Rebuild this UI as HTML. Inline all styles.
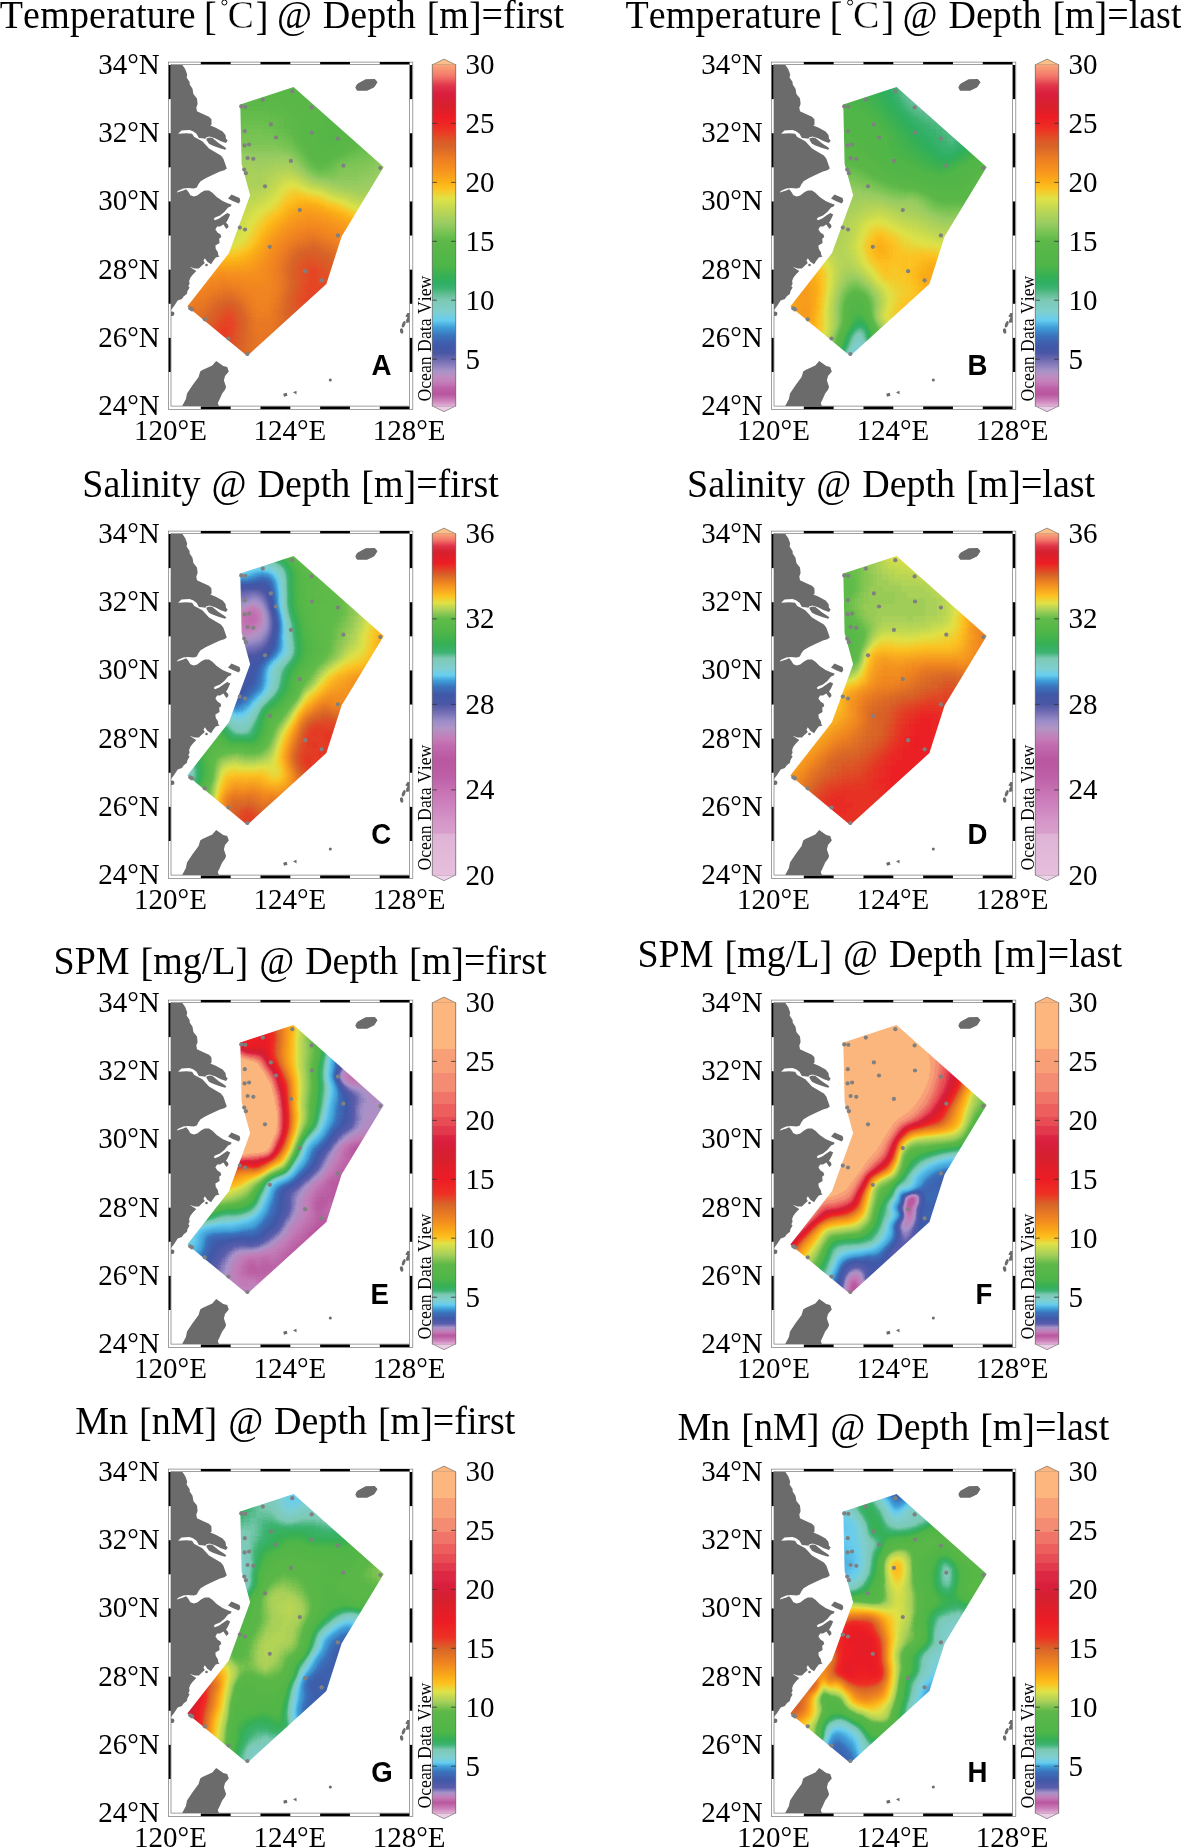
<!DOCTYPE html>
<html><head><meta charset="utf-8"><title>Figure</title>
<style>html,body{margin:0;padding:0;background:#fff}svg{display:block;opacity:.999}text{font-family:"Liberation Serif",serif;fill:#000;font-kerning:none}.b{font-family:"Liberation Sans",sans-serif;font-weight:bold}</style></head><body>
<svg width="1181" height="1847" viewBox="0 0 1181 1847">
<defs>
<linearGradient id="cbT" x1="0" y1="0" x2="0" y2="1"><stop offset="0.0000" stop-color="#f9a87a"/><stop offset="0.0345" stop-color="#f3766a"/><stop offset="0.0621" stop-color="#e0354a"/><stop offset="0.0862" stop-color="#d91e3e"/><stop offset="0.1207" stop-color="#d7202c"/><stop offset="0.1552" stop-color="#ed1c24"/><stop offset="0.1897" stop-color="#ee3124"/><stop offset="0.2241" stop-color="#dc5a26"/><stop offset="0.2414" stop-color="#d86428"/><stop offset="0.2759" stop-color="#ee7e22"/><stop offset="0.3103" stop-color="#f7931e"/><stop offset="0.3448" stop-color="#fbb017"/><stop offset="0.3621" stop-color="#fdc221"/><stop offset="0.3931" stop-color="#dfe247"/><stop offset="0.4310" stop-color="#b8d556"/><stop offset="0.4655" stop-color="#98cc62"/><stop offset="0.5000" stop-color="#6cc04f"/><stop offset="0.5172" stop-color="#5cb848"/><stop offset="0.5862" stop-color="#4fb648"/><stop offset="0.6207" stop-color="#35b055"/><stop offset="0.6379" stop-color="#2eaf63"/><stop offset="0.6552" stop-color="#3db372"/><stop offset="0.6724" stop-color="#62bd93"/><stop offset="0.6897" stop-color="#7cc9b4"/><stop offset="0.7241" stop-color="#7fcfd0"/><stop offset="0.7483" stop-color="#66cdf0"/><stop offset="0.7690" stop-color="#3f9fd8"/><stop offset="0.7931" stop-color="#3a74bd"/><stop offset="0.8103" stop-color="#3f62b0"/><stop offset="0.8276" stop-color="#4058a8"/><stop offset="0.8448" stop-color="#4a57a5"/><stop offset="0.8621" stop-color="#6a68b0"/><stop offset="0.8793" stop-color="#8a7dbd"/><stop offset="0.8966" stop-color="#a893c8"/><stop offset="0.9138" stop-color="#c08cc0"/><stop offset="0.9310" stop-color="#c47cb8"/><stop offset="0.9483" stop-color="#bd5fa8"/><stop offset="0.9655" stop-color="#b9579f"/><stop offset="0.9828" stop-color="#cc80ba"/><stop offset="1.0000" stop-color="#e0b0d5"/></linearGradient>
<linearGradient id="cbS" x1="0" y1="0" x2="0" y2="1"><stop offset="0.0000" stop-color="#f9a87a"/><stop offset="0.0190" stop-color="#f3766a"/><stop offset="0.0360" stop-color="#e0354a"/><stop offset="0.0540" stop-color="#d5202e"/><stop offset="0.0860" stop-color="#ed1c24"/><stop offset="0.1100" stop-color="#e04a25"/><stop offset="0.1220" stop-color="#d86428"/><stop offset="0.1480" stop-color="#f28a1f"/><stop offset="0.1830" stop-color="#fdc221"/><stop offset="0.2040" stop-color="#dfe247"/><stop offset="0.2240" stop-color="#a8d05a"/><stop offset="0.2480" stop-color="#62bc4a"/><stop offset="0.2890" stop-color="#4fb648"/><stop offset="0.3240" stop-color="#35b055"/><stop offset="0.3480" stop-color="#3db372"/><stop offset="0.3650" stop-color="#7cc9b4"/><stop offset="0.3950" stop-color="#7fcfd0"/><stop offset="0.4150" stop-color="#66cdf0"/><stop offset="0.4300" stop-color="#3f9fd8"/><stop offset="0.4480" stop-color="#3a74bd"/><stop offset="0.4710" stop-color="#4058a8"/><stop offset="0.4990" stop-color="#4a57a5"/><stop offset="0.5180" stop-color="#6a68b0"/><stop offset="0.5480" stop-color="#9a8cc8"/><stop offset="0.5710" stop-color="#b294c4"/><stop offset="0.6000" stop-color="#c47cb8"/><stop offset="0.6240" stop-color="#c068ae"/><stop offset="0.6650" stop-color="#b9579f"/><stop offset="0.7120" stop-color="#bd5fa8"/><stop offset="0.7500" stop-color="#c770b3"/><stop offset="0.7940" stop-color="#cd82bd"/><stop offset="0.8410" stop-color="#d596c8"/><stop offset="0.8770" stop-color="#d89fcc"/><stop offset="0.8800" stop-color="#dfb3d6"/><stop offset="1.0000" stop-color="#e6bfdd"/></linearGradient>
<linearGradient id="cbP" x1="0" y1="0" x2="0" y2="1"><stop offset="0.0000" stop-color="#fcb67e"/><stop offset="0.1370" stop-color="#fcb67e"/><stop offset="0.1370" stop-color="#f89f78"/><stop offset="0.2070" stop-color="#f89f78"/><stop offset="0.2070" stop-color="#f48c73"/><stop offset="0.2630" stop-color="#f48c73"/><stop offset="0.2630" stop-color="#f07468"/><stop offset="0.2980" stop-color="#f07468"/><stop offset="0.2980" stop-color="#ec5f5d"/><stop offset="0.3360" stop-color="#ec5f5d"/><stop offset="0.3360" stop-color="#e84d55"/><stop offset="0.3600" stop-color="#e84d55"/><stop offset="0.3600" stop-color="#e23a4c"/><stop offset="0.3860" stop-color="#e23a4c"/><stop offset="0.3870" stop-color="#dd2844"/><stop offset="0.4100" stop-color="#d91e3e"/><stop offset="0.4500" stop-color="#d5202e"/><stop offset="0.5170" stop-color="#ed1c24"/><stop offset="0.5600" stop-color="#ee3124"/><stop offset="0.5900" stop-color="#d86428"/><stop offset="0.6380" stop-color="#f28a1f"/><stop offset="0.6730" stop-color="#fbb017"/><stop offset="0.6890" stop-color="#fdc221"/><stop offset="0.7050" stop-color="#dfe247"/><stop offset="0.7370" stop-color="#a8d05a"/><stop offset="0.7670" stop-color="#5cb848"/><stop offset="0.8080" stop-color="#4fb648"/><stop offset="0.8310" stop-color="#35b055"/><stop offset="0.8430" stop-color="#3db372"/><stop offset="0.8550" stop-color="#7cc9b4"/><stop offset="0.8720" stop-color="#7fcfd0"/><stop offset="0.8840" stop-color="#66cdf0"/><stop offset="0.8960" stop-color="#3f9fd8"/><stop offset="0.9070" stop-color="#3a74bd"/><stop offset="0.9250" stop-color="#4058a8"/><stop offset="0.9400" stop-color="#5a5cac"/><stop offset="0.9510" stop-color="#a893c8"/><stop offset="0.9630" stop-color="#c47cb8"/><stop offset="0.9750" stop-color="#b9579f"/><stop offset="0.9890" stop-color="#cc80ba"/><stop offset="1.0000" stop-color="#e0b0d5"/></linearGradient>
<linearGradient id="cbM" x1="0" y1="0" x2="0" y2="1"><stop offset="0.0000" stop-color="#fcb67e"/><stop offset="0.0780" stop-color="#fcb67e"/><stop offset="0.0780" stop-color="#f89f78"/><stop offset="0.1370" stop-color="#f89f78"/><stop offset="0.1370" stop-color="#f48c73"/><stop offset="0.1780" stop-color="#f48c73"/><stop offset="0.1780" stop-color="#f07468"/><stop offset="0.2130" stop-color="#f07468"/><stop offset="0.2130" stop-color="#ec5f5d"/><stop offset="0.2420" stop-color="#ec5f5d"/><stop offset="0.2420" stop-color="#e84d55"/><stop offset="0.2680" stop-color="#e84d55"/><stop offset="0.2680" stop-color="#e23a4c"/><stop offset="0.2920" stop-color="#e23a4c"/><stop offset="0.2920" stop-color="#dd2844"/><stop offset="0.3150" stop-color="#dd2844"/><stop offset="0.3300" stop-color="#d91e3e"/><stop offset="0.3740" stop-color="#d5202e"/><stop offset="0.4380" stop-color="#ed1c24"/><stop offset="0.4850" stop-color="#ee3124"/><stop offset="0.5180" stop-color="#d86428"/><stop offset="0.5670" stop-color="#f28a1f"/><stop offset="0.6030" stop-color="#fbb017"/><stop offset="0.6200" stop-color="#fdc221"/><stop offset="0.6440" stop-color="#dfe247"/><stop offset="0.6730" stop-color="#a8d05a"/><stop offset="0.7020" stop-color="#5cb848"/><stop offset="0.7610" stop-color="#4fb648"/><stop offset="0.7840" stop-color="#35b055"/><stop offset="0.7990" stop-color="#3db372"/><stop offset="0.8140" stop-color="#7cc9b4"/><stop offset="0.8370" stop-color="#7fcfd0"/><stop offset="0.8520" stop-color="#66cdf0"/><stop offset="0.8630" stop-color="#3f9fd8"/><stop offset="0.8780" stop-color="#3a74bd"/><stop offset="0.9020" stop-color="#4058a8"/><stop offset="0.9250" stop-color="#5a5cac"/><stop offset="0.9400" stop-color="#a893c8"/><stop offset="0.9540" stop-color="#c47cb8"/><stop offset="0.9690" stop-color="#b9579f"/><stop offset="0.9860" stop-color="#cc80ba"/><stop offset="1.0000" stop-color="#e0b0d5"/></linearGradient>
<clipPath id="mapclip"><rect x="171.0" y="64.6" width="238.60" height="341.50"/></clipPath>
<clipPath id="dclip"><path d="M240.3,104.5 L293.6,87.1 L383.7,167.0 L341.6,236.5 L326.4,284.1 L247.2,356.0 L187.3,306.5 L228.9,253.2 L250.1,195.2 L241.6,163.9Z" /></clipPath>
<filter id="b2" x="-30%" y="-30%" width="160%" height="160%"><feGaussianBlur stdDeviation="2"/></filter>
<filter id="b3" x="-30%" y="-30%" width="160%" height="160%"><feGaussianBlur stdDeviation="3"/></filter>
<filter id="b4" x="-30%" y="-30%" width="160%" height="160%"><feGaussianBlur stdDeviation="4"/></filter>
<filter id="b5" x="-30%" y="-30%" width="160%" height="160%"><feGaussianBlur stdDeviation="5"/></filter>
<filter id="b6" x="-30%" y="-30%" width="160%" height="160%"><feGaussianBlur stdDeviation="6"/></filter>
<filter id="b8" x="-30%" y="-30%" width="160%" height="160%"><feGaussianBlur stdDeviation="8"/></filter>
<filter id="b10" x="-30%" y="-30%" width="160%" height="160%"><feGaussianBlur stdDeviation="10"/></filter>
<filter id="b12" x="-30%" y="-30%" width="160%" height="160%"><feGaussianBlur stdDeviation="12"/></filter>
<filter id="fT" color-interpolation-filters="sRGB" filterUnits="userSpaceOnUse" x="160" y="55" width="260" height="360"><feGaussianBlur stdDeviation="3.2"/><feComponentTransfer><feFuncR type="table" tableValues="0.878 0.856 0.833 0.81 0.788 0.766 0.745 0.726 0.731 0.735 0.74 0.746 0.754 0.762 0.768 0.763 0.759 0.754 0.732 0.705 0.678 0.648 0.614 0.58 0.546 0.51 0.473 0.437 0.401 0.364 0.328 0.291 0.279 0.268 0.256 0.25 0.249 0.248 0.247 0.241 0.235 0.23 0.23 0.234 0.238 0.242 0.246 0.276 0.313 0.35 0.387 0.413 0.434 0.454 0.474 0.495 0.497 0.495 0.493 0.492 0.49 0.488 0.486 0.459 0.429 0.4 0.364 0.322 0.28 0.239 0.222 0.205 0.187 0.185 0.193 0.201 0.21 0.225 0.239 0.254 0.269 0.284 0.299 0.311 0.314 0.318 0.322 0.325 0.329 0.333 0.337 0.34 0.344 0.348 0.351 0.355 0.359 0.369 0.387 0.405 0.424 0.449 0.474 0.499 0.524 0.549 0.574 0.598 0.616 0.634 0.653 0.671 0.689 0.707 0.726 0.746 0.766 0.786 0.806 0.827 0.847 0.867 0.886 0.905 0.924 0.943 0.962 0.981 0.991 0.989 0.987 0.984 0.982 0.98 0.978 0.975 0.973 0.971 0.968 0.963 0.958 0.953 0.948 0.943 0.938 0.931 0.919 0.906 0.894 0.881 0.869 0.856 0.848 0.853 0.857 0.862 0.871 0.881 0.892 0.902 0.912 0.922 0.933 0.933 0.932 0.932 0.931 0.931 0.93 0.929 0.916 0.904 0.891 0.879 0.866 0.854 0.843 0.844 0.846 0.847 0.848 0.849 0.85 0.852 0.858 0.864 0.869 0.875 0.884 0.898 0.911 0.925 0.938 0.952 0.956 0.959 0.963 0.966 0.97 0.973 0.976"/><feFuncG type="table" tableValues="0.69 0.636 0.581 0.526 0.476 0.43 0.383 0.342 0.351 0.36 0.369 0.394 0.427 0.46 0.49 0.508 0.526 0.545 0.555 0.563 0.571 0.569 0.544 0.519 0.494 0.47 0.446 0.422 0.4 0.381 0.361 0.342 0.342 0.343 0.345 0.351 0.362 0.374 0.386 0.406 0.427 0.447 0.477 0.512 0.546 0.581 0.616 0.658 0.702 0.745 0.789 0.805 0.807 0.808 0.81 0.811 0.809 0.806 0.802 0.799 0.795 0.792 0.788 0.776 0.762 0.748 0.736 0.724 0.713 0.702 0.697 0.693 0.688 0.687 0.688 0.689 0.691 0.694 0.697 0.701 0.704 0.708 0.711 0.714 0.714 0.715 0.716 0.716 0.717 0.717 0.718 0.718 0.719 0.72 0.72 0.721 0.721 0.726 0.735 0.744 0.753 0.76 0.767 0.773 0.78 0.787 0.794 0.801 0.806 0.811 0.816 0.821 0.826 0.831 0.837 0.843 0.85 0.857 0.864 0.87 0.877 0.884 0.874 0.854 0.833 0.813 0.793 0.773 0.752 0.732 0.711 0.691 0.674 0.658 0.641 0.625 0.608 0.592 0.576 0.564 0.552 0.54 0.528 0.516 0.504 0.492 0.477 0.462 0.447 0.432 0.418 0.403 0.389 0.378 0.366 0.355 0.334 0.31 0.287 0.264 0.24 0.217 0.194 0.181 0.169 0.157 0.145 0.133 0.121 0.11 0.112 0.114 0.117 0.119 0.121 0.124 0.125 0.124 0.123 0.122 0.121 0.12 0.119 0.122 0.141 0.16 0.178 0.197 0.227 0.273 0.319 0.366 0.412 0.458 0.488 0.517 0.545 0.574 0.602 0.63 0.659"/><feFuncB type="table" tableValues="0.835 0.805 0.774 0.743 0.712 0.682 0.651 0.625 0.635 0.645 0.655 0.671 0.689 0.707 0.723 0.733 0.742 0.751 0.76 0.769 0.778 0.78 0.768 0.755 0.743 0.728 0.714 0.699 0.685 0.673 0.66 0.647 0.65 0.654 0.657 0.664 0.673 0.682 0.691 0.706 0.721 0.736 0.755 0.777 0.799 0.821 0.843 0.865 0.888 0.911 0.933 0.924 0.898 0.872 0.846 0.82 0.803 0.787 0.771 0.755 0.739 0.723 0.707 0.671 0.633 0.596 0.558 0.521 0.483 0.446 0.429 0.412 0.395 0.379 0.363 0.347 0.332 0.325 0.318 0.31 0.303 0.295 0.288 0.282 0.282 0.282 0.282 0.282 0.282 0.282 0.282 0.282 0.282 0.282 0.282 0.282 0.282 0.286 0.294 0.302 0.31 0.321 0.331 0.342 0.353 0.364 0.375 0.384 0.377 0.37 0.363 0.356 0.349 0.343 0.336 0.328 0.32 0.312 0.305 0.297 0.289 0.281 0.264 0.24 0.216 0.192 0.167 0.143 0.125 0.113 0.102 0.091 0.094 0.098 0.102 0.106 0.11 0.114 0.118 0.12 0.122 0.125 0.127 0.129 0.131 0.134 0.137 0.141 0.144 0.148 0.151 0.154 0.156 0.154 0.152 0.149 0.148 0.147 0.146 0.145 0.144 0.142 0.141 0.141 0.141 0.141 0.141 0.141 0.141 0.141 0.146 0.15 0.155 0.16 0.164 0.169 0.174 0.184 0.194 0.205 0.215 0.225 0.235 0.245 0.255 0.265 0.275 0.284 0.3 0.322 0.345 0.368 0.391 0.413 0.424 0.433 0.442 0.451 0.46 0.469 0.478"/></feComponentTransfer></filter><filter id="fS" color-interpolation-filters="sRGB" filterUnits="userSpaceOnUse" x="160" y="55" width="260" height="360"><feGaussianBlur stdDeviation="3.2"/><feComponentTransfer><feFuncR type="table" tableValues="0.78 0.777 0.773 0.769 0.765 0.761 0.757 0.753 0.749 0.746 0.742 0.74 0.739 0.738 0.736 0.735 0.734 0.733 0.731 0.73 0.729 0.728 0.726 0.726 0.729 0.731 0.734 0.736 0.739 0.741 0.744 0.746 0.749 0.751 0.754 0.756 0.759 0.761 0.764 0.766 0.769 0.759 0.75 0.741 0.732 0.723 0.714 0.705 0.694 0.679 0.663 0.648 0.633 0.617 0.601 0.577 0.554 0.53 0.507 0.483 0.46 0.436 0.412 0.388 0.363 0.338 0.313 0.29 0.285 0.279 0.274 0.269 0.264 0.258 0.253 0.249 0.245 0.241 0.237 0.233 0.229 0.229 0.233 0.238 0.242 0.246 0.273 0.311 0.349 0.387 0.412 0.431 0.449 0.467 0.486 0.498 0.496 0.495 0.493 0.492 0.49 0.489 0.487 0.468 0.414 0.359 0.305 0.25 0.235 0.23 0.225 0.221 0.216 0.211 0.212 0.223 0.234 0.245 0.256 0.267 0.278 0.289 0.3 0.31 0.317 0.324 0.331 0.338 0.344 0.351 0.358 0.365 0.372 0.378 0.39 0.433 0.476 0.519 0.562 0.604 0.647 0.688 0.729 0.769 0.81 0.85 0.883 0.904 0.925 0.946 0.967 0.988 0.988 0.984 0.979 0.975 0.97 0.965 0.961 0.956 0.951 0.942 0.927 0.913 0.898 0.883 0.869 0.854 0.852 0.862 0.872 0.881 0.889 0.897 0.905 0.913 0.921 0.929 0.919 0.908 0.897 0.886 0.875 0.864 0.853 0.842 0.839 0.848 0.857 0.866 0.875 0.888 0.905 0.921 0.938 0.953 0.958 0.963 0.967 0.972 0.976"/><feFuncG type="table" tableValues="0.439 0.433 0.426 0.419 0.413 0.406 0.4 0.393 0.387 0.38 0.373 0.37 0.368 0.365 0.363 0.36 0.358 0.355 0.353 0.35 0.348 0.345 0.343 0.343 0.349 0.355 0.362 0.368 0.374 0.38 0.386 0.392 0.398 0.404 0.413 0.425 0.437 0.45 0.462 0.474 0.486 0.498 0.511 0.523 0.535 0.547 0.559 0.571 0.579 0.574 0.569 0.564 0.559 0.553 0.547 0.529 0.511 0.494 0.476 0.458 0.441 0.423 0.406 0.393 0.38 0.367 0.353 0.341 0.342 0.342 0.343 0.343 0.344 0.344 0.345 0.356 0.374 0.392 0.41 0.427 0.445 0.471 0.506 0.542 0.577 0.612 0.654 0.699 0.744 0.789 0.805 0.806 0.808 0.809 0.811 0.811 0.808 0.805 0.802 0.799 0.796 0.793 0.79 0.782 0.763 0.744 0.725 0.706 0.7 0.699 0.697 0.695 0.693 0.691 0.691 0.694 0.696 0.699 0.701 0.704 0.706 0.709 0.711 0.714 0.716 0.718 0.72 0.722 0.725 0.727 0.729 0.731 0.733 0.735 0.739 0.751 0.763 0.776 0.788 0.8 0.812 0.825 0.839 0.852 0.865 0.878 0.877 0.855 0.832 0.81 0.788 0.765 0.742 0.718 0.695 0.671 0.648 0.624 0.601 0.577 0.554 0.531 0.51 0.488 0.467 0.445 0.424 0.402 0.375 0.343 0.311 0.281 0.253 0.224 0.196 0.168 0.14 0.112 0.112 0.113 0.115 0.117 0.119 0.121 0.123 0.124 0.132 0.15 0.167 0.184 0.201 0.242 0.298 0.354 0.41 0.465 0.504 0.543 0.581 0.62 0.659"/><feFuncB type="table" tableValues="0.702 0.698 0.693 0.689 0.685 0.681 0.676 0.672 0.668 0.664 0.659 0.656 0.654 0.651 0.648 0.645 0.642 0.639 0.637 0.634 0.631 0.628 0.625 0.625 0.631 0.636 0.641 0.647 0.652 0.658 0.663 0.668 0.674 0.679 0.685 0.691 0.697 0.703 0.709 0.715 0.722 0.728 0.734 0.74 0.746 0.752 0.758 0.764 0.769 0.772 0.774 0.777 0.78 0.782 0.783 0.771 0.759 0.747 0.736 0.724 0.712 0.7 0.689 0.681 0.672 0.664 0.655 0.647 0.649 0.65 0.652 0.653 0.655 0.657 0.658 0.667 0.68 0.694 0.707 0.721 0.734 0.751 0.774 0.796 0.818 0.84 0.863 0.886 0.91 0.933 0.925 0.902 0.878 0.855 0.831 0.811 0.797 0.784 0.77 0.756 0.742 0.729 0.715 0.687 0.63 0.573 0.516 0.458 0.433 0.415 0.397 0.38 0.362 0.344 0.331 0.326 0.32 0.315 0.309 0.304 0.298 0.293 0.287 0.282 0.283 0.284 0.285 0.285 0.286 0.287 0.287 0.288 0.289 0.29 0.292 0.301 0.311 0.321 0.331 0.341 0.35 0.343 0.329 0.315 0.301 0.287 0.268 0.241 0.215 0.188 0.161 0.135 0.129 0.128 0.127 0.126 0.125 0.125 0.124 0.123 0.122 0.124 0.129 0.134 0.139 0.144 0.149 0.154 0.155 0.151 0.148 0.145 0.144 0.144 0.143 0.142 0.142 0.141 0.145 0.15 0.155 0.159 0.164 0.168 0.173 0.178 0.19 0.212 0.235 0.258 0.281 0.307 0.334 0.362 0.39 0.417 0.429 0.441 0.454 0.466 0.478"/></feComponentTransfer></filter><filter id="fP" color-interpolation-filters="sRGB" filterUnits="userSpaceOnUse" x="160" y="55" width="260" height="360"><feGaussianBlur stdDeviation="3.2"/><feComponentTransfer><feFuncR type="table" tableValues="0.878 0.862 0.846 0.83 0.814 0.799 0.787 0.775 0.763 0.751 0.739 0.727 0.732 0.74 0.748 0.756 0.763 0.762 0.742 0.723 0.703 0.683 0.663 0.608 0.543 0.478 0.413 0.352 0.336 0.32 0.304 0.288 0.272 0.256 0.249 0.245 0.242 0.238 0.235 0.232 0.228 0.231 0.236 0.24 0.245 0.255 0.268 0.282 0.296 0.31 0.324 0.337 0.351 0.365 0.379 0.392 0.409 0.431 0.452 0.473 0.495 0.497 0.495 0.493 0.491 0.489 0.487 0.471 0.427 0.383 0.338 0.294 0.249 0.235 0.229 0.224 0.218 0.212 0.214 0.239 0.265 0.29 0.311 0.319 0.326 0.333 0.34 0.347 0.354 0.364 0.391 0.417 0.444 0.471 0.498 0.525 0.552 0.578 0.605 0.632 0.659 0.678 0.698 0.717 0.736 0.756 0.775 0.795 0.814 0.834 0.853 0.872 0.893 0.915 0.936 0.957 0.978 0.992 0.99 0.989 0.987 0.986 0.985 0.982 0.979 0.975 0.972 0.969 0.966 0.963 0.96 0.956 0.953 0.95 0.943 0.934 0.925 0.915 0.906 0.897 0.888 0.879 0.869 0.86 0.851 0.858 0.876 0.895 0.914 0.933 0.933 0.932 0.932 0.931 0.93 0.93 0.923 0.91 0.896 0.883 0.869 0.856 0.842 0.837 0.841 0.845 0.848 0.853 0.86 0.869 0.886 0.886 0.91 0.91 0.91 0.925 0.925 0.925 0.941 0.941 0.941 0.957 0.957 0.957 0.957 0.973 0.973 0.973 0.973 0.988 0.988 0.988 0.988 0.988 0.988 0.988 0.988 0.988 0.988 0.988 0.988"/><feFuncG type="table" tableValues="0.69 0.652 0.613 0.575 0.536 0.499 0.473 0.447 0.422 0.396 0.37 0.344 0.364 0.391 0.417 0.443 0.469 0.492 0.508 0.524 0.54 0.557 0.573 0.541 0.495 0.449 0.403 0.361 0.358 0.356 0.353 0.351 0.348 0.346 0.356 0.372 0.388 0.403 0.419 0.435 0.451 0.486 0.526 0.566 0.606 0.633 0.649 0.665 0.681 0.697 0.714 0.73 0.746 0.762 0.779 0.795 0.805 0.806 0.808 0.81 0.812 0.809 0.805 0.801 0.798 0.794 0.791 0.783 0.768 0.752 0.736 0.721 0.705 0.7 0.698 0.696 0.694 0.692 0.692 0.697 0.703 0.709 0.714 0.715 0.716 0.717 0.718 0.719 0.721 0.723 0.731 0.739 0.748 0.756 0.765 0.773 0.782 0.79 0.799 0.807 0.816 0.822 0.828 0.835 0.841 0.847 0.854 0.86 0.867 0.873 0.879 0.886 0.866 0.844 0.821 0.798 0.776 0.757 0.744 0.731 0.718 0.706 0.693 0.68 0.666 0.653 0.64 0.626 0.613 0.599 0.586 0.572 0.559 0.546 0.532 0.519 0.505 0.492 0.479 0.465 0.452 0.438 0.425 0.412 0.398 0.368 0.324 0.28 0.236 0.193 0.18 0.167 0.155 0.142 0.129 0.117 0.111 0.113 0.115 0.118 0.12 0.122 0.124 0.125 0.123 0.121 0.119 0.123 0.14 0.164 0.227 0.227 0.302 0.302 0.302 0.373 0.373 0.373 0.455 0.455 0.455 0.549 0.549 0.549 0.549 0.624 0.624 0.624 0.624 0.714 0.714 0.714 0.714 0.714 0.714 0.714 0.714 0.714 0.714 0.714 0.714"/><feFuncB type="table" tableValues="0.835 0.814 0.792 0.77 0.749 0.728 0.711 0.693 0.676 0.659 0.642 0.625 0.639 0.657 0.675 0.692 0.71 0.725 0.737 0.748 0.759 0.771 0.782 0.766 0.743 0.719 0.696 0.674 0.672 0.669 0.667 0.665 0.662 0.66 0.667 0.679 0.691 0.703 0.715 0.726 0.738 0.761 0.786 0.811 0.836 0.852 0.86 0.869 0.877 0.886 0.894 0.903 0.911 0.92 0.928 0.936 0.929 0.902 0.874 0.847 0.82 0.801 0.785 0.768 0.751 0.734 0.717 0.69 0.644 0.597 0.551 0.504 0.457 0.431 0.411 0.39 0.37 0.349 0.33 0.318 0.305 0.292 0.282 0.282 0.282 0.282 0.282 0.282 0.282 0.283 0.289 0.296 0.302 0.308 0.315 0.321 0.328 0.334 0.34 0.347 0.353 0.346 0.34 0.333 0.326 0.319 0.313 0.306 0.299 0.293 0.286 0.279 0.255 0.228 0.201 0.174 0.147 0.127 0.12 0.113 0.106 0.099 0.092 0.092 0.095 0.098 0.101 0.104 0.107 0.109 0.112 0.115 0.118 0.121 0.124 0.127 0.13 0.133 0.136 0.14 0.143 0.146 0.149 0.152 0.155 0.155 0.152 0.148 0.145 0.141 0.141 0.141 0.141 0.141 0.141 0.141 0.144 0.149 0.155 0.161 0.166 0.172 0.178 0.188 0.203 0.218 0.233 0.247 0.257 0.27 0.298 0.298 0.333 0.333 0.333 0.365 0.365 0.365 0.408 0.408 0.408 0.451 0.451 0.451 0.451 0.471 0.471 0.471 0.471 0.494 0.494 0.494 0.494 0.494 0.494 0.494 0.494 0.494 0.494 0.494 0.494"/></feComponentTransfer></filter><filter id="fM" color-interpolation-filters="sRGB" filterUnits="userSpaceOnUse" x="160" y="55" width="260" height="360"><feGaussianBlur stdDeviation="3.2"/><feComponentTransfer><feFuncR type="table" tableValues="0.878 0.863 0.847 0.832 0.816 0.8 0.788 0.776 0.764 0.751 0.739 0.727 0.732 0.74 0.747 0.755 0.762 0.766 0.745 0.725 0.704 0.684 0.663 0.605 0.535 0.465 0.395 0.347 0.332 0.317 0.302 0.286 0.271 0.256 0.249 0.246 0.243 0.241 0.238 0.235 0.232 0.229 0.229 0.232 0.236 0.239 0.241 0.243 0.245 0.252 0.275 0.297 0.32 0.342 0.365 0.387 0.408 0.425 0.443 0.461 0.478 0.496 0.497 0.495 0.494 0.493 0.491 0.49 0.488 0.486 0.43 0.374 0.318 0.261 0.235 0.228 0.221 0.213 0.213 0.234 0.256 0.277 0.299 0.312 0.316 0.32 0.324 0.329 0.333 0.337 0.342 0.346 0.35 0.355 0.359 0.395 0.448 0.501 0.553 0.606 0.659 0.678 0.698 0.717 0.736 0.756 0.775 0.795 0.814 0.834 0.853 0.872 0.887 0.901 0.915 0.929 0.944 0.958 0.972 0.986 0.991 0.99 0.989 0.987 0.985 0.982 0.978 0.974 0.97 0.966 0.962 0.958 0.954 0.95 0.943 0.934 0.925 0.915 0.906 0.897 0.888 0.879 0.869 0.86 0.851 0.858 0.876 0.895 0.914 0.933 0.933 0.932 0.932 0.931 0.93 0.93 0.923 0.909 0.894 0.88 0.866 0.852 0.837 0.838 0.842 0.845 0.849 0.854 0.865 0.867 0.867 0.886 0.886 0.91 0.91 0.91 0.925 0.925 0.925 0.941 0.941 0.941 0.957 0.957 0.957 0.973 0.973 0.973 0.973 0.988 0.988 0.988 0.988 0.988 0.988 0.988 0.988 0.988 0.988 0.988 0.988"/><feFuncG type="table" tableValues="0.69 0.653 0.615 0.578 0.54 0.503 0.476 0.45 0.423 0.397 0.37 0.344 0.364 0.389 0.414 0.439 0.465 0.489 0.505 0.522 0.539 0.556 0.573 0.538 0.489 0.44 0.391 0.36 0.358 0.355 0.353 0.351 0.348 0.346 0.354 0.367 0.38 0.393 0.407 0.42 0.433 0.446 0.466 0.498 0.53 0.555 0.573 0.591 0.61 0.63 0.656 0.683 0.709 0.736 0.763 0.789 0.805 0.806 0.807 0.809 0.81 0.812 0.809 0.807 0.804 0.801 0.798 0.795 0.792 0.788 0.769 0.749 0.729 0.71 0.7 0.698 0.695 0.692 0.691 0.696 0.701 0.706 0.711 0.714 0.715 0.715 0.716 0.717 0.717 0.718 0.719 0.719 0.72 0.721 0.721 0.732 0.749 0.766 0.782 0.799 0.816 0.822 0.828 0.835 0.841 0.847 0.854 0.86 0.867 0.873 0.879 0.886 0.873 0.858 0.843 0.828 0.813 0.798 0.783 0.767 0.754 0.742 0.73 0.714 0.698 0.681 0.664 0.647 0.631 0.614 0.597 0.58 0.564 0.547 0.532 0.519 0.505 0.492 0.479 0.465 0.452 0.438 0.425 0.412 0.398 0.368 0.324 0.281 0.237 0.193 0.18 0.167 0.155 0.142 0.129 0.117 0.111 0.113 0.116 0.118 0.12 0.123 0.125 0.124 0.122 0.121 0.119 0.126 0.152 0.157 0.157 0.227 0.227 0.302 0.302 0.302 0.373 0.373 0.373 0.455 0.455 0.455 0.549 0.549 0.549 0.624 0.624 0.624 0.624 0.714 0.714 0.714 0.714 0.714 0.714 0.714 0.714 0.714 0.714 0.714 0.714"/><feFuncB type="table" tableValues="0.835 0.814 0.793 0.772 0.751 0.73 0.712 0.695 0.678 0.66 0.643 0.625 0.639 0.656 0.673 0.69 0.707 0.723 0.735 0.747 0.758 0.77 0.782 0.765 0.74 0.715 0.69 0.674 0.671 0.669 0.667 0.664 0.662 0.66 0.665 0.675 0.685 0.695 0.705 0.715 0.725 0.735 0.748 0.768 0.789 0.804 0.815 0.827 0.838 0.85 0.864 0.878 0.892 0.906 0.92 0.933 0.931 0.909 0.886 0.863 0.841 0.818 0.804 0.791 0.778 0.766 0.753 0.739 0.722 0.706 0.647 0.588 0.529 0.47 0.431 0.405 0.379 0.354 0.331 0.32 0.309 0.299 0.288 0.282 0.282 0.282 0.282 0.282 0.282 0.282 0.282 0.282 0.282 0.282 0.282 0.291 0.303 0.315 0.328 0.34 0.353 0.346 0.34 0.333 0.326 0.319 0.313 0.306 0.299 0.293 0.286 0.279 0.263 0.245 0.227 0.209 0.191 0.173 0.155 0.137 0.126 0.119 0.112 0.104 0.094 0.092 0.096 0.099 0.103 0.106 0.11 0.113 0.117 0.12 0.124 0.127 0.13 0.133 0.136 0.14 0.143 0.146 0.149 0.152 0.155 0.155 0.152 0.148 0.145 0.141 0.141 0.141 0.141 0.141 0.141 0.141 0.144 0.15 0.156 0.162 0.168 0.174 0.18 0.192 0.206 0.22 0.234 0.248 0.264 0.267 0.267 0.298 0.298 0.333 0.333 0.333 0.365 0.365 0.365 0.408 0.408 0.408 0.451 0.451 0.451 0.471 0.471 0.471 0.471 0.494 0.494 0.494 0.494 0.494 0.494 0.494 0.494 0.494 0.494 0.494 0.494"/></feComponentTransfer></filter>
<g id="frame"><rect x="168.4" y="62.1" width="244.40" height="347.30" fill="#fff" stroke="#777" stroke-width="0.7"/>
<rect x="200.82" y="62.00" width="29.83" height="2.80" fill="#000"/>
<rect x="200.82" y="406.3" width="29.83" height="2.80" fill="#000"/>
<rect x="260.48" y="62.00" width="29.82" height="2.80" fill="#000"/>
<rect x="260.48" y="406.3" width="29.82" height="2.80" fill="#000"/>
<rect x="320.12" y="62.00" width="29.83" height="2.80" fill="#000"/>
<rect x="320.12" y="406.3" width="29.83" height="2.80" fill="#000"/>
<rect x="379.78" y="62.00" width="29.82" height="2.80" fill="#000"/>
<rect x="379.78" y="406.3" width="29.82" height="2.80" fill="#000"/>
<rect x="168.70000000000002" y="65.00" width="2.10" height="34.11" fill="#000"/>
<rect x="409.50" y="65.00" width="2.70" height="34.11" fill="#000"/>
<rect x="168.70000000000002" y="133.22" width="2.10" height="34.11" fill="#000"/>
<rect x="409.50" y="133.22" width="2.70" height="34.11" fill="#000"/>
<rect x="168.70000000000002" y="201.44" width="2.10" height="34.11" fill="#000"/>
<rect x="409.50" y="201.44" width="2.70" height="34.11" fill="#000"/>
<rect x="168.70000000000002" y="269.66" width="2.10" height="34.11" fill="#000"/>
<rect x="409.50" y="269.66" width="2.70" height="34.11" fill="#000"/>
<rect x="168.70000000000002" y="337.88" width="2.10" height="34.11" fill="#000"/>
<rect x="409.50" y="337.88" width="2.70" height="34.11" fill="#000"/>
<rect x="171.0" y="64.6" width="238.60" height="341.50" fill="#fff" stroke="#777" stroke-width="0.7"/></g>
<g id="land" clip-path="url(#mapclip)"><path d="M171.0,65.0 L182.4,65.1 L185.3,69.3 L187.2,74.4 L186.6,77.4 L189.6,82.0 L189.7,84.6 L192.5,88.8 L193.4,93.9 L197.0,98.5 L197.6,104.0 L196.3,107.4 L197.0,111.2 L202.3,113.8 L209.0,116.7 L211.4,119.3 L211.6,124.4 L210.3,125.6 L215.8,127.7 L222.6,131.6 L225.5,134.9 L226.0,138.7 L227.7,140.4 L226.0,143.0 L220.9,141.3 L215.0,138.3 L209.5,136.5 L206.0,137.6 L205.6,138.7 L202.0,138.3 L198.9,137.9 L196.5,133.8 L193.0,131.2 L189.5,130.0 L185.0,130.2 L181.5,130.5 L178.5,133.2 L178.6,133.8 L186.2,133.3 L192.1,133.7 L194.2,137.1 L197.2,138.4 L202.3,141.3 L205.6,144.7 L209.0,148.6 L215.8,152.4 L220.9,155.4 L223.4,158.8 L225.5,164.7 L226.8,168.5 L224.3,170.2 L220.0,171.5 L212.4,174.9 L205.6,178.3 L200.6,181.2 L198.4,184.2 L196.8,187.6 L193.8,188.4 L187.9,188.0 L183.2,188.4 L177.7,191.0 L176.9,193.1 L177.7,192.2 L183.2,190.5 L186.2,189.3 L188.3,191.8 L190.4,195.2 L193.8,196.5 L197.2,195.6 L201.4,192.2 L204.8,190.5 L209.0,190.5 L212.4,192.7 L216.7,196.9 L222.6,201.1 L227.7,203.2 L231.5,204.5 L231.0,206.2 L228.1,207.5 L224.3,212.1 L220.0,215.5 L215.0,217.6 L213.7,218.9 L215.0,220.2 L219.2,218.5 L223.4,215.5 L227.2,213.0 L230.2,214.5 L228.1,219.3 L226.0,222.7 L228.1,224.8 L228.5,226.9 L226.4,229.1 L224.7,226.5 L223.4,224.4 L220.0,226.5 L217.1,226.5 L215.4,229.5 L217.5,232.4 L220.5,234.6 L221.3,237.1 L219.2,238.8 L219.6,243.0 L217.5,244.3 L215.4,245.6 L215.8,249.0 L217.9,252.3 L218.3,255.3 L219.6,256.4 L215.8,257.4 L213.3,260.8 L211.1,264.2 L207.3,261.7 L204.8,258.3 L203.5,260.8 L204.8,262.9 L201.4,265.9 L198.9,268.4 L194.6,268.4 L189.6,266.7 L194.6,270.1 L196.3,271.0 L192.9,274.4 L190.4,277.7 L189.1,281.1 L189.6,283.7 L188.3,286.2 L189.6,287.5 L187.4,291.3 L187.0,293.8 L183.6,296.4 L181.9,298.9 L177.7,300.6 L174.3,305.7 L171.0,310.0Z" fill="#6b6b6b"/>
<path d="M206.5,138.6 L209.5,137.4 L212.4,137.9 L219.2,143.4 L224.3,146.8 L226.4,148.5 L225.1,149.8 L219.2,148.1 L212.4,145.5 L209.0,143.8 L206.5,140.0Z" fill="#6b6b6b"/>
<path d="M231.5,194.6 L239.6,198.1 L240.3,201.1 L238.8,203.6 L232.7,201.0 L228.0,198.5Z" fill="#6b6b6b"/>
<path d="M216.2,361.1 L223.3,366.0 L227.2,367.1 L228.8,371.5 L225.0,376.0 L223.9,380.4 L226.1,387.0 L225.0,389.7 L222.2,393.6 L219.5,399.6 L217.8,402.9 L218.9,406.2 L182.1,406.2 L185.9,399.1 L187.0,393.6 L192.5,385.3 L198.6,377.1 L200.2,371.5 L202.4,369.9 L212.3,365.5Z" fill="#6b6b6b"/>
<path d="M355.8,87.6 L357.4,84.3 L365.5,79.8 L374.9,79.5 L377,82.2 L374,86.9 L367.2,90.2 L357.2,90.2Z" fill="#6b6b6b" stroke="#6b6b6b" stroke-width="1" stroke-linejoin="round"/>
<circle cx="172.2" cy="313.8" r="2.2" fill="#6b6b6b"/>
<circle cx="206.5" cy="265" r="1.3" fill="#6b6b6b"/>
<circle cx="330.3" cy="380.1" r="1.5" fill="#6b6b6b"/>
<rect x="283.5" y="393.3" width="3.6" height="3" fill="#6b6b6b" transform="rotate(-15 285 394.6)"/>
<path d="M293,392.3 L296.5,390.8 L296.5,394.5Z" fill="#6b6b6b"/>
<path d="M405.3,316.5 L407.4,313 L409.8,313 L409.8,322.3 L406.3,323 L406,320.3 L407.5,317.3Z" fill="#6b6b6b"/>
<ellipse cx="403.7" cy="324.3" rx="1.6" ry="3.4" transform="rotate(20 403.7 324.3)" fill="#6b6b6b"/>
<ellipse cx="401.6" cy="331" rx="1.7" ry="2.8" transform="rotate(-10 401.6 331)" fill="#6b6b6b"/></g>
<g id="dots"><g fill="#808080"><circle cx="241.2" cy="106.4" r="2.1"/><circle cx="245.3" cy="106.8" r="2.1"/><circle cx="262.8" cy="99.6" r="2.1"/><circle cx="292.3" cy="91.2" r="2.1"/><circle cx="311.6" cy="107.4" r="2.1"/><circle cx="244.8" cy="131.2" r="2.1"/><circle cx="270.9" cy="124.4" r="2.1"/><circle cx="276" cy="137.5" r="2.1"/><circle cx="312" cy="132.5" r="2.1"/><circle cx="337.9" cy="138.6" r="2.1"/><circle cx="244.6" cy="145.4" r="2.1"/><circle cx="249.1" cy="144.5" r="2.1"/><circle cx="247.6" cy="158" r="2.1"/><circle cx="253.3" cy="158.8" r="2.1"/><circle cx="290.9" cy="160.9" r="2.1"/><circle cx="343.3" cy="165.7" r="2.1"/><circle cx="380.3" cy="168.1" r="2.1"/><circle cx="244.2" cy="169.6" r="2.1"/><circle cx="245.9" cy="173.2" r="2.1"/><circle cx="265" cy="186.3" r="2.1"/><circle cx="299.8" cy="210.1" r="2.1"/><circle cx="239.8" cy="227.6" r="2.1"/><circle cx="245" cy="229.5" r="2.1"/><circle cx="269.8" cy="246.8" r="2.1"/><circle cx="337.9" cy="235.4" r="2.1"/><circle cx="305.1" cy="271.2" r="2.1"/><circle cx="321.6" cy="280.3" r="2.1"/><circle cx="190.3" cy="308.3" r="2.1"/><circle cx="192" cy="309.4" r="2.1"/><circle cx="204.8" cy="319.3" r="2.1"/><circle cx="228.5" cy="338.5" r="2.1"/><circle cx="247.4" cy="354" r="2.1"/></g></g>
<g id="axl"><text transform="translate(159.8,74.0) scale(1,1.04)" font-size="29" text-anchor="end">34°N</text>
<text transform="translate(159.8,142.2) scale(1,1.04)" font-size="29" text-anchor="end">32°N</text>
<text transform="translate(159.8,210.4) scale(1,1.04)" font-size="29" text-anchor="end">30°N</text>
<text transform="translate(159.8,278.7) scale(1,1.04)" font-size="29" text-anchor="end">28°N</text>
<text transform="translate(159.8,346.9) scale(1,1.04)" font-size="29" text-anchor="end">26°N</text>
<text transform="translate(159.8,415.1) scale(1,1.04)" font-size="29" text-anchor="end">24°N</text>
<text transform="translate(170.5,439.8) scale(1,1.04)" font-size="29" text-anchor="middle">120°E</text>
<text transform="translate(289.8,439.8) scale(1,1.04)" font-size="29" text-anchor="middle">124°E</text>
<text transform="translate(409.1,439.8) scale(1,1.04)" font-size="29" text-anchor="middle">128°E</text></g>
</defs>
<rect width="1181" height="1847" fill="#fff"/>
<g transform="translate(0.0,0.0)">
<use href="#frame"/>
<g clip-path="url(#dclip)"><g filter="url(#fT)"><rect x="160" y="55" width="260" height="360" fill="#9f9f9f"/><path fill="#717171" d="M325.3 129.1h6.0v6.0h-6.0zM325.3 135.1h12.0v6.0h-12.0zM325.3 141.1h6.0v6.0h-6.0z"/><path fill="#727272" d="M325.3 123.1h18.0v6.0h-18.0zM319.3 129.1h6.0v6.0h-6.0zM331.3 129.1h12.0v6.0h-12.0zM319.3 135.1h6.0v6.0h-6.0zM319.3 141.1h6.0v6.0h-6.0zM331.3 141.1h6.0v6.0h-6.0z"/><path fill="#737373" d="M331.3 105.1h6.0v6.0h-6.0zM331.3 111.1h12.0v6.0h-12.0zM325.3 117.1h24.0v6.0h-24.0zM319.3 123.1h6.0v6.0h-6.0zM343.3 123.1h6.0v6.0h-6.0zM313.3 129.1h6.0v6.0h-6.0zM313.3 135.1h6.0v6.0h-6.0zM337.3 135.1h6.0v6.0h-6.0zM313.3 141.1h6.0v6.0h-6.0zM319.3 147.1h12.0v6.0h-12.0z"/><path fill="#747474" d="M289.3 75.1h12.0v6.0h-12.0zM325.3 99.1h6.0v6.0h-6.0zM325.3 105.1h6.0v6.0h-6.0zM325.3 111.1h6.0v6.0h-6.0zM319.3 117.1h6.0v6.0h-6.0zM313.3 123.1h6.0v6.0h-6.0zM349.3 123.1h6.0v6.0h-6.0zM343.3 129.1h6.0v6.0h-6.0zM337.3 141.1h6.0v6.0h-6.0zM313.3 147.1h6.0v6.0h-6.0zM331.3 147.1h6.0v6.0h-6.0z"/><path fill="#757575" d="M283.3 75.1h6.0v6.0h-6.0zM289.3 81.1h18.0v6.0h-18.0zM307.3 87.1h6.0v6.0h-6.0zM313.3 93.1h6.0v6.0h-6.0zM319.3 99.1h6.0v6.0h-6.0zM319.3 105.1h6.0v6.0h-6.0zM319.3 111.1h6.0v6.0h-6.0zM313.3 117.1h6.0v6.0h-6.0zM307.3 129.1h6.0v6.0h-6.0zM349.3 129.1h6.0v6.0h-6.0zM307.3 135.1h6.0v6.0h-6.0zM343.3 135.1h6.0v6.0h-6.0zM307.3 141.1h6.0v6.0h-6.0z"/><path fill="#767676" d="M265.3 81.1h24.0v6.0h-24.0zM289.3 87.1h18.0v6.0h-18.0zM301.3 93.1h12.0v6.0h-12.0zM307.3 99.1h12.0v6.0h-12.0zM313.3 105.1h6.0v6.0h-6.0zM313.3 111.1h6.0v6.0h-6.0zM307.3 123.1h6.0v6.0h-6.0zM343.3 141.1h6.0v6.0h-6.0zM313.3 153.1h18.0v6.0h-18.0z"/><path fill="#777777" d="M271.3 87.1h18.0v6.0h-18.0zM289.3 93.1h12.0v6.0h-12.0zM301.3 99.1h6.0v6.0h-6.0zM307.3 105.1h6.0v6.0h-6.0zM307.3 111.1h6.0v6.0h-6.0zM307.3 117.1h6.0v6.0h-6.0zM301.3 123.1h6.0v6.0h-6.0zM301.3 129.1h6.0v6.0h-6.0zM355.3 129.1h6.0v6.0h-6.0zM301.3 135.1h6.0v6.0h-6.0zM349.3 135.1h6.0v6.0h-6.0zM307.3 147.1h6.0v6.0h-6.0zM337.3 147.1h6.0v6.0h-6.0z"/><path fill="#787878" d="M247.3 87.1h24.0v6.0h-24.0zM277.3 93.1h12.0v6.0h-12.0zM289.3 99.1h12.0v6.0h-12.0zM295.3 105.1h12.0v6.0h-12.0zM301.3 111.1h6.0v6.0h-6.0zM301.3 117.1h6.0v6.0h-6.0zM355.3 135.1h6.0v6.0h-6.0zM301.3 141.1h6.0v6.0h-6.0zM331.3 153.1h6.0v6.0h-6.0zM319.3 159.1h6.0v6.0h-6.0z"/><path fill="#797979" d="M229.3 93.1h48.0v6.0h-48.0zM277.3 99.1h12.0v6.0h-12.0zM289.3 105.1h6.0v6.0h-6.0zM289.3 111.1h12.0v6.0h-12.0zM295.3 117.1h6.0v6.0h-6.0zM295.3 123.1h6.0v6.0h-6.0zM295.3 129.1h6.0v6.0h-6.0zM349.3 141.1h6.0v6.0h-6.0zM343.3 147.1h6.0v6.0h-6.0zM307.3 153.1h6.0v6.0h-6.0zM313.3 159.1h6.0v6.0h-6.0z"/><path fill="#7a7a7a" d="M229.3 99.1h48.0v6.0h-48.0zM277.3 105.1h12.0v6.0h-12.0zM283.3 111.1h6.0v6.0h-6.0zM289.3 117.1h6.0v6.0h-6.0zM289.3 123.1h6.0v6.0h-6.0zM295.3 135.1h6.0v6.0h-6.0zM361.3 135.1h6.0v6.0h-6.0zM355.3 141.1h6.0v6.0h-6.0zM301.3 147.1h6.0v6.0h-6.0zM337.3 153.1h6.0v6.0h-6.0zM325.3 159.1h6.0v6.0h-6.0z"/><path fill="#7b7b7b" d="M229.3 105.1h12.0v6.0h-12.0zM265.3 105.1h12.0v6.0h-12.0zM277.3 111.1h6.0v6.0h-6.0zM283.3 117.1h6.0v6.0h-6.0zM283.3 123.1h6.0v6.0h-6.0zM289.3 129.1h6.0v6.0h-6.0zM295.3 141.1h6.0v6.0h-6.0zM349.3 147.1h6.0v6.0h-6.0zM307.3 159.1h6.0v6.0h-6.0z"/><path fill="#7c7c7c" d="M241.3 105.1h24.0v6.0h-24.0zM229.3 111.1h6.0v6.0h-6.0zM265.3 111.1h12.0v6.0h-12.0zM277.3 117.1h6.0v6.0h-6.0zM277.3 123.1h6.0v6.0h-6.0zM283.3 129.1h6.0v6.0h-6.0zM289.3 135.1h6.0v6.0h-6.0zM361.3 141.1h6.0v6.0h-6.0zM331.3 159.1h6.0v6.0h-6.0zM313.3 165.1h12.0v6.0h-12.0z"/><path fill="#7d7d7d" d="M235.3 111.1h30.0v6.0h-30.0zM271.3 117.1h6.0v6.0h-6.0zM271.3 123.1h6.0v6.0h-6.0zM277.3 129.1h6.0v6.0h-6.0zM367.3 141.1h6.0v6.0h-6.0zM355.3 147.1h6.0v6.0h-6.0zM301.3 153.1h6.0v6.0h-6.0zM343.3 153.1h6.0v6.0h-6.0zM325.3 165.1h6.0v6.0h-6.0z"/><path fill="#7e7e7e" d="M229.3 117.1h42.0v6.0h-42.0zM271.3 129.1h6.0v6.0h-6.0zM283.3 135.1h6.0v6.0h-6.0zM289.3 141.1h6.0v6.0h-6.0zM295.3 147.1h6.0v6.0h-6.0zM361.3 147.1h6.0v6.0h-6.0zM349.3 153.1h6.0v6.0h-6.0z"/><path fill="#7f7f7f" d="M229.3 123.1h18.0v6.0h-18.0zM259.3 123.1h12.0v6.0h-12.0zM277.3 135.1h6.0v6.0h-6.0zM367.3 147.1h6.0v6.0h-6.0zM355.3 153.1h6.0v6.0h-6.0zM337.3 159.1h6.0v6.0h-6.0zM307.3 165.1h6.0v6.0h-6.0zM331.3 165.1h6.0v6.0h-6.0z"/><path fill="#808080" d="M247.3 123.1h12.0v6.0h-12.0zM229.3 129.1h12.0v6.0h-12.0zM259.3 129.1h12.0v6.0h-12.0zM271.3 135.1h6.0v6.0h-6.0zM283.3 141.1h6.0v6.0h-6.0zM373.3 147.1h6.0v6.0h-6.0zM361.3 153.1h6.0v6.0h-6.0zM301.3 159.1h6.0v6.0h-6.0zM343.3 159.1h6.0v6.0h-6.0z"/><path fill="#818181" d="M241.3 129.1h18.0v6.0h-18.0zM265.3 135.1h6.0v6.0h-6.0zM277.3 141.1h6.0v6.0h-6.0zM289.3 147.1h6.0v6.0h-6.0zM379.3 147.1h6.0v6.0h-6.0zM295.3 153.1h6.0v6.0h-6.0zM367.3 153.1h6.0v6.0h-6.0zM349.3 159.1h6.0v6.0h-6.0zM313.3 171.1h18.0v6.0h-18.0z"/><path fill="#828282" d="M229.3 135.1h36.0v6.0h-36.0zM271.3 141.1h6.0v6.0h-6.0zM373.3 153.1h6.0v6.0h-6.0zM355.3 159.1h6.0v6.0h-6.0zM337.3 165.1h6.0v6.0h-6.0zM331.3 171.1h6.0v6.0h-6.0z"/><path fill="#838383" d="M229.3 141.1h42.0v6.0h-42.0zM283.3 147.1h6.0v6.0h-6.0zM379.3 153.1h6.0v6.0h-6.0zM361.3 159.1h12.0v6.0h-12.0zM343.3 165.1h6.0v6.0h-6.0z"/><path fill="#848484" d="M277.3 147.1h6.0v6.0h-6.0zM385.3 153.1h6.0v6.0h-6.0zM373.3 159.1h6.0v6.0h-6.0zM301.3 165.1h6.0v6.0h-6.0zM349.3 165.1h18.0v6.0h-18.0zM307.3 171.1h6.0v6.0h-6.0zM337.3 171.1h6.0v6.0h-6.0z"/><path fill="#858585" d="M229.3 147.1h48.0v6.0h-48.0zM289.3 153.1h6.0v6.0h-6.0zM295.3 159.1h6.0v6.0h-6.0zM379.3 159.1h6.0v6.0h-6.0zM367.3 165.1h6.0v6.0h-6.0zM343.3 171.1h18.0v6.0h-18.0z"/><path fill="#868686" d="M385.3 159.1h12.0v6.0h-12.0zM373.3 165.1h6.0v6.0h-6.0zM361.3 171.1h12.0v6.0h-12.0zM325.3 177.1h36.0v6.0h-36.0z"/><path fill="#878787" d="M229.3 153.1h12.0v6.0h-12.0zM283.3 153.1h6.0v6.0h-6.0zM379.3 165.1h12.0v6.0h-12.0zM373.3 171.1h6.0v6.0h-6.0zM319.3 177.1h6.0v6.0h-6.0zM361.3 177.1h6.0v6.0h-6.0z"/><path fill="#888888" d="M241.3 153.1h42.0v6.0h-42.0zM391.3 165.1h6.0v6.0h-6.0zM379.3 171.1h6.0v6.0h-6.0zM313.3 177.1h6.0v6.0h-6.0zM367.3 177.1h6.0v6.0h-6.0zM349.3 183.1h12.0v6.0h-12.0z"/><path fill="#898989" d="M229.3 159.1h6.0v6.0h-6.0zM289.3 159.1h6.0v6.0h-6.0zM295.3 165.1h6.0v6.0h-6.0zM301.3 171.1h6.0v6.0h-6.0zM385.3 171.1h6.0v6.0h-6.0zM373.3 177.1h6.0v6.0h-6.0zM337.3 183.1h12.0v6.0h-12.0zM361.3 183.1h12.0v6.0h-12.0z"/><path fill="#8a8a8a" d="M235.3 159.1h42.0v6.0h-42.0zM379.3 177.1h12.0v6.0h-12.0zM331.3 183.1h6.0v6.0h-6.0zM373.3 183.1h6.0v6.0h-6.0z"/><path fill="#8b8b8b" d="M277.3 159.1h12.0v6.0h-12.0zM229.3 165.1h6.0v6.0h-6.0zM253.3 165.1h12.0v6.0h-12.0zM307.3 177.1h6.0v6.0h-6.0zM379.3 183.1h6.0v6.0h-6.0zM355.3 189.1h12.0v6.0h-12.0z"/><path fill="#8c8c8c" d="M235.3 165.1h18.0v6.0h-18.0zM265.3 165.1h6.0v6.0h-6.0zM229.3 171.1h6.0v6.0h-6.0zM253.3 171.1h6.0v6.0h-6.0zM325.3 183.1h6.0v6.0h-6.0zM349.3 189.1h6.0v6.0h-6.0zM367.3 189.1h12.0v6.0h-12.0z"/><path fill="#8d8d8d" d="M271.3 165.1h6.0v6.0h-6.0zM289.3 165.1h6.0v6.0h-6.0zM235.3 171.1h18.0v6.0h-18.0zM259.3 171.1h6.0v6.0h-6.0zM253.3 177.1h12.0v6.0h-12.0zM343.3 189.1h6.0v6.0h-6.0zM379.3 189.1h6.0v6.0h-6.0z"/><path fill="#8e8e8e" d="M277.3 165.1h12.0v6.0h-12.0zM265.3 171.1h6.0v6.0h-6.0zM295.3 171.1h6.0v6.0h-6.0zM235.3 177.1h18.0v6.0h-18.0zM235.3 183.1h30.0v6.0h-30.0z"/><path fill="#8f8f8f" d="M271.3 171.1h6.0v6.0h-6.0zM265.3 177.1h6.0v6.0h-6.0zM319.3 183.1h6.0v6.0h-6.0zM235.3 189.1h12.0v6.0h-12.0zM337.3 189.1h6.0v6.0h-6.0zM361.3 195.1h18.0v6.0h-18.0z"/><path fill="#909090" d="M301.3 177.1h6.0v6.0h-6.0zM265.3 183.1h6.0v6.0h-6.0zM247.3 189.1h12.0v6.0h-12.0zM331.3 189.1h6.0v6.0h-6.0zM235.3 195.1h6.0v6.0h-6.0zM355.3 195.1h6.0v6.0h-6.0z"/><path fill="#919191" d="M277.3 171.1h6.0v6.0h-6.0zM289.3 171.1h6.0v6.0h-6.0zM271.3 177.1h6.0v6.0h-6.0zM313.3 183.1h6.0v6.0h-6.0zM259.3 189.1h6.0v6.0h-6.0zM241.3 195.1h12.0v6.0h-12.0zM235.3 201.1h6.0v6.0h-6.0zM229.3 207.1h6.0v6.0h-6.0z"/><path fill="#929292" d="M283.3 171.1h6.0v6.0h-6.0zM253.3 195.1h6.0v6.0h-6.0zM349.3 195.1h6.0v6.0h-6.0zM241.3 201.1h6.0v6.0h-6.0zM229.3 213.1h6.0v6.0h-6.0z"/><path fill="#939393" d="M271.3 183.1h6.0v6.0h-6.0zM307.3 183.1h6.0v6.0h-6.0zM265.3 189.1h6.0v6.0h-6.0zM325.3 189.1h6.0v6.0h-6.0zM361.3 201.1h12.0v6.0h-12.0zM235.3 207.1h6.0v6.0h-6.0zM229.3 219.1h6.0v6.0h-6.0z"/><path fill="#949494" d="M277.3 177.1h6.0v6.0h-6.0zM259.3 195.1h6.0v6.0h-6.0zM343.3 195.1h6.0v6.0h-6.0zM247.3 201.1h6.0v6.0h-6.0zM241.3 207.1h6.0v6.0h-6.0zM235.3 213.1h6.0v6.0h-6.0zM223.3 225.1h12.0v6.0h-12.0z"/><path fill="#959595" d="M295.3 177.1h6.0v6.0h-6.0zM253.3 201.1h6.0v6.0h-6.0zM355.3 201.1h6.0v6.0h-6.0zM235.3 219.1h6.0v6.0h-6.0zM223.3 231.1h6.0v6.0h-6.0z"/><path fill="#969696" d="M283.3 177.1h6.0v6.0h-6.0zM271.3 189.1h6.0v6.0h-6.0zM265.3 195.1h6.0v6.0h-6.0zM337.3 195.1h6.0v6.0h-6.0zM247.3 207.1h6.0v6.0h-6.0zM241.3 213.1h6.0v6.0h-6.0zM235.3 225.1h6.0v6.0h-6.0zM229.3 231.1h6.0v6.0h-6.0z"/><path fill="#979797" d="M289.3 177.1h6.0v6.0h-6.0zM277.3 183.1h6.0v6.0h-6.0zM301.3 183.1h6.0v6.0h-6.0zM259.3 201.1h6.0v6.0h-6.0zM367.3 207.1h6.0v6.0h-6.0zM241.3 219.1h6.0v6.0h-6.0zM235.3 231.1h6.0v6.0h-6.0z"/><path fill="#989898" d="M319.3 189.1h6.0v6.0h-6.0zM331.3 195.1h6.0v6.0h-6.0zM349.3 201.1h6.0v6.0h-6.0zM253.3 207.1h6.0v6.0h-6.0zM361.3 207.1h6.0v6.0h-6.0zM247.3 213.1h6.0v6.0h-6.0zM241.3 225.1h6.0v6.0h-6.0zM223.3 237.1h12.0v6.0h-12.0z"/><path fill="#999999" d="M271.3 195.1h6.0v6.0h-6.0zM265.3 201.1h6.0v6.0h-6.0zM235.3 237.1h6.0v6.0h-6.0z"/><path fill="#9a9a9a" d="M283.3 183.1h6.0v6.0h-6.0zM277.3 189.1h6.0v6.0h-6.0zM313.3 189.1h6.0v6.0h-6.0zM259.3 207.1h6.0v6.0h-6.0zM253.3 213.1h6.0v6.0h-6.0zM247.3 219.1h6.0v6.0h-6.0zM241.3 231.1h6.0v6.0h-6.0z"/><path fill="#9b9b9b" d="M295.3 183.1h6.0v6.0h-6.0zM307.3 189.1h6.0v6.0h-6.0zM343.3 201.1h6.0v6.0h-6.0zM355.3 207.1h6.0v6.0h-6.0zM247.3 225.1h6.0v6.0h-6.0zM223.3 243.1h12.0v6.0h-12.0z"/><path fill="#9c9c9c" d="M289.3 183.1h6.0v6.0h-6.0zM277.3 195.1h6.0v6.0h-6.0zM325.3 195.1h6.0v6.0h-6.0zM271.3 201.1h6.0v6.0h-6.0zM265.3 207.1h6.0v6.0h-6.0zM241.3 237.1h6.0v6.0h-6.0zM217.3 243.1h6.0v6.0h-6.0zM235.3 243.1h6.0v6.0h-6.0z"/><path fill="#9d9d9d" d="M283.3 189.1h6.0v6.0h-6.0zM259.3 213.1h6.0v6.0h-6.0zM253.3 219.1h6.0v6.0h-6.0zM247.3 231.1h6.0v6.0h-6.0z"/><path fill="#9e9e9e" d="M301.3 189.1h6.0v6.0h-6.0zM337.3 201.1h6.0v6.0h-6.0zM349.3 207.1h6.0v6.0h-6.0zM361.3 213.1h6.0v6.0h-6.0z"/><path fill="#9f9f9f" d="M289.3 189.1h12.0v6.0h-12.0zM319.3 195.1h6.0v6.0h-6.0zM277.3 201.1h6.0v6.0h-6.0zM271.3 207.1h6.0v6.0h-6.0zM253.3 225.1h6.0v6.0h-6.0zM247.3 237.1h6.0v6.0h-6.0zM241.3 243.1h6.0v6.0h-6.0zM223.3 249.1h6.0v6.0h-6.0z"/><path fill="#a0a0a0" d="M283.3 195.1h6.0v6.0h-6.0zM331.3 201.1h6.0v6.0h-6.0zM265.3 213.1h6.0v6.0h-6.0zM355.3 213.1h6.0v6.0h-6.0zM259.3 219.1h6.0v6.0h-6.0zM217.3 249.1h6.0v6.0h-6.0zM229.3 249.1h6.0v6.0h-6.0z"/><path fill="#a1a1a1" d="M313.3 195.1h6.0v6.0h-6.0zM253.3 231.1h6.0v6.0h-6.0zM235.3 249.1h6.0v6.0h-6.0z"/><path fill="#a2a2a2" d="M289.3 195.1h6.0v6.0h-6.0zM307.3 195.1h6.0v6.0h-6.0zM325.3 201.1h6.0v6.0h-6.0zM277.3 207.1h6.0v6.0h-6.0zM343.3 207.1h6.0v6.0h-6.0zM361.3 219.1h6.0v6.0h-6.0zM259.3 225.1h6.0v6.0h-6.0zM247.3 243.1h6.0v6.0h-6.0z"/><path fill="#a3a3a3" d="M301.3 195.1h6.0v6.0h-6.0zM283.3 201.1h6.0v6.0h-6.0zM271.3 213.1h6.0v6.0h-6.0zM265.3 219.1h6.0v6.0h-6.0zM253.3 237.1h6.0v6.0h-6.0zM241.3 249.1h6.0v6.0h-6.0z"/><path fill="#a4a4a4" d="M295.3 195.1h6.0v6.0h-6.0zM337.3 207.1h6.0v6.0h-6.0zM349.3 213.1h6.0v6.0h-6.0zM211.3 255.1h24.0v6.0h-24.0z"/><path fill="#a5a5a5" d="M289.3 201.1h6.0v6.0h-6.0zM319.3 201.1h6.0v6.0h-6.0zM355.3 219.1h6.0v6.0h-6.0zM259.3 231.1h6.0v6.0h-6.0zM235.3 255.1h6.0v6.0h-6.0z"/><path fill="#a6a6a6" d="M283.3 207.1h6.0v6.0h-6.0zM331.3 207.1h6.0v6.0h-6.0zM277.3 213.1h6.0v6.0h-6.0zM271.3 219.1h6.0v6.0h-6.0zM265.3 225.1h6.0v6.0h-6.0zM253.3 243.1h6.0v6.0h-6.0zM247.3 249.1h6.0v6.0h-6.0z"/><path fill="#a7a7a7" d="M295.3 201.1h6.0v6.0h-6.0zM313.3 201.1h6.0v6.0h-6.0zM343.3 213.1h6.0v6.0h-6.0zM241.3 255.1h6.0v6.0h-6.0z"/><path fill="#a8a8a8" d="M301.3 201.1h12.0v6.0h-12.0zM325.3 207.1h6.0v6.0h-6.0zM349.3 219.1h6.0v6.0h-6.0zM259.3 237.1h6.0v6.0h-6.0z"/><path fill="#a9a9a9" d="M289.3 207.1h6.0v6.0h-6.0zM283.3 213.1h6.0v6.0h-6.0zM337.3 213.1h6.0v6.0h-6.0zM277.3 219.1h6.0v6.0h-6.0zM271.3 225.1h6.0v6.0h-6.0zM355.3 225.1h6.0v6.0h-6.0zM265.3 231.1h6.0v6.0h-6.0zM253.3 249.1h6.0v6.0h-6.0zM247.3 255.1h6.0v6.0h-6.0zM205.3 261.1h30.0v6.0h-30.0z"/><path fill="#aaaaaa" d="M319.3 207.1h6.0v6.0h-6.0zM259.3 243.1h6.0v6.0h-6.0zM235.3 261.1h6.0v6.0h-6.0z"/><path fill="#ababab" d="M295.3 207.1h6.0v6.0h-6.0zM313.3 207.1h6.0v6.0h-6.0zM331.3 213.1h6.0v6.0h-6.0zM343.3 219.1h6.0v6.0h-6.0zM241.3 261.1h6.0v6.0h-6.0z"/><path fill="#acacac" d="M301.3 207.1h12.0v6.0h-12.0zM289.3 213.1h6.0v6.0h-6.0zM283.3 219.1h6.0v6.0h-6.0zM349.3 225.1h6.0v6.0h-6.0zM265.3 237.1h6.0v6.0h-6.0zM253.3 255.1h6.0v6.0h-6.0zM247.3 261.1h6.0v6.0h-6.0zM199.3 267.1h6.0v6.0h-6.0z"/><path fill="#adadad" d="M325.3 213.1h6.0v6.0h-6.0zM337.3 219.1h6.0v6.0h-6.0zM277.3 225.1h6.0v6.0h-6.0zM271.3 231.1h6.0v6.0h-6.0zM259.3 249.1h6.0v6.0h-6.0zM205.3 267.1h6.0v6.0h-6.0z"/><path fill="#aeaeae" d="M295.3 213.1h6.0v6.0h-6.0zM319.3 213.1h6.0v6.0h-6.0zM343.3 225.1h6.0v6.0h-6.0zM211.3 267.1h36.0v6.0h-36.0z"/><path fill="#afafaf" d="M301.3 213.1h18.0v6.0h-18.0zM289.3 219.1h6.0v6.0h-6.0zM331.3 219.1h6.0v6.0h-6.0zM349.3 231.1h6.0v6.0h-6.0zM265.3 243.1h6.0v6.0h-6.0zM259.3 255.1h6.0v6.0h-6.0zM253.3 261.1h6.0v6.0h-6.0zM247.3 267.1h6.0v6.0h-6.0zM193.3 273.1h6.0v6.0h-6.0z"/><path fill="#b0b0b0" d="M325.3 219.1h6.0v6.0h-6.0zM283.3 225.1h6.0v6.0h-6.0zM337.3 225.1h6.0v6.0h-6.0zM277.3 231.1h6.0v6.0h-6.0zM271.3 237.1h6.0v6.0h-6.0zM199.3 273.1h6.0v6.0h-6.0z"/><path fill="#b1b1b1" d="M295.3 219.1h6.0v6.0h-6.0zM319.3 219.1h6.0v6.0h-6.0zM343.3 231.1h6.0v6.0h-6.0zM265.3 249.1h6.0v6.0h-6.0zM259.3 261.1h6.0v6.0h-6.0zM253.3 267.1h6.0v6.0h-6.0zM205.3 273.1h6.0v6.0h-6.0z"/><path fill="#b2b2b2" d="M301.3 219.1h6.0v6.0h-6.0zM313.3 219.1h6.0v6.0h-6.0zM289.3 225.1h6.0v6.0h-6.0zM331.3 225.1h6.0v6.0h-6.0zM349.3 237.1h6.0v6.0h-6.0zM211.3 273.1h6.0v6.0h-6.0zM229.3 273.1h30.0v6.0h-30.0zM193.3 279.1h6.0v6.0h-6.0z"/><path fill="#b3b3b3" d="M307.3 219.1h6.0v6.0h-6.0zM325.3 225.1h6.0v6.0h-6.0zM283.3 231.1h6.0v6.0h-6.0zM337.3 231.1h6.0v6.0h-6.0zM277.3 237.1h6.0v6.0h-6.0zM271.3 243.1h6.0v6.0h-6.0zM265.3 255.1h6.0v6.0h-6.0zM259.3 267.1h6.0v6.0h-6.0zM217.3 273.1h12.0v6.0h-12.0zM199.3 279.1h6.0v6.0h-6.0z"/><path fill="#b4b4b4" d="M295.3 225.1h6.0v6.0h-6.0zM343.3 237.1h6.0v6.0h-6.0zM265.3 261.1h6.0v6.0h-6.0zM259.3 273.1h6.0v6.0h-6.0zM247.3 279.1h18.0v6.0h-18.0zM187.3 285.1h6.0v6.0h-6.0z"/><path fill="#b5b5b5" d="M301.3 225.1h6.0v6.0h-6.0zM313.3 225.1h12.0v6.0h-12.0zM331.3 231.1h6.0v6.0h-6.0zM271.3 249.1h6.0v6.0h-6.0zM265.3 267.1h6.0v6.0h-6.0zM265.3 273.1h6.0v6.0h-6.0zM205.3 279.1h6.0v6.0h-6.0zM235.3 279.1h12.0v6.0h-12.0zM193.3 285.1h6.0v6.0h-6.0zM253.3 285.1h12.0v6.0h-12.0zM181.3 291.1h6.0v6.0h-6.0z"/><path fill="#b6b6b6" d="M307.3 225.1h6.0v6.0h-6.0zM289.3 231.1h6.0v6.0h-6.0zM325.3 231.1h6.0v6.0h-6.0zM283.3 237.1h6.0v6.0h-6.0zM337.3 237.1h6.0v6.0h-6.0zM277.3 243.1h6.0v6.0h-6.0zM271.3 255.1h6.0v6.0h-6.0zM211.3 279.1h6.0v6.0h-6.0zM229.3 279.1h6.0v6.0h-6.0zM265.3 279.1h6.0v6.0h-6.0zM199.3 285.1h6.0v6.0h-6.0zM247.3 285.1h6.0v6.0h-6.0zM265.3 285.1h6.0v6.0h-6.0zM253.3 291.1h12.0v6.0h-12.0zM259.3 297.1h6.0v6.0h-6.0z"/><path fill="#b7b7b7" d="M343.3 243.1h6.0v6.0h-6.0zM271.3 261.1h6.0v6.0h-6.0zM217.3 279.1h12.0v6.0h-12.0zM241.3 285.1h6.0v6.0h-6.0zM187.3 291.1h6.0v6.0h-6.0zM265.3 291.1h6.0v6.0h-6.0zM175.3 297.1h6.0v6.0h-6.0zM253.3 297.1h6.0v6.0h-6.0zM265.3 297.1h6.0v6.0h-6.0zM259.3 303.1h6.0v6.0h-6.0z"/><path fill="#b8b8b8" d="M295.3 231.1h6.0v6.0h-6.0zM319.3 231.1h6.0v6.0h-6.0zM331.3 237.1h6.0v6.0h-6.0zM277.3 249.1h6.0v6.0h-6.0zM271.3 267.1h6.0v6.0h-6.0zM271.3 273.1h6.0v6.0h-6.0zM271.3 279.1h6.0v6.0h-6.0zM205.3 285.1h6.0v6.0h-6.0zM271.3 285.1h6.0v6.0h-6.0zM193.3 291.1h6.0v6.0h-6.0zM247.3 291.1h6.0v6.0h-6.0zM181.3 297.1h6.0v6.0h-6.0zM253.3 303.1h6.0v6.0h-6.0zM265.3 303.1h6.0v6.0h-6.0zM259.3 309.1h6.0v6.0h-6.0z"/><path fill="#b9b9b9" d="M301.3 231.1h18.0v6.0h-18.0zM289.3 237.1h6.0v6.0h-6.0zM283.3 243.1h6.0v6.0h-6.0zM337.3 243.1h6.0v6.0h-6.0zM211.3 285.1h6.0v6.0h-6.0zM235.3 285.1h6.0v6.0h-6.0zM199.3 291.1h6.0v6.0h-6.0zM271.3 291.1h6.0v6.0h-6.0zM187.3 297.1h6.0v6.0h-6.0zM247.3 297.1h6.0v6.0h-6.0zM175.3 303.1h6.0v6.0h-6.0zM253.3 309.1h6.0v6.0h-6.0zM265.3 309.1h6.0v6.0h-6.0z"/><path fill="#bababa" d="M325.3 237.1h6.0v6.0h-6.0zM277.3 255.1h6.0v6.0h-6.0zM217.3 285.1h18.0v6.0h-18.0zM205.3 291.1h6.0v6.0h-6.0zM241.3 291.1h6.0v6.0h-6.0zM193.3 297.1h6.0v6.0h-6.0zM271.3 297.1h6.0v6.0h-6.0zM181.3 303.1h6.0v6.0h-6.0zM259.3 315.1h12.0v6.0h-12.0z"/><path fill="#bbbbbb" d="M295.3 237.1h6.0v6.0h-6.0zM343.3 249.1h6.0v6.0h-6.0zM277.3 261.1h6.0v6.0h-6.0zM277.3 273.1h6.0v6.0h-6.0zM277.3 279.1h6.0v6.0h-6.0zM277.3 285.1h6.0v6.0h-6.0zM199.3 297.1h6.0v6.0h-6.0zM187.3 303.1h6.0v6.0h-6.0zM247.3 303.1h6.0v6.0h-6.0zM271.3 303.1h6.0v6.0h-6.0zM175.3 309.1h6.0v6.0h-6.0zM253.3 315.1h6.0v6.0h-6.0zM259.3 321.1h12.0v6.0h-12.0zM259.3 327.1h6.0v6.0h-6.0z"/><path fill="#bcbcbc" d="M301.3 237.1h6.0v6.0h-6.0zM319.3 237.1h6.0v6.0h-6.0zM289.3 243.1h6.0v6.0h-6.0zM331.3 243.1h6.0v6.0h-6.0zM283.3 249.1h6.0v6.0h-6.0zM277.3 267.1h6.0v6.0h-6.0zM211.3 291.1h6.0v6.0h-6.0zM235.3 291.1h6.0v6.0h-6.0zM277.3 291.1h6.0v6.0h-6.0zM241.3 297.1h6.0v6.0h-6.0zM193.3 303.1h6.0v6.0h-6.0zM181.3 309.1h12.0v6.0h-12.0zM247.3 309.1h6.0v6.0h-6.0zM271.3 309.1h6.0v6.0h-6.0zM271.3 315.1h6.0v6.0h-6.0zM253.3 321.1h6.0v6.0h-6.0zM253.3 327.1h6.0v6.0h-6.0zM265.3 327.1h6.0v6.0h-6.0zM259.3 333.1h12.0v6.0h-12.0zM259.3 339.1h12.0v6.0h-12.0z"/><path fill="#bdbdbd" d="M307.3 237.1h12.0v6.0h-12.0zM337.3 249.1h6.0v6.0h-6.0zM217.3 291.1h6.0v6.0h-6.0zM205.3 297.1h6.0v6.0h-6.0zM277.3 297.1h6.0v6.0h-6.0zM199.3 303.1h6.0v6.0h-6.0zM193.3 309.1h6.0v6.0h-6.0zM181.3 315.1h6.0v6.0h-6.0zM271.3 321.1h6.0v6.0h-6.0zM271.3 327.1h6.0v6.0h-6.0zM253.3 333.1h6.0v6.0h-6.0zM271.3 333.1h6.0v6.0h-6.0zM253.3 339.1h6.0v6.0h-6.0zM271.3 339.1h6.0v6.0h-6.0zM253.3 345.1h18.0v6.0h-18.0zM259.3 351.1h6.0v6.0h-6.0z"/><path fill="#bebebe" d="M325.3 243.1h6.0v6.0h-6.0zM283.3 255.1h6.0v6.0h-6.0zM343.3 255.1h6.0v6.0h-6.0zM223.3 291.1h12.0v6.0h-12.0zM277.3 303.1h6.0v6.0h-6.0zM187.3 315.1h6.0v6.0h-6.0zM247.3 315.1h6.0v6.0h-6.0zM253.3 351.1h6.0v6.0h-6.0zM253.3 357.1h6.0v6.0h-6.0z"/><path fill="#bfbfbf" d="M295.3 243.1h6.0v6.0h-6.0zM319.3 243.1h6.0v6.0h-6.0zM289.3 249.1h6.0v6.0h-6.0zM331.3 249.1h6.0v6.0h-6.0zM283.3 261.1h6.0v6.0h-6.0zM283.3 273.1h6.0v6.0h-6.0zM283.3 279.1h6.0v6.0h-6.0zM283.3 285.1h6.0v6.0h-6.0zM211.3 297.1h6.0v6.0h-6.0zM235.3 297.1h6.0v6.0h-6.0zM205.3 303.1h6.0v6.0h-6.0zM241.3 303.1h6.0v6.0h-6.0zM199.3 309.1h6.0v6.0h-6.0zM277.3 309.1h6.0v6.0h-6.0zM193.3 315.1h6.0v6.0h-6.0zM277.3 315.1h6.0v6.0h-6.0zM247.3 321.1h6.0v6.0h-6.0zM277.3 321.1h6.0v6.0h-6.0zM247.3 327.1h6.0v6.0h-6.0zM277.3 327.1h6.0v6.0h-6.0zM247.3 333.1h6.0v6.0h-6.0zM277.3 333.1h6.0v6.0h-6.0zM247.3 339.1h6.0v6.0h-6.0zM277.3 339.1h6.0v6.0h-6.0zM247.3 345.1h6.0v6.0h-6.0zM247.3 351.1h6.0v6.0h-6.0zM247.3 357.1h6.0v6.0h-6.0z"/><path fill="#c0c0c0" d="M301.3 243.1h6.0v6.0h-6.0zM337.3 255.1h6.0v6.0h-6.0zM283.3 267.1h6.0v6.0h-6.0zM283.3 291.1h6.0v6.0h-6.0zM217.3 297.1h6.0v6.0h-6.0zM199.3 315.1h6.0v6.0h-6.0zM187.3 321.1h6.0v6.0h-6.0zM247.3 363.1h6.0v6.0h-6.0z"/><path fill="#c1c1c1" d="M307.3 243.1h12.0v6.0h-12.0zM325.3 249.1h6.0v6.0h-6.0zM289.3 255.1h6.0v6.0h-6.0zM229.3 297.1h6.0v6.0h-6.0zM211.3 303.1h6.0v6.0h-6.0zM205.3 309.1h6.0v6.0h-6.0zM241.3 309.1h6.0v6.0h-6.0zM193.3 321.1h6.0v6.0h-6.0zM283.3 333.1h6.0v6.0h-6.0zM241.3 345.1h6.0v6.0h-6.0zM241.3 351.1h6.0v6.0h-6.0zM241.3 357.1h6.0v6.0h-6.0z"/><path fill="#c2c2c2" d="M295.3 249.1h6.0v6.0h-6.0zM331.3 255.1h6.0v6.0h-6.0zM337.3 261.1h6.0v6.0h-6.0zM223.3 297.1h6.0v6.0h-6.0zM283.3 297.1h6.0v6.0h-6.0zM283.3 303.1h6.0v6.0h-6.0zM283.3 315.1h6.0v6.0h-6.0zM283.3 321.1h6.0v6.0h-6.0zM283.3 327.1h6.0v6.0h-6.0zM241.3 333.1h6.0v6.0h-6.0zM241.3 339.1h6.0v6.0h-6.0zM241.3 363.1h6.0v6.0h-6.0z"/><path fill="#c3c3c3" d="M319.3 249.1h6.0v6.0h-6.0zM289.3 261.1h6.0v6.0h-6.0zM289.3 279.1h6.0v6.0h-6.0zM235.3 303.1h6.0v6.0h-6.0zM283.3 309.1h6.0v6.0h-6.0zM205.3 315.1h6.0v6.0h-6.0zM241.3 315.1h6.0v6.0h-6.0zM199.3 321.1h6.0v6.0h-6.0zM241.3 321.1h6.0v6.0h-6.0zM241.3 327.1h6.0v6.0h-6.0z"/><path fill="#c4c4c4" d="M301.3 249.1h6.0v6.0h-6.0zM313.3 249.1h6.0v6.0h-6.0zM325.3 255.1h6.0v6.0h-6.0zM331.3 261.1h6.0v6.0h-6.0zM289.3 267.1h6.0v6.0h-6.0zM337.3 267.1h6.0v6.0h-6.0zM289.3 273.1h6.0v6.0h-6.0zM289.3 285.1h6.0v6.0h-6.0zM217.3 303.1h6.0v6.0h-6.0zM211.3 309.1h6.0v6.0h-6.0zM289.3 327.1h6.0v6.0h-6.0zM235.3 351.1h6.0v6.0h-6.0zM235.3 357.1h6.0v6.0h-6.0z"/><path fill="#c5c5c5" d="M307.3 249.1h6.0v6.0h-6.0zM295.3 255.1h6.0v6.0h-6.0zM289.3 291.1h6.0v6.0h-6.0zM289.3 315.1h6.0v6.0h-6.0zM205.3 321.1h6.0v6.0h-6.0zM289.3 321.1h6.0v6.0h-6.0zM199.3 327.1h6.0v6.0h-6.0zM235.3 345.1h6.0v6.0h-6.0z"/><path fill="#c6c6c6" d="M319.3 255.1h6.0v6.0h-6.0zM295.3 261.1h6.0v6.0h-6.0zM325.3 261.1h6.0v6.0h-6.0zM331.3 267.1h6.0v6.0h-6.0zM337.3 273.1h6.0v6.0h-6.0zM289.3 297.1h6.0v6.0h-6.0zM223.3 303.1h12.0v6.0h-12.0zM289.3 303.1h6.0v6.0h-6.0zM235.3 309.1h6.0v6.0h-6.0zM289.3 309.1h6.0v6.0h-6.0zM211.3 315.1h6.0v6.0h-6.0zM235.3 339.1h6.0v6.0h-6.0z"/><path fill="#c7c7c7" d="M301.3 255.1h6.0v6.0h-6.0zM313.3 255.1h6.0v6.0h-6.0zM295.3 267.1h6.0v6.0h-6.0zM295.3 279.1h6.0v6.0h-6.0zM217.3 309.1h6.0v6.0h-6.0zM235.3 315.1h6.0v6.0h-6.0zM295.3 321.1h6.0v6.0h-6.0zM235.3 327.1h6.0v6.0h-6.0zM235.3 333.1h6.0v6.0h-6.0zM229.3 351.1h6.0v6.0h-6.0z"/><path fill="#c8c8c8" d="M307.3 255.1h6.0v6.0h-6.0zM319.3 261.1h6.0v6.0h-6.0zM325.3 267.1h6.0v6.0h-6.0zM295.3 273.1h6.0v6.0h-6.0zM331.3 273.1h6.0v6.0h-6.0zM331.3 279.1h6.0v6.0h-6.0zM295.3 285.1h6.0v6.0h-6.0zM295.3 315.1h6.0v6.0h-6.0zM235.3 321.1h6.0v6.0h-6.0zM205.3 327.1h6.0v6.0h-6.0zM229.3 345.1h6.0v6.0h-6.0z"/><path fill="#c9c9c9" d="M301.3 261.1h6.0v6.0h-6.0zM313.3 261.1h6.0v6.0h-6.0zM319.3 267.1h6.0v6.0h-6.0zM325.3 273.1h6.0v6.0h-6.0zM325.3 279.1h6.0v6.0h-6.0zM331.3 285.1h6.0v6.0h-6.0zM295.3 291.1h6.0v6.0h-6.0zM295.3 303.1h6.0v6.0h-6.0zM223.3 309.1h12.0v6.0h-12.0zM295.3 309.1h6.0v6.0h-6.0zM211.3 321.1h6.0v6.0h-6.0zM205.3 333.1h6.0v6.0h-6.0zM223.3 351.1h6.0v6.0h-6.0z"/><path fill="#cacaca" d="M307.3 261.1h6.0v6.0h-6.0zM301.3 267.1h6.0v6.0h-6.0zM301.3 273.1h6.0v6.0h-6.0zM319.3 273.1h6.0v6.0h-6.0zM301.3 279.1h6.0v6.0h-6.0zM319.3 279.1h6.0v6.0h-6.0zM301.3 285.1h30.0v6.0h-30.0zM301.3 291.1h6.0v6.0h-6.0zM325.3 291.1h6.0v6.0h-6.0zM295.3 297.1h6.0v6.0h-6.0zM301.3 309.1h6.0v6.0h-6.0zM217.3 315.1h6.0v6.0h-6.0zM301.3 315.1h6.0v6.0h-6.0zM211.3 327.1h6.0v6.0h-6.0zM229.3 339.1h6.0v6.0h-6.0z"/><path fill="#cbcbcb" d="M307.3 267.1h12.0v6.0h-12.0zM307.3 273.1h12.0v6.0h-12.0zM307.3 279.1h12.0v6.0h-12.0zM307.3 291.1h18.0v6.0h-18.0zM301.3 297.1h24.0v6.0h-24.0zM301.3 303.1h12.0v6.0h-12.0zM307.3 309.1h6.0v6.0h-6.0zM229.3 315.1h6.0v6.0h-6.0zM217.3 321.1h6.0v6.0h-6.0zM229.3 333.1h6.0v6.0h-6.0zM223.3 345.1h6.0v6.0h-6.0z"/><path fill="#cccccc" d="M313.3 303.1h6.0v6.0h-6.0zM223.3 315.1h6.0v6.0h-6.0zM229.3 321.1h6.0v6.0h-6.0zM229.3 327.1h6.0v6.0h-6.0zM211.3 333.1h6.0v6.0h-6.0zM211.3 339.1h6.0v6.0h-6.0zM223.3 339.1h6.0v6.0h-6.0zM217.3 345.1h6.0v6.0h-6.0z"/><path fill="#cdcdcd" d="M223.3 321.1h6.0v6.0h-6.0zM217.3 327.1h12.0v6.0h-12.0zM217.3 333.1h12.0v6.0h-12.0zM217.3 339.1h6.0v6.0h-6.0z"/></g></g>
<use href="#land"/>
<use href="#dots"/>
<use href="#axl"/>
<path d="M432.3,64.8 L444.0,59.1 L455.7,64.8Z" fill="#fbc08a" stroke="#444" stroke-width="0.5"/>
<path d="M432.3,406.0 L444.0,411.7 L455.7,406.0Z" fill="#eccde6" stroke="#444" stroke-width="0.5"/>
<rect x="432.3" y="64.5" width="23.40" height="341.80" fill="url(#cbT)"/>
<path d="M432.3,64.5 V406.3 M455.7,64.5 V406.3" stroke="#444" stroke-width="0.6" fill="none"/>
<text transform="translate(465.6,73.8) scale(1,1.04)" font-size="29">30</text>
<path d="M432.3,123.4 h4.6 M455.7,123.4 h-4.6" stroke="#333" stroke-width="0.8" fill="none"/>
<text transform="translate(465.6,132.7) scale(1,1.04)" font-size="29">25</text>
<path d="M432.3,182.4 h4.6 M455.7,182.4 h-4.6" stroke="#333" stroke-width="0.8" fill="none"/>
<text transform="translate(465.6,191.7) scale(1,1.04)" font-size="29">20</text>
<path d="M432.3,241.3 h4.6 M455.7,241.3 h-4.6" stroke="#333" stroke-width="0.8" fill="none"/>
<text transform="translate(465.6,250.6) scale(1,1.04)" font-size="29">15</text>
<path d="M432.3,300.2 h4.6 M455.7,300.2 h-4.6" stroke="#333" stroke-width="0.8" fill="none"/>
<text transform="translate(465.6,309.5) scale(1,1.04)" font-size="29">10</text>
<path d="M432.3,359.2 h4.6 M455.7,359.2 h-4.6" stroke="#333" stroke-width="0.8" fill="none"/>
<text transform="translate(465.6,368.5) scale(1,1.04)" font-size="29">5</text>
<text transform="translate(430.8,401.6) rotate(-90)" font-size="18.6" textLength="126" lengthAdjust="spacingAndGlyphs">Ocean Data View</text>
<text class="b" transform="translate(371.6,374.8) scale(1,1.08)" font-size="27.6">A</text>
</g>
<g transform="translate(603.0,0.0)">
<use href="#frame"/>
<g clip-path="url(#dclip)"><g filter="url(#fT)"><rect x="160" y="55" width="260" height="360" fill="#818181"/><path fill="#3d3d3d" d="M253.3 351.1h6.0v6.0h-6.0zM247.3 357.1h12.0v6.0h-12.0zM247.3 363.1h6.0v6.0h-6.0z"/><path fill="#3e3e3e" d="M247.3 351.1h6.0v6.0h-6.0z"/><path fill="#414141" d="M253.3 345.1h6.0v6.0h-6.0z"/><path fill="#434343" d="M259.3 351.1h6.0v6.0h-6.0zM241.3 363.1h6.0v6.0h-6.0z"/><path fill="#444444" d="M247.3 345.1h6.0v6.0h-6.0z"/><path fill="#454545" d="M253.3 339.1h6.0v6.0h-6.0zM241.3 357.1h6.0v6.0h-6.0z"/><path fill="#474747" d="M253.3 333.1h6.0v6.0h-6.0z"/><path fill="#484848" d="M259.3 345.1h6.0v6.0h-6.0z"/><path fill="#494949" d="M247.3 339.1h6.0v6.0h-6.0z"/><path fill="#4a4a4a" d="M241.3 351.1h6.0v6.0h-6.0z"/><path fill="#4e4e4e" d="M307.3 87.1h6.0v6.0h-6.0zM313.3 93.1h6.0v6.0h-6.0zM319.3 99.1h12.0v6.0h-12.0zM259.3 339.1h6.0v6.0h-6.0z"/><path fill="#4f4f4f" d="M307.3 93.1h6.0v6.0h-6.0zM313.3 99.1h6.0v6.0h-6.0zM331.3 105.1h6.0v6.0h-6.0zM253.3 327.1h6.0v6.0h-6.0zM247.3 333.1h6.0v6.0h-6.0z"/><path fill="#505050" d="M301.3 81.1h6.0v6.0h-6.0zM319.3 105.1h12.0v6.0h-12.0zM337.3 111.1h6.0v6.0h-6.0z"/><path fill="#515151" d="M301.3 87.1h6.0v6.0h-6.0zM301.3 93.1h6.0v6.0h-6.0zM307.3 99.1h6.0v6.0h-6.0zM313.3 105.1h6.0v6.0h-6.0zM331.3 111.1h6.0v6.0h-6.0zM259.3 333.1h6.0v6.0h-6.0z"/><path fill="#525252" d="M295.3 75.1h6.0v6.0h-6.0zM325.3 111.1h6.0v6.0h-6.0zM337.3 117.1h12.0v6.0h-12.0z"/><path fill="#535353" d="M295.3 81.1h6.0v6.0h-6.0zM301.3 99.1h6.0v6.0h-6.0zM307.3 105.1h6.0v6.0h-6.0zM319.3 111.1h6.0v6.0h-6.0zM331.3 117.1h6.0v6.0h-6.0zM343.3 123.1h12.0v6.0h-12.0zM241.3 345.1h6.0v6.0h-6.0zM235.3 357.1h6.0v6.0h-6.0z"/><path fill="#545454" d="M295.3 87.1h6.0v6.0h-6.0zM295.3 93.1h6.0v6.0h-6.0zM313.3 111.1h6.0v6.0h-6.0zM325.3 117.1h6.0v6.0h-6.0zM337.3 123.1h6.0v6.0h-6.0zM343.3 129.1h12.0v6.0h-12.0zM265.3 345.1h6.0v6.0h-6.0z"/><path fill="#555555" d="M289.3 75.1h6.0v6.0h-6.0zM301.3 105.1h6.0v6.0h-6.0zM307.3 111.1h6.0v6.0h-6.0zM319.3 117.1h6.0v6.0h-6.0zM331.3 123.1h6.0v6.0h-6.0zM337.3 129.1h6.0v6.0h-6.0zM355.3 129.1h6.0v6.0h-6.0zM343.3 135.1h12.0v6.0h-12.0zM259.3 327.1h6.0v6.0h-6.0z"/><path fill="#565656" d="M289.3 81.1h6.0v6.0h-6.0zM295.3 99.1h6.0v6.0h-6.0zM313.3 117.1h6.0v6.0h-6.0zM325.3 123.1h6.0v6.0h-6.0zM331.3 129.1h6.0v6.0h-6.0zM337.3 135.1h6.0v6.0h-6.0zM355.3 135.1h6.0v6.0h-6.0zM343.3 141.1h12.0v6.0h-12.0z"/><path fill="#575757" d="M289.3 87.1h6.0v6.0h-6.0zM319.3 123.1h6.0v6.0h-6.0zM325.3 129.1h6.0v6.0h-6.0zM337.3 141.1h6.0v6.0h-6.0zM343.3 147.1h6.0v6.0h-6.0z"/><path fill="#585858" d="M283.3 75.1h6.0v6.0h-6.0zM289.3 93.1h6.0v6.0h-6.0zM295.3 105.1h6.0v6.0h-6.0zM301.3 111.1h6.0v6.0h-6.0zM307.3 117.1h6.0v6.0h-6.0zM331.3 135.1h6.0v6.0h-6.0zM331.3 141.1h6.0v6.0h-6.0zM355.3 141.1h6.0v6.0h-6.0zM337.3 147.1h6.0v6.0h-6.0z"/><path fill="#595959" d="M283.3 81.1h6.0v6.0h-6.0zM313.3 123.1h6.0v6.0h-6.0zM319.3 129.1h6.0v6.0h-6.0zM325.3 135.1h6.0v6.0h-6.0zM361.3 135.1h6.0v6.0h-6.0zM349.3 147.1h6.0v6.0h-6.0zM247.3 327.1h6.0v6.0h-6.0zM241.3 339.1h6.0v6.0h-6.0z"/><path fill="#5a5a5a" d="M289.3 99.1h6.0v6.0h-6.0zM325.3 141.1h6.0v6.0h-6.0zM331.3 147.1h6.0v6.0h-6.0zM253.3 321.1h6.0v6.0h-6.0z"/><path fill="#5b5b5b" d="M283.3 87.1h6.0v6.0h-6.0zM295.3 111.1h6.0v6.0h-6.0zM301.3 117.1h6.0v6.0h-6.0zM307.3 123.1h6.0v6.0h-6.0zM313.3 129.1h6.0v6.0h-6.0zM319.3 135.1h6.0v6.0h-6.0zM361.3 141.1h6.0v6.0h-6.0zM355.3 147.1h6.0v6.0h-6.0zM337.3 153.1h12.0v6.0h-12.0zM235.3 351.1h6.0v6.0h-6.0z"/><path fill="#5c5c5c" d="M277.3 81.1h6.0v6.0h-6.0zM283.3 93.1h6.0v6.0h-6.0zM289.3 105.1h6.0v6.0h-6.0zM325.3 147.1h6.0v6.0h-6.0zM331.3 153.1h6.0v6.0h-6.0z"/><path fill="#5d5d5d" d="M277.3 87.1h6.0v6.0h-6.0zM283.3 99.1h6.0v6.0h-6.0zM301.3 123.1h6.0v6.0h-6.0zM307.3 129.1h6.0v6.0h-6.0zM313.3 135.1h6.0v6.0h-6.0zM319.3 141.1h6.0v6.0h-6.0zM349.3 153.1h6.0v6.0h-6.0z"/><path fill="#5e5e5e" d="M271.3 81.1h6.0v6.0h-6.0zM289.3 111.1h6.0v6.0h-6.0zM295.3 117.1h6.0v6.0h-6.0zM367.3 141.1h6.0v6.0h-6.0zM265.3 339.1h6.0v6.0h-6.0z"/><path fill="#5f5f5f" d="M265.3 81.1h6.0v6.0h-6.0zM271.3 87.1h6.0v6.0h-6.0zM277.3 93.1h6.0v6.0h-6.0zM283.3 105.1h6.0v6.0h-6.0zM307.3 135.1h6.0v6.0h-6.0zM313.3 141.1h6.0v6.0h-6.0zM319.3 147.1h6.0v6.0h-6.0zM361.3 147.1h6.0v6.0h-6.0zM325.3 153.1h6.0v6.0h-6.0zM337.3 159.1h6.0v6.0h-6.0zM259.3 321.1h6.0v6.0h-6.0zM241.3 333.1h6.0v6.0h-6.0z"/><path fill="#606060" d="M277.3 99.1h6.0v6.0h-6.0zM295.3 123.1h6.0v6.0h-6.0zM301.3 129.1h6.0v6.0h-6.0zM355.3 153.1h6.0v6.0h-6.0zM331.3 159.1h6.0v6.0h-6.0zM343.3 159.1h6.0v6.0h-6.0z"/><path fill="#616161" d="M265.3 87.1h6.0v6.0h-6.0zM271.3 93.1h6.0v6.0h-6.0zM283.3 111.1h6.0v6.0h-6.0zM289.3 117.1h6.0v6.0h-6.0zM307.3 141.1h6.0v6.0h-6.0zM313.3 147.1h6.0v6.0h-6.0zM319.3 153.1h6.0v6.0h-6.0z"/><path fill="#626262" d="M277.3 105.1h6.0v6.0h-6.0zM295.3 129.1h6.0v6.0h-6.0zM301.3 135.1h6.0v6.0h-6.0zM367.3 147.1h6.0v6.0h-6.0zM325.3 159.1h6.0v6.0h-6.0zM349.3 159.1h6.0v6.0h-6.0zM253.3 315.1h6.0v6.0h-6.0zM247.3 321.1h6.0v6.0h-6.0z"/><path fill="#636363" d="M259.3 87.1h6.0v6.0h-6.0zM265.3 93.1h6.0v6.0h-6.0zM271.3 99.1h6.0v6.0h-6.0zM283.3 117.1h6.0v6.0h-6.0zM289.3 123.1h6.0v6.0h-6.0zM301.3 141.1h6.0v6.0h-6.0zM307.3 147.1h6.0v6.0h-6.0zM361.3 153.1h6.0v6.0h-6.0z"/><path fill="#646464" d="M253.3 87.1h6.0v6.0h-6.0zM259.3 93.1h6.0v6.0h-6.0zM271.3 105.1h6.0v6.0h-6.0zM277.3 111.1h6.0v6.0h-6.0zM295.3 135.1h6.0v6.0h-6.0zM313.3 153.1h6.0v6.0h-6.0zM319.3 159.1h6.0v6.0h-6.0zM331.3 165.1h12.0v6.0h-12.0z"/><path fill="#656565" d="M247.3 87.1h6.0v6.0h-6.0zM253.3 93.1h6.0v6.0h-6.0zM265.3 99.1h6.0v6.0h-6.0zM283.3 123.1h6.0v6.0h-6.0zM289.3 129.1h6.0v6.0h-6.0zM295.3 141.1h6.0v6.0h-6.0zM301.3 147.1h6.0v6.0h-6.0zM373.3 147.1h6.0v6.0h-6.0zM307.3 153.1h6.0v6.0h-6.0zM355.3 159.1h6.0v6.0h-6.0zM325.3 165.1h6.0v6.0h-6.0zM343.3 165.1h6.0v6.0h-6.0zM235.3 345.1h6.0v6.0h-6.0z"/><path fill="#666666" d="M247.3 93.1h6.0v6.0h-6.0zM259.3 99.1h6.0v6.0h-6.0zM265.3 105.1h6.0v6.0h-6.0zM271.3 111.1h6.0v6.0h-6.0zM277.3 117.1h6.0v6.0h-6.0zM289.3 135.1h6.0v6.0h-6.0zM295.3 147.1h6.0v6.0h-6.0zM301.3 153.1h6.0v6.0h-6.0zM367.3 153.1h6.0v6.0h-6.0zM313.3 159.1h6.0v6.0h-6.0zM319.3 165.1h6.0v6.0h-6.0z"/><path fill="#676767" d="M241.3 93.1h6.0v6.0h-6.0zM253.3 99.1h6.0v6.0h-6.0zM259.3 105.1h6.0v6.0h-6.0zM277.3 123.1h6.0v6.0h-6.0zM283.3 129.1h6.0v6.0h-6.0zM289.3 141.1h6.0v6.0h-6.0zM289.3 147.1h6.0v6.0h-6.0zM379.3 147.1h6.0v6.0h-6.0zM295.3 153.1h6.0v6.0h-6.0zM307.3 159.1h6.0v6.0h-6.0zM349.3 165.1h6.0v6.0h-6.0zM247.3 315.1h6.0v6.0h-6.0zM265.3 333.1h6.0v6.0h-6.0z"/><path fill="#686868" d="M235.3 93.1h6.0v6.0h-6.0zM241.3 99.1h12.0v6.0h-12.0zM253.3 105.1h6.0v6.0h-6.0zM265.3 111.1h6.0v6.0h-6.0zM271.3 117.1h6.0v6.0h-6.0zM283.3 135.1h6.0v6.0h-6.0zM283.3 141.1h6.0v6.0h-6.0zM289.3 153.1h6.0v6.0h-6.0zM301.3 159.1h6.0v6.0h-6.0zM361.3 159.1h6.0v6.0h-6.0zM313.3 165.1h6.0v6.0h-6.0zM331.3 171.1h12.0v6.0h-12.0zM253.3 309.1h6.0v6.0h-6.0zM241.3 327.1h6.0v6.0h-6.0zM265.3 327.1h6.0v6.0h-6.0z"/><path fill="#696969" d="M229.3 93.1h6.0v6.0h-6.0zM235.3 99.1h6.0v6.0h-6.0zM241.3 105.1h12.0v6.0h-12.0zM259.3 111.1h6.0v6.0h-6.0zM265.3 117.1h6.0v6.0h-6.0zM271.3 123.1h6.0v6.0h-6.0zM277.3 129.1h6.0v6.0h-6.0zM283.3 147.1h6.0v6.0h-6.0zM373.3 153.1h6.0v6.0h-6.0zM295.3 159.1h6.0v6.0h-6.0zM307.3 165.1h6.0v6.0h-6.0zM325.3 171.1h6.0v6.0h-6.0zM343.3 171.1h6.0v6.0h-6.0zM259.3 315.1h6.0v6.0h-6.0z"/><path fill="#6a6a6a" d="M229.3 99.1h6.0v6.0h-6.0zM235.3 105.1h6.0v6.0h-6.0zM247.3 111.1h12.0v6.0h-12.0zM259.3 117.1h6.0v6.0h-6.0zM271.3 129.1h6.0v6.0h-6.0zM277.3 135.1h6.0v6.0h-6.0zM277.3 141.1h6.0v6.0h-6.0zM283.3 153.1h6.0v6.0h-6.0zM289.3 159.1h6.0v6.0h-6.0zM301.3 165.1h6.0v6.0h-6.0zM355.3 165.1h6.0v6.0h-6.0zM319.3 171.1h6.0v6.0h-6.0z"/><path fill="#6b6b6b" d="M229.3 105.1h6.0v6.0h-6.0zM235.3 111.1h12.0v6.0h-12.0zM253.3 117.1h6.0v6.0h-6.0zM265.3 123.1h6.0v6.0h-6.0zM271.3 135.1h6.0v6.0h-6.0zM277.3 147.1h6.0v6.0h-6.0zM379.3 153.1h6.0v6.0h-6.0zM367.3 159.1h6.0v6.0h-6.0zM313.3 171.1h6.0v6.0h-6.0zM349.3 171.1h6.0v6.0h-6.0zM247.3 309.1h6.0v6.0h-6.0zM271.3 339.1h6.0v6.0h-6.0zM229.3 351.1h6.0v6.0h-6.0z"/><path fill="#6c6c6c" d="M229.3 111.1h6.0v6.0h-6.0zM241.3 117.1h12.0v6.0h-12.0zM253.3 123.1h12.0v6.0h-12.0zM265.3 129.1h6.0v6.0h-6.0zM271.3 141.1h6.0v6.0h-6.0zM277.3 153.1h6.0v6.0h-6.0zM283.3 159.1h6.0v6.0h-6.0zM295.3 165.1h6.0v6.0h-6.0zM307.3 171.1h6.0v6.0h-6.0zM331.3 177.1h18.0v6.0h-18.0zM235.3 339.1h6.0v6.0h-6.0z"/><path fill="#6d6d6d" d="M235.3 117.1h6.0v6.0h-6.0zM241.3 123.1h12.0v6.0h-12.0zM259.3 129.1h6.0v6.0h-6.0zM265.3 135.1h6.0v6.0h-6.0zM271.3 147.1h6.0v6.0h-6.0zM385.3 153.1h6.0v6.0h-6.0zM289.3 165.1h6.0v6.0h-6.0zM361.3 165.1h6.0v6.0h-6.0zM355.3 171.1h6.0v6.0h-6.0zM325.3 177.1h6.0v6.0h-6.0zM253.3 303.1h6.0v6.0h-6.0z"/><path fill="#6e6e6e" d="M229.3 117.1h6.0v6.0h-6.0zM235.3 123.1h6.0v6.0h-6.0zM247.3 129.1h12.0v6.0h-12.0zM259.3 135.1h6.0v6.0h-6.0zM265.3 141.1h6.0v6.0h-6.0zM277.3 159.1h6.0v6.0h-6.0zM373.3 159.1h6.0v6.0h-6.0zM301.3 171.1h6.0v6.0h-6.0zM319.3 177.1h6.0v6.0h-6.0zM349.3 177.1h6.0v6.0h-6.0zM247.3 303.1h6.0v6.0h-6.0z"/><path fill="#6f6f6f" d="M229.3 123.1h6.0v6.0h-6.0zM235.3 129.1h12.0v6.0h-12.0zM247.3 135.1h12.0v6.0h-12.0zM259.3 141.1h6.0v6.0h-6.0zM265.3 147.1h6.0v6.0h-6.0zM271.3 153.1h6.0v6.0h-6.0zM379.3 159.1h6.0v6.0h-6.0zM283.3 165.1h6.0v6.0h-6.0zM367.3 165.1h6.0v6.0h-6.0zM295.3 171.1h6.0v6.0h-6.0zM313.3 177.1h6.0v6.0h-6.0zM337.3 183.1h6.0v6.0h-6.0zM259.3 309.1h6.0v6.0h-6.0zM241.3 321.1h6.0v6.0h-6.0z"/><path fill="#707070" d="M229.3 129.1h6.0v6.0h-6.0zM241.3 135.1h6.0v6.0h-6.0zM253.3 141.1h6.0v6.0h-6.0zM361.3 171.1h6.0v6.0h-6.0zM307.3 177.1h6.0v6.0h-6.0zM355.3 177.1h6.0v6.0h-6.0zM331.3 183.1h6.0v6.0h-6.0zM343.3 183.1h12.0v6.0h-12.0zM265.3 321.1h6.0v6.0h-6.0zM235.3 333.1h6.0v6.0h-6.0z"/><path fill="#717171" d="M235.3 135.1h6.0v6.0h-6.0zM247.3 141.1h6.0v6.0h-6.0zM259.3 147.1h6.0v6.0h-6.0zM265.3 153.1h6.0v6.0h-6.0zM271.3 159.1h6.0v6.0h-6.0zM385.3 159.1h6.0v6.0h-6.0zM373.3 165.1h6.0v6.0h-6.0zM289.3 171.1h6.0v6.0h-6.0zM253.3 297.1h6.0v6.0h-6.0z"/><path fill="#727272" d="M229.3 135.1h6.0v6.0h-6.0zM241.3 141.1h6.0v6.0h-6.0zM253.3 147.1h6.0v6.0h-6.0zM391.3 159.1h6.0v6.0h-6.0zM277.3 165.1h6.0v6.0h-6.0zM367.3 171.1h6.0v6.0h-6.0zM301.3 177.1h6.0v6.0h-6.0zM361.3 177.1h6.0v6.0h-6.0zM325.3 183.1h6.0v6.0h-6.0zM355.3 183.1h6.0v6.0h-6.0zM247.3 297.1h6.0v6.0h-6.0z"/><path fill="#737373" d="M235.3 141.1h6.0v6.0h-6.0zM247.3 147.1h6.0v6.0h-6.0zM259.3 153.1h6.0v6.0h-6.0zM265.3 159.1h6.0v6.0h-6.0zM379.3 165.1h6.0v6.0h-6.0zM283.3 171.1h6.0v6.0h-6.0zM337.3 189.1h12.0v6.0h-12.0zM259.3 303.1h6.0v6.0h-6.0zM241.3 315.1h6.0v6.0h-6.0z"/><path fill="#747474" d="M229.3 141.1h6.0v6.0h-6.0zM241.3 147.1h6.0v6.0h-6.0zM271.3 165.1h6.0v6.0h-6.0zM385.3 165.1h6.0v6.0h-6.0zM373.3 171.1h6.0v6.0h-6.0zM295.3 177.1h6.0v6.0h-6.0zM367.3 177.1h6.0v6.0h-6.0zM319.3 183.1h6.0v6.0h-6.0zM361.3 183.1h6.0v6.0h-6.0zM349.3 189.1h12.0v6.0h-12.0zM241.3 309.1h6.0v6.0h-6.0zM271.3 333.1h6.0v6.0h-6.0z"/><path fill="#757575" d="M235.3 147.1h6.0v6.0h-6.0zM253.3 153.1h6.0v6.0h-6.0zM391.3 165.1h6.0v6.0h-6.0zM313.3 183.1h6.0v6.0h-6.0zM331.3 189.1h6.0v6.0h-6.0z"/><path fill="#767676" d="M229.3 147.1h6.0v6.0h-6.0zM247.3 153.1h6.0v6.0h-6.0zM259.3 159.1h6.0v6.0h-6.0zM277.3 171.1h6.0v6.0h-6.0zM379.3 171.1h6.0v6.0h-6.0zM289.3 177.1h6.0v6.0h-6.0zM373.3 177.1h6.0v6.0h-6.0zM367.3 183.1h6.0v6.0h-6.0zM361.3 189.1h6.0v6.0h-6.0zM241.3 303.1h6.0v6.0h-6.0zM277.3 339.1h6.0v6.0h-6.0zM229.3 345.1h6.0v6.0h-6.0z"/><path fill="#777777" d="M241.3 153.1h6.0v6.0h-6.0zM265.3 165.1h6.0v6.0h-6.0zM385.3 171.1h6.0v6.0h-6.0zM307.3 183.1h6.0v6.0h-6.0zM325.3 189.1h6.0v6.0h-6.0zM259.3 297.1h6.0v6.0h-6.0z"/><path fill="#787878" d="M235.3 153.1h6.0v6.0h-6.0zM253.3 159.1h6.0v6.0h-6.0zM271.3 171.1h6.0v6.0h-6.0zM283.3 177.1h6.0v6.0h-6.0zM379.3 177.1h6.0v6.0h-6.0zM301.3 183.1h6.0v6.0h-6.0zM373.3 183.1h6.0v6.0h-6.0zM367.3 189.1h6.0v6.0h-6.0zM337.3 195.1h24.0v6.0h-24.0zM247.3 291.1h12.0v6.0h-12.0z"/><path fill="#797979" d="M229.3 153.1h6.0v6.0h-6.0zM247.3 159.1h6.0v6.0h-6.0zM259.3 165.1h6.0v6.0h-6.0zM385.3 177.1h6.0v6.0h-6.0zM331.3 195.1h6.0v6.0h-6.0zM361.3 195.1h6.0v6.0h-6.0zM241.3 297.1h6.0v6.0h-6.0zM265.3 315.1h6.0v6.0h-6.0zM235.3 327.1h6.0v6.0h-6.0zM271.3 327.1h6.0v6.0h-6.0zM223.3 351.1h6.0v6.0h-6.0z"/><path fill="#7a7a7a" d="M241.3 159.1h6.0v6.0h-6.0zM265.3 171.1h6.0v6.0h-6.0zM277.3 177.1h6.0v6.0h-6.0zM295.3 183.1h6.0v6.0h-6.0zM379.3 183.1h6.0v6.0h-6.0zM319.3 189.1h6.0v6.0h-6.0zM373.3 189.1h6.0v6.0h-6.0zM367.3 195.1h6.0v6.0h-6.0z"/><path fill="#7b7b7b" d="M235.3 159.1h6.0v6.0h-6.0zM253.3 165.1h6.0v6.0h-6.0zM289.3 183.1h6.0v6.0h-6.0z"/><path fill="#7c7c7c" d="M229.3 159.1h6.0v6.0h-6.0zM271.3 177.1h6.0v6.0h-6.0zM379.3 189.1h6.0v6.0h-6.0zM325.3 195.1h6.0v6.0h-6.0zM373.3 195.1h6.0v6.0h-6.0zM259.3 291.1h6.0v6.0h-6.0z"/><path fill="#7d7d7d" d="M247.3 165.1h6.0v6.0h-6.0zM259.3 171.1h6.0v6.0h-6.0zM283.3 183.1h6.0v6.0h-6.0zM313.3 189.1h6.0v6.0h-6.0zM337.3 201.1h30.0v6.0h-30.0zM241.3 291.1h6.0v6.0h-6.0zM265.3 303.1h6.0v6.0h-6.0zM265.3 309.1h6.0v6.0h-6.0z"/><path fill="#7e7e7e" d="M241.3 165.1h6.0v6.0h-6.0zM331.3 201.1h6.0v6.0h-6.0zM367.3 201.1h6.0v6.0h-6.0zM229.3 339.1h6.0v6.0h-6.0z"/><path fill="#7f7f7f" d="M229.3 165.1h12.0v6.0h-12.0zM253.3 171.1h6.0v6.0h-6.0zM265.3 177.1h6.0v6.0h-6.0zM277.3 183.1h6.0v6.0h-6.0zM301.3 189.1h12.0v6.0h-12.0zM247.3 285.1h12.0v6.0h-12.0zM277.3 333.1h6.0v6.0h-6.0z"/><path fill="#808080" d="M247.3 171.1h6.0v6.0h-6.0zM259.3 177.1h6.0v6.0h-6.0zM295.3 189.1h6.0v6.0h-6.0zM319.3 195.1h6.0v6.0h-6.0zM265.3 297.1h6.0v6.0h-6.0zM235.3 321.1h6.0v6.0h-6.0z"/><path fill="#818181" d="M241.3 171.1h6.0v6.0h-6.0zM271.3 183.1h6.0v6.0h-6.0zM289.3 189.1h6.0v6.0h-6.0zM325.3 201.1h6.0v6.0h-6.0zM343.3 207.1h6.0v6.0h-6.0zM235.3 303.1h6.0v6.0h-6.0zM235.3 309.1h6.0v6.0h-6.0zM235.3 315.1h6.0v6.0h-6.0z"/><path fill="#828282" d="M229.3 171.1h12.0v6.0h-12.0zM253.3 177.1h6.0v6.0h-6.0zM283.3 189.1h6.0v6.0h-6.0zM337.3 207.1h6.0v6.0h-6.0zM349.3 207.1h24.0v6.0h-24.0z"/><path fill="#838383" d="M247.3 177.1h6.0v6.0h-6.0zM265.3 183.1h6.0v6.0h-6.0zM331.3 207.1h6.0v6.0h-6.0zM241.3 285.1h6.0v6.0h-6.0zM235.3 297.1h6.0v6.0h-6.0z"/><path fill="#848484" d="M241.3 177.1h6.0v6.0h-6.0zM259.3 183.1h6.0v6.0h-6.0zM277.3 189.1h6.0v6.0h-6.0zM313.3 195.1h6.0v6.0h-6.0zM259.3 285.1h6.0v6.0h-6.0zM271.3 321.1h6.0v6.0h-6.0zM229.3 333.1h6.0v6.0h-6.0zM223.3 345.1h6.0v6.0h-6.0z"/><path fill="#858585" d="M235.3 177.1h6.0v6.0h-6.0zM253.3 183.1h6.0v6.0h-6.0zM271.3 189.1h6.0v6.0h-6.0zM295.3 195.1h6.0v6.0h-6.0zM319.3 201.1h6.0v6.0h-6.0zM325.3 207.1h6.0v6.0h-6.0zM247.3 279.1h6.0v6.0h-6.0zM265.3 291.1h6.0v6.0h-6.0z"/><path fill="#868686" d="M247.3 183.1h6.0v6.0h-6.0zM289.3 195.1h6.0v6.0h-6.0zM301.3 195.1h12.0v6.0h-12.0zM337.3 213.1h30.0v6.0h-30.0zM253.3 279.1h6.0v6.0h-6.0zM235.3 291.1h6.0v6.0h-6.0z"/><path fill="#878787" d="M235.3 183.1h12.0v6.0h-12.0zM259.3 189.1h12.0v6.0h-12.0zM283.3 195.1h6.0v6.0h-6.0zM241.3 279.1h6.0v6.0h-6.0z"/><path fill="#888888" d="M253.3 189.1h6.0v6.0h-6.0zM313.3 201.1h6.0v6.0h-6.0zM319.3 207.1h6.0v6.0h-6.0zM331.3 213.1h6.0v6.0h-6.0zM277.3 327.1h6.0v6.0h-6.0zM283.3 333.1h6.0v6.0h-6.0z"/><path fill="#898989" d="M235.3 189.1h18.0v6.0h-18.0zM277.3 195.1h6.0v6.0h-6.0zM235.3 285.1h6.0v6.0h-6.0z"/><path fill="#8a8a8a" d="M235.3 195.1h18.0v6.0h-18.0zM265.3 195.1h12.0v6.0h-12.0zM295.3 201.1h18.0v6.0h-18.0zM325.3 213.1h6.0v6.0h-6.0zM343.3 219.1h24.0v6.0h-24.0zM247.3 273.1h6.0v6.0h-6.0zM271.3 297.1h6.0v6.0h-6.0zM271.3 303.1h6.0v6.0h-6.0zM229.3 327.1h6.0v6.0h-6.0z"/><path fill="#8b8b8b" d="M253.3 195.1h12.0v6.0h-12.0zM235.3 201.1h6.0v6.0h-6.0zM289.3 201.1h6.0v6.0h-6.0zM313.3 207.1h6.0v6.0h-6.0zM337.3 219.1h6.0v6.0h-6.0zM241.3 273.1h6.0v6.0h-6.0zM259.3 279.1h6.0v6.0h-6.0zM265.3 285.1h6.0v6.0h-6.0z"/><path fill="#8c8c8c" d="M241.3 201.1h12.0v6.0h-12.0zM283.3 201.1h6.0v6.0h-6.0zM229.3 207.1h12.0v6.0h-12.0zM307.3 207.1h6.0v6.0h-6.0zM319.3 213.1h6.0v6.0h-6.0zM331.3 219.1h6.0v6.0h-6.0zM229.3 303.1h6.0v6.0h-6.0zM229.3 309.1h6.0v6.0h-6.0z"/><path fill="#8d8d8d" d="M253.3 201.1h6.0v6.0h-6.0zM241.3 207.1h6.0v6.0h-6.0zM295.3 207.1h12.0v6.0h-12.0zM229.3 213.1h6.0v6.0h-6.0zM253.3 273.1h6.0v6.0h-6.0zM235.3 279.1h6.0v6.0h-6.0zM271.3 309.1h6.0v6.0h-6.0zM229.3 315.1h6.0v6.0h-6.0z"/><path fill="#8e8e8e" d="M259.3 201.1h24.0v6.0h-24.0zM247.3 207.1h6.0v6.0h-6.0zM235.3 213.1h12.0v6.0h-12.0zM313.3 213.1h6.0v6.0h-6.0zM229.3 219.1h12.0v6.0h-12.0zM325.3 219.1h6.0v6.0h-6.0zM229.3 225.1h6.0v6.0h-6.0zM343.3 225.1h18.0v6.0h-18.0zM241.3 267.1h6.0v6.0h-6.0zM271.3 291.1h6.0v6.0h-6.0zM229.3 297.1h6.0v6.0h-6.0zM271.3 315.1h6.0v6.0h-6.0zM229.3 321.1h6.0v6.0h-6.0zM223.3 339.1h6.0v6.0h-6.0zM217.3 345.1h6.0v6.0h-6.0z"/><path fill="#8f8f8f" d="M253.3 207.1h6.0v6.0h-6.0zM289.3 207.1h6.0v6.0h-6.0zM307.3 213.1h6.0v6.0h-6.0zM223.3 225.1h6.0v6.0h-6.0zM235.3 225.1h6.0v6.0h-6.0zM337.3 225.1h6.0v6.0h-6.0zM229.3 231.1h12.0v6.0h-12.0zM229.3 237.1h12.0v6.0h-12.0zM247.3 267.1h6.0v6.0h-6.0zM235.3 273.1h6.0v6.0h-6.0z"/><path fill="#909090" d="M247.3 213.1h6.0v6.0h-6.0zM301.3 213.1h6.0v6.0h-6.0zM241.3 219.1h6.0v6.0h-6.0zM319.3 219.1h6.0v6.0h-6.0zM331.3 225.1h6.0v6.0h-6.0zM223.3 231.1h6.0v6.0h-6.0zM223.3 237.1h6.0v6.0h-6.0zM229.3 243.1h12.0v6.0h-12.0zM229.3 249.1h12.0v6.0h-12.0zM235.3 255.1h6.0v6.0h-6.0zM241.3 261.1h6.0v6.0h-6.0zM235.3 267.1h6.0v6.0h-6.0zM229.3 291.1h6.0v6.0h-6.0z"/><path fill="#919191" d="M259.3 207.1h6.0v6.0h-6.0zM283.3 207.1h6.0v6.0h-6.0zM295.3 213.1h6.0v6.0h-6.0zM313.3 219.1h6.0v6.0h-6.0zM241.3 225.1h6.0v6.0h-6.0zM325.3 225.1h6.0v6.0h-6.0zM241.3 231.1h6.0v6.0h-6.0zM223.3 243.1h6.0v6.0h-6.0zM241.3 255.1h6.0v6.0h-6.0zM235.3 261.1h6.0v6.0h-6.0zM283.3 327.1h6.0v6.0h-6.0z"/><path fill="#929292" d="M265.3 207.1h6.0v6.0h-6.0zM277.3 207.1h6.0v6.0h-6.0zM253.3 213.1h6.0v6.0h-6.0zM247.3 219.1h6.0v6.0h-6.0zM337.3 231.1h18.0v6.0h-18.0zM241.3 237.1h6.0v6.0h-6.0zM241.3 243.1h6.0v6.0h-6.0zM241.3 249.1h6.0v6.0h-6.0zM229.3 255.1h6.0v6.0h-6.0zM247.3 261.1h6.0v6.0h-6.0zM253.3 267.1h6.0v6.0h-6.0zM259.3 273.1h6.0v6.0h-6.0zM265.3 279.1h6.0v6.0h-6.0zM229.3 285.1h6.0v6.0h-6.0zM277.3 321.1h6.0v6.0h-6.0z"/><path fill="#939393" d="M271.3 207.1h6.0v6.0h-6.0zM289.3 213.1h6.0v6.0h-6.0zM307.3 219.1h6.0v6.0h-6.0zM247.3 225.1h6.0v6.0h-6.0zM319.3 225.1h6.0v6.0h-6.0zM331.3 231.1h6.0v6.0h-6.0zM223.3 249.1h6.0v6.0h-6.0zM271.3 285.1h6.0v6.0h-6.0z"/><path fill="#949494" d="M259.3 213.1h6.0v6.0h-6.0zM301.3 219.1h6.0v6.0h-6.0zM247.3 231.1h6.0v6.0h-6.0zM217.3 243.1h6.0v6.0h-6.0zM247.3 255.1h6.0v6.0h-6.0zM229.3 261.1h6.0v6.0h-6.0zM229.3 279.1h6.0v6.0h-6.0zM277.3 297.1h6.0v6.0h-6.0zM277.3 303.1h6.0v6.0h-6.0zM223.3 333.1h6.0v6.0h-6.0z"/><path fill="#959595" d="M283.3 213.1h6.0v6.0h-6.0zM253.3 219.1h6.0v6.0h-6.0zM295.3 219.1h6.0v6.0h-6.0zM313.3 225.1h6.0v6.0h-6.0zM325.3 231.1h6.0v6.0h-6.0zM247.3 237.1h6.0v6.0h-6.0zM349.3 237.1h6.0v6.0h-6.0zM247.3 249.1h6.0v6.0h-6.0zM229.3 267.1h6.0v6.0h-6.0zM229.3 273.1h6.0v6.0h-6.0z"/><path fill="#969696" d="M265.3 213.1h6.0v6.0h-6.0zM307.3 225.1h6.0v6.0h-6.0zM337.3 237.1h12.0v6.0h-12.0zM247.3 243.1h6.0v6.0h-6.0zM223.3 255.1h6.0v6.0h-6.0zM253.3 261.1h6.0v6.0h-6.0zM277.3 291.1h6.0v6.0h-6.0zM223.3 309.1h6.0v6.0h-6.0zM223.3 315.1h6.0v6.0h-6.0zM289.3 327.1h6.0v6.0h-6.0z"/><path fill="#979797" d="M271.3 213.1h12.0v6.0h-12.0zM289.3 219.1h6.0v6.0h-6.0zM253.3 225.1h6.0v6.0h-6.0zM301.3 225.1h6.0v6.0h-6.0zM319.3 231.1h6.0v6.0h-6.0zM331.3 237.1h6.0v6.0h-6.0zM217.3 249.1h6.0v6.0h-6.0zM259.3 267.1h6.0v6.0h-6.0zM223.3 303.1h6.0v6.0h-6.0zM223.3 321.1h6.0v6.0h-6.0zM223.3 327.1h6.0v6.0h-6.0zM217.3 339.1h6.0v6.0h-6.0z"/><path fill="#989898" d="M259.3 219.1h6.0v6.0h-6.0zM253.3 231.1h6.0v6.0h-6.0zM313.3 231.1h6.0v6.0h-6.0zM265.3 273.1h6.0v6.0h-6.0zM223.3 297.1h6.0v6.0h-6.0zM277.3 309.1h6.0v6.0h-6.0z"/><path fill="#999999" d="M283.3 219.1h6.0v6.0h-6.0zM295.3 225.1h6.0v6.0h-6.0zM307.3 231.1h6.0v6.0h-6.0zM325.3 237.1h6.0v6.0h-6.0zM253.3 255.1h6.0v6.0h-6.0zM223.3 261.1h6.0v6.0h-6.0zM277.3 285.1h6.0v6.0h-6.0zM223.3 291.1h6.0v6.0h-6.0zM277.3 315.1h6.0v6.0h-6.0zM283.3 321.1h6.0v6.0h-6.0z"/><path fill="#9a9a9a" d="M253.3 237.1h6.0v6.0h-6.0zM319.3 237.1h6.0v6.0h-6.0zM343.3 243.1h6.0v6.0h-6.0zM253.3 249.1h6.0v6.0h-6.0zM217.3 255.1h6.0v6.0h-6.0zM271.3 279.1h6.0v6.0h-6.0z"/><path fill="#9b9b9b" d="M265.3 219.1h6.0v6.0h-6.0zM277.3 219.1h6.0v6.0h-6.0zM259.3 225.1h6.0v6.0h-6.0zM289.3 225.1h6.0v6.0h-6.0zM301.3 231.1h6.0v6.0h-6.0zM313.3 237.1h6.0v6.0h-6.0zM253.3 243.1h6.0v6.0h-6.0zM337.3 243.1h6.0v6.0h-6.0zM259.3 261.1h6.0v6.0h-6.0zM223.3 267.1h6.0v6.0h-6.0zM223.3 285.1h6.0v6.0h-6.0zM283.3 291.1h6.0v6.0h-6.0zM283.3 297.1h6.0v6.0h-6.0z"/><path fill="#9c9c9c" d="M271.3 219.1h6.0v6.0h-6.0zM307.3 237.1h6.0v6.0h-6.0zM325.3 243.1h12.0v6.0h-12.0zM265.3 267.1h6.0v6.0h-6.0zM223.3 273.1h6.0v6.0h-6.0zM223.3 279.1h6.0v6.0h-6.0zM283.3 303.1h6.0v6.0h-6.0z"/><path fill="#9d9d9d" d="M283.3 225.1h6.0v6.0h-6.0zM259.3 231.1h6.0v6.0h-6.0zM295.3 231.1h6.0v6.0h-6.0zM319.3 243.1h6.0v6.0h-6.0zM289.3 321.1h6.0v6.0h-6.0zM217.3 333.1h6.0v6.0h-6.0zM211.3 339.1h6.0v6.0h-6.0z"/><path fill="#9e9e9e" d="M265.3 225.1h6.0v6.0h-6.0zM301.3 237.1h6.0v6.0h-6.0zM313.3 243.1h6.0v6.0h-6.0zM343.3 249.1h6.0v6.0h-6.0zM211.3 255.1h6.0v6.0h-6.0zM259.3 255.1h6.0v6.0h-6.0zM217.3 261.1h6.0v6.0h-6.0zM271.3 273.1h6.0v6.0h-6.0zM277.3 279.1h6.0v6.0h-6.0zM283.3 285.1h6.0v6.0h-6.0zM283.3 309.1h6.0v6.0h-6.0zM283.3 315.1h6.0v6.0h-6.0z"/><path fill="#9f9f9f" d="M277.3 225.1h6.0v6.0h-6.0zM289.3 231.1h6.0v6.0h-6.0zM259.3 237.1h6.0v6.0h-6.0zM295.3 237.1h6.0v6.0h-6.0zM307.3 243.1h6.0v6.0h-6.0zM337.3 249.1h6.0v6.0h-6.0zM289.3 291.1h6.0v6.0h-6.0zM289.3 297.1h6.0v6.0h-6.0zM217.3 309.1h6.0v6.0h-6.0zM217.3 315.1h6.0v6.0h-6.0zM217.3 321.1h6.0v6.0h-6.0zM295.3 321.1h6.0v6.0h-6.0zM217.3 327.1h6.0v6.0h-6.0z"/><path fill="#a0a0a0" d="M271.3 225.1h6.0v6.0h-6.0zM301.3 243.1h6.0v6.0h-6.0zM259.3 249.1h6.0v6.0h-6.0zM325.3 249.1h12.0v6.0h-12.0zM265.3 261.1h6.0v6.0h-6.0zM283.3 279.1h6.0v6.0h-6.0zM289.3 285.1h6.0v6.0h-6.0zM217.3 303.1h6.0v6.0h-6.0zM289.3 303.1h6.0v6.0h-6.0z"/><path fill="#a1a1a1" d="M265.3 231.1h6.0v6.0h-6.0zM283.3 231.1h6.0v6.0h-6.0zM259.3 243.1h6.0v6.0h-6.0zM295.3 243.1h6.0v6.0h-6.0zM307.3 249.1h18.0v6.0h-18.0zM217.3 267.1h6.0v6.0h-6.0zM271.3 267.1h6.0v6.0h-6.0zM289.3 279.1h6.0v6.0h-6.0zM295.3 285.1h6.0v6.0h-6.0zM295.3 291.1h6.0v6.0h-6.0zM217.3 297.1h6.0v6.0h-6.0zM289.3 309.1h6.0v6.0h-6.0zM289.3 315.1h6.0v6.0h-6.0z"/><path fill="#a2a2a2" d="M289.3 237.1h6.0v6.0h-6.0zM301.3 249.1h6.0v6.0h-6.0zM343.3 255.1h6.0v6.0h-6.0zM211.3 261.1h6.0v6.0h-6.0zM289.3 267.1h6.0v6.0h-6.0zM217.3 273.1h6.0v6.0h-6.0zM277.3 273.1h24.0v6.0h-24.0zM295.3 279.1h6.0v6.0h-6.0zM301.3 285.1h6.0v6.0h-6.0zM217.3 291.1h6.0v6.0h-6.0zM301.3 291.1h6.0v6.0h-6.0zM295.3 297.1h6.0v6.0h-6.0zM295.3 315.1h6.0v6.0h-6.0zM211.3 333.1h6.0v6.0h-6.0z"/><path fill="#a3a3a3" d="M271.3 231.1h12.0v6.0h-12.0zM295.3 249.1h6.0v6.0h-6.0zM265.3 255.1h6.0v6.0h-6.0zM295.3 255.1h18.0v6.0h-18.0zM337.3 255.1h6.0v6.0h-6.0zM271.3 261.1h6.0v6.0h-6.0zM289.3 261.1h18.0v6.0h-18.0zM277.3 267.1h12.0v6.0h-12.0zM295.3 267.1h12.0v6.0h-12.0zM301.3 273.1h6.0v6.0h-6.0zM217.3 279.1h6.0v6.0h-6.0zM301.3 279.1h6.0v6.0h-6.0zM217.3 285.1h6.0v6.0h-6.0zM307.3 285.1h6.0v6.0h-6.0zM307.3 291.1h6.0v6.0h-6.0zM301.3 297.1h6.0v6.0h-6.0zM295.3 303.1h6.0v6.0h-6.0zM295.3 309.1h6.0v6.0h-6.0zM301.3 315.1h6.0v6.0h-6.0z"/><path fill="#a4a4a4" d="M265.3 237.1h6.0v6.0h-6.0zM283.3 237.1h6.0v6.0h-6.0zM289.3 243.1h6.0v6.0h-6.0zM289.3 249.1h6.0v6.0h-6.0zM289.3 255.1h6.0v6.0h-6.0zM313.3 255.1h24.0v6.0h-24.0zM283.3 261.1h6.0v6.0h-6.0zM307.3 261.1h6.0v6.0h-6.0zM307.3 279.1h6.0v6.0h-6.0zM307.3 297.1h6.0v6.0h-6.0zM301.3 303.1h6.0v6.0h-6.0zM301.3 309.1h6.0v6.0h-6.0z"/><path fill="#a5a5a5" d="M265.3 249.1h6.0v6.0h-6.0zM205.3 261.1h6.0v6.0h-6.0zM277.3 261.1h6.0v6.0h-6.0zM211.3 267.1h6.0v6.0h-6.0zM307.3 267.1h6.0v6.0h-6.0zM307.3 273.1h6.0v6.0h-6.0zM313.3 291.1h6.0v6.0h-6.0zM307.3 303.1h6.0v6.0h-6.0zM307.3 309.1h6.0v6.0h-6.0zM211.3 327.1h6.0v6.0h-6.0z"/><path fill="#a6a6a6" d="M271.3 237.1h12.0v6.0h-12.0zM265.3 243.1h6.0v6.0h-6.0zM283.3 243.1h6.0v6.0h-6.0zM283.3 249.1h6.0v6.0h-6.0zM271.3 255.1h6.0v6.0h-6.0zM283.3 255.1h6.0v6.0h-6.0zM313.3 261.1h6.0v6.0h-6.0zM337.3 261.1h6.0v6.0h-6.0zM313.3 285.1h6.0v6.0h-6.0zM313.3 297.1h6.0v6.0h-6.0zM313.3 303.1h6.0v6.0h-6.0zM211.3 315.1h6.0v6.0h-6.0zM211.3 321.1h6.0v6.0h-6.0zM205.3 333.1h6.0v6.0h-6.0z"/><path fill="#a7a7a7" d="M277.3 255.1h6.0v6.0h-6.0zM319.3 261.1h18.0v6.0h-18.0zM313.3 267.1h6.0v6.0h-6.0zM211.3 273.1h6.0v6.0h-6.0zM313.3 279.1h6.0v6.0h-6.0zM319.3 297.1h6.0v6.0h-6.0zM211.3 309.1h6.0v6.0h-6.0z"/><path fill="#a8a8a8" d="M271.3 243.1h12.0v6.0h-12.0zM271.3 249.1h12.0v6.0h-12.0zM205.3 267.1h6.0v6.0h-6.0zM313.3 273.1h6.0v6.0h-6.0zM211.3 279.1h6.0v6.0h-6.0zM319.3 285.1h6.0v6.0h-6.0zM319.3 291.1h6.0v6.0h-6.0zM211.3 297.1h6.0v6.0h-6.0zM211.3 303.1h6.0v6.0h-6.0z"/><path fill="#a9a9a9" d="M199.3 267.1h6.0v6.0h-6.0zM319.3 267.1h6.0v6.0h-6.0zM337.3 267.1h6.0v6.0h-6.0zM211.3 285.1h6.0v6.0h-6.0zM211.3 291.1h6.0v6.0h-6.0zM325.3 291.1h6.0v6.0h-6.0zM205.3 327.1h6.0v6.0h-6.0z"/><path fill="#aaaaaa" d="M325.3 267.1h12.0v6.0h-12.0zM205.3 273.1h6.0v6.0h-6.0zM319.3 273.1h6.0v6.0h-6.0zM337.3 273.1h6.0v6.0h-6.0zM319.3 279.1h6.0v6.0h-6.0zM325.3 285.1h6.0v6.0h-6.0zM175.3 303.1h12.0v6.0h-12.0zM175.3 309.1h6.0v6.0h-6.0z"/><path fill="#ababab" d="M325.3 273.1h12.0v6.0h-12.0zM325.3 279.1h6.0v6.0h-6.0zM331.3 285.1h6.0v6.0h-6.0zM175.3 297.1h12.0v6.0h-12.0zM181.3 309.1h6.0v6.0h-6.0zM181.3 315.1h6.0v6.0h-6.0zM205.3 321.1h6.0v6.0h-6.0zM199.3 327.1h6.0v6.0h-6.0z"/><path fill="#acacac" d="M193.3 273.1h12.0v6.0h-12.0zM205.3 279.1h6.0v6.0h-6.0zM331.3 279.1h6.0v6.0h-6.0zM181.3 291.1h6.0v6.0h-6.0zM187.3 303.1h6.0v6.0h-6.0zM187.3 309.1h6.0v6.0h-6.0zM205.3 315.1h6.0v6.0h-6.0zM187.3 321.1h6.0v6.0h-6.0z"/><path fill="#adadad" d="M199.3 279.1h6.0v6.0h-6.0zM187.3 285.1h6.0v6.0h-6.0zM205.3 285.1h6.0v6.0h-6.0zM187.3 291.1h6.0v6.0h-6.0zM205.3 291.1h6.0v6.0h-6.0zM187.3 297.1h6.0v6.0h-6.0zM205.3 297.1h6.0v6.0h-6.0zM205.3 303.1h6.0v6.0h-6.0zM205.3 309.1h6.0v6.0h-6.0zM187.3 315.1h6.0v6.0h-6.0zM199.3 321.1h6.0v6.0h-6.0z"/><path fill="#aeaeae" d="M193.3 279.1h6.0v6.0h-6.0zM193.3 285.1h12.0v6.0h-12.0zM193.3 297.1h6.0v6.0h-6.0zM193.3 303.1h6.0v6.0h-6.0zM193.3 315.1h6.0v6.0h-6.0zM193.3 321.1h6.0v6.0h-6.0z"/><path fill="#afafaf" d="M193.3 291.1h12.0v6.0h-12.0zM199.3 297.1h6.0v6.0h-6.0zM193.3 309.1h6.0v6.0h-6.0zM199.3 315.1h6.0v6.0h-6.0z"/><path fill="#b0b0b0" d="M199.3 303.1h6.0v6.0h-6.0zM199.3 309.1h6.0v6.0h-6.0z"/></g></g>
<use href="#land"/>
<use href="#dots"/>
<use href="#axl"/>
<path d="M432.3,64.8 L444.0,59.1 L455.7,64.8Z" fill="#fbc08a" stroke="#444" stroke-width="0.5"/>
<path d="M432.3,406.0 L444.0,411.7 L455.7,406.0Z" fill="#eccde6" stroke="#444" stroke-width="0.5"/>
<rect x="432.3" y="64.5" width="23.40" height="341.80" fill="url(#cbT)"/>
<path d="M432.3,64.5 V406.3 M455.7,64.5 V406.3" stroke="#444" stroke-width="0.6" fill="none"/>
<text transform="translate(465.6,73.8) scale(1,1.04)" font-size="29">30</text>
<path d="M432.3,123.4 h4.6 M455.7,123.4 h-4.6" stroke="#333" stroke-width="0.8" fill="none"/>
<text transform="translate(465.6,132.7) scale(1,1.04)" font-size="29">25</text>
<path d="M432.3,182.4 h4.6 M455.7,182.4 h-4.6" stroke="#333" stroke-width="0.8" fill="none"/>
<text transform="translate(465.6,191.7) scale(1,1.04)" font-size="29">20</text>
<path d="M432.3,241.3 h4.6 M455.7,241.3 h-4.6" stroke="#333" stroke-width="0.8" fill="none"/>
<text transform="translate(465.6,250.6) scale(1,1.04)" font-size="29">15</text>
<path d="M432.3,300.2 h4.6 M455.7,300.2 h-4.6" stroke="#333" stroke-width="0.8" fill="none"/>
<text transform="translate(465.6,309.5) scale(1,1.04)" font-size="29">10</text>
<path d="M432.3,359.2 h4.6 M455.7,359.2 h-4.6" stroke="#333" stroke-width="0.8" fill="none"/>
<text transform="translate(465.6,368.5) scale(1,1.04)" font-size="29">5</text>
<text transform="translate(430.8,401.6) rotate(-90)" font-size="18.6" textLength="126" lengthAdjust="spacingAndGlyphs">Ocean Data View</text>
<text class="b" transform="translate(364.5,374.8) scale(1,1.08)" font-size="27.6">B</text>
</g>
<g transform="translate(0.0,469.0)">
<use href="#frame"/>
<g clip-path="url(#dclip)"><g filter="url(#fS)"><rect x="160" y="55" width="260" height="360" fill="#a0a0a0"/><path fill="#242424" d="M247.3 147.1h6.0v6.0h-6.0z"/><path fill="#272727" d="M247.3 141.1h6.0v6.0h-6.0zM253.3 147.1h6.0v6.0h-6.0z"/><path fill="#282828" d="M241.3 147.1h6.0v6.0h-6.0z"/><path fill="#2a2a2a" d="M253.3 141.1h6.0v6.0h-6.0zM247.3 153.1h6.0v6.0h-6.0z"/><path fill="#2b2b2b" d="M241.3 153.1h6.0v6.0h-6.0z"/><path fill="#2c2c2c" d="M241.3 141.1h6.0v6.0h-6.0z"/><path fill="#2d2d2d" d="M235.3 147.1h6.0v6.0h-6.0zM253.3 153.1h6.0v6.0h-6.0z"/><path fill="#2f2f2f" d="M235.3 153.1h6.0v6.0h-6.0z"/><path fill="#323232" d="M235.3 141.1h6.0v6.0h-6.0zM241.3 159.1h12.0v6.0h-12.0z"/><path fill="#333333" d="M247.3 135.1h12.0v6.0h-12.0zM229.3 147.1h6.0v6.0h-6.0zM259.3 147.1h6.0v6.0h-6.0zM229.3 153.1h6.0v6.0h-6.0zM235.3 159.1h6.0v6.0h-6.0z"/><path fill="#353535" d="M259.3 141.1h6.0v6.0h-6.0zM253.3 159.1h6.0v6.0h-6.0z"/><path fill="#363636" d="M229.3 141.1h6.0v6.0h-6.0zM259.3 153.1h6.0v6.0h-6.0zM229.3 159.1h6.0v6.0h-6.0z"/><path fill="#373737" d="M241.3 135.1h6.0v6.0h-6.0z"/><path fill="#3a3a3a" d="M235.3 165.1h18.0v6.0h-18.0z"/><path fill="#3b3b3b" d="M235.3 135.1h6.0v6.0h-6.0zM259.3 159.1h6.0v6.0h-6.0zM229.3 165.1h6.0v6.0h-6.0z"/><path fill="#3c3c3c" d="M259.3 135.1h6.0v6.0h-6.0zM253.3 165.1h6.0v6.0h-6.0z"/><path fill="#3d3d3d" d="M229.3 135.1h6.0v6.0h-6.0z"/><path fill="#3e3e3e" d="M253.3 129.1h6.0v6.0h-6.0z"/><path fill="#404040" d="M247.3 129.1h6.0v6.0h-6.0z"/><path fill="#414141" d="M259.3 165.1h6.0v6.0h-6.0zM229.3 171.1h12.0v6.0h-12.0z"/><path fill="#424242" d="M241.3 171.1h6.0v6.0h-6.0z"/><path fill="#434343" d="M265.3 147.1h6.0v6.0h-6.0zM265.3 153.1h6.0v6.0h-6.0zM247.3 171.1h6.0v6.0h-6.0z"/><path fill="#444444" d="M229.3 129.1h12.0v6.0h-12.0zM259.3 129.1h6.0v6.0h-6.0zM253.3 171.1h6.0v6.0h-6.0z"/><path fill="#454545" d="M241.3 129.1h6.0v6.0h-6.0zM265.3 159.1h6.0v6.0h-6.0z"/><path fill="#464646" d="M265.3 141.1h6.0v6.0h-6.0z"/><path fill="#484848" d="M259.3 171.1h6.0v6.0h-6.0zM235.3 177.1h6.0v6.0h-6.0z"/><path fill="#494949" d="M247.3 123.1h12.0v6.0h-12.0z"/><path fill="#4a4a4a" d="M241.3 123.1h6.0v6.0h-6.0zM241.3 177.1h6.0v6.0h-6.0z"/><path fill="#4b4b4b" d="M229.3 123.1h12.0v6.0h-12.0zM265.3 165.1h6.0v6.0h-6.0zM247.3 177.1h6.0v6.0h-6.0z"/><path fill="#4c4c4c" d="M259.3 123.1h6.0v6.0h-6.0zM265.3 135.1h6.0v6.0h-6.0zM253.3 177.1h6.0v6.0h-6.0z"/><path fill="#4e4e4e" d="M259.3 177.1h6.0v6.0h-6.0z"/><path fill="#4f4f4f" d="M235.3 183.1h6.0v6.0h-6.0z"/><path fill="#505050" d="M265.3 171.1h6.0v6.0h-6.0z"/><path fill="#515151" d="M241.3 117.1h6.0v6.0h-6.0zM265.3 129.1h6.0v6.0h-6.0zM241.3 183.1h6.0v6.0h-6.0z"/><path fill="#525252" d="M235.3 117.1h6.0v6.0h-6.0z"/><path fill="#535353" d="M229.3 117.1h6.0v6.0h-6.0zM247.3 117.1h12.0v6.0h-12.0zM247.3 183.1h12.0v6.0h-12.0z"/><path fill="#545454" d="M259.3 117.1h6.0v6.0h-6.0zM271.3 153.1h6.0v6.0h-6.0zM235.3 189.1h6.0v6.0h-6.0z"/><path fill="#555555" d="M271.3 147.1h6.0v6.0h-6.0zM265.3 177.1h6.0v6.0h-6.0zM259.3 183.1h6.0v6.0h-6.0z"/><path fill="#565656" d="M265.3 123.1h6.0v6.0h-6.0zM271.3 159.1h6.0v6.0h-6.0zM235.3 195.1h6.0v6.0h-6.0zM229.3 207.1h6.0v6.0h-6.0z"/><path fill="#575757" d="M241.3 189.1h6.0v6.0h-6.0zM235.3 201.1h6.0v6.0h-6.0zM235.3 207.1h6.0v6.0h-6.0zM229.3 213.1h6.0v6.0h-6.0z"/><path fill="#585858" d="M235.3 213.1h6.0v6.0h-6.0z"/><path fill="#595959" d="M271.3 141.1h6.0v6.0h-6.0zM271.3 165.1h6.0v6.0h-6.0zM247.3 189.1h6.0v6.0h-6.0zM241.3 195.1h6.0v6.0h-6.0zM241.3 201.1h6.0v6.0h-6.0zM241.3 207.1h6.0v6.0h-6.0zM241.3 213.1h6.0v6.0h-6.0zM229.3 219.1h6.0v6.0h-6.0z"/><path fill="#5a5a5a" d="M265.3 117.1h6.0v6.0h-6.0zM253.3 189.1h6.0v6.0h-6.0zM247.3 201.1h6.0v6.0h-6.0zM235.3 219.1h6.0v6.0h-6.0z"/><path fill="#5b5b5b" d="M247.3 195.1h6.0v6.0h-6.0zM247.3 207.1h6.0v6.0h-6.0z"/><path fill="#5c5c5c" d="M259.3 111.1h6.0v6.0h-6.0zM271.3 171.1h6.0v6.0h-6.0zM265.3 183.1h6.0v6.0h-6.0zM253.3 195.1h6.0v6.0h-6.0zM247.3 213.1h6.0v6.0h-6.0zM241.3 219.1h6.0v6.0h-6.0z"/><path fill="#5d5d5d" d="M259.3 189.1h6.0v6.0h-6.0zM229.3 225.1h12.0v6.0h-12.0z"/><path fill="#5e5e5e" d="M229.3 111.1h6.0v6.0h-6.0zM253.3 111.1h6.0v6.0h-6.0zM265.3 111.1h6.0v6.0h-6.0zM253.3 201.1h6.0v6.0h-6.0z"/><path fill="#5f5f5f" d="M235.3 111.1h6.0v6.0h-6.0zM271.3 135.1h6.0v6.0h-6.0zM271.3 177.1h6.0v6.0h-6.0zM253.3 207.1h6.0v6.0h-6.0zM223.3 225.1h6.0v6.0h-6.0z"/><path fill="#606060" d="M247.3 219.1h6.0v6.0h-6.0z"/><path fill="#616161" d="M247.3 111.1h6.0v6.0h-6.0zM271.3 129.1h6.0v6.0h-6.0zM253.3 213.1h6.0v6.0h-6.0zM241.3 225.1h6.0v6.0h-6.0z"/><path fill="#626262" d="M241.3 111.1h6.0v6.0h-6.0z"/><path fill="#636363" d="M271.3 123.1h6.0v6.0h-6.0zM259.3 195.1h6.0v6.0h-6.0zM229.3 231.1h12.0v6.0h-12.0z"/><path fill="#646464" d="M271.3 117.1h6.0v6.0h-6.0z"/><path fill="#656565" d="M259.3 105.1h6.0v6.0h-6.0zM253.3 219.1h6.0v6.0h-6.0zM247.3 225.1h6.0v6.0h-6.0zM223.3 231.1h6.0v6.0h-6.0z"/><path fill="#666666" d="M265.3 105.1h6.0v6.0h-6.0zM271.3 183.1h6.0v6.0h-6.0zM265.3 189.1h6.0v6.0h-6.0zM259.3 201.1h6.0v6.0h-6.0zM241.3 231.1h6.0v6.0h-6.0z"/><path fill="#676767" d="M253.3 105.1h6.0v6.0h-6.0zM271.3 111.1h6.0v6.0h-6.0zM277.3 153.1h6.0v6.0h-6.0zM277.3 159.1h6.0v6.0h-6.0zM259.3 207.1h6.0v6.0h-6.0z"/><path fill="#686868" d="M229.3 105.1h6.0v6.0h-6.0zM259.3 213.1h6.0v6.0h-6.0z"/><path fill="#696969" d="M277.3 147.1h6.0v6.0h-6.0zM277.3 165.1h6.0v6.0h-6.0zM277.3 171.1h6.0v6.0h-6.0zM235.3 237.1h6.0v6.0h-6.0z"/><path fill="#6a6a6a" d="M277.3 177.1h6.0v6.0h-6.0zM229.3 237.1h6.0v6.0h-6.0z"/><path fill="#6b6b6b" d="M235.3 105.1h6.0v6.0h-6.0zM247.3 105.1h6.0v6.0h-6.0z"/><path fill="#6c6c6c" d="M259.3 219.1h6.0v6.0h-6.0zM253.3 225.1h6.0v6.0h-6.0zM247.3 231.1h6.0v6.0h-6.0zM241.3 237.1h6.0v6.0h-6.0z"/><path fill="#6d6d6d" d="M271.3 105.1h6.0v6.0h-6.0zM277.3 141.1h6.0v6.0h-6.0zM223.3 237.1h6.0v6.0h-6.0z"/><path fill="#6e6e6e" d="M259.3 99.1h6.0v6.0h-6.0zM241.3 105.1h6.0v6.0h-6.0zM265.3 195.1h6.0v6.0h-6.0z"/><path fill="#6f6f6f" d="M253.3 99.1h6.0v6.0h-6.0zM277.3 183.1h6.0v6.0h-6.0zM271.3 189.1h6.0v6.0h-6.0z"/><path fill="#707070" d="M265.3 99.1h6.0v6.0h-6.0zM235.3 243.1h6.0v6.0h-6.0z"/><path fill="#717171" d="M229.3 99.1h6.0v6.0h-6.0zM277.3 135.1h6.0v6.0h-6.0zM265.3 201.1h6.0v6.0h-6.0zM265.3 207.1h6.0v6.0h-6.0zM175.3 297.1h6.0v6.0h-6.0z"/><path fill="#727272" d="M247.3 99.1h6.0v6.0h-6.0zM277.3 123.1h6.0v6.0h-6.0zM277.3 129.1h6.0v6.0h-6.0zM265.3 213.1h6.0v6.0h-6.0zM247.3 237.1h6.0v6.0h-6.0zM229.3 243.1h6.0v6.0h-6.0zM241.3 243.1h6.0v6.0h-6.0zM175.3 303.1h6.0v6.0h-6.0z"/><path fill="#737373" d="M235.3 99.1h6.0v6.0h-6.0zM277.3 117.1h6.0v6.0h-6.0zM253.3 231.1h6.0v6.0h-6.0zM175.3 309.1h6.0v6.0h-6.0z"/><path fill="#747474" d="M241.3 99.1h6.0v6.0h-6.0zM277.3 111.1h6.0v6.0h-6.0zM283.3 177.1h6.0v6.0h-6.0zM259.3 225.1h6.0v6.0h-6.0z"/><path fill="#757575" d="M271.3 99.1h6.0v6.0h-6.0zM283.3 171.1h6.0v6.0h-6.0zM223.3 243.1h6.0v6.0h-6.0z"/><path fill="#767676" d="M283.3 165.1h6.0v6.0h-6.0zM265.3 219.1h6.0v6.0h-6.0z"/><path fill="#777777" d="M277.3 105.1h6.0v6.0h-6.0zM283.3 159.1h6.0v6.0h-6.0zM283.3 183.1h6.0v6.0h-6.0zM277.3 189.1h6.0v6.0h-6.0zM247.3 243.1h6.0v6.0h-6.0zM235.3 249.1h6.0v6.0h-6.0zM181.3 297.1h6.0v6.0h-6.0zM181.3 303.1h6.0v6.0h-6.0z"/><path fill="#787878" d="M229.3 93.1h6.0v6.0h-6.0zM253.3 93.1h6.0v6.0h-6.0zM283.3 153.1h6.0v6.0h-6.0zM271.3 195.1h6.0v6.0h-6.0zM241.3 249.1h6.0v6.0h-6.0z"/><path fill="#797979" d="M235.3 93.1h6.0v6.0h-6.0zM247.3 93.1h6.0v6.0h-6.0zM259.3 93.1h6.0v6.0h-6.0zM217.3 243.1h6.0v6.0h-6.0zM181.3 291.1h6.0v6.0h-6.0zM181.3 309.1h6.0v6.0h-6.0z"/><path fill="#7a7a7a" d="M241.3 93.1h6.0v6.0h-6.0zM229.3 249.1h6.0v6.0h-6.0z"/><path fill="#7b7b7b" d="M265.3 93.1h6.0v6.0h-6.0zM283.3 147.1h6.0v6.0h-6.0zM271.3 201.1h6.0v6.0h-6.0zM271.3 207.1h6.0v6.0h-6.0zM271.3 213.1h6.0v6.0h-6.0zM253.3 237.1h6.0v6.0h-6.0z"/><path fill="#7c7c7c" d="M277.3 99.1h6.0v6.0h-6.0z"/><path fill="#7d7d7d" d="M265.3 225.1h6.0v6.0h-6.0zM259.3 231.1h6.0v6.0h-6.0zM247.3 249.1h6.0v6.0h-6.0zM235.3 255.1h12.0v6.0h-12.0zM187.3 297.1h6.0v6.0h-6.0zM187.3 303.1h6.0v6.0h-6.0zM181.3 315.1h6.0v6.0h-6.0z"/><path fill="#7e7e7e" d="M271.3 219.1h6.0v6.0h-6.0z"/><path fill="#7f7f7f" d="M271.3 93.1h6.0v6.0h-6.0zM283.3 141.1h6.0v6.0h-6.0zM283.3 189.1h6.0v6.0h-6.0zM277.3 195.1h6.0v6.0h-6.0zM223.3 249.1h6.0v6.0h-6.0zM187.3 309.1h6.0v6.0h-6.0z"/><path fill="#808080" d="M247.3 87.1h6.0v6.0h-6.0zM289.3 177.1h6.0v6.0h-6.0zM253.3 243.1h6.0v6.0h-6.0zM187.3 291.1h6.0v6.0h-6.0z"/><path fill="#818181" d="M253.3 87.1h6.0v6.0h-6.0zM289.3 171.1h6.0v6.0h-6.0zM229.3 255.1h6.0v6.0h-6.0z"/><path fill="#828282" d="M259.3 87.1h6.0v6.0h-6.0zM283.3 135.1h6.0v6.0h-6.0zM289.3 183.1h6.0v6.0h-6.0zM247.3 255.1h6.0v6.0h-6.0z"/><path fill="#838383" d="M283.3 117.1h6.0v6.0h-6.0zM283.3 123.1h6.0v6.0h-6.0zM283.3 129.1h6.0v6.0h-6.0zM289.3 165.1h6.0v6.0h-6.0zM277.3 201.1h6.0v6.0h-6.0zM277.3 207.1h6.0v6.0h-6.0zM235.3 261.1h12.0v6.0h-12.0zM187.3 285.1h6.0v6.0h-6.0z"/><path fill="#848484" d="M277.3 93.1h6.0v6.0h-6.0zM283.3 105.1h6.0v6.0h-6.0zM283.3 111.1h6.0v6.0h-6.0zM289.3 159.1h6.0v6.0h-6.0zM217.3 249.1h6.0v6.0h-6.0z"/><path fill="#858585" d="M265.3 87.1h6.0v6.0h-6.0zM229.3 261.1h6.0v6.0h-6.0zM247.3 261.1h6.0v6.0h-6.0zM193.3 303.1h6.0v6.0h-6.0zM187.3 315.1h6.0v6.0h-6.0z"/><path fill="#868686" d="M289.3 153.1h6.0v6.0h-6.0zM277.3 213.1h6.0v6.0h-6.0zM253.3 249.1h6.0v6.0h-6.0zM193.3 297.1h6.0v6.0h-6.0z"/><path fill="#878787" d="M283.3 99.1h6.0v6.0h-6.0zM283.3 195.1h6.0v6.0h-6.0zM271.3 225.1h6.0v6.0h-6.0zM259.3 237.1h6.0v6.0h-6.0zM223.3 255.1h6.0v6.0h-6.0z"/><path fill="#888888" d="M265.3 231.1h6.0v6.0h-6.0z"/><path fill="#898989" d="M289.3 189.1h6.0v6.0h-6.0zM193.3 309.1h6.0v6.0h-6.0z"/><path fill="#8a8a8a" d="M271.3 87.1h6.0v6.0h-6.0zM289.3 147.1h6.0v6.0h-6.0zM277.3 219.1h6.0v6.0h-6.0zM253.3 255.1h6.0v6.0h-6.0zM193.3 291.1h6.0v6.0h-6.0z"/><path fill="#8b8b8b" d="M187.3 321.1h6.0v6.0h-6.0z"/><path fill="#8c8c8c" d="M283.3 201.1h6.0v6.0h-6.0zM247.3 267.1h6.0v6.0h-6.0z"/><path fill="#8d8d8d" d="M283.3 93.1h6.0v6.0h-6.0zM253.3 261.1h6.0v6.0h-6.0zM229.3 267.1h6.0v6.0h-6.0zM241.3 267.1h6.0v6.0h-6.0zM193.3 285.1h6.0v6.0h-6.0z"/><path fill="#8e8e8e" d="M289.3 141.1h6.0v6.0h-6.0zM295.3 177.1h6.0v6.0h-6.0zM259.3 243.1h6.0v6.0h-6.0zM217.3 255.1h6.0v6.0h-6.0zM235.3 267.1h6.0v6.0h-6.0z"/><path fill="#8f8f8f" d="M265.3 81.1h6.0v6.0h-6.0zM295.3 171.1h6.0v6.0h-6.0zM283.3 207.1h6.0v6.0h-6.0zM223.3 261.1h6.0v6.0h-6.0zM193.3 273.1h6.0v6.0h-6.0zM193.3 279.1h6.0v6.0h-6.0z"/><path fill="#909090" d="M277.3 87.1h6.0v6.0h-6.0zM295.3 183.1h6.0v6.0h-6.0z"/><path fill="#919191" d="M289.3 123.1h6.0v6.0h-6.0zM289.3 135.1h6.0v6.0h-6.0zM295.3 165.1h6.0v6.0h-6.0zM289.3 195.1h6.0v6.0h-6.0zM271.3 231.1h6.0v6.0h-6.0zM211.3 255.1h6.0v6.0h-6.0zM193.3 315.1h6.0v6.0h-6.0z"/><path fill="#929292" d="M289.3 129.1h6.0v6.0h-6.0zM295.3 159.1h6.0v6.0h-6.0zM283.3 213.1h6.0v6.0h-6.0zM199.3 303.1h6.0v6.0h-6.0z"/><path fill="#939393" d="M289.3 105.1h6.0v6.0h-6.0zM289.3 111.1h6.0v6.0h-6.0zM289.3 117.1h6.0v6.0h-6.0zM277.3 225.1h6.0v6.0h-6.0zM259.3 249.1h6.0v6.0h-6.0zM253.3 267.1h6.0v6.0h-6.0zM199.3 297.1h6.0v6.0h-6.0z"/><path fill="#949494" d="M271.3 81.1h6.0v6.0h-6.0zM295.3 153.1h6.0v6.0h-6.0zM265.3 237.1h6.0v6.0h-6.0z"/><path fill="#959595" d="M289.3 99.1h6.0v6.0h-6.0zM295.3 189.1h6.0v6.0h-6.0z"/><path fill="#969696" d="M283.3 219.1h6.0v6.0h-6.0zM259.3 255.1h6.0v6.0h-6.0zM199.3 267.1h6.0v6.0h-6.0zM199.3 291.1h6.0v6.0h-6.0zM193.3 321.1h6.0v6.0h-6.0z"/><path fill="#979797" d="M295.3 147.1h6.0v6.0h-6.0zM205.3 261.1h6.0v6.0h-6.0zM199.3 309.1h6.0v6.0h-6.0z"/><path fill="#989898" d="M223.3 267.1h6.0v6.0h-6.0zM199.3 273.1h6.0v6.0h-6.0zM199.3 285.1h6.0v6.0h-6.0z"/><path fill="#999999" d="M283.3 87.1h6.0v6.0h-6.0zM301.3 177.1h6.0v6.0h-6.0zM289.3 201.1h6.0v6.0h-6.0zM217.3 261.1h6.0v6.0h-6.0zM259.3 261.1h6.0v6.0h-6.0zM199.3 279.1h6.0v6.0h-6.0z"/><path fill="#9a9a9a" d="M277.3 81.1h6.0v6.0h-6.0zM295.3 141.1h6.0v6.0h-6.0zM301.3 171.1h6.0v6.0h-6.0zM277.3 231.1h6.0v6.0h-6.0zM211.3 261.1h6.0v6.0h-6.0z"/><path fill="#9b9b9b" d="M289.3 93.1h6.0v6.0h-6.0zM301.3 183.1h6.0v6.0h-6.0zM295.3 195.1h6.0v6.0h-6.0zM271.3 237.1h6.0v6.0h-6.0zM247.3 273.1h6.0v6.0h-6.0z"/><path fill="#9c9c9c" d="M301.3 165.1h6.0v6.0h-6.0zM289.3 207.1h6.0v6.0h-6.0zM205.3 267.1h6.0v6.0h-6.0z"/><path fill="#9d9d9d" d="M295.3 123.1h6.0v6.0h-6.0zM295.3 135.1h6.0v6.0h-6.0zM301.3 189.1h6.0v6.0h-6.0zM289.3 213.1h6.0v6.0h-6.0zM283.3 225.1h6.0v6.0h-6.0zM229.3 273.1h6.0v6.0h-6.0z"/><path fill="#9e9e9e" d="M295.3 105.1h6.0v6.0h-6.0zM295.3 129.1h6.0v6.0h-6.0zM289.3 219.1h6.0v6.0h-6.0zM265.3 243.1h6.0v6.0h-6.0zM241.3 273.1h6.0v6.0h-6.0zM253.3 273.1h6.0v6.0h-6.0z"/><path fill="#9f9f9f" d="M295.3 99.1h6.0v6.0h-6.0zM295.3 117.1h6.0v6.0h-6.0zM301.3 153.1h6.0v6.0h-6.0zM301.3 159.1h6.0v6.0h-6.0zM259.3 267.1h6.0v6.0h-6.0zM205.3 273.1h6.0v6.0h-6.0zM235.3 273.1h6.0v6.0h-6.0z"/><path fill="#a0a0a0" d="M295.3 111.1h6.0v6.0h-6.0zM301.3 147.1h6.0v6.0h-6.0zM307.3 171.1h6.0v6.0h-6.0zM307.3 177.1h6.0v6.0h-6.0zM223.3 273.1h6.0v6.0h-6.0zM205.3 297.1h6.0v6.0h-6.0zM205.3 303.1h6.0v6.0h-6.0zM199.3 315.1h6.0v6.0h-6.0z"/><path fill="#a1a1a1" d="M307.3 183.1h6.0v6.0h-6.0zM301.3 195.1h6.0v6.0h-6.0zM295.3 201.1h6.0v6.0h-6.0zM277.3 237.1h6.0v6.0h-6.0zM265.3 249.1h6.0v6.0h-6.0zM211.3 267.1h12.0v6.0h-12.0zM205.3 279.1h6.0v6.0h-6.0z"/><path fill="#a2a2a2" d="M283.3 81.1h6.0v6.0h-6.0zM301.3 141.1h6.0v6.0h-6.0zM307.3 165.1h6.0v6.0h-6.0zM289.3 225.1h6.0v6.0h-6.0zM283.3 231.1h6.0v6.0h-6.0zM265.3 255.1h6.0v6.0h-6.0zM205.3 285.1h6.0v6.0h-6.0zM205.3 291.1h6.0v6.0h-6.0zM199.3 321.1h6.0v6.0h-6.0z"/><path fill="#a3a3a3" d="M301.3 135.1h6.0v6.0h-6.0zM307.3 189.1h6.0v6.0h-6.0zM271.3 243.1h6.0v6.0h-6.0zM199.3 327.1h6.0v6.0h-6.0z"/><path fill="#a4a4a4" d="M289.3 87.1h6.0v6.0h-6.0zM295.3 93.1h6.0v6.0h-6.0zM301.3 105.1h6.0v6.0h-6.0zM301.3 111.1h6.0v6.0h-6.0zM301.3 117.1h6.0v6.0h-6.0zM301.3 123.1h6.0v6.0h-6.0zM301.3 129.1h6.0v6.0h-6.0zM307.3 159.1h6.0v6.0h-6.0zM313.3 171.1h6.0v6.0h-6.0zM313.3 177.1h6.0v6.0h-6.0zM295.3 207.1h6.0v6.0h-6.0zM265.3 261.1h6.0v6.0h-6.0zM211.3 273.1h12.0v6.0h-12.0zM205.3 309.1h6.0v6.0h-6.0z"/><path fill="#a5a5a5" d="M301.3 99.1h6.0v6.0h-6.0zM307.3 105.1h6.0v6.0h-6.0zM307.3 129.1h6.0v6.0h-6.0zM307.3 147.1h6.0v6.0h-6.0zM307.3 153.1h6.0v6.0h-6.0zM313.3 165.1h6.0v6.0h-6.0zM313.3 183.1h6.0v6.0h-6.0zM295.3 213.1h6.0v6.0h-6.0zM277.3 243.1h6.0v6.0h-6.0z"/><path fill="#a6a6a6" d="M307.3 111.1h6.0v6.0h-6.0zM307.3 117.1h6.0v6.0h-6.0zM307.3 123.1h6.0v6.0h-6.0zM313.3 129.1h6.0v6.0h-6.0zM307.3 135.1h6.0v6.0h-6.0zM307.3 141.1h6.0v6.0h-6.0zM313.3 159.1h6.0v6.0h-6.0zM307.3 195.1h6.0v6.0h-6.0zM301.3 201.1h6.0v6.0h-6.0zM259.3 273.1h6.0v6.0h-6.0zM211.3 279.1h6.0v6.0h-6.0z"/><path fill="#a7a7a7" d="M313.3 105.1h6.0v6.0h-6.0zM313.3 111.1h6.0v6.0h-6.0zM313.3 117.1h6.0v6.0h-6.0zM313.3 123.1h12.0v6.0h-12.0zM319.3 129.1h6.0v6.0h-6.0zM313.3 135.1h6.0v6.0h-6.0zM313.3 141.1h6.0v6.0h-6.0zM313.3 147.1h6.0v6.0h-6.0zM313.3 153.1h6.0v6.0h-6.0zM319.3 159.1h6.0v6.0h-6.0zM319.3 165.1h6.0v6.0h-6.0zM319.3 171.1h6.0v6.0h-6.0zM319.3 177.1h6.0v6.0h-6.0zM313.3 189.1h6.0v6.0h-6.0zM295.3 219.1h6.0v6.0h-6.0zM271.3 249.1h6.0v6.0h-6.0zM217.3 279.1h6.0v6.0h-6.0zM247.3 279.1h6.0v6.0h-6.0z"/><path fill="#a8a8a8" d="M307.3 99.1h6.0v6.0h-6.0zM319.3 111.1h6.0v6.0h-6.0zM319.3 117.1h6.0v6.0h-6.0zM325.3 129.1h6.0v6.0h-6.0zM319.3 135.1h12.0v6.0h-12.0zM319.3 141.1h6.0v6.0h-6.0zM319.3 147.1h6.0v6.0h-6.0zM319.3 153.1h6.0v6.0h-6.0zM319.3 183.1h6.0v6.0h-6.0zM283.3 237.1h6.0v6.0h-6.0zM265.3 267.1h6.0v6.0h-6.0zM223.3 279.1h6.0v6.0h-6.0zM253.3 279.1h6.0v6.0h-6.0z"/><path fill="#a9a9a9" d="M283.3 75.1h6.0v6.0h-6.0zM301.3 93.1h6.0v6.0h-6.0zM325.3 117.1h6.0v6.0h-6.0zM325.3 123.1h6.0v6.0h-6.0zM331.3 129.1h6.0v6.0h-6.0zM331.3 135.1h6.0v6.0h-6.0zM325.3 141.1h6.0v6.0h-6.0zM325.3 147.1h6.0v6.0h-6.0zM325.3 153.1h6.0v6.0h-6.0zM325.3 159.1h6.0v6.0h-6.0zM325.3 165.1h6.0v6.0h-6.0zM301.3 207.1h6.0v6.0h-6.0zM289.3 231.1h6.0v6.0h-6.0zM229.3 279.1h6.0v6.0h-6.0zM211.3 285.1h6.0v6.0h-6.0z"/><path fill="#aaaaaa" d="M289.3 81.1h6.0v6.0h-6.0zM313.3 99.1h6.0v6.0h-6.0zM319.3 105.1h6.0v6.0h-6.0zM325.3 111.1h6.0v6.0h-6.0zM331.3 123.1h6.0v6.0h-6.0zM331.3 141.1h6.0v6.0h-6.0zM331.3 147.1h6.0v6.0h-6.0zM325.3 171.1h6.0v6.0h-6.0zM325.3 177.1h6.0v6.0h-6.0zM307.3 201.1h6.0v6.0h-6.0zM271.3 255.1h6.0v6.0h-6.0zM241.3 279.1h6.0v6.0h-6.0zM205.3 315.1h6.0v6.0h-6.0z"/><path fill="#ababab" d="M295.3 87.1h6.0v6.0h-6.0zM331.3 117.1h6.0v6.0h-6.0zM337.3 129.1h6.0v6.0h-6.0zM337.3 135.1h6.0v6.0h-6.0zM337.3 141.1h6.0v6.0h-6.0zM331.3 153.1h6.0v6.0h-6.0zM319.3 189.1h6.0v6.0h-6.0zM313.3 195.1h6.0v6.0h-6.0zM295.3 225.1h6.0v6.0h-6.0zM277.3 249.1h6.0v6.0h-6.0zM235.3 279.1h6.0v6.0h-6.0zM211.3 291.1h6.0v6.0h-6.0zM205.3 321.1h6.0v6.0h-6.0zM205.3 327.1h6.0v6.0h-6.0z"/><path fill="#acacac" d="M307.3 93.1h6.0v6.0h-6.0zM325.3 105.1h6.0v6.0h-6.0zM337.3 123.1h6.0v6.0h-6.0zM337.3 147.1h6.0v6.0h-6.0zM331.3 159.1h6.0v6.0h-6.0zM331.3 165.1h6.0v6.0h-6.0zM325.3 183.1h6.0v6.0h-6.0zM301.3 213.1h6.0v6.0h-6.0zM265.3 273.1h6.0v6.0h-6.0zM259.3 279.1h6.0v6.0h-6.0zM211.3 297.1h6.0v6.0h-6.0z"/><path fill="#adadad" d="M319.3 99.1h6.0v6.0h-6.0zM331.3 111.1h6.0v6.0h-6.0zM337.3 117.1h6.0v6.0h-6.0zM343.3 135.1h6.0v6.0h-6.0zM343.3 141.1h6.0v6.0h-6.0zM337.3 153.1h6.0v6.0h-6.0zM331.3 171.1h6.0v6.0h-6.0zM307.3 207.1h6.0v6.0h-6.0zM271.3 261.1h6.0v6.0h-6.0zM217.3 285.1h6.0v6.0h-6.0zM211.3 303.1h6.0v6.0h-6.0z"/><path fill="#aeaeae" d="M313.3 93.1h6.0v6.0h-6.0zM343.3 129.1h6.0v6.0h-6.0zM343.3 147.1h6.0v6.0h-6.0zM337.3 159.1h6.0v6.0h-6.0zM331.3 177.1h6.0v6.0h-6.0zM283.3 243.1h6.0v6.0h-6.0z"/><path fill="#afafaf" d="M301.3 87.1h6.0v6.0h-6.0zM325.3 99.1h6.0v6.0h-6.0zM331.3 105.1h6.0v6.0h-6.0zM337.3 111.1h6.0v6.0h-6.0zM343.3 123.1h6.0v6.0h-6.0zM343.3 153.1h6.0v6.0h-6.0zM337.3 165.1h6.0v6.0h-6.0zM331.3 183.1h6.0v6.0h-6.0zM325.3 189.1h6.0v6.0h-6.0zM313.3 201.1h6.0v6.0h-6.0zM247.3 285.1h6.0v6.0h-6.0zM205.3 333.1h6.0v6.0h-6.0z"/><path fill="#b0b0b0" d="M289.3 75.1h6.0v6.0h-6.0zM295.3 81.1h6.0v6.0h-6.0zM343.3 117.1h6.0v6.0h-6.0zM349.3 129.1h6.0v6.0h-6.0zM349.3 135.1h6.0v6.0h-6.0zM349.3 141.1h6.0v6.0h-6.0zM337.3 171.1h6.0v6.0h-6.0zM319.3 195.1h6.0v6.0h-6.0zM271.3 267.1h6.0v6.0h-6.0zM265.3 279.1h6.0v6.0h-6.0zM223.3 285.1h6.0v6.0h-6.0zM241.3 285.1h6.0v6.0h-6.0zM253.3 285.1h6.0v6.0h-6.0zM211.3 309.1h6.0v6.0h-6.0z"/><path fill="#b1b1b1" d="M307.3 87.1h6.0v6.0h-6.0zM349.3 147.1h6.0v6.0h-6.0zM343.3 159.1h6.0v6.0h-6.0zM337.3 177.1h6.0v6.0h-6.0zM307.3 213.1h6.0v6.0h-6.0zM289.3 237.1h6.0v6.0h-6.0zM277.3 255.1h6.0v6.0h-6.0zM229.3 285.1h12.0v6.0h-12.0z"/><path fill="#b2b2b2" d="M349.3 123.1h6.0v6.0h-6.0zM349.3 153.1h6.0v6.0h-6.0zM343.3 165.1h6.0v6.0h-6.0zM301.3 219.1h6.0v6.0h-6.0zM259.3 285.1h6.0v6.0h-6.0zM217.3 291.1h6.0v6.0h-6.0z"/><path fill="#b3b3b3" d="M355.3 135.1h6.0v6.0h-6.0zM355.3 141.1h6.0v6.0h-6.0zM349.3 159.1h6.0v6.0h-6.0zM343.3 171.1h6.0v6.0h-6.0zM337.3 183.1h6.0v6.0h-6.0zM331.3 189.1h6.0v6.0h-6.0zM313.3 207.1h6.0v6.0h-6.0zM271.3 273.1h6.0v6.0h-6.0zM211.3 315.1h6.0v6.0h-6.0z"/><path fill="#b4b4b4" d="M301.3 81.1h6.0v6.0h-6.0zM355.3 129.1h6.0v6.0h-6.0zM355.3 147.1h6.0v6.0h-6.0zM349.3 165.1h6.0v6.0h-6.0zM325.3 195.1h6.0v6.0h-6.0zM295.3 231.1h6.0v6.0h-6.0zM283.3 249.1h6.0v6.0h-6.0zM211.3 321.1h6.0v6.0h-6.0z"/><path fill="#b5b5b5" d="M295.3 75.1h6.0v6.0h-6.0zM355.3 153.1h6.0v6.0h-6.0zM349.3 171.1h6.0v6.0h-6.0zM343.3 177.1h6.0v6.0h-6.0zM319.3 201.1h6.0v6.0h-6.0zM265.3 285.1h6.0v6.0h-6.0zM241.3 291.1h12.0v6.0h-12.0z"/><path fill="#b6b6b6" d="M355.3 159.1h6.0v6.0h-6.0zM277.3 261.1h6.0v6.0h-6.0zM271.3 279.1h6.0v6.0h-6.0zM223.3 291.1h6.0v6.0h-6.0zM235.3 291.1h6.0v6.0h-6.0zM253.3 291.1h6.0v6.0h-6.0zM217.3 297.1h6.0v6.0h-6.0zM211.3 327.1h6.0v6.0h-6.0z"/><path fill="#b7b7b7" d="M361.3 135.1h6.0v6.0h-6.0zM361.3 141.1h6.0v6.0h-6.0zM361.3 147.1h6.0v6.0h-6.0zM355.3 165.1h6.0v6.0h-6.0zM349.3 177.1h6.0v6.0h-6.0zM343.3 183.1h6.0v6.0h-6.0zM337.3 189.1h6.0v6.0h-6.0zM289.3 243.1h6.0v6.0h-6.0zM229.3 291.1h6.0v6.0h-6.0zM259.3 291.1h6.0v6.0h-6.0z"/><path fill="#b8b8b8" d="M361.3 153.1h6.0v6.0h-6.0zM355.3 171.1h6.0v6.0h-6.0zM313.3 213.1h6.0v6.0h-6.0zM265.3 291.1h6.0v6.0h-6.0z"/><path fill="#b9b9b9" d="M361.3 159.1h6.0v6.0h-6.0zM355.3 177.1h6.0v6.0h-6.0zM331.3 195.1h6.0v6.0h-6.0zM307.3 219.1h6.0v6.0h-6.0zM271.3 285.1h6.0v6.0h-6.0zM217.3 303.1h6.0v6.0h-6.0z"/><path fill="#bababa" d="M349.3 183.1h6.0v6.0h-6.0zM319.3 207.1h6.0v6.0h-6.0zM301.3 225.1h6.0v6.0h-6.0zM283.3 255.1h6.0v6.0h-6.0zM277.3 267.1h6.0v6.0h-6.0zM247.3 297.1h6.0v6.0h-6.0zM271.3 297.1h6.0v6.0h-6.0z"/><path fill="#bbbbbb" d="M367.3 141.1h6.0v6.0h-6.0zM361.3 165.1h6.0v6.0h-6.0zM361.3 171.1h6.0v6.0h-6.0zM343.3 189.1h6.0v6.0h-6.0zM325.3 201.1h6.0v6.0h-6.0zM271.3 291.1h6.0v6.0h-6.0zM223.3 297.1h6.0v6.0h-6.0zM241.3 297.1h6.0v6.0h-6.0zM265.3 297.1h6.0v6.0h-6.0zM211.3 333.1h6.0v6.0h-6.0z"/><path fill="#bcbcbc" d="M367.3 147.1h6.0v6.0h-6.0zM367.3 153.1h6.0v6.0h-6.0zM361.3 177.1h6.0v6.0h-6.0zM355.3 183.1h6.0v6.0h-6.0zM295.3 237.1h6.0v6.0h-6.0zM229.3 297.1h12.0v6.0h-12.0zM253.3 297.1h6.0v6.0h-6.0zM271.3 303.1h6.0v6.0h-6.0zM217.3 309.1h6.0v6.0h-6.0z"/><path fill="#bdbdbd" d="M349.3 189.1h6.0v6.0h-6.0zM337.3 195.1h6.0v6.0h-6.0zM277.3 273.1h6.0v6.0h-6.0zM259.3 297.1h6.0v6.0h-6.0z"/><path fill="#bebebe" d="M367.3 159.1h6.0v6.0h-6.0zM361.3 183.1h6.0v6.0h-6.0zM289.3 249.1h6.0v6.0h-6.0zM277.3 297.1h6.0v6.0h-6.0zM277.3 303.1h6.0v6.0h-6.0zM211.3 339.1h6.0v6.0h-6.0z"/><path fill="#bfbfbf" d="M367.3 165.1h6.0v6.0h-6.0zM367.3 171.1h6.0v6.0h-6.0zM355.3 189.1h6.0v6.0h-6.0zM331.3 201.1h6.0v6.0h-6.0zM319.3 213.1h6.0v6.0h-6.0zM313.3 219.1h6.0v6.0h-6.0zM301.3 231.1h6.0v6.0h-6.0zM283.3 261.1h6.0v6.0h-6.0zM265.3 303.1h6.0v6.0h-6.0zM217.3 315.1h6.0v6.0h-6.0z"/><path fill="#c0c0c0" d="M373.3 147.1h6.0v6.0h-6.0zM367.3 177.1h6.0v6.0h-6.0zM343.3 195.1h6.0v6.0h-6.0zM325.3 207.1h6.0v6.0h-6.0zM307.3 225.1h6.0v6.0h-6.0zM277.3 279.1h6.0v6.0h-6.0zM277.3 291.1h6.0v6.0h-6.0zM223.3 303.1h6.0v6.0h-6.0z"/><path fill="#c1c1c1" d="M373.3 153.1h6.0v6.0h-6.0zM361.3 189.1h6.0v6.0h-6.0zM277.3 285.1h6.0v6.0h-6.0zM235.3 303.1h18.0v6.0h-18.0zM271.3 309.1h6.0v6.0h-6.0z"/><path fill="#c2c2c2" d="M373.3 159.1h6.0v6.0h-6.0zM367.3 183.1h6.0v6.0h-6.0zM349.3 195.1h6.0v6.0h-6.0zM229.3 303.1h6.0v6.0h-6.0zM253.3 303.1h12.0v6.0h-12.0zM217.3 321.1h6.0v6.0h-6.0z"/><path fill="#c3c3c3" d="M373.3 165.1h6.0v6.0h-6.0zM355.3 195.1h6.0v6.0h-6.0zM337.3 201.1h6.0v6.0h-6.0zM283.3 267.1h6.0v6.0h-6.0zM265.3 309.1h6.0v6.0h-6.0zM277.3 309.1h6.0v6.0h-6.0z"/><path fill="#c4c4c4" d="M379.3 147.1h6.0v6.0h-6.0zM373.3 171.1h6.0v6.0h-6.0zM373.3 177.1h6.0v6.0h-6.0zM367.3 189.1h6.0v6.0h-6.0zM295.3 243.1h6.0v6.0h-6.0zM289.3 255.1h6.0v6.0h-6.0zM223.3 309.1h6.0v6.0h-6.0z"/><path fill="#c5c5c5" d="M379.3 153.1h6.0v6.0h-6.0zM373.3 183.1h6.0v6.0h-6.0zM361.3 195.1h6.0v6.0h-6.0zM343.3 201.1h6.0v6.0h-6.0zM331.3 207.1h6.0v6.0h-6.0zM325.3 213.1h6.0v6.0h-6.0zM319.3 219.1h6.0v6.0h-6.0z"/><path fill="#c6c6c6" d="M379.3 159.1h6.0v6.0h-6.0zM313.3 225.1h6.0v6.0h-6.0zM301.3 237.1h6.0v6.0h-6.0zM283.3 303.1h6.0v6.0h-6.0zM229.3 309.1h18.0v6.0h-18.0zM259.3 309.1h6.0v6.0h-6.0z"/><path fill="#c7c7c7" d="M379.3 165.1h6.0v6.0h-6.0zM373.3 189.1h6.0v6.0h-6.0zM367.3 195.1h6.0v6.0h-6.0zM349.3 201.1h6.0v6.0h-6.0zM337.3 207.1h6.0v6.0h-6.0zM307.3 231.1h6.0v6.0h-6.0zM283.3 273.1h6.0v6.0h-6.0zM283.3 297.1h6.0v6.0h-6.0zM247.3 309.1h12.0v6.0h-12.0zM283.3 309.1h6.0v6.0h-6.0zM223.3 315.1h6.0v6.0h-6.0zM271.3 315.1h6.0v6.0h-6.0zM217.3 327.1h6.0v6.0h-6.0z"/><path fill="#c8c8c8" d="M379.3 171.1h6.0v6.0h-6.0zM379.3 177.1h6.0v6.0h-6.0zM355.3 201.1h6.0v6.0h-6.0zM331.3 213.1h6.0v6.0h-6.0zM265.3 315.1h6.0v6.0h-6.0zM277.3 315.1h6.0v6.0h-6.0zM217.3 333.1h6.0v6.0h-6.0z"/><path fill="#c9c9c9" d="M385.3 153.1h6.0v6.0h-6.0zM379.3 183.1h6.0v6.0h-6.0zM361.3 201.1h6.0v6.0h-6.0zM343.3 207.1h6.0v6.0h-6.0zM325.3 219.1h6.0v6.0h-6.0zM289.3 261.1h6.0v6.0h-6.0zM217.3 339.1h6.0v6.0h-6.0z"/><path fill="#cacaca" d="M385.3 159.1h6.0v6.0h-6.0zM373.3 195.1h6.0v6.0h-6.0zM367.3 201.1h6.0v6.0h-6.0zM337.3 213.1h6.0v6.0h-6.0zM331.3 219.1h6.0v6.0h-6.0zM319.3 225.1h6.0v6.0h-6.0zM295.3 249.1h6.0v6.0h-6.0zM283.3 279.1h6.0v6.0h-6.0zM283.3 291.1h6.0v6.0h-6.0zM229.3 315.1h12.0v6.0h-12.0zM259.3 315.1h6.0v6.0h-6.0zM283.3 315.1h6.0v6.0h-6.0zM217.3 345.1h6.0v6.0h-6.0z"/><path fill="#cbcbcb" d="M385.3 165.1h6.0v6.0h-6.0zM385.3 171.1h6.0v6.0h-6.0zM379.3 189.1h6.0v6.0h-6.0zM349.3 207.1h6.0v6.0h-6.0zM343.3 213.1h6.0v6.0h-6.0zM337.3 219.1h6.0v6.0h-6.0zM283.3 285.1h6.0v6.0h-6.0zM241.3 315.1h6.0v6.0h-6.0zM253.3 315.1h6.0v6.0h-6.0z"/><path fill="#cccccc" d="M385.3 177.1h6.0v6.0h-6.0zM355.3 207.1h12.0v6.0h-12.0zM343.3 219.1h6.0v6.0h-6.0zM325.3 225.1h24.0v6.0h-24.0zM313.3 231.1h6.0v6.0h-6.0zM247.3 315.1h6.0v6.0h-6.0zM223.3 321.1h6.0v6.0h-6.0zM265.3 321.1h12.0v6.0h-12.0z"/><path fill="#cdcdcd" d="M391.3 159.1h6.0v6.0h-6.0zM367.3 207.1h6.0v6.0h-6.0zM349.3 213.1h6.0v6.0h-6.0zM349.3 219.1h6.0v6.0h-6.0zM337.3 231.1h6.0v6.0h-6.0zM307.3 237.1h6.0v6.0h-6.0zM289.3 267.1h6.0v6.0h-6.0zM289.3 303.1h6.0v6.0h-6.0zM289.3 309.1h6.0v6.0h-6.0zM277.3 321.1h6.0v6.0h-6.0z"/><path fill="#cecece" d="M391.3 165.1h6.0v6.0h-6.0zM355.3 213.1h6.0v6.0h-6.0zM349.3 225.1h6.0v6.0h-6.0zM331.3 231.1h6.0v6.0h-6.0zM343.3 231.1h6.0v6.0h-6.0zM301.3 243.1h6.0v6.0h-6.0zM289.3 315.1h6.0v6.0h-6.0zM259.3 321.1h6.0v6.0h-6.0zM283.3 321.1h6.0v6.0h-6.0z"/><path fill="#cfcfcf" d="M361.3 213.1h6.0v6.0h-6.0zM355.3 219.1h6.0v6.0h-6.0zM319.3 231.1h12.0v6.0h-12.0zM295.3 255.1h6.0v6.0h-6.0zM229.3 321.1h12.0v6.0h-12.0z"/><path fill="#d0d0d0" d="M361.3 219.1h6.0v6.0h-6.0zM355.3 225.1h6.0v6.0h-6.0zM349.3 231.1h6.0v6.0h-6.0zM289.3 273.1h6.0v6.0h-6.0zM289.3 297.1h6.0v6.0h-6.0zM241.3 321.1h6.0v6.0h-6.0zM253.3 321.1h6.0v6.0h-6.0zM265.3 327.1h18.0v6.0h-18.0z"/><path fill="#d1d1d1" d="M313.3 237.1h6.0v6.0h-6.0zM337.3 237.1h12.0v6.0h-12.0zM247.3 321.1h6.0v6.0h-6.0zM289.3 321.1h6.0v6.0h-6.0zM223.3 327.1h6.0v6.0h-6.0zM259.3 327.1h6.0v6.0h-6.0z"/><path fill="#d2d2d2" d="M331.3 237.1h6.0v6.0h-6.0zM349.3 237.1h6.0v6.0h-6.0zM283.3 327.1h6.0v6.0h-6.0zM223.3 333.1h6.0v6.0h-6.0zM223.3 339.1h6.0v6.0h-6.0zM223.3 345.1h6.0v6.0h-6.0zM223.3 351.1h6.0v6.0h-6.0z"/><path fill="#d3d3d3" d="M319.3 237.1h12.0v6.0h-12.0zM307.3 243.1h6.0v6.0h-6.0zM295.3 261.1h6.0v6.0h-6.0zM289.3 279.1h6.0v6.0h-6.0zM295.3 309.1h6.0v6.0h-6.0zM295.3 315.1h6.0v6.0h-6.0zM229.3 327.1h12.0v6.0h-12.0zM253.3 327.1h6.0v6.0h-6.0zM265.3 333.1h12.0v6.0h-12.0z"/><path fill="#d4d4d4" d="M301.3 249.1h6.0v6.0h-6.0zM289.3 291.1h6.0v6.0h-6.0zM295.3 321.1h6.0v6.0h-6.0zM241.3 327.1h6.0v6.0h-6.0zM289.3 327.1h6.0v6.0h-6.0zM259.3 333.1h6.0v6.0h-6.0zM277.3 333.1h6.0v6.0h-6.0z"/><path fill="#d5d5d5" d="M337.3 243.1h12.0v6.0h-12.0zM289.3 285.1h6.0v6.0h-6.0zM295.3 303.1h6.0v6.0h-6.0zM247.3 327.1h6.0v6.0h-6.0zM283.3 333.1h6.0v6.0h-6.0z"/><path fill="#d6d6d6" d="M313.3 243.1h6.0v6.0h-6.0zM331.3 243.1h6.0v6.0h-6.0zM295.3 267.1h6.0v6.0h-6.0zM229.3 333.1h12.0v6.0h-12.0zM253.3 333.1h6.0v6.0h-6.0zM265.3 339.1h12.0v6.0h-12.0z"/><path fill="#d7d7d7" d="M319.3 243.1h12.0v6.0h-12.0zM301.3 315.1h6.0v6.0h-6.0zM241.3 333.1h6.0v6.0h-6.0zM229.3 339.1h6.0v6.0h-6.0zM259.3 339.1h6.0v6.0h-6.0zM277.3 339.1h6.0v6.0h-6.0zM229.3 345.1h6.0v6.0h-6.0zM229.3 351.1h6.0v6.0h-6.0z"/><path fill="#d8d8d8" d="M307.3 249.1h6.0v6.0h-6.0zM337.3 249.1h12.0v6.0h-12.0zM301.3 255.1h6.0v6.0h-6.0zM295.3 273.1h6.0v6.0h-6.0zM295.3 297.1h6.0v6.0h-6.0zM301.3 309.1h6.0v6.0h-6.0zM247.3 333.1h6.0v6.0h-6.0z"/><path fill="#d9d9d9" d="M235.3 339.1h6.0v6.0h-6.0zM253.3 339.1h6.0v6.0h-6.0z"/><path fill="#dadada" d="M313.3 249.1h6.0v6.0h-6.0zM325.3 249.1h12.0v6.0h-12.0zM301.3 261.1h6.0v6.0h-6.0zM295.3 279.1h6.0v6.0h-6.0zM301.3 303.1h6.0v6.0h-6.0zM265.3 345.1h6.0v6.0h-6.0z"/><path fill="#dbdbdb" d="M319.3 249.1h6.0v6.0h-6.0zM337.3 255.1h12.0v6.0h-12.0zM295.3 285.1h6.0v6.0h-6.0zM295.3 291.1h6.0v6.0h-6.0zM307.3 309.1h6.0v6.0h-6.0zM241.3 339.1h12.0v6.0h-12.0zM235.3 345.1h6.0v6.0h-6.0zM259.3 345.1h6.0v6.0h-6.0zM235.3 351.1h6.0v6.0h-6.0zM235.3 357.1h6.0v6.0h-6.0z"/><path fill="#dcdcdc" d="M307.3 255.1h6.0v6.0h-6.0zM325.3 255.1h12.0v6.0h-12.0zM301.3 267.1h6.0v6.0h-6.0zM301.3 297.1h6.0v6.0h-6.0zM307.3 303.1h6.0v6.0h-6.0zM253.3 345.1h6.0v6.0h-6.0z"/><path fill="#dddddd" d="M313.3 255.1h12.0v6.0h-12.0zM319.3 261.1h24.0v6.0h-24.0zM319.3 267.1h18.0v6.0h-18.0zM301.3 273.1h6.0v6.0h-6.0zM319.3 273.1h12.0v6.0h-12.0zM301.3 279.1h6.0v6.0h-6.0zM313.3 279.1h18.0v6.0h-18.0zM301.3 285.1h24.0v6.0h-24.0zM313.3 291.1h6.0v6.0h-6.0zM241.3 345.1h6.0v6.0h-6.0zM241.3 351.1h6.0v6.0h-6.0zM259.3 351.1h6.0v6.0h-6.0zM241.3 357.1h6.0v6.0h-6.0zM241.3 363.1h6.0v6.0h-6.0z"/><path fill="#dedede" d="M307.3 261.1h12.0v6.0h-12.0zM313.3 267.1h6.0v6.0h-6.0zM337.3 267.1h6.0v6.0h-6.0zM307.3 273.1h12.0v6.0h-12.0zM331.3 273.1h12.0v6.0h-12.0zM307.3 279.1h6.0v6.0h-6.0zM331.3 279.1h6.0v6.0h-6.0zM325.3 285.1h6.0v6.0h-6.0zM301.3 291.1h12.0v6.0h-12.0zM319.3 291.1h6.0v6.0h-6.0zM307.3 297.1h12.0v6.0h-12.0zM313.3 303.1h6.0v6.0h-6.0zM247.3 345.1h6.0v6.0h-6.0zM247.3 351.1h12.0v6.0h-12.0z"/><path fill="#dfdfdf" d="M307.3 267.1h6.0v6.0h-6.0zM331.3 285.1h6.0v6.0h-6.0zM325.3 291.1h6.0v6.0h-6.0zM319.3 297.1h6.0v6.0h-6.0zM247.3 357.1h12.0v6.0h-12.0zM247.3 363.1h6.0v6.0h-6.0z"/></g></g>
<use href="#land"/>
<use href="#dots"/>
<use href="#axl"/>
<path d="M432.3,64.8 L444.0,59.1 L455.7,64.8Z" fill="#fbc08a" stroke="#444" stroke-width="0.5"/>
<path d="M432.3,406.0 L444.0,411.7 L455.7,406.0Z" fill="#f0d5ea" stroke="#444" stroke-width="0.5"/>
<rect x="432.3" y="64.5" width="23.40" height="341.80" fill="url(#cbS)"/>
<path d="M432.3,64.5 V406.3 M455.7,64.5 V406.3" stroke="#444" stroke-width="0.6" fill="none"/>
<text transform="translate(465.6,73.8) scale(1,1.04)" font-size="29">36</text>
<path d="M432.3,149.9 h4.6 M455.7,149.9 h-4.6" stroke="#333" stroke-width="0.8" fill="none"/>
<text transform="translate(465.6,159.2) scale(1,1.04)" font-size="29">32</text>
<path d="M432.3,235.4 h4.6 M455.7,235.4 h-4.6" stroke="#333" stroke-width="0.8" fill="none"/>
<text transform="translate(465.6,244.7) scale(1,1.04)" font-size="29">28</text>
<path d="M432.3,320.9 h4.6 M455.7,320.9 h-4.6" stroke="#333" stroke-width="0.8" fill="none"/>
<text transform="translate(465.6,330.2) scale(1,1.04)" font-size="29">24</text>
<text transform="translate(465.6,415.6) scale(1,1.04)" font-size="29">20</text>
<text transform="translate(430.8,401.6) rotate(-90)" font-size="18.6" textLength="126" lengthAdjust="spacingAndGlyphs">Ocean Data View</text>
<text class="b" transform="translate(371.3,374.8) scale(1,1.08)" font-size="27.6">C</text>
</g>
<g transform="translate(603.0,469.0)">
<use href="#frame"/>
<g clip-path="url(#dclip)"><g filter="url(#fS)"><rect x="160" y="55" width="260" height="360" fill="#c8c8c8"/><path fill="#9f9f9f" d="M229.3 171.1h6.0v6.0h-6.0z"/><path fill="#a0a0a0" d="M229.3 159.1h6.0v6.0h-6.0zM229.3 165.1h6.0v6.0h-6.0zM235.3 171.1h6.0v6.0h-6.0zM235.3 177.1h6.0v6.0h-6.0z"/><path fill="#a1a1a1" d="M229.3 153.1h6.0v6.0h-6.0zM235.3 159.1h6.0v6.0h-6.0zM235.3 165.1h6.0v6.0h-6.0zM241.3 171.1h6.0v6.0h-6.0zM241.3 177.1h6.0v6.0h-6.0zM235.3 183.1h12.0v6.0h-12.0z"/><path fill="#a2a2a2" d="M241.3 159.1h6.0v6.0h-6.0zM241.3 165.1h12.0v6.0h-12.0zM247.3 171.1h6.0v6.0h-6.0zM247.3 177.1h6.0v6.0h-6.0z"/><path fill="#a3a3a3" d="M229.3 117.1h6.0v6.0h-6.0zM229.3 147.1h6.0v6.0h-6.0zM235.3 153.1h6.0v6.0h-6.0zM247.3 159.1h6.0v6.0h-6.0zM247.3 183.1h6.0v6.0h-6.0zM235.3 189.1h12.0v6.0h-12.0z"/><path fill="#a4a4a4" d="M229.3 111.1h6.0v6.0h-6.0zM229.3 123.1h6.0v6.0h-6.0zM229.3 129.1h6.0v6.0h-6.0zM229.3 135.1h6.0v6.0h-6.0zM229.3 141.1h6.0v6.0h-6.0zM241.3 153.1h6.0v6.0h-6.0z"/><path fill="#a5a5a5" d="M229.3 105.1h6.0v6.0h-6.0zM235.3 111.1h6.0v6.0h-6.0zM235.3 117.1h6.0v6.0h-6.0zM235.3 147.1h6.0v6.0h-6.0zM253.3 165.1h6.0v6.0h-6.0zM253.3 171.1h6.0v6.0h-6.0z"/><path fill="#a6a6a6" d="M229.3 99.1h6.0v6.0h-6.0zM241.3 117.1h6.0v6.0h-6.0zM235.3 123.1h6.0v6.0h-6.0zM235.3 141.1h6.0v6.0h-6.0zM241.3 147.1h6.0v6.0h-6.0zM247.3 153.1h6.0v6.0h-6.0zM253.3 159.1h6.0v6.0h-6.0zM247.3 189.1h6.0v6.0h-6.0z"/><path fill="#a7a7a7" d="M229.3 93.1h6.0v6.0h-6.0zM235.3 105.1h6.0v6.0h-6.0zM241.3 111.1h6.0v6.0h-6.0zM235.3 129.1h6.0v6.0h-6.0zM235.3 135.1h6.0v6.0h-6.0zM253.3 177.1h6.0v6.0h-6.0zM235.3 195.1h6.0v6.0h-6.0z"/><path fill="#a8a8a8" d="M235.3 99.1h6.0v6.0h-6.0zM241.3 105.1h6.0v6.0h-6.0zM241.3 123.1h6.0v6.0h-6.0zM241.3 195.1h6.0v6.0h-6.0z"/><path fill="#a9a9a9" d="M235.3 93.1h6.0v6.0h-6.0zM247.3 111.1h6.0v6.0h-6.0zM247.3 117.1h6.0v6.0h-6.0zM241.3 141.1h6.0v6.0h-6.0zM247.3 147.1h6.0v6.0h-6.0zM253.3 153.1h6.0v6.0h-6.0zM253.3 183.1h6.0v6.0h-6.0z"/><path fill="#aaaaaa" d="M241.3 93.1h6.0v6.0h-6.0zM241.3 99.1h6.0v6.0h-6.0zM247.3 105.1h6.0v6.0h-6.0zM241.3 129.1h6.0v6.0h-6.0zM241.3 135.1h6.0v6.0h-6.0zM259.3 165.1h6.0v6.0h-6.0z"/><path fill="#ababab" d="M247.3 99.1h6.0v6.0h-6.0zM247.3 123.1h6.0v6.0h-6.0zM247.3 141.1h6.0v6.0h-6.0zM259.3 159.1h6.0v6.0h-6.0zM247.3 195.1h6.0v6.0h-6.0z"/><path fill="#acacac" d="M247.3 87.1h6.0v6.0h-6.0zM247.3 93.1h6.0v6.0h-6.0zM253.3 99.1h6.0v6.0h-6.0zM253.3 105.1h6.0v6.0h-6.0zM253.3 111.1h6.0v6.0h-6.0zM253.3 117.1h6.0v6.0h-6.0zM247.3 129.1h6.0v6.0h-6.0zM247.3 135.1h6.0v6.0h-6.0zM253.3 147.1h6.0v6.0h-6.0zM259.3 153.1h6.0v6.0h-6.0zM259.3 171.1h6.0v6.0h-6.0zM253.3 189.1h6.0v6.0h-6.0z"/><path fill="#adadad" d="M253.3 93.1h6.0v6.0h-6.0zM253.3 123.1h6.0v6.0h-6.0zM253.3 141.1h6.0v6.0h-6.0zM235.3 201.1h6.0v6.0h-6.0z"/><path fill="#aeaeae" d="M253.3 87.1h6.0v6.0h-6.0zM259.3 99.1h6.0v6.0h-6.0zM259.3 105.1h6.0v6.0h-6.0zM259.3 111.1h6.0v6.0h-6.0zM259.3 117.1h6.0v6.0h-6.0zM253.3 129.1h6.0v6.0h-6.0zM253.3 135.1h6.0v6.0h-6.0zM241.3 201.1h6.0v6.0h-6.0z"/><path fill="#afafaf" d="M259.3 93.1h6.0v6.0h-6.0zM265.3 105.1h6.0v6.0h-6.0zM265.3 111.1h6.0v6.0h-6.0zM259.3 123.1h6.0v6.0h-6.0zM259.3 129.1h6.0v6.0h-6.0zM259.3 141.1h6.0v6.0h-6.0zM259.3 147.1h6.0v6.0h-6.0zM265.3 153.1h6.0v6.0h-6.0zM265.3 159.1h6.0v6.0h-6.0z"/><path fill="#b0b0b0" d="M259.3 87.1h6.0v6.0h-6.0zM265.3 93.1h6.0v6.0h-6.0zM265.3 99.1h6.0v6.0h-6.0zM265.3 117.1h6.0v6.0h-6.0zM265.3 123.1h6.0v6.0h-6.0zM265.3 129.1h6.0v6.0h-6.0zM259.3 135.1h6.0v6.0h-6.0zM265.3 147.1h6.0v6.0h-6.0z"/><path fill="#b1b1b1" d="M265.3 87.1h6.0v6.0h-6.0zM271.3 105.1h6.0v6.0h-6.0zM271.3 111.1h6.0v6.0h-6.0zM271.3 117.1h12.0v6.0h-12.0zM271.3 123.1h24.0v6.0h-24.0zM271.3 129.1h24.0v6.0h-24.0zM265.3 135.1h12.0v6.0h-12.0zM265.3 141.1h12.0v6.0h-12.0zM271.3 147.1h6.0v6.0h-6.0zM265.3 165.1h6.0v6.0h-6.0zM259.3 177.1h6.0v6.0h-6.0zM247.3 201.1h6.0v6.0h-6.0z"/><path fill="#b2b2b2" d="M265.3 81.1h6.0v6.0h-6.0zM271.3 93.1h6.0v6.0h-6.0zM271.3 99.1h6.0v6.0h-6.0zM277.3 105.1h6.0v6.0h-6.0zM277.3 111.1h12.0v6.0h-12.0zM283.3 117.1h18.0v6.0h-18.0zM295.3 123.1h12.0v6.0h-12.0zM295.3 129.1h30.0v6.0h-30.0zM277.3 135.1h48.0v6.0h-48.0zM277.3 141.1h48.0v6.0h-48.0zM277.3 147.1h6.0v6.0h-6.0zM301.3 147.1h12.0v6.0h-12.0zM271.3 153.1h6.0v6.0h-6.0zM253.3 195.1h6.0v6.0h-6.0zM229.3 207.1h6.0v6.0h-6.0z"/><path fill="#b3b3b3" d="M271.3 87.1h6.0v6.0h-6.0zM277.3 99.1h6.0v6.0h-6.0zM283.3 105.1h6.0v6.0h-6.0zM289.3 111.1h12.0v6.0h-12.0zM301.3 117.1h24.0v6.0h-24.0zM307.3 123.1h24.0v6.0h-24.0zM325.3 129.1h12.0v6.0h-12.0zM325.3 135.1h12.0v6.0h-12.0zM325.3 141.1h12.0v6.0h-12.0zM283.3 147.1h18.0v6.0h-18.0zM313.3 147.1h12.0v6.0h-12.0zM277.3 153.1h6.0v6.0h-6.0zM307.3 153.1h6.0v6.0h-6.0zM271.3 159.1h6.0v6.0h-6.0z"/><path fill="#b4b4b4" d="M271.3 81.1h6.0v6.0h-6.0zM277.3 93.1h6.0v6.0h-6.0zM283.3 99.1h6.0v6.0h-6.0zM289.3 105.1h6.0v6.0h-6.0zM301.3 111.1h18.0v6.0h-18.0zM325.3 117.1h6.0v6.0h-6.0zM331.3 123.1h6.0v6.0h-6.0zM337.3 129.1h6.0v6.0h-6.0zM337.3 135.1h6.0v6.0h-6.0zM337.3 141.1h6.0v6.0h-6.0zM325.3 147.1h12.0v6.0h-12.0zM283.3 153.1h24.0v6.0h-24.0zM313.3 153.1h12.0v6.0h-12.0zM235.3 207.1h6.0v6.0h-6.0z"/><path fill="#b5b5b5" d="M277.3 87.1h6.0v6.0h-6.0zM289.3 99.1h6.0v6.0h-6.0zM295.3 105.1h18.0v6.0h-18.0zM319.3 111.1h12.0v6.0h-12.0zM331.3 117.1h6.0v6.0h-6.0zM337.3 123.1h6.0v6.0h-6.0zM337.3 147.1h6.0v6.0h-6.0zM325.3 153.1h6.0v6.0h-6.0zM277.3 159.1h6.0v6.0h-6.0zM265.3 171.1h6.0v6.0h-6.0z"/><path fill="#b6b6b6" d="M277.3 81.1h6.0v6.0h-6.0zM283.3 93.1h6.0v6.0h-6.0zM295.3 99.1h12.0v6.0h-12.0zM313.3 105.1h18.0v6.0h-18.0zM331.3 111.1h6.0v6.0h-6.0zM337.3 117.1h6.0v6.0h-6.0zM343.3 129.1h6.0v6.0h-6.0zM343.3 135.1h6.0v6.0h-6.0zM343.3 141.1h6.0v6.0h-6.0zM343.3 147.1h6.0v6.0h-6.0zM331.3 153.1h12.0v6.0h-12.0zM283.3 159.1h36.0v6.0h-36.0zM271.3 165.1h6.0v6.0h-6.0zM241.3 207.1h6.0v6.0h-6.0z"/><path fill="#b7b7b7" d="M283.3 87.1h6.0v6.0h-6.0zM289.3 93.1h12.0v6.0h-12.0zM307.3 99.1h18.0v6.0h-18.0zM331.3 105.1h6.0v6.0h-6.0zM337.3 111.1h6.0v6.0h-6.0zM343.3 123.1h6.0v6.0h-6.0zM319.3 159.1h12.0v6.0h-12.0zM259.3 183.1h6.0v6.0h-6.0zM253.3 201.1h6.0v6.0h-6.0zM229.3 213.1h6.0v6.0h-6.0z"/><path fill="#b8b8b8" d="M283.3 75.1h6.0v6.0h-6.0zM283.3 81.1h6.0v6.0h-6.0zM289.3 87.1h6.0v6.0h-6.0zM301.3 93.1h18.0v6.0h-18.0zM325.3 99.1h6.0v6.0h-6.0zM343.3 117.1h6.0v6.0h-6.0zM343.3 153.1h6.0v6.0h-6.0zM331.3 159.1h6.0v6.0h-6.0zM295.3 165.1h18.0v6.0h-18.0zM247.3 207.1h6.0v6.0h-6.0z"/><path fill="#b9b9b9" d="M289.3 75.1h6.0v6.0h-6.0zM289.3 81.1h6.0v6.0h-6.0zM295.3 87.1h18.0v6.0h-18.0zM349.3 129.1h6.0v6.0h-6.0zM349.3 135.1h6.0v6.0h-6.0zM349.3 141.1h6.0v6.0h-6.0zM337.3 159.1h6.0v6.0h-6.0zM277.3 165.1h18.0v6.0h-18.0zM313.3 165.1h6.0v6.0h-6.0zM259.3 189.1h6.0v6.0h-6.0z"/><path fill="#bababa" d="M295.3 75.1h6.0v6.0h-6.0zM295.3 81.1h12.0v6.0h-12.0zM349.3 123.1h6.0v6.0h-6.0zM349.3 147.1h6.0v6.0h-6.0zM349.3 153.1h6.0v6.0h-6.0zM343.3 159.1h6.0v6.0h-6.0zM319.3 165.1h12.0v6.0h-12.0z"/><path fill="#bbbbbb" d="M331.3 165.1h6.0v6.0h-6.0zM271.3 171.1h6.0v6.0h-6.0zM265.3 177.1h6.0v6.0h-6.0zM235.3 213.1h6.0v6.0h-6.0zM223.3 225.1h6.0v6.0h-6.0z"/><path fill="#bcbcbc" d="M349.3 159.1h6.0v6.0h-6.0zM337.3 165.1h6.0v6.0h-6.0zM289.3 171.1h24.0v6.0h-24.0zM229.3 219.1h6.0v6.0h-6.0z"/><path fill="#bdbdbd" d="M355.3 129.1h6.0v6.0h-6.0zM355.3 135.1h6.0v6.0h-6.0zM343.3 165.1h6.0v6.0h-6.0zM277.3 171.1h12.0v6.0h-12.0zM313.3 171.1h12.0v6.0h-12.0zM253.3 207.1h6.0v6.0h-6.0zM223.3 231.1h6.0v6.0h-6.0z"/><path fill="#bebebe" d="M355.3 141.1h6.0v6.0h-6.0zM349.3 165.1h6.0v6.0h-6.0zM325.3 171.1h18.0v6.0h-18.0zM259.3 195.1h6.0v6.0h-6.0zM241.3 213.1h6.0v6.0h-6.0zM229.3 225.1h6.0v6.0h-6.0zM223.3 237.1h6.0v6.0h-6.0zM217.3 243.1h6.0v6.0h-6.0z"/><path fill="#bfbfbf" d="M355.3 147.1h6.0v6.0h-6.0zM355.3 153.1h6.0v6.0h-6.0zM343.3 171.1h6.0v6.0h-6.0z"/><path fill="#c0c0c0" d="M355.3 159.1h6.0v6.0h-6.0zM349.3 171.1h6.0v6.0h-6.0zM271.3 177.1h6.0v6.0h-6.0zM289.3 177.1h18.0v6.0h-18.0zM247.3 213.1h6.0v6.0h-6.0zM235.3 219.1h6.0v6.0h-6.0zM229.3 231.1h6.0v6.0h-6.0z"/><path fill="#c1c1c1" d="M361.3 135.1h6.0v6.0h-6.0zM277.3 177.1h12.0v6.0h-12.0zM307.3 177.1h12.0v6.0h-12.0zM259.3 201.1h6.0v6.0h-6.0zM229.3 237.1h6.0v6.0h-6.0zM223.3 243.1h6.0v6.0h-6.0zM217.3 249.1h6.0v6.0h-6.0zM211.3 255.1h6.0v6.0h-6.0zM205.3 261.1h6.0v6.0h-6.0zM199.3 267.1h6.0v6.0h-6.0zM193.3 273.1h6.0v6.0h-6.0z"/><path fill="#c2c2c2" d="M355.3 165.1h6.0v6.0h-6.0zM319.3 177.1h30.0v6.0h-30.0zM265.3 183.1h6.0v6.0h-6.0zM235.3 225.1h6.0v6.0h-6.0z"/><path fill="#c3c3c3" d="M361.3 141.1h6.0v6.0h-6.0zM355.3 171.1h6.0v6.0h-6.0zM349.3 177.1h6.0v6.0h-6.0zM259.3 207.1h6.0v6.0h-6.0zM235.3 231.1h6.0v6.0h-6.0zM229.3 243.1h6.0v6.0h-6.0zM223.3 249.1h6.0v6.0h-6.0zM217.3 255.1h6.0v6.0h-6.0zM181.3 291.1h6.0v6.0h-6.0zM175.3 297.1h6.0v6.0h-6.0z"/><path fill="#c4c4c4" d="M361.3 147.1h6.0v6.0h-6.0zM265.3 189.1h6.0v6.0h-6.0zM253.3 213.1h6.0v6.0h-6.0zM241.3 219.1h6.0v6.0h-6.0zM235.3 237.1h6.0v6.0h-6.0zM211.3 261.1h6.0v6.0h-6.0zM205.3 267.1h6.0v6.0h-6.0zM199.3 273.1h6.0v6.0h-6.0zM193.3 279.1h6.0v6.0h-6.0zM187.3 285.1h6.0v6.0h-6.0z"/><path fill="#c5c5c5" d="M361.3 153.1h6.0v6.0h-6.0zM355.3 177.1h6.0v6.0h-6.0zM271.3 183.1h6.0v6.0h-6.0zM283.3 183.1h30.0v6.0h-30.0zM235.3 243.1h6.0v6.0h-6.0zM229.3 249.1h6.0v6.0h-6.0zM181.3 297.1h6.0v6.0h-6.0zM175.3 303.1h6.0v6.0h-6.0z"/><path fill="#c6c6c6" d="M361.3 159.1h6.0v6.0h-6.0zM361.3 165.1h6.0v6.0h-6.0zM277.3 183.1h6.0v6.0h-6.0zM313.3 183.1h36.0v6.0h-36.0zM265.3 195.1h6.0v6.0h-6.0zM223.3 255.1h6.0v6.0h-6.0zM217.3 261.1h6.0v6.0h-6.0zM211.3 267.1h6.0v6.0h-6.0zM205.3 273.1h6.0v6.0h-6.0zM199.3 279.1h6.0v6.0h-6.0zM193.3 285.1h6.0v6.0h-6.0zM187.3 291.1h6.0v6.0h-6.0z"/><path fill="#c7c7c7" d="M367.3 141.1h6.0v6.0h-6.0zM361.3 171.1h6.0v6.0h-6.0zM349.3 183.1h6.0v6.0h-6.0zM247.3 219.1h6.0v6.0h-6.0zM241.3 225.1h6.0v6.0h-6.0zM235.3 249.1h6.0v6.0h-6.0zM181.3 303.1h6.0v6.0h-6.0zM175.3 309.1h6.0v6.0h-6.0z"/><path fill="#c8c8c8" d="M361.3 177.1h6.0v6.0h-6.0zM355.3 183.1h6.0v6.0h-6.0zM271.3 189.1h6.0v6.0h-6.0zM289.3 189.1h12.0v6.0h-12.0zM265.3 201.1h6.0v6.0h-6.0zM259.3 213.1h6.0v6.0h-6.0zM241.3 231.1h6.0v6.0h-6.0zM241.3 237.1h6.0v6.0h-6.0zM241.3 243.1h6.0v6.0h-6.0zM229.3 255.1h6.0v6.0h-6.0zM223.3 261.1h6.0v6.0h-6.0zM217.3 267.1h6.0v6.0h-6.0zM211.3 273.1h6.0v6.0h-6.0zM205.3 279.1h6.0v6.0h-6.0zM199.3 285.1h6.0v6.0h-6.0zM193.3 291.1h6.0v6.0h-6.0zM187.3 297.1h6.0v6.0h-6.0z"/><path fill="#c9c9c9" d="M367.3 147.1h6.0v6.0h-6.0zM361.3 183.1h6.0v6.0h-6.0zM277.3 189.1h12.0v6.0h-12.0zM301.3 189.1h6.0v6.0h-6.0zM271.3 195.1h6.0v6.0h-6.0zM265.3 207.1h6.0v6.0h-6.0zM253.3 219.1h6.0v6.0h-6.0zM181.3 309.1h6.0v6.0h-6.0z"/><path fill="#cacaca" d="M367.3 153.1h6.0v6.0h-6.0zM367.3 165.1h6.0v6.0h-6.0zM307.3 189.1h12.0v6.0h-12.0zM355.3 189.1h6.0v6.0h-6.0zM271.3 201.1h6.0v6.0h-6.0zM247.3 225.1h6.0v6.0h-6.0zM241.3 249.1h6.0v6.0h-6.0zM235.3 255.1h6.0v6.0h-6.0zM193.3 297.1h6.0v6.0h-6.0zM187.3 303.1h6.0v6.0h-6.0z"/><path fill="#cbcbcb" d="M367.3 159.1h6.0v6.0h-6.0zM367.3 171.1h6.0v6.0h-6.0zM367.3 177.1h6.0v6.0h-6.0zM367.3 183.1h6.0v6.0h-6.0zM319.3 189.1h36.0v6.0h-36.0zM361.3 189.1h6.0v6.0h-6.0zM277.3 195.1h24.0v6.0h-24.0zM265.3 213.1h6.0v6.0h-6.0zM247.3 231.1h6.0v6.0h-6.0zM247.3 237.1h6.0v6.0h-6.0zM247.3 243.1h6.0v6.0h-6.0zM229.3 261.1h6.0v6.0h-6.0zM223.3 267.1h6.0v6.0h-6.0zM217.3 273.1h6.0v6.0h-6.0zM211.3 279.1h6.0v6.0h-6.0zM205.3 285.1h6.0v6.0h-6.0zM199.3 291.1h6.0v6.0h-6.0zM187.3 309.1h6.0v6.0h-6.0zM181.3 315.1h6.0v6.0h-6.0z"/><path fill="#cccccc" d="M373.3 147.1h6.0v6.0h-6.0zM301.3 195.1h6.0v6.0h-6.0zM277.3 201.1h18.0v6.0h-18.0zM271.3 207.1h6.0v6.0h-6.0zM259.3 219.1h6.0v6.0h-6.0zM247.3 249.1h6.0v6.0h-6.0zM241.3 255.1h6.0v6.0h-6.0zM235.3 261.1h6.0v6.0h-6.0zM193.3 303.1h6.0v6.0h-6.0z"/><path fill="#cdcdcd" d="M373.3 153.1h6.0v6.0h-6.0zM373.3 159.1h6.0v6.0h-6.0zM373.3 165.1h6.0v6.0h-6.0zM373.3 171.1h6.0v6.0h-6.0zM373.3 177.1h6.0v6.0h-6.0zM367.3 189.1h6.0v6.0h-6.0zM307.3 195.1h6.0v6.0h-6.0zM295.3 201.1h6.0v6.0h-6.0zM277.3 207.1h18.0v6.0h-18.0zM271.3 213.1h6.0v6.0h-6.0zM253.3 225.1h6.0v6.0h-6.0zM229.3 267.1h6.0v6.0h-6.0zM223.3 273.1h6.0v6.0h-6.0zM217.3 279.1h6.0v6.0h-6.0zM205.3 291.1h6.0v6.0h-6.0zM199.3 297.1h6.0v6.0h-6.0zM187.3 315.1h6.0v6.0h-6.0z"/><path fill="#cecece" d="M379.3 147.1h6.0v6.0h-6.0zM373.3 183.1h6.0v6.0h-6.0zM313.3 195.1h6.0v6.0h-6.0zM355.3 195.1h12.0v6.0h-12.0zM301.3 201.1h6.0v6.0h-6.0zM295.3 207.1h6.0v6.0h-6.0zM277.3 213.1h12.0v6.0h-12.0zM265.3 219.1h6.0v6.0h-6.0zM253.3 231.1h6.0v6.0h-6.0zM247.3 255.1h6.0v6.0h-6.0zM241.3 261.1h6.0v6.0h-6.0zM211.3 285.1h6.0v6.0h-6.0zM193.3 309.1h6.0v6.0h-6.0z"/><path fill="#cfcfcf" d="M379.3 153.1h6.0v6.0h-6.0zM379.3 159.1h6.0v6.0h-6.0zM379.3 165.1h6.0v6.0h-6.0zM379.3 171.1h6.0v6.0h-6.0zM379.3 177.1h6.0v6.0h-6.0zM373.3 189.1h6.0v6.0h-6.0zM319.3 195.1h36.0v6.0h-36.0zM367.3 195.1h6.0v6.0h-6.0zM307.3 201.1h6.0v6.0h-6.0zM301.3 207.1h6.0v6.0h-6.0zM289.3 213.1h6.0v6.0h-6.0zM259.3 225.1h6.0v6.0h-6.0zM253.3 237.1h6.0v6.0h-6.0zM253.3 243.1h6.0v6.0h-6.0zM253.3 249.1h6.0v6.0h-6.0zM235.3 267.1h6.0v6.0h-6.0zM199.3 303.1h6.0v6.0h-6.0zM187.3 321.1h6.0v6.0h-6.0z"/><path fill="#d0d0d0" d="M379.3 183.1h6.0v6.0h-6.0zM373.3 195.1h6.0v6.0h-6.0zM295.3 213.1h6.0v6.0h-6.0zM271.3 219.1h12.0v6.0h-12.0zM253.3 255.1h6.0v6.0h-6.0zM247.3 261.1h6.0v6.0h-6.0zM241.3 267.1h6.0v6.0h-6.0zM229.3 273.1h6.0v6.0h-6.0zM223.3 279.1h6.0v6.0h-6.0zM217.3 285.1h6.0v6.0h-6.0zM211.3 291.1h6.0v6.0h-6.0zM205.3 297.1h6.0v6.0h-6.0zM193.3 315.1h6.0v6.0h-6.0z"/><path fill="#d1d1d1" d="M385.3 153.1h6.0v6.0h-6.0zM385.3 159.1h6.0v6.0h-6.0zM385.3 165.1h6.0v6.0h-6.0zM385.3 171.1h6.0v6.0h-6.0zM385.3 177.1h6.0v6.0h-6.0zM379.3 189.1h6.0v6.0h-6.0zM313.3 201.1h6.0v6.0h-6.0zM361.3 201.1h12.0v6.0h-12.0zM307.3 207.1h6.0v6.0h-6.0zM301.3 213.1h6.0v6.0h-6.0zM283.3 219.1h6.0v6.0h-6.0zM265.3 225.1h6.0v6.0h-6.0zM259.3 231.1h6.0v6.0h-6.0zM235.3 273.1h6.0v6.0h-6.0zM199.3 309.1h6.0v6.0h-6.0zM193.3 321.1h6.0v6.0h-6.0z"/><path fill="#d2d2d2" d="M391.3 159.1h6.0v6.0h-6.0zM319.3 201.1h12.0v6.0h-12.0zM355.3 201.1h6.0v6.0h-6.0zM289.3 219.1h6.0v6.0h-6.0zM271.3 225.1h6.0v6.0h-6.0zM259.3 237.1h6.0v6.0h-6.0zM259.3 243.1h6.0v6.0h-6.0zM259.3 249.1h6.0v6.0h-6.0zM253.3 261.1h6.0v6.0h-6.0zM247.3 267.1h6.0v6.0h-6.0zM241.3 273.1h6.0v6.0h-6.0zM229.3 279.1h6.0v6.0h-6.0zM217.3 291.1h6.0v6.0h-6.0zM211.3 297.1h6.0v6.0h-6.0zM205.3 303.1h6.0v6.0h-6.0zM199.3 315.1h6.0v6.0h-6.0z"/><path fill="#d3d3d3" d="M391.3 165.1h6.0v6.0h-6.0zM331.3 201.1h24.0v6.0h-24.0zM313.3 207.1h6.0v6.0h-6.0zM307.3 213.1h6.0v6.0h-6.0zM295.3 219.1h6.0v6.0h-6.0zM277.3 225.1h6.0v6.0h-6.0zM265.3 231.1h6.0v6.0h-6.0zM259.3 255.1h6.0v6.0h-6.0zM253.3 267.1h6.0v6.0h-6.0zM247.3 273.1h6.0v6.0h-6.0zM223.3 285.1h6.0v6.0h-6.0zM205.3 309.1h6.0v6.0h-6.0z"/><path fill="#d4d4d4" d="M319.3 207.1h6.0v6.0h-6.0zM361.3 207.1h12.0v6.0h-12.0zM313.3 213.1h6.0v6.0h-6.0zM301.3 219.1h6.0v6.0h-6.0zM283.3 225.1h6.0v6.0h-6.0zM271.3 231.1h6.0v6.0h-6.0zM265.3 237.1h6.0v6.0h-6.0zM259.3 261.1h6.0v6.0h-6.0zM253.3 273.1h6.0v6.0h-6.0zM235.3 279.1h12.0v6.0h-12.0zM217.3 297.1h6.0v6.0h-6.0zM211.3 303.1h6.0v6.0h-6.0zM199.3 321.1h6.0v6.0h-6.0z"/><path fill="#d5d5d5" d="M325.3 207.1h12.0v6.0h-12.0zM355.3 207.1h6.0v6.0h-6.0zM319.3 213.1h6.0v6.0h-6.0zM307.3 219.1h6.0v6.0h-6.0zM289.3 225.1h6.0v6.0h-6.0zM277.3 231.1h6.0v6.0h-6.0zM271.3 237.1h6.0v6.0h-6.0zM265.3 243.1h6.0v6.0h-6.0zM265.3 249.1h6.0v6.0h-6.0zM265.3 255.1h6.0v6.0h-6.0zM265.3 261.1h6.0v6.0h-6.0zM259.3 267.1h6.0v6.0h-6.0zM247.3 279.1h6.0v6.0h-6.0zM229.3 285.1h12.0v6.0h-12.0zM223.3 291.1h6.0v6.0h-6.0zM205.3 315.1h6.0v6.0h-6.0z"/><path fill="#d6d6d6" d="M337.3 207.1h18.0v6.0h-18.0zM325.3 213.1h6.0v6.0h-6.0zM313.3 219.1h6.0v6.0h-6.0zM295.3 225.1h12.0v6.0h-12.0zM283.3 231.1h6.0v6.0h-6.0zM277.3 237.1h6.0v6.0h-6.0zM271.3 243.1h12.0v6.0h-12.0zM271.3 249.1h6.0v6.0h-6.0zM271.3 255.1h6.0v6.0h-6.0zM271.3 261.1h6.0v6.0h-6.0zM265.3 267.1h6.0v6.0h-6.0zM259.3 273.1h6.0v6.0h-6.0zM253.3 279.1h6.0v6.0h-6.0zM241.3 285.1h12.0v6.0h-12.0zM229.3 291.1h6.0v6.0h-6.0zM223.3 297.1h6.0v6.0h-6.0zM217.3 303.1h6.0v6.0h-6.0zM211.3 309.1h6.0v6.0h-6.0zM199.3 327.1h6.0v6.0h-6.0z"/><path fill="#d7d7d7" d="M331.3 213.1h6.0v6.0h-6.0zM355.3 213.1h12.0v6.0h-12.0zM319.3 219.1h12.0v6.0h-12.0zM307.3 225.1h6.0v6.0h-6.0zM289.3 231.1h6.0v6.0h-6.0zM283.3 237.1h6.0v6.0h-6.0zM277.3 249.1h6.0v6.0h-6.0zM277.3 255.1h6.0v6.0h-6.0zM277.3 261.1h6.0v6.0h-6.0zM271.3 267.1h6.0v6.0h-6.0zM265.3 273.1h6.0v6.0h-6.0zM259.3 279.1h6.0v6.0h-6.0zM253.3 285.1h6.0v6.0h-6.0zM235.3 291.1h12.0v6.0h-12.0zM229.3 297.1h6.0v6.0h-6.0zM223.3 303.1h6.0v6.0h-6.0zM205.3 321.1h6.0v6.0h-6.0z"/><path fill="#d8d8d8" d="M337.3 213.1h18.0v6.0h-18.0zM331.3 219.1h6.0v6.0h-6.0zM313.3 225.1h6.0v6.0h-6.0zM295.3 231.1h6.0v6.0h-6.0zM283.3 243.1h6.0v6.0h-6.0zM283.3 249.1h6.0v6.0h-6.0zM277.3 267.1h6.0v6.0h-6.0zM271.3 273.1h6.0v6.0h-6.0zM265.3 279.1h6.0v6.0h-6.0zM259.3 285.1h6.0v6.0h-6.0zM247.3 291.1h6.0v6.0h-6.0zM235.3 297.1h12.0v6.0h-12.0zM229.3 303.1h6.0v6.0h-6.0zM217.3 309.1h6.0v6.0h-6.0zM211.3 315.1h6.0v6.0h-6.0zM205.3 327.1h6.0v6.0h-6.0z"/><path fill="#d9d9d9" d="M337.3 219.1h30.0v6.0h-30.0zM319.3 225.1h6.0v6.0h-6.0zM301.3 231.1h6.0v6.0h-6.0zM289.3 237.1h6.0v6.0h-6.0zM283.3 255.1h6.0v6.0h-6.0zM253.3 291.1h6.0v6.0h-6.0zM247.3 297.1h6.0v6.0h-6.0zM235.3 303.1h6.0v6.0h-6.0zM223.3 309.1h6.0v6.0h-6.0zM205.3 333.1h6.0v6.0h-6.0z"/><path fill="#dadada" d="M325.3 225.1h12.0v6.0h-12.0zM307.3 231.1h6.0v6.0h-6.0zM289.3 243.1h6.0v6.0h-6.0zM283.3 261.1h6.0v6.0h-6.0zM277.3 273.1h6.0v6.0h-6.0zM271.3 279.1h6.0v6.0h-6.0zM265.3 285.1h6.0v6.0h-6.0zM259.3 291.1h6.0v6.0h-6.0zM253.3 297.1h6.0v6.0h-6.0zM241.3 303.1h12.0v6.0h-12.0zM229.3 309.1h6.0v6.0h-6.0zM217.3 315.1h6.0v6.0h-6.0zM211.3 321.1h6.0v6.0h-6.0z"/><path fill="#dbdbdb" d="M337.3 225.1h24.0v6.0h-24.0zM313.3 231.1h6.0v6.0h-6.0zM295.3 237.1h6.0v6.0h-6.0zM289.3 249.1h6.0v6.0h-6.0zM283.3 267.1h6.0v6.0h-6.0zM259.3 297.1h6.0v6.0h-6.0zM253.3 303.1h6.0v6.0h-6.0zM235.3 309.1h12.0v6.0h-12.0zM211.3 327.1h6.0v6.0h-6.0z"/><path fill="#dcdcdc" d="M319.3 231.1h36.0v6.0h-36.0zM301.3 237.1h6.0v6.0h-6.0zM295.3 243.1h6.0v6.0h-6.0zM289.3 255.1h6.0v6.0h-6.0zM289.3 261.1h6.0v6.0h-6.0zM283.3 273.1h6.0v6.0h-6.0zM277.3 279.1h6.0v6.0h-6.0zM271.3 285.1h6.0v6.0h-6.0zM265.3 291.1h6.0v6.0h-6.0zM247.3 309.1h12.0v6.0h-12.0zM223.3 315.1h12.0v6.0h-12.0zM217.3 321.1h6.0v6.0h-6.0zM211.3 333.1h6.0v6.0h-6.0zM211.3 339.1h6.0v6.0h-6.0z"/><path fill="#dddddd" d="M307.3 237.1h6.0v6.0h-6.0zM295.3 249.1h6.0v6.0h-6.0zM289.3 267.1h6.0v6.0h-6.0zM271.3 291.1h6.0v6.0h-6.0zM265.3 297.1h6.0v6.0h-6.0zM259.3 303.1h6.0v6.0h-6.0zM259.3 309.1h6.0v6.0h-6.0zM235.3 315.1h24.0v6.0h-24.0zM223.3 321.1h6.0v6.0h-6.0zM217.3 327.1h6.0v6.0h-6.0zM217.3 345.1h6.0v6.0h-6.0z"/><path fill="#dedede" d="M313.3 237.1h42.0v6.0h-42.0zM301.3 243.1h6.0v6.0h-6.0zM295.3 255.1h6.0v6.0h-6.0zM283.3 279.1h6.0v6.0h-6.0zM277.3 285.1h6.0v6.0h-6.0zM265.3 303.1h6.0v6.0h-6.0zM259.3 315.1h6.0v6.0h-6.0zM229.3 321.1h6.0v6.0h-6.0zM241.3 321.1h30.0v6.0h-30.0zM247.3 327.1h24.0v6.0h-24.0zM217.3 333.1h6.0v6.0h-6.0zM253.3 333.1h18.0v6.0h-18.0zM217.3 339.1h6.0v6.0h-6.0zM247.3 339.1h24.0v6.0h-24.0zM223.3 345.1h6.0v6.0h-6.0zM241.3 345.1h30.0v6.0h-30.0zM223.3 351.1h42.0v6.0h-42.0zM235.3 357.1h24.0v6.0h-24.0zM241.3 363.1h12.0v6.0h-12.0z"/><path fill="#dfdfdf" d="M307.3 243.1h6.0v6.0h-6.0zM337.3 243.1h12.0v6.0h-12.0zM301.3 249.1h6.0v6.0h-6.0zM343.3 249.1h6.0v6.0h-6.0zM295.3 261.1h6.0v6.0h-6.0zM289.3 273.1h6.0v6.0h-6.0zM277.3 291.1h6.0v6.0h-6.0zM271.3 297.1h6.0v6.0h-6.0zM271.3 303.1h6.0v6.0h-6.0zM265.3 309.1h6.0v6.0h-6.0zM265.3 315.1h12.0v6.0h-12.0zM235.3 321.1h6.0v6.0h-6.0zM271.3 321.1h6.0v6.0h-6.0zM223.3 327.1h12.0v6.0h-12.0zM241.3 327.1h6.0v6.0h-6.0zM271.3 327.1h12.0v6.0h-12.0zM223.3 333.1h12.0v6.0h-12.0zM241.3 333.1h12.0v6.0h-12.0zM271.3 333.1h12.0v6.0h-12.0zM223.3 339.1h24.0v6.0h-24.0zM271.3 339.1h12.0v6.0h-12.0zM229.3 345.1h12.0v6.0h-12.0z"/><path fill="#e0e0e0" d="M313.3 243.1h24.0v6.0h-24.0zM307.3 249.1h6.0v6.0h-6.0zM331.3 249.1h12.0v6.0h-12.0zM301.3 255.1h6.0v6.0h-6.0zM331.3 255.1h18.0v6.0h-18.0zM301.3 261.1h6.0v6.0h-6.0zM331.3 261.1h12.0v6.0h-12.0zM295.3 267.1h6.0v6.0h-6.0zM331.3 267.1h12.0v6.0h-12.0zM295.3 273.1h6.0v6.0h-6.0zM337.3 273.1h6.0v6.0h-6.0zM289.3 279.1h6.0v6.0h-6.0zM283.3 285.1h12.0v6.0h-12.0zM283.3 291.1h6.0v6.0h-6.0zM277.3 297.1h6.0v6.0h-6.0zM277.3 303.1h6.0v6.0h-6.0zM271.3 309.1h12.0v6.0h-12.0zM277.3 315.1h6.0v6.0h-6.0zM277.3 321.1h12.0v6.0h-12.0zM235.3 327.1h6.0v6.0h-6.0zM283.3 327.1h12.0v6.0h-12.0zM235.3 333.1h6.0v6.0h-6.0zM283.3 333.1h6.0v6.0h-6.0z"/><path fill="#e1e1e1" d="M313.3 249.1h18.0v6.0h-18.0zM307.3 255.1h24.0v6.0h-24.0zM307.3 261.1h6.0v6.0h-6.0zM319.3 261.1h12.0v6.0h-12.0zM301.3 267.1h6.0v6.0h-6.0zM319.3 267.1h12.0v6.0h-12.0zM301.3 273.1h6.0v6.0h-6.0zM319.3 273.1h18.0v6.0h-18.0zM295.3 279.1h12.0v6.0h-12.0zM313.3 279.1h24.0v6.0h-24.0zM295.3 285.1h12.0v6.0h-12.0zM313.3 285.1h24.0v6.0h-24.0zM289.3 291.1h42.0v6.0h-42.0zM283.3 297.1h30.0v6.0h-30.0zM283.3 303.1h30.0v6.0h-30.0zM283.3 309.1h24.0v6.0h-24.0zM283.3 315.1h24.0v6.0h-24.0zM289.3 321.1h12.0v6.0h-12.0z"/><path fill="#e2e2e2" d="M313.3 261.1h6.0v6.0h-6.0zM307.3 267.1h12.0v6.0h-12.0zM307.3 273.1h12.0v6.0h-12.0zM307.3 279.1h6.0v6.0h-6.0zM307.3 285.1h6.0v6.0h-6.0zM313.3 297.1h12.0v6.0h-12.0zM313.3 303.1h6.0v6.0h-6.0zM307.3 309.1h6.0v6.0h-6.0z"/></g></g>
<use href="#land"/>
<use href="#dots"/>
<use href="#axl"/>
<path d="M432.3,64.8 L444.0,59.1 L455.7,64.8Z" fill="#fbc08a" stroke="#444" stroke-width="0.5"/>
<path d="M432.3,406.0 L444.0,411.7 L455.7,406.0Z" fill="#f0d5ea" stroke="#444" stroke-width="0.5"/>
<rect x="432.3" y="64.5" width="23.40" height="341.80" fill="url(#cbS)"/>
<path d="M432.3,64.5 V406.3 M455.7,64.5 V406.3" stroke="#444" stroke-width="0.6" fill="none"/>
<text transform="translate(465.6,73.8) scale(1,1.04)" font-size="29">36</text>
<path d="M432.3,149.9 h4.6 M455.7,149.9 h-4.6" stroke="#333" stroke-width="0.8" fill="none"/>
<text transform="translate(465.6,159.2) scale(1,1.04)" font-size="29">32</text>
<path d="M432.3,235.4 h4.6 M455.7,235.4 h-4.6" stroke="#333" stroke-width="0.8" fill="none"/>
<text transform="translate(465.6,244.7) scale(1,1.04)" font-size="29">28</text>
<path d="M432.3,320.9 h4.6 M455.7,320.9 h-4.6" stroke="#333" stroke-width="0.8" fill="none"/>
<text transform="translate(465.6,330.2) scale(1,1.04)" font-size="29">24</text>
<text transform="translate(465.6,415.6) scale(1,1.04)" font-size="29">20</text>
<text transform="translate(430.8,401.6) rotate(-90)" font-size="18.6" textLength="126" lengthAdjust="spacingAndGlyphs">Ocean Data View</text>
<text class="b" transform="translate(364.5,374.8) scale(1,1.08)" font-size="27.6">D</text>
</g>
<g transform="translate(0.0,938.0)">
<use href="#frame"/>
<g clip-path="url(#dclip)"><g filter="url(#fP)"><rect x="160" y="55" width="260" height="360" fill="#626262"/><path fill="#0a0a0a" d="M355.3 219.1h12.0v6.0h-12.0zM355.3 225.1h6.0v6.0h-6.0zM307.3 309.1h6.0v6.0h-6.0zM301.3 315.1h6.0v6.0h-6.0zM295.3 321.1h6.0v6.0h-6.0z"/><path fill="#0b0b0b" d="M355.3 213.1h12.0v6.0h-12.0zM319.3 297.1h6.0v6.0h-6.0zM307.3 303.1h12.0v6.0h-12.0zM301.3 309.1h6.0v6.0h-6.0zM295.3 315.1h6.0v6.0h-6.0zM289.3 321.1h6.0v6.0h-6.0zM289.3 327.1h6.0v6.0h-6.0z"/><path fill="#0c0c0c" d="M349.3 213.1h6.0v6.0h-6.0zM349.3 219.1h6.0v6.0h-6.0zM349.3 225.1h6.0v6.0h-6.0zM349.3 231.1h6.0v6.0h-6.0zM349.3 237.1h6.0v6.0h-6.0zM307.3 297.1h12.0v6.0h-12.0zM301.3 303.1h6.0v6.0h-6.0zM295.3 309.1h6.0v6.0h-6.0zM289.3 315.1h6.0v6.0h-6.0zM283.3 327.1h6.0v6.0h-6.0zM283.3 333.1h6.0v6.0h-6.0z"/><path fill="#0d0d0d" d="M355.3 129.1h6.0v6.0h-6.0zM349.3 207.1h24.0v6.0h-24.0zM343.3 231.1h6.0v6.0h-6.0zM337.3 237.1h12.0v6.0h-12.0zM343.3 243.1h6.0v6.0h-6.0zM325.3 249.1h6.0v6.0h-6.0zM343.3 249.1h6.0v6.0h-6.0zM319.3 255.1h6.0v6.0h-6.0zM307.3 291.1h24.0v6.0h-24.0zM301.3 297.1h6.0v6.0h-6.0zM295.3 303.1h6.0v6.0h-6.0zM289.3 309.1h6.0v6.0h-6.0zM283.3 321.1h6.0v6.0h-6.0z"/><path fill="#0e0e0e" d="M355.3 135.1h12.0v6.0h-12.0zM343.3 213.1h6.0v6.0h-6.0zM343.3 219.1h6.0v6.0h-6.0zM343.3 225.1h6.0v6.0h-6.0zM337.3 231.1h6.0v6.0h-6.0zM331.3 237.1h6.0v6.0h-6.0zM325.3 243.1h18.0v6.0h-18.0zM319.3 249.1h6.0v6.0h-6.0zM331.3 249.1h12.0v6.0h-12.0zM325.3 255.1h24.0v6.0h-24.0zM313.3 261.1h18.0v6.0h-18.0zM313.3 267.1h12.0v6.0h-12.0zM313.3 285.1h24.0v6.0h-24.0zM283.3 315.1h6.0v6.0h-6.0zM247.3 321.1h6.0v6.0h-6.0zM277.3 321.1h6.0v6.0h-6.0zM247.3 327.1h12.0v6.0h-12.0zM277.3 327.1h6.0v6.0h-6.0zM277.3 333.1h6.0v6.0h-6.0zM277.3 339.1h6.0v6.0h-6.0z"/><path fill="#0f0f0f" d="M349.3 129.1h6.0v6.0h-6.0zM349.3 135.1h6.0v6.0h-6.0zM343.3 207.1h6.0v6.0h-6.0zM337.3 225.1h6.0v6.0h-6.0zM313.3 255.1h6.0v6.0h-6.0zM331.3 261.1h12.0v6.0h-12.0zM325.3 267.1h6.0v6.0h-6.0zM337.3 267.1h6.0v6.0h-6.0zM313.3 273.1h12.0v6.0h-12.0zM337.3 273.1h6.0v6.0h-6.0zM313.3 279.1h24.0v6.0h-24.0zM307.3 285.1h6.0v6.0h-6.0zM301.3 291.1h6.0v6.0h-6.0zM295.3 297.1h6.0v6.0h-6.0zM289.3 303.1h6.0v6.0h-6.0zM283.3 309.1h6.0v6.0h-6.0zM277.3 315.1h6.0v6.0h-6.0zM253.3 321.1h6.0v6.0h-6.0zM271.3 321.1h6.0v6.0h-6.0zM241.3 327.1h6.0v6.0h-6.0zM259.3 327.1h18.0v6.0h-18.0zM271.3 333.1h6.0v6.0h-6.0zM271.3 339.1h6.0v6.0h-6.0z"/><path fill="#101010" d="M343.3 135.1h6.0v6.0h-6.0zM355.3 201.1h18.0v6.0h-18.0zM331.3 231.1h6.0v6.0h-6.0zM325.3 237.1h6.0v6.0h-6.0zM319.3 243.1h6.0v6.0h-6.0zM313.3 249.1h6.0v6.0h-6.0zM331.3 267.1h6.0v6.0h-6.0zM325.3 273.1h12.0v6.0h-12.0zM307.3 279.1h6.0v6.0h-6.0zM301.3 285.1h6.0v6.0h-6.0zM241.3 321.1h6.0v6.0h-6.0zM259.3 321.1h12.0v6.0h-12.0zM241.3 333.1h30.0v6.0h-30.0z"/><path fill="#111111" d="M349.3 201.1h6.0v6.0h-6.0zM337.3 219.1h6.0v6.0h-6.0zM307.3 261.1h6.0v6.0h-6.0zM307.3 267.1h6.0v6.0h-6.0zM307.3 273.1h6.0v6.0h-6.0zM295.3 291.1h6.0v6.0h-6.0zM289.3 297.1h6.0v6.0h-6.0zM283.3 303.1h6.0v6.0h-6.0zM277.3 309.1h6.0v6.0h-6.0zM271.3 315.1h6.0v6.0h-6.0zM235.3 333.1h6.0v6.0h-6.0zM265.3 339.1h6.0v6.0h-6.0z"/><path fill="#121212" d="M361.3 141.1h12.0v6.0h-12.0zM337.3 213.1h6.0v6.0h-6.0zM331.3 225.1h6.0v6.0h-6.0zM307.3 255.1h6.0v6.0h-6.0zM301.3 279.1h6.0v6.0h-6.0zM259.3 315.1h12.0v6.0h-12.0zM235.3 327.1h6.0v6.0h-6.0zM241.3 339.1h6.0v6.0h-6.0zM253.3 339.1h12.0v6.0h-12.0zM265.3 345.1h6.0v6.0h-6.0z"/><path fill="#131313" d="M349.3 123.1h6.0v6.0h-6.0zM349.3 141.1h12.0v6.0h-12.0zM379.3 147.1h6.0v6.0h-6.0zM367.3 195.1h12.0v6.0h-12.0zM325.3 231.1h6.0v6.0h-6.0zM313.3 243.1h6.0v6.0h-6.0zM295.3 285.1h6.0v6.0h-6.0zM289.3 291.1h6.0v6.0h-6.0zM271.3 309.1h6.0v6.0h-6.0zM247.3 315.1h12.0v6.0h-12.0zM235.3 321.1h6.0v6.0h-6.0zM235.3 339.1h6.0v6.0h-6.0zM247.3 339.1h6.0v6.0h-6.0zM259.3 345.1h6.0v6.0h-6.0z"/><path fill="#141414" d="M373.3 147.1h6.0v6.0h-6.0zM385.3 153.1h6.0v6.0h-6.0zM391.3 159.1h6.0v6.0h-6.0zM361.3 195.1h6.0v6.0h-6.0zM343.3 201.1h6.0v6.0h-6.0zM337.3 207.1h6.0v6.0h-6.0zM331.3 219.1h6.0v6.0h-6.0zM319.3 237.1h6.0v6.0h-6.0zM307.3 249.1h6.0v6.0h-6.0zM301.3 267.1h6.0v6.0h-6.0zM301.3 273.1h6.0v6.0h-6.0zM283.3 297.1h6.0v6.0h-6.0zM277.3 303.1h6.0v6.0h-6.0zM241.3 315.1h6.0v6.0h-6.0zM253.3 345.1h6.0v6.0h-6.0zM259.3 351.1h6.0v6.0h-6.0z"/><path fill="#151515" d="M343.3 129.1h6.0v6.0h-6.0zM343.3 141.1h6.0v6.0h-6.0zM367.3 147.1h6.0v6.0h-6.0zM391.3 165.1h6.0v6.0h-6.0zM373.3 189.1h12.0v6.0h-12.0zM355.3 195.1h6.0v6.0h-6.0zM301.3 261.1h6.0v6.0h-6.0zM295.3 279.1h6.0v6.0h-6.0zM229.3 333.1h6.0v6.0h-6.0zM229.3 339.1h6.0v6.0h-6.0zM235.3 345.1h18.0v6.0h-18.0zM253.3 351.1h6.0v6.0h-6.0z"/><path fill="#161616" d="M379.3 153.1h6.0v6.0h-6.0zM385.3 159.1h6.0v6.0h-6.0zM367.3 189.1h6.0v6.0h-6.0zM301.3 255.1h6.0v6.0h-6.0zM289.3 285.1h6.0v6.0h-6.0zM265.3 309.1h6.0v6.0h-6.0zM235.3 315.1h6.0v6.0h-6.0zM229.3 327.1h6.0v6.0h-6.0zM247.3 351.1h6.0v6.0h-6.0zM253.3 357.1h6.0v6.0h-6.0z"/><path fill="#171717" d="M337.3 135.1h6.0v6.0h-6.0zM361.3 147.1h6.0v6.0h-6.0zM373.3 153.1h6.0v6.0h-6.0zM385.3 165.1h6.0v6.0h-6.0zM385.3 171.1h6.0v6.0h-6.0zM385.3 177.1h6.0v6.0h-6.0zM379.3 183.1h6.0v6.0h-6.0zM361.3 189.1h6.0v6.0h-6.0zM349.3 195.1h6.0v6.0h-6.0zM331.3 213.1h6.0v6.0h-6.0zM325.3 225.1h6.0v6.0h-6.0zM295.3 273.1h6.0v6.0h-6.0zM283.3 291.1h6.0v6.0h-6.0zM271.3 303.1h6.0v6.0h-6.0zM259.3 309.1h6.0v6.0h-6.0zM229.3 321.1h6.0v6.0h-6.0zM229.3 345.1h6.0v6.0h-6.0zM235.3 351.1h12.0v6.0h-12.0zM247.3 357.1h6.0v6.0h-6.0zM247.3 363.1h6.0v6.0h-6.0z"/><path fill="#181818" d="M367.3 153.1h6.0v6.0h-6.0zM379.3 159.1h6.0v6.0h-6.0zM379.3 177.1h6.0v6.0h-6.0zM367.3 183.1h12.0v6.0h-12.0zM319.3 231.1h6.0v6.0h-6.0zM313.3 237.1h6.0v6.0h-6.0zM307.3 243.1h6.0v6.0h-6.0zM295.3 267.1h6.0v6.0h-6.0zM277.3 297.1h6.0v6.0h-6.0zM223.3 339.1h6.0v6.0h-6.0zM229.3 351.1h6.0v6.0h-6.0zM235.3 357.1h12.0v6.0h-12.0zM241.3 363.1h6.0v6.0h-6.0z"/><path fill="#191919" d="M355.3 147.1h6.0v6.0h-6.0zM367.3 159.1h12.0v6.0h-12.0zM367.3 165.1h6.0v6.0h-6.0zM379.3 165.1h6.0v6.0h-6.0zM361.3 171.1h6.0v6.0h-6.0zM379.3 171.1h6.0v6.0h-6.0zM373.3 177.1h6.0v6.0h-6.0zM361.3 183.1h6.0v6.0h-6.0zM355.3 189.1h6.0v6.0h-6.0zM337.3 201.1h6.0v6.0h-6.0zM301.3 249.1h6.0v6.0h-6.0zM295.3 261.1h6.0v6.0h-6.0zM289.3 279.1h6.0v6.0h-6.0zM223.3 333.1h6.0v6.0h-6.0zM223.3 345.1h6.0v6.0h-6.0z"/><path fill="#1a1a1a" d="M343.3 123.1h6.0v6.0h-6.0zM361.3 153.1h6.0v6.0h-6.0zM361.3 165.1h6.0v6.0h-6.0zM373.3 165.1h6.0v6.0h-6.0zM367.3 171.1h12.0v6.0h-12.0zM361.3 177.1h12.0v6.0h-12.0zM325.3 219.1h6.0v6.0h-6.0zM295.3 255.1h6.0v6.0h-6.0zM283.3 285.1h6.0v6.0h-6.0zM241.3 309.1h6.0v6.0h-6.0zM253.3 309.1h6.0v6.0h-6.0zM229.3 315.1h6.0v6.0h-6.0zM223.3 327.1h6.0v6.0h-6.0zM223.3 351.1h6.0v6.0h-6.0z"/><path fill="#1b1b1b" d="M349.3 147.1h6.0v6.0h-6.0zM361.3 159.1h6.0v6.0h-6.0zM355.3 183.1h6.0v6.0h-6.0zM343.3 195.1h6.0v6.0h-6.0zM331.3 207.1h6.0v6.0h-6.0zM265.3 303.1h6.0v6.0h-6.0zM235.3 309.1h6.0v6.0h-6.0zM247.3 309.1h6.0v6.0h-6.0zM223.3 321.1h6.0v6.0h-6.0z"/><path fill="#1c1c1c" d="M355.3 165.1h6.0v6.0h-6.0zM355.3 171.1h6.0v6.0h-6.0zM355.3 177.1h6.0v6.0h-6.0zM289.3 273.1h6.0v6.0h-6.0zM271.3 297.1h6.0v6.0h-6.0zM217.3 333.1h6.0v6.0h-6.0zM217.3 339.1h6.0v6.0h-6.0zM217.3 345.1h6.0v6.0h-6.0z"/><path fill="#1d1d1d" d="M355.3 153.1h6.0v6.0h-6.0zM349.3 189.1h6.0v6.0h-6.0zM325.3 213.1h6.0v6.0h-6.0zM319.3 225.1h6.0v6.0h-6.0zM301.3 243.1h6.0v6.0h-6.0zM295.3 249.1h6.0v6.0h-6.0zM277.3 291.1h6.0v6.0h-6.0z"/><path fill="#1e1e1e" d="M343.3 147.1h6.0v6.0h-6.0zM355.3 159.1h6.0v6.0h-6.0zM307.3 237.1h6.0v6.0h-6.0zM289.3 255.1h6.0v6.0h-6.0zM289.3 261.1h6.0v6.0h-6.0zM289.3 267.1h6.0v6.0h-6.0zM283.3 279.1h6.0v6.0h-6.0zM229.3 309.1h6.0v6.0h-6.0zM223.3 315.1h6.0v6.0h-6.0zM217.3 327.1h6.0v6.0h-6.0z"/><path fill="#1f1f1f" d="M343.3 117.1h6.0v6.0h-6.0zM337.3 141.1h6.0v6.0h-6.0zM337.3 195.1h6.0v6.0h-6.0zM313.3 231.1h6.0v6.0h-6.0zM259.3 303.1h6.0v6.0h-6.0zM217.3 321.1h6.0v6.0h-6.0zM211.3 339.1h6.0v6.0h-6.0z"/><path fill="#202020" d="M349.3 153.1h6.0v6.0h-6.0zM331.3 201.1h6.0v6.0h-6.0zM319.3 219.1h6.0v6.0h-6.0zM211.3 333.1h6.0v6.0h-6.0z"/><path fill="#212121" d="M337.3 129.1h6.0v6.0h-6.0zM349.3 183.1h6.0v6.0h-6.0zM343.3 189.1h6.0v6.0h-6.0zM289.3 249.1h6.0v6.0h-6.0zM277.3 285.1h6.0v6.0h-6.0zM265.3 297.1h6.0v6.0h-6.0zM235.3 303.1h6.0v6.0h-6.0zM223.3 309.1h6.0v6.0h-6.0zM211.3 327.1h6.0v6.0h-6.0z"/><path fill="#222222" d="M349.3 165.1h6.0v6.0h-6.0zM349.3 171.1h6.0v6.0h-6.0zM349.3 177.1h6.0v6.0h-6.0zM325.3 207.1h6.0v6.0h-6.0zM283.3 273.1h6.0v6.0h-6.0zM271.3 291.1h6.0v6.0h-6.0zM241.3 303.1h6.0v6.0h-6.0zM253.3 303.1h6.0v6.0h-6.0zM217.3 315.1h6.0v6.0h-6.0z"/><path fill="#232323" d="M349.3 159.1h6.0v6.0h-6.0zM295.3 243.1h6.0v6.0h-6.0zM283.3 255.1h6.0v6.0h-6.0zM229.3 303.1h6.0v6.0h-6.0zM247.3 303.1h6.0v6.0h-6.0zM211.3 321.1h6.0v6.0h-6.0z"/><path fill="#242424" d="M319.3 213.1h6.0v6.0h-6.0zM313.3 225.1h6.0v6.0h-6.0zM301.3 237.1h6.0v6.0h-6.0zM283.3 261.1h6.0v6.0h-6.0zM283.3 267.1h6.0v6.0h-6.0zM277.3 279.1h6.0v6.0h-6.0zM205.3 333.1h6.0v6.0h-6.0z"/><path fill="#252525" d="M307.3 231.1h6.0v6.0h-6.0zM283.3 249.1h6.0v6.0h-6.0zM217.3 309.1h6.0v6.0h-6.0z"/><path fill="#262626" d="M337.3 123.1h6.0v6.0h-6.0zM343.3 153.1h6.0v6.0h-6.0zM343.3 183.1h6.0v6.0h-6.0zM337.3 189.1h6.0v6.0h-6.0zM331.3 195.1h6.0v6.0h-6.0zM265.3 291.1h6.0v6.0h-6.0zM259.3 297.1h6.0v6.0h-6.0zM223.3 303.1h6.0v6.0h-6.0zM211.3 315.1h6.0v6.0h-6.0zM205.3 327.1h6.0v6.0h-6.0z"/><path fill="#272727" d="M277.3 273.1h6.0v6.0h-6.0z"/><path fill="#282828" d="M343.3 171.1h6.0v6.0h-6.0zM343.3 177.1h6.0v6.0h-6.0zM325.3 201.1h6.0v6.0h-6.0zM313.3 219.1h6.0v6.0h-6.0zM271.3 285.1h6.0v6.0h-6.0zM217.3 303.1h6.0v6.0h-6.0zM211.3 309.1h6.0v6.0h-6.0zM205.3 321.1h6.0v6.0h-6.0z"/><path fill="#292929" d="M343.3 159.1h6.0v6.0h-6.0zM343.3 165.1h6.0v6.0h-6.0zM289.3 243.1h6.0v6.0h-6.0zM277.3 255.1h6.0v6.0h-6.0zM277.3 261.1h6.0v6.0h-6.0zM277.3 267.1h6.0v6.0h-6.0z"/><path fill="#2a2a2a" d="M337.3 117.1h6.0v6.0h-6.0zM337.3 147.1h6.0v6.0h-6.0zM319.3 207.1h6.0v6.0h-6.0zM271.3 279.1h6.0v6.0h-6.0zM235.3 297.1h12.0v6.0h-12.0zM253.3 297.1h6.0v6.0h-6.0zM211.3 303.1h6.0v6.0h-6.0zM205.3 315.1h6.0v6.0h-6.0zM199.3 327.1h6.0v6.0h-6.0z"/><path fill="#2b2b2b" d="M331.3 135.1h6.0v6.0h-6.0zM337.3 183.1h6.0v6.0h-6.0zM313.3 213.1h6.0v6.0h-6.0zM295.3 237.1h6.0v6.0h-6.0zM277.3 249.1h6.0v6.0h-6.0zM265.3 285.1h6.0v6.0h-6.0zM259.3 291.1h6.0v6.0h-6.0zM229.3 297.1h6.0v6.0h-6.0zM247.3 297.1h6.0v6.0h-6.0z"/><path fill="#2c2c2c" d="M331.3 189.1h6.0v6.0h-6.0zM307.3 225.1h6.0v6.0h-6.0zM301.3 231.1h6.0v6.0h-6.0zM271.3 273.1h6.0v6.0h-6.0zM223.3 297.1h6.0v6.0h-6.0z"/><path fill="#2d2d2d" d="M337.3 177.1h6.0v6.0h-6.0zM211.3 297.1h12.0v6.0h-12.0zM205.3 309.1h6.0v6.0h-6.0zM199.3 321.1h6.0v6.0h-6.0z"/><path fill="#2e2e2e" d="M337.3 171.1h6.0v6.0h-6.0zM325.3 195.1h6.0v6.0h-6.0zM271.3 267.1h6.0v6.0h-6.0zM265.3 279.1h6.0v6.0h-6.0zM205.3 303.1h6.0v6.0h-6.0z"/><path fill="#2f2f2f" d="M337.3 153.1h6.0v6.0h-6.0zM337.3 165.1h6.0v6.0h-6.0zM283.3 243.1h6.0v6.0h-6.0zM259.3 285.1h6.0v6.0h-6.0zM253.3 291.1h6.0v6.0h-6.0z"/><path fill="#303030" d="M337.3 111.1h6.0v6.0h-6.0zM337.3 159.1h6.0v6.0h-6.0zM313.3 207.1h6.0v6.0h-6.0zM307.3 219.1h6.0v6.0h-6.0zM271.3 261.1h6.0v6.0h-6.0zM205.3 297.1h6.0v6.0h-6.0zM199.3 315.1h6.0v6.0h-6.0z"/><path fill="#313131" d="M331.3 183.1h6.0v6.0h-6.0zM319.3 201.1h6.0v6.0h-6.0z"/><path fill="#323232" d="M271.3 255.1h6.0v6.0h-6.0zM265.3 273.1h6.0v6.0h-6.0zM241.3 291.1h12.0v6.0h-12.0z"/><path fill="#333333" d="M331.3 129.1h6.0v6.0h-6.0zM235.3 291.1h6.0v6.0h-6.0zM193.3 321.1h6.0v6.0h-6.0z"/><path fill="#343434" d="M331.3 123.1h6.0v6.0h-6.0zM331.3 177.1h6.0v6.0h-6.0zM325.3 189.1h6.0v6.0h-6.0zM307.3 213.1h6.0v6.0h-6.0zM301.3 225.1h6.0v6.0h-6.0zM259.3 279.1h6.0v6.0h-6.0zM199.3 309.1h6.0v6.0h-6.0z"/><path fill="#353535" d="M331.3 141.1h6.0v6.0h-6.0zM331.3 165.1h6.0v6.0h-6.0zM331.3 171.1h6.0v6.0h-6.0zM295.3 231.1h6.0v6.0h-6.0zM271.3 249.1h6.0v6.0h-6.0zM265.3 267.1h6.0v6.0h-6.0zM253.3 285.1h6.0v6.0h-6.0zM211.3 291.1h6.0v6.0h-6.0z"/><path fill="#363636" d="M289.3 237.1h6.0v6.0h-6.0zM277.3 243.1h6.0v6.0h-6.0zM217.3 291.1h18.0v6.0h-18.0z"/><path fill="#373737" d="M193.3 315.1h6.0v6.0h-6.0z"/><path fill="#383838" d="M331.3 117.1h6.0v6.0h-6.0zM307.3 207.1h6.0v6.0h-6.0zM205.3 291.1h6.0v6.0h-6.0zM199.3 297.1h6.0v6.0h-6.0zM199.3 303.1h6.0v6.0h-6.0zM187.3 321.1h6.0v6.0h-6.0z"/><path fill="#393939" d="M331.3 159.1h6.0v6.0h-6.0zM319.3 195.1h6.0v6.0h-6.0zM313.3 201.1h6.0v6.0h-6.0z"/><path fill="#3a3a3a" d="M325.3 183.1h6.0v6.0h-6.0zM265.3 261.1h6.0v6.0h-6.0zM247.3 285.1h6.0v6.0h-6.0z"/><path fill="#3b3b3b" d="M259.3 273.1h6.0v6.0h-6.0zM241.3 285.1h6.0v6.0h-6.0z"/><path fill="#3c3c3c" d="M331.3 153.1h6.0v6.0h-6.0zM301.3 219.1h6.0v6.0h-6.0zM253.3 279.1h6.0v6.0h-6.0zM193.3 309.1h6.0v6.0h-6.0z"/><path fill="#3d3d3d" d="M331.3 147.1h6.0v6.0h-6.0zM235.3 285.1h6.0v6.0h-6.0zM199.3 291.1h6.0v6.0h-6.0zM187.3 315.1h6.0v6.0h-6.0z"/><path fill="#3f3f3f" d="M331.3 111.1h6.0v6.0h-6.0zM325.3 177.1h6.0v6.0h-6.0zM271.3 243.1h6.0v6.0h-6.0z"/><path fill="#404040" d="M295.3 225.1h6.0v6.0h-6.0zM265.3 255.1h6.0v6.0h-6.0z"/><path fill="#414141" d="M319.3 189.1h6.0v6.0h-6.0z"/><path fill="#424242" d="M325.3 171.1h6.0v6.0h-6.0zM283.3 237.1h6.0v6.0h-6.0zM259.3 267.1h6.0v6.0h-6.0zM217.3 285.1h6.0v6.0h-6.0zM187.3 309.1h6.0v6.0h-6.0zM181.3 315.1h6.0v6.0h-6.0z"/><path fill="#434343" d="M307.3 201.1h6.0v6.0h-6.0zM301.3 213.1h6.0v6.0h-6.0zM247.3 279.1h6.0v6.0h-6.0zM223.3 285.1h12.0v6.0h-12.0zM193.3 297.1h6.0v6.0h-6.0zM193.3 303.1h6.0v6.0h-6.0z"/><path fill="#444444" d="M325.3 165.1h6.0v6.0h-6.0zM211.3 285.1h6.0v6.0h-6.0z"/><path fill="#454545" d="M331.3 105.1h6.0v6.0h-6.0zM325.3 135.1h6.0v6.0h-6.0zM313.3 195.1h6.0v6.0h-6.0zM289.3 231.1h6.0v6.0h-6.0z"/><path fill="#464646" d="M265.3 249.1h6.0v6.0h-6.0zM193.3 291.1h6.0v6.0h-6.0z"/><path fill="#474747" d="M325.3 129.1h6.0v6.0h-6.0zM253.3 273.1h6.0v6.0h-6.0zM205.3 285.1h6.0v6.0h-6.0zM181.3 309.1h6.0v6.0h-6.0z"/><path fill="#484848" d="M325.3 123.1h6.0v6.0h-6.0zM325.3 159.1h6.0v6.0h-6.0zM319.3 183.1h6.0v6.0h-6.0zM241.3 279.1h6.0v6.0h-6.0zM187.3 303.1h6.0v6.0h-6.0z"/><path fill="#494949" d="M325.3 141.1h6.0v6.0h-6.0z"/><path fill="#4a4a4a" d="M301.3 207.1h6.0v6.0h-6.0zM259.3 261.1h6.0v6.0h-6.0z"/><path fill="#4b4b4b" d="M199.3 285.1h6.0v6.0h-6.0z"/><path fill="#4c4c4c" d="M325.3 153.1h6.0v6.0h-6.0zM235.3 279.1h6.0v6.0h-6.0zM187.3 297.1h6.0v6.0h-6.0zM181.3 303.1h6.0v6.0h-6.0zM175.3 309.1h6.0v6.0h-6.0z"/><path fill="#4d4d4d" d="M325.3 117.1h6.0v6.0h-6.0zM325.3 147.1h6.0v6.0h-6.0zM295.3 219.1h6.0v6.0h-6.0zM277.3 237.1h6.0v6.0h-6.0zM265.3 243.1h6.0v6.0h-6.0z"/><path fill="#4e4e4e" d="M229.3 279.1h6.0v6.0h-6.0z"/><path fill="#4f4f4f" d="M319.3 177.1h6.0v6.0h-6.0zM223.3 279.1h6.0v6.0h-6.0z"/><path fill="#505050" d="M217.3 279.1h6.0v6.0h-6.0zM187.3 291.1h6.0v6.0h-6.0z"/><path fill="#515151" d="M247.3 273.1h6.0v6.0h-6.0z"/><path fill="#525252" d="M325.3 111.1h6.0v6.0h-6.0zM289.3 225.1h6.0v6.0h-6.0zM193.3 285.1h6.0v6.0h-6.0zM181.3 297.1h6.0v6.0h-6.0zM175.3 303.1h6.0v6.0h-6.0z"/><path fill="#535353" d="M319.3 171.1h6.0v6.0h-6.0zM313.3 189.1h6.0v6.0h-6.0zM307.3 195.1h6.0v6.0h-6.0zM259.3 255.1h6.0v6.0h-6.0z"/><path fill="#545454" d="M253.3 267.1h6.0v6.0h-6.0z"/><path fill="#555555" d="M325.3 105.1h6.0v6.0h-6.0zM211.3 279.1h6.0v6.0h-6.0z"/><path fill="#565656" d="M301.3 201.1h6.0v6.0h-6.0z"/><path fill="#575757" d="M325.3 99.1h6.0v6.0h-6.0zM271.3 237.1h6.0v6.0h-6.0z"/><path fill="#585858" d="M319.3 165.1h6.0v6.0h-6.0zM241.3 273.1h6.0v6.0h-6.0zM181.3 291.1h6.0v6.0h-6.0zM175.3 297.1h6.0v6.0h-6.0z"/><path fill="#5a5a5a" d="M319.3 135.1h6.0v6.0h-6.0zM319.3 159.1h6.0v6.0h-6.0zM295.3 213.1h6.0v6.0h-6.0zM229.3 273.1h6.0v6.0h-6.0zM205.3 279.1h6.0v6.0h-6.0zM187.3 285.1h6.0v6.0h-6.0z"/><path fill="#5b5b5b" d="M319.3 129.1h6.0v6.0h-6.0zM223.3 273.1h6.0v6.0h-6.0zM235.3 273.1h6.0v6.0h-6.0z"/><path fill="#5c5c5c" d="M319.3 153.1h6.0v6.0h-6.0zM283.3 231.1h6.0v6.0h-6.0z"/><path fill="#5d5d5d" d="M319.3 141.1h6.0v6.0h-6.0zM313.3 183.1h6.0v6.0h-6.0zM217.3 273.1h6.0v6.0h-6.0zM199.3 279.1h6.0v6.0h-6.0z"/><path fill="#5e5e5e" d="M319.3 147.1h6.0v6.0h-6.0zM259.3 249.1h6.0v6.0h-6.0zM253.3 261.1h6.0v6.0h-6.0z"/><path fill="#5f5f5f" d="M319.3 123.1h6.0v6.0h-6.0z"/><path fill="#606060" d="M247.3 267.1h6.0v6.0h-6.0z"/><path fill="#616161" d="M313.3 177.1h6.0v6.0h-6.0zM193.3 279.1h6.0v6.0h-6.0z"/><path fill="#626262" d="M319.3 117.1h6.0v6.0h-6.0z"/><path fill="#636363" d="M307.3 189.1h6.0v6.0h-6.0z"/><path fill="#646464" d="M319.3 99.1h6.0v6.0h-6.0zM313.3 171.1h6.0v6.0h-6.0zM211.3 273.1h6.0v6.0h-6.0z"/><path fill="#656565" d="M319.3 105.1h6.0v6.0h-6.0zM319.3 111.1h6.0v6.0h-6.0zM241.3 267.1h6.0v6.0h-6.0z"/><path fill="#666666" d="M301.3 195.1h6.0v6.0h-6.0zM295.3 207.1h6.0v6.0h-6.0zM253.3 255.1h6.0v6.0h-6.0z"/><path fill="#676767" d="M313.3 165.1h6.0v6.0h-6.0zM289.3 219.1h6.0v6.0h-6.0zM265.3 237.1h6.0v6.0h-6.0z"/><path fill="#686868" d="M313.3 159.1h6.0v6.0h-6.0zM235.3 267.1h6.0v6.0h-6.0z"/><path fill="#696969" d="M313.3 135.1h6.0v6.0h-6.0zM313.3 153.1h6.0v6.0h-6.0zM229.3 267.1h6.0v6.0h-6.0z"/><path fill="#6a6a6a" d="M313.3 129.1h6.0v6.0h-6.0zM313.3 141.1h6.0v6.0h-6.0zM313.3 147.1h6.0v6.0h-6.0zM259.3 243.1h6.0v6.0h-6.0zM223.3 267.1h6.0v6.0h-6.0zM205.3 273.1h6.0v6.0h-6.0z"/><path fill="#6b6b6b" d="M247.3 261.1h6.0v6.0h-6.0z"/><path fill="#6c6c6c" d="M313.3 123.1h6.0v6.0h-6.0zM277.3 231.1h6.0v6.0h-6.0z"/><path fill="#6d6d6d" d="M313.3 93.1h6.0v6.0h-6.0zM253.3 249.1h6.0v6.0h-6.0zM217.3 267.1h6.0v6.0h-6.0zM199.3 273.1h6.0v6.0h-6.0z"/><path fill="#6e6e6e" d="M313.3 99.1h6.0v6.0h-6.0zM307.3 183.1h6.0v6.0h-6.0z"/><path fill="#6f6f6f" d="M313.3 117.1h6.0v6.0h-6.0z"/><path fill="#707070" d="M313.3 105.1h6.0v6.0h-6.0zM241.3 261.1h6.0v6.0h-6.0zM193.3 273.1h6.0v6.0h-6.0z"/><path fill="#717171" d="M313.3 111.1h6.0v6.0h-6.0zM307.3 165.1h6.0v6.0h-6.0zM307.3 177.1h6.0v6.0h-6.0z"/><path fill="#727272" d="M307.3 171.1h6.0v6.0h-6.0zM211.3 267.1h6.0v6.0h-6.0z"/><path fill="#737373" d="M307.3 159.1h6.0v6.0h-6.0zM301.3 189.1h6.0v6.0h-6.0zM295.3 201.1h6.0v6.0h-6.0zM247.3 255.1h6.0v6.0h-6.0z"/><path fill="#747474" d="M307.3 153.1h6.0v6.0h-6.0zM235.3 261.1h6.0v6.0h-6.0z"/><path fill="#757575" d="M307.3 129.1h6.0v6.0h-6.0zM307.3 135.1h6.0v6.0h-6.0z"/><path fill="#767676" d="M307.3 123.1h6.0v6.0h-6.0zM307.3 141.1h6.0v6.0h-6.0zM307.3 147.1h6.0v6.0h-6.0z"/><path fill="#777777" d="M307.3 87.1h6.0v6.0h-6.0zM307.3 93.1h6.0v6.0h-6.0zM307.3 99.1h6.0v6.0h-6.0zM283.3 225.1h6.0v6.0h-6.0zM271.3 231.1h6.0v6.0h-6.0zM229.3 261.1h6.0v6.0h-6.0z"/><path fill="#787878" d="M307.3 105.1h6.0v6.0h-6.0zM307.3 117.1h6.0v6.0h-6.0zM289.3 213.1h6.0v6.0h-6.0zM253.3 243.1h6.0v6.0h-6.0zM205.3 267.1h6.0v6.0h-6.0z"/><path fill="#797979" d="M307.3 111.1h6.0v6.0h-6.0zM241.3 255.1h6.0v6.0h-6.0z"/><path fill="#7a7a7a" d="M247.3 249.1h6.0v6.0h-6.0zM223.3 261.1h6.0v6.0h-6.0z"/><path fill="#7b7b7b" d="M199.3 267.1h6.0v6.0h-6.0z"/><path fill="#7c7c7c" d="M217.3 261.1h6.0v6.0h-6.0z"/><path fill="#7d7d7d" d="M301.3 183.1h6.0v6.0h-6.0z"/><path fill="#7e7e7e" d="M259.3 237.1h6.0v6.0h-6.0z"/><path fill="#7f7f7f" d="M301.3 99.1h6.0v6.0h-6.0zM301.3 123.1h6.0v6.0h-6.0zM301.3 159.1h6.0v6.0h-6.0zM301.3 165.1h6.0v6.0h-6.0zM235.3 255.1h6.0v6.0h-6.0z"/><path fill="#808080" d="M301.3 93.1h6.0v6.0h-6.0zM301.3 105.1h6.0v6.0h-6.0zM301.3 117.1h6.0v6.0h-6.0zM301.3 129.1h6.0v6.0h-6.0zM301.3 171.1h6.0v6.0h-6.0zM301.3 177.1h6.0v6.0h-6.0zM295.3 195.1h6.0v6.0h-6.0zM211.3 261.1h6.0v6.0h-6.0z"/><path fill="#818181" d="M301.3 111.1h6.0v6.0h-6.0zM301.3 135.1h6.0v6.0h-6.0zM301.3 153.1h6.0v6.0h-6.0z"/><path fill="#828282" d="M301.3 87.1h6.0v6.0h-6.0zM301.3 147.1h6.0v6.0h-6.0z"/><path fill="#838383" d="M301.3 81.1h6.0v6.0h-6.0zM301.3 141.1h6.0v6.0h-6.0z"/><path fill="#848484" d="M241.3 249.1h6.0v6.0h-6.0zM229.3 255.1h6.0v6.0h-6.0z"/><path fill="#858585" d="M205.3 261.1h6.0v6.0h-6.0z"/><path fill="#868686" d="M247.3 243.1h6.0v6.0h-6.0z"/><path fill="#888888" d="M289.3 207.1h6.0v6.0h-6.0zM223.3 255.1h6.0v6.0h-6.0z"/><path fill="#898989" d="M283.3 219.1h6.0v6.0h-6.0zM265.3 231.1h6.0v6.0h-6.0z"/><path fill="#8a8a8a" d="M295.3 189.1h6.0v6.0h-6.0z"/><path fill="#8b8b8b" d="M295.3 99.1h6.0v6.0h-6.0zM295.3 105.1h6.0v6.0h-6.0zM295.3 111.1h6.0v6.0h-6.0zM295.3 117.1h6.0v6.0h-6.0zM295.3 123.1h6.0v6.0h-6.0zM235.3 249.1h6.0v6.0h-6.0zM217.3 255.1h6.0v6.0h-6.0z"/><path fill="#8c8c8c" d="M295.3 93.1h6.0v6.0h-6.0zM277.3 225.1h6.0v6.0h-6.0z"/><path fill="#8d8d8d" d="M295.3 129.1h6.0v6.0h-6.0z"/><path fill="#8e8e8e" d="M295.3 87.1h6.0v6.0h-6.0zM211.3 255.1h6.0v6.0h-6.0z"/><path fill="#8f8f8f" d="M295.3 75.1h6.0v6.0h-6.0zM295.3 81.1h6.0v6.0h-6.0zM295.3 135.1h6.0v6.0h-6.0zM295.3 165.1h6.0v6.0h-6.0zM295.3 183.1h6.0v6.0h-6.0zM253.3 237.1h6.0v6.0h-6.0z"/><path fill="#909090" d="M295.3 141.1h6.0v6.0h-6.0zM295.3 159.1h6.0v6.0h-6.0zM229.3 249.1h6.0v6.0h-6.0z"/><path fill="#919191" d="M295.3 147.1h6.0v6.0h-6.0z"/><path fill="#929292" d="M295.3 153.1h6.0v6.0h-6.0zM241.3 243.1h6.0v6.0h-6.0z"/><path fill="#939393" d="M295.3 171.1h6.0v6.0h-6.0z"/><path fill="#949494" d="M295.3 177.1h6.0v6.0h-6.0zM271.3 225.1h6.0v6.0h-6.0zM223.3 249.1h6.0v6.0h-6.0z"/><path fill="#959595" d="M289.3 201.1h6.0v6.0h-6.0z"/><path fill="#989898" d="M289.3 111.1h6.0v6.0h-6.0zM289.3 117.1h6.0v6.0h-6.0zM247.3 237.1h6.0v6.0h-6.0zM217.3 249.1h6.0v6.0h-6.0z"/><path fill="#999999" d="M289.3 99.1h6.0v6.0h-6.0zM289.3 105.1h6.0v6.0h-6.0zM235.3 243.1h6.0v6.0h-6.0z"/><path fill="#9a9a9a" d="M289.3 75.1h6.0v6.0h-6.0zM289.3 93.1h6.0v6.0h-6.0zM283.3 213.1h6.0v6.0h-6.0z"/><path fill="#9b9b9b" d="M289.3 81.1h6.0v6.0h-6.0zM289.3 87.1h6.0v6.0h-6.0zM289.3 123.1h6.0v6.0h-6.0z"/><path fill="#9c9c9c" d="M229.3 243.1h6.0v6.0h-6.0z"/><path fill="#9e9e9e" d="M289.3 129.1h6.0v6.0h-6.0z"/><path fill="#9f9f9f" d="M241.3 237.1h6.0v6.0h-6.0z"/><path fill="#a0a0a0" d="M259.3 231.1h6.0v6.0h-6.0z"/><path fill="#a1a1a1" d="M289.3 195.1h6.0v6.0h-6.0zM223.3 243.1h6.0v6.0h-6.0z"/><path fill="#a2a2a2" d="M277.3 219.1h6.0v6.0h-6.0z"/><path fill="#a3a3a3" d="M289.3 135.1h6.0v6.0h-6.0z"/><path fill="#a4a4a4" d="M235.3 237.1h6.0v6.0h-6.0z"/><path fill="#a5a5a5" d="M283.3 75.1h6.0v6.0h-6.0zM217.3 243.1h6.0v6.0h-6.0z"/><path fill="#a6a6a6" d="M283.3 111.1h6.0v6.0h-6.0zM283.3 117.1h6.0v6.0h-6.0z"/><path fill="#a7a7a7" d="M283.3 81.1h6.0v6.0h-6.0zM283.3 105.1h6.0v6.0h-6.0zM289.3 141.1h6.0v6.0h-6.0z"/><path fill="#a8a8a8" d="M283.3 87.1h6.0v6.0h-6.0zM283.3 99.1h6.0v6.0h-6.0zM283.3 123.1h6.0v6.0h-6.0z"/><path fill="#a9a9a9" d="M283.3 93.1h6.0v6.0h-6.0zM289.3 147.1h6.0v6.0h-6.0zM229.3 237.1h6.0v6.0h-6.0z"/><path fill="#ababab" d="M289.3 153.1h6.0v6.0h-6.0zM289.3 159.1h6.0v6.0h-6.0zM289.3 189.1h6.0v6.0h-6.0zM283.3 207.1h6.0v6.0h-6.0zM265.3 225.1h6.0v6.0h-6.0z"/><path fill="#acacac" d="M289.3 165.1h6.0v6.0h-6.0z"/><path fill="#aeaeae" d="M241.3 231.1h12.0v6.0h-12.0zM223.3 237.1h6.0v6.0h-6.0z"/><path fill="#afafaf" d="M283.3 129.1h6.0v6.0h-6.0zM289.3 171.1h6.0v6.0h-6.0zM253.3 231.1h6.0v6.0h-6.0z"/><path fill="#b0b0b0" d="M289.3 183.1h6.0v6.0h-6.0z"/><path fill="#b1b1b1" d="M277.3 81.1h6.0v6.0h-6.0zM289.3 177.1h6.0v6.0h-6.0z"/><path fill="#b3b3b3" d="M235.3 231.1h6.0v6.0h-6.0z"/><path fill="#b4b4b4" d="M277.3 87.1h6.0v6.0h-6.0zM277.3 111.1h6.0v6.0h-6.0zM277.3 117.1h6.0v6.0h-6.0z"/><path fill="#b5b5b5" d="M277.3 105.1h6.0v6.0h-6.0zM271.3 219.1h6.0v6.0h-6.0z"/><path fill="#b6b6b6" d="M277.3 93.1h6.0v6.0h-6.0zM277.3 99.1h6.0v6.0h-6.0z"/><path fill="#b7b7b7" d="M277.3 213.1h6.0v6.0h-6.0z"/><path fill="#b8b8b8" d="M283.3 135.1h6.0v6.0h-6.0zM283.3 201.1h6.0v6.0h-6.0z"/><path fill="#b9b9b9" d="M277.3 123.1h6.0v6.0h-6.0zM229.3 231.1h6.0v6.0h-6.0z"/><path fill="#bababa" d="M271.3 81.1h6.0v6.0h-6.0z"/><path fill="#bebebe" d="M271.3 87.1h6.0v6.0h-6.0zM223.3 231.1h6.0v6.0h-6.0z"/><path fill="#c0c0c0" d="M271.3 111.1h6.0v6.0h-6.0zM259.3 225.1h6.0v6.0h-6.0z"/><path fill="#c1c1c1" d="M265.3 81.1h6.0v6.0h-6.0zM271.3 93.1h6.0v6.0h-6.0zM271.3 105.1h6.0v6.0h-6.0zM277.3 129.1h6.0v6.0h-6.0zM283.3 141.1h6.0v6.0h-6.0z"/><path fill="#c2c2c2" d="M271.3 99.1h6.0v6.0h-6.0zM271.3 117.1h6.0v6.0h-6.0zM283.3 195.1h6.0v6.0h-6.0z"/><path fill="#c3c3c3" d="M241.3 225.1h6.0v6.0h-6.0z"/><path fill="#c5c5c5" d="M265.3 87.1h6.0v6.0h-6.0zM283.3 147.1h6.0v6.0h-6.0zM247.3 225.1h6.0v6.0h-6.0z"/><path fill="#c6c6c6" d="M247.3 87.1h6.0v6.0h-6.0zM241.3 93.1h6.0v6.0h-6.0zM247.3 99.1h6.0v6.0h-6.0zM283.3 153.1h6.0v6.0h-6.0z"/><path fill="#c7c7c7" d="M247.3 93.1h6.0v6.0h-6.0zM241.3 99.1h6.0v6.0h-6.0z"/><path fill="#c8c8c8" d="M253.3 87.1h12.0v6.0h-12.0zM247.3 105.1h6.0v6.0h-6.0zM283.3 159.1h6.0v6.0h-6.0zM277.3 207.1h6.0v6.0h-6.0z"/><path fill="#c9c9c9" d="M265.3 93.1h6.0v6.0h-6.0zM265.3 105.1h6.0v6.0h-6.0z"/><path fill="#cacaca" d="M235.3 93.1h6.0v6.0h-6.0zM253.3 93.1h6.0v6.0h-6.0zM253.3 99.1h6.0v6.0h-6.0zM265.3 99.1h6.0v6.0h-6.0zM265.3 111.1h6.0v6.0h-6.0zM271.3 123.1h6.0v6.0h-6.0zM277.3 135.1h6.0v6.0h-6.0zM283.3 189.1h6.0v6.0h-6.0zM235.3 225.1h6.0v6.0h-6.0z"/><path fill="#cbcbcb" d="M253.3 105.1h6.0v6.0h-6.0zM253.3 225.1h6.0v6.0h-6.0z"/><path fill="#cccccc" d="M259.3 93.1h6.0v6.0h-6.0zM235.3 99.1h6.0v6.0h-6.0zM241.3 105.1h6.0v6.0h-6.0zM283.3 165.1h6.0v6.0h-6.0zM283.3 171.1h6.0v6.0h-6.0z"/><path fill="#cdcdcd" d="M259.3 99.1h6.0v6.0h-6.0zM259.3 105.1h6.0v6.0h-6.0zM229.3 225.1h6.0v6.0h-6.0z"/><path fill="#cecece" d="M265.3 117.1h6.0v6.0h-6.0zM283.3 177.1h6.0v6.0h-6.0zM283.3 183.1h6.0v6.0h-6.0z"/><path fill="#cfcfcf" d="M229.3 93.1h6.0v6.0h-6.0z"/><path fill="#d0d0d0" d="M265.3 219.1h6.0v6.0h-6.0zM223.3 225.1h6.0v6.0h-6.0z"/><path fill="#d1d1d1" d="M277.3 141.1h6.0v6.0h-6.0z"/><path fill="#d3d3d3" d="M259.3 111.1h6.0v6.0h-6.0zM271.3 213.1h6.0v6.0h-6.0z"/><path fill="#d4d4d4" d="M229.3 99.1h6.0v6.0h-6.0zM235.3 105.1h6.0v6.0h-6.0zM247.3 111.1h6.0v6.0h-6.0zM271.3 129.1h6.0v6.0h-6.0z"/><path fill="#d5d5d5" d="M253.3 111.1h6.0v6.0h-6.0zM277.3 201.1h6.0v6.0h-6.0z"/><path fill="#d6d6d6" d="M259.3 219.1h6.0v6.0h-6.0z"/><path fill="#d7d7d7" d="M265.3 123.1h6.0v6.0h-6.0z"/><path fill="#d8d8d8" d="M277.3 147.1h6.0v6.0h-6.0z"/><path fill="#dadada" d="M241.3 111.1h6.0v6.0h-6.0zM247.3 219.1h12.0v6.0h-12.0z"/><path fill="#dddddd" d="M277.3 153.1h6.0v6.0h-6.0z"/><path fill="#dedede" d="M229.3 105.1h6.0v6.0h-6.0zM271.3 135.1h6.0v6.0h-6.0zM241.3 219.1h6.0v6.0h-6.0z"/><path fill="#dfdfdf" d="M259.3 117.1h6.0v6.0h-6.0zM277.3 159.1h6.0v6.0h-6.0zM277.3 195.1h6.0v6.0h-6.0z"/><path fill="#e1e1e1" d="M277.3 165.1h6.0v6.0h-6.0zM235.3 219.1h6.0v6.0h-6.0z"/><path fill="#e3e3e3" d="M271.3 207.1h6.0v6.0h-6.0zM229.3 219.1h6.0v6.0h-6.0z"/><path fill="#e4e4e4" d="M235.3 111.1h6.0v6.0h-6.0z"/><path fill="#e5e5e5" d="M265.3 129.1h6.0v6.0h-6.0z"/><path fill="#e6e6e6" d="M277.3 189.1h6.0v6.0h-6.0z"/><path fill="#e7e7e7" d="M271.3 141.1h6.0v6.0h-6.0zM277.3 171.1h6.0v6.0h-6.0z"/><path fill="#e8e8e8" d="M253.3 117.1h6.0v6.0h-6.0z"/><path fill="#e9e9e9" d="M277.3 183.1h6.0v6.0h-6.0z"/><path fill="#eaeaea" d="M277.3 177.1h6.0v6.0h-6.0z"/><path fill="#ececec" d="M247.3 117.1h6.0v6.0h-6.0zM259.3 123.1h6.0v6.0h-6.0z"/><path fill="#ededed" d="M229.3 111.1h6.0v6.0h-6.0zM265.3 213.1h6.0v6.0h-6.0z"/><path fill="#eeeeee" d="M271.3 201.1h6.0v6.0h-6.0z"/><path fill="#efefef" d="M271.3 147.1h6.0v6.0h-6.0z"/><path fill="#f1f1f1" d="M265.3 135.1h6.0v6.0h-6.0z"/><path fill="#f2f2f2" d="M241.3 117.1h6.0v6.0h-6.0zM259.3 213.1h6.0v6.0h-6.0z"/><path fill="#f3f3f3" d="M253.3 213.1h6.0v6.0h-6.0z"/><path fill="#f5f5f5" d="M271.3 153.1h6.0v6.0h-6.0z"/><path fill="#f6f6f6" d="M247.3 213.1h6.0v6.0h-6.0z"/><path fill="#f7f7f7" d="M259.3 129.1h6.0v6.0h-6.0z"/><path fill="#f8f8f8" d="M229.3 213.1h6.0v6.0h-6.0z"/><path fill="#f9f9f9" d="M271.3 195.1h6.0v6.0h-6.0zM235.3 213.1h12.0v6.0h-12.0z"/><path fill="#fafafa" d="M235.3 117.1h6.0v6.0h-6.0zM271.3 159.1h6.0v6.0h-6.0z"/><path fill="#fbfbfb" d="M253.3 123.1h6.0v6.0h-6.0zM265.3 207.1h6.0v6.0h-6.0z"/><path fill="#fcfcfc" d="M265.3 141.1h6.0v6.0h-6.0z"/><path fill="#fefefe" d="M271.3 165.1h6.0v6.0h-6.0z"/><path fill="#ffffff" d="M229.3 117.1h6.0v6.0h-6.0zM229.3 123.1h24.0v6.0h-24.0zM229.3 129.1h30.0v6.0h-30.0zM229.3 135.1h36.0v6.0h-36.0zM229.3 141.1h36.0v6.0h-36.0zM229.3 147.1h42.0v6.0h-42.0zM229.3 153.1h42.0v6.0h-42.0zM229.3 159.1h42.0v6.0h-42.0zM229.3 165.1h42.0v6.0h-42.0zM229.3 171.1h48.0v6.0h-48.0zM235.3 177.1h42.0v6.0h-42.0zM235.3 183.1h42.0v6.0h-42.0zM235.3 189.1h42.0v6.0h-42.0zM235.3 195.1h36.0v6.0h-36.0zM235.3 201.1h36.0v6.0h-36.0zM229.3 207.1h36.0v6.0h-36.0z"/></g></g>
<use href="#land"/>
<use href="#dots"/>
<use href="#axl"/>
<path d="M432.3,64.8 L444.0,59.1 L455.7,64.8Z" fill="#fcb67e" stroke="#444" stroke-width="0.5"/>
<path d="M432.3,406.0 L444.0,411.7 L455.7,406.0Z" fill="#eccde6" stroke="#444" stroke-width="0.5"/>
<rect x="432.3" y="64.5" width="23.40" height="341.80" fill="url(#cbP)"/>
<path d="M432.3,64.5 V406.3 M455.7,64.5 V406.3" stroke="#444" stroke-width="0.6" fill="none"/>
<text transform="translate(465.6,73.8) scale(1,1.04)" font-size="29">30</text>
<path d="M432.3,123.4 h4.6 M455.7,123.4 h-4.6" stroke="#333" stroke-width="0.8" fill="none"/>
<text transform="translate(465.6,132.7) scale(1,1.04)" font-size="29">25</text>
<path d="M432.3,182.4 h4.6 M455.7,182.4 h-4.6" stroke="#333" stroke-width="0.8" fill="none"/>
<text transform="translate(465.6,191.7) scale(1,1.04)" font-size="29">20</text>
<path d="M432.3,241.3 h4.6 M455.7,241.3 h-4.6" stroke="#333" stroke-width="0.8" fill="none"/>
<text transform="translate(465.6,250.6) scale(1,1.04)" font-size="29">15</text>
<path d="M432.3,300.2 h4.6 M455.7,300.2 h-4.6" stroke="#333" stroke-width="0.8" fill="none"/>
<text transform="translate(465.6,309.5) scale(1,1.04)" font-size="29">10</text>
<path d="M432.3,359.2 h4.6 M455.7,359.2 h-4.6" stroke="#333" stroke-width="0.8" fill="none"/>
<text transform="translate(465.6,368.5) scale(1,1.04)" font-size="29">5</text>
<text transform="translate(430.8,401.6) rotate(-90)" font-size="18.6" textLength="126" lengthAdjust="spacingAndGlyphs">Ocean Data View</text>
<text class="b" transform="translate(370.6,365.8) scale(1,1.08)" font-size="27.6">E</text>
</g>
<g transform="translate(603.0,938.0)">
<use href="#frame"/>
<g clip-path="url(#dclip)"><g filter="url(#fP)"><rect x="160" y="55" width="260" height="360" fill="#a4a4a4"/><path fill="#020202" d="M307.3 255.1h6.0v6.0h-6.0zM307.3 261.1h6.0v6.0h-6.0z"/><path fill="#050505" d="M301.3 261.1h6.0v6.0h-6.0zM247.3 345.1h6.0v6.0h-6.0z"/><path fill="#060606" d="M301.3 267.1h6.0v6.0h-6.0zM301.3 273.1h6.0v6.0h-6.0zM247.3 351.1h6.0v6.0h-6.0z"/><path fill="#070707" d="M247.3 357.1h6.0v6.0h-6.0z"/><path fill="#080808" d="M253.3 357.1h6.0v6.0h-6.0zM247.3 363.1h6.0v6.0h-6.0z"/><path fill="#090909" d="M247.3 339.1h6.0v6.0h-6.0z"/><path fill="#0a0a0a" d="M253.3 351.1h6.0v6.0h-6.0z"/><path fill="#0c0c0c" d="M301.3 279.1h6.0v6.0h-6.0z"/><path fill="#0d0d0d" d="M253.3 345.1h6.0v6.0h-6.0zM241.3 357.1h6.0v6.0h-6.0zM241.3 363.1h6.0v6.0h-6.0z"/><path fill="#0e0e0e" d="M241.3 351.1h6.0v6.0h-6.0z"/><path fill="#101010" d="M307.3 267.1h6.0v6.0h-6.0zM307.3 273.1h6.0v6.0h-6.0zM253.3 339.1h6.0v6.0h-6.0z"/><path fill="#111111" d="M301.3 285.1h6.0v6.0h-6.0zM241.3 345.1h6.0v6.0h-6.0z"/><path fill="#121212" d="M247.3 333.1h6.0v6.0h-6.0zM259.3 351.1h6.0v6.0h-6.0z"/><path fill="#131313" d="M301.3 255.1h6.0v6.0h-6.0z"/><path fill="#141414" d="M307.3 279.1h6.0v6.0h-6.0zM253.3 333.1h6.0v6.0h-6.0z"/><path fill="#151515" d="M295.3 285.1h6.0v6.0h-6.0zM241.3 339.1h6.0v6.0h-6.0z"/><path fill="#161616" d="M301.3 291.1h6.0v6.0h-6.0z"/><path fill="#171717" d="M235.3 357.1h6.0v6.0h-6.0z"/><path fill="#191919" d="M295.3 291.1h6.0v6.0h-6.0zM259.3 345.1h6.0v6.0h-6.0z"/><path fill="#1a1a1a" d="M241.3 333.1h6.0v6.0h-6.0z"/><path fill="#1b1b1b" d="M313.3 255.1h6.0v6.0h-6.0zM295.3 267.1h6.0v6.0h-6.0zM307.3 285.1h6.0v6.0h-6.0zM301.3 297.1h6.0v6.0h-6.0zM235.3 351.1h6.0v6.0h-6.0z"/><path fill="#1c1c1c" d="M313.3 261.1h6.0v6.0h-6.0zM295.3 297.1h6.0v6.0h-6.0z"/><path fill="#1d1d1d" d="M253.3 327.1h6.0v6.0h-6.0zM259.3 333.1h6.0v6.0h-6.0zM259.3 339.1h6.0v6.0h-6.0z"/><path fill="#1e1e1e" d="M295.3 279.1h6.0v6.0h-6.0zM295.3 303.1h6.0v6.0h-6.0zM295.3 309.1h6.0v6.0h-6.0zM289.3 315.1h12.0v6.0h-12.0zM289.3 321.1h12.0v6.0h-12.0zM247.3 327.1h6.0v6.0h-6.0zM289.3 327.1h6.0v6.0h-6.0zM265.3 345.1h6.0v6.0h-6.0z"/><path fill="#1f1f1f" d="M307.3 291.1h6.0v6.0h-6.0zM301.3 303.1h6.0v6.0h-6.0zM289.3 309.1h6.0v6.0h-6.0zM301.3 315.1h6.0v6.0h-6.0z"/><path fill="#202020" d="M307.3 297.1h6.0v6.0h-6.0zM301.3 309.1h6.0v6.0h-6.0zM241.3 327.1h6.0v6.0h-6.0z"/><path fill="#212121" d="M283.3 315.1h6.0v6.0h-6.0zM283.3 321.1h6.0v6.0h-6.0zM259.3 327.1h6.0v6.0h-6.0zM283.3 327.1h6.0v6.0h-6.0zM283.3 333.1h6.0v6.0h-6.0zM235.3 345.1h6.0v6.0h-6.0z"/><path fill="#222222" d="M289.3 303.1h6.0v6.0h-6.0zM307.3 303.1h6.0v6.0h-6.0zM307.3 309.1h6.0v6.0h-6.0zM277.3 339.1h6.0v6.0h-6.0z"/><path fill="#232323" d="M265.3 339.1h6.0v6.0h-6.0z"/><path fill="#242424" d="M283.3 309.1h6.0v6.0h-6.0zM277.3 321.1h6.0v6.0h-6.0zM277.3 327.1h6.0v6.0h-6.0zM277.3 333.1h6.0v6.0h-6.0zM235.3 339.1h6.0v6.0h-6.0zM271.3 339.1h6.0v6.0h-6.0z"/><path fill="#252525" d="M313.3 267.1h6.0v6.0h-6.0zM313.3 279.1h6.0v6.0h-6.0zM313.3 303.1h6.0v6.0h-6.0zM259.3 321.1h6.0v6.0h-6.0zM235.3 333.1h6.0v6.0h-6.0zM265.3 333.1h6.0v6.0h-6.0z"/><path fill="#262626" d="M343.3 249.1h6.0v6.0h-6.0zM343.3 255.1h6.0v6.0h-6.0zM313.3 273.1h6.0v6.0h-6.0zM289.3 285.1h6.0v6.0h-6.0zM313.3 285.1h6.0v6.0h-6.0zM313.3 297.1h6.0v6.0h-6.0zM247.3 321.1h12.0v6.0h-12.0zM271.3 333.1h6.0v6.0h-6.0z"/><path fill="#272727" d="M343.3 243.1h6.0v6.0h-6.0zM337.3 267.1h6.0v6.0h-6.0zM337.3 273.1h6.0v6.0h-6.0zM313.3 291.1h6.0v6.0h-6.0zM271.3 321.1h6.0v6.0h-6.0zM265.3 327.1h12.0v6.0h-12.0zM229.3 351.1h6.0v6.0h-6.0z"/><path fill="#282828" d="M295.3 255.1h6.0v6.0h-6.0zM337.3 255.1h6.0v6.0h-6.0zM337.3 261.1h6.0v6.0h-6.0zM277.3 315.1h6.0v6.0h-6.0zM265.3 321.1h6.0v6.0h-6.0z"/><path fill="#292929" d="M349.3 237.1h6.0v6.0h-6.0zM337.3 243.1h6.0v6.0h-6.0zM337.3 249.1h6.0v6.0h-6.0zM331.3 267.1h6.0v6.0h-6.0zM319.3 297.1h6.0v6.0h-6.0zM241.3 321.1h6.0v6.0h-6.0zM235.3 327.1h6.0v6.0h-6.0z"/><path fill="#2a2a2a" d="M337.3 237.1h12.0v6.0h-12.0zM331.3 243.1h6.0v6.0h-6.0zM331.3 261.1h6.0v6.0h-6.0zM331.3 273.1h6.0v6.0h-6.0zM331.3 279.1h6.0v6.0h-6.0zM331.3 285.1h6.0v6.0h-6.0zM319.3 291.1h6.0v6.0h-6.0zM289.3 297.1h6.0v6.0h-6.0z"/><path fill="#2b2b2b" d="M331.3 237.1h6.0v6.0h-6.0zM325.3 243.1h6.0v6.0h-6.0zM313.3 249.1h6.0v6.0h-6.0zM331.3 249.1h6.0v6.0h-6.0zM331.3 255.1h6.0v6.0h-6.0zM319.3 261.1h6.0v6.0h-6.0zM319.3 267.1h12.0v6.0h-12.0zM325.3 273.1h6.0v6.0h-6.0zM319.3 279.1h12.0v6.0h-12.0zM319.3 285.1h12.0v6.0h-12.0zM325.3 291.1h6.0v6.0h-6.0zM229.3 345.1h6.0v6.0h-6.0z"/><path fill="#2c2c2c" d="M325.3 261.1h6.0v6.0h-6.0zM319.3 273.1h6.0v6.0h-6.0z"/><path fill="#2d2d2d" d="M349.3 231.1h6.0v6.0h-6.0zM325.3 237.1h6.0v6.0h-6.0zM319.3 243.1h6.0v6.0h-6.0zM319.3 249.1h12.0v6.0h-12.0zM319.3 255.1h6.0v6.0h-6.0zM229.3 339.1h6.0v6.0h-6.0z"/><path fill="#2e2e2e" d="M325.3 255.1h6.0v6.0h-6.0zM289.3 291.1h6.0v6.0h-6.0zM271.3 315.1h6.0v6.0h-6.0z"/><path fill="#2f2f2f" d="M337.3 231.1h12.0v6.0h-12.0zM283.3 303.1h6.0v6.0h-6.0zM277.3 309.1h6.0v6.0h-6.0z"/><path fill="#303030" d="M331.3 231.1h6.0v6.0h-6.0zM295.3 273.1h6.0v6.0h-6.0zM259.3 315.1h12.0v6.0h-12.0z"/><path fill="#313131" d="M289.3 267.1h6.0v6.0h-6.0z"/><path fill="#323232" d="M319.3 237.1h6.0v6.0h-6.0z"/><path fill="#333333" d="M229.3 333.1h6.0v6.0h-6.0zM223.3 351.1h6.0v6.0h-6.0z"/><path fill="#343434" d="M349.3 225.1h12.0v6.0h-12.0zM235.3 321.1h6.0v6.0h-6.0z"/><path fill="#353535" d="M343.3 225.1h6.0v6.0h-6.0zM325.3 231.1h6.0v6.0h-6.0zM295.3 261.1h6.0v6.0h-6.0zM253.3 315.1h6.0v6.0h-6.0z"/><path fill="#363636" d="M313.3 243.1h6.0v6.0h-6.0z"/><path fill="#373737" d="M337.3 225.1h6.0v6.0h-6.0zM247.3 315.1h6.0v6.0h-6.0z"/><path fill="#383838" d="M307.3 249.1h6.0v6.0h-6.0zM289.3 279.1h6.0v6.0h-6.0zM223.3 345.1h6.0v6.0h-6.0z"/><path fill="#393939" d="M241.3 315.1h6.0v6.0h-6.0z"/><path fill="#3a3a3a" d="M331.3 225.1h6.0v6.0h-6.0zM271.3 309.1h6.0v6.0h-6.0z"/><path fill="#3b3b3b" d="M313.3 237.1h6.0v6.0h-6.0zM283.3 297.1h6.0v6.0h-6.0z"/><path fill="#3c3c3c" d="M361.3 219.1h6.0v6.0h-6.0zM319.3 231.1h6.0v6.0h-6.0zM289.3 261.1h6.0v6.0h-6.0zM277.3 303.1h6.0v6.0h-6.0z"/><path fill="#3d3d3d" d="M223.3 339.1h6.0v6.0h-6.0z"/><path fill="#3f3f3f" d="M355.3 219.1h6.0v6.0h-6.0zM295.3 249.1h6.0v6.0h-6.0z"/><path fill="#404040" d="M349.3 219.1h6.0v6.0h-6.0zM229.3 327.1h6.0v6.0h-6.0z"/><path fill="#414141" d="M343.3 219.1h6.0v6.0h-6.0zM325.3 225.1h6.0v6.0h-6.0zM283.3 285.1h6.0v6.0h-6.0zM283.3 291.1h6.0v6.0h-6.0zM265.3 309.1h6.0v6.0h-6.0z"/><path fill="#424242" d="M235.3 315.1h6.0v6.0h-6.0z"/><path fill="#454545" d="M337.3 219.1h6.0v6.0h-6.0zM313.3 231.1h6.0v6.0h-6.0zM307.3 243.1h6.0v6.0h-6.0zM259.3 309.1h6.0v6.0h-6.0z"/><path fill="#464646" d="M307.3 237.1h6.0v6.0h-6.0zM277.3 297.1h6.0v6.0h-6.0z"/><path fill="#474747" d="M289.3 273.1h6.0v6.0h-6.0zM229.3 321.1h6.0v6.0h-6.0zM217.3 345.1h6.0v6.0h-6.0z"/><path fill="#484848" d="M361.3 213.1h6.0v6.0h-6.0zM319.3 225.1h6.0v6.0h-6.0zM301.3 249.1h6.0v6.0h-6.0zM271.3 303.1h6.0v6.0h-6.0z"/><path fill="#494949" d="M331.3 219.1h6.0v6.0h-6.0zM283.3 279.1h6.0v6.0h-6.0z"/><path fill="#4a4a4a" d="M247.3 309.1h12.0v6.0h-12.0z"/><path fill="#4b4b4b" d="M241.3 309.1h6.0v6.0h-6.0zM223.3 333.1h6.0v6.0h-6.0z"/><path fill="#4c4c4c" d="M367.3 207.1h6.0v6.0h-6.0zM277.3 291.1h6.0v6.0h-6.0z"/><path fill="#4d4d4d" d="M355.3 213.1h6.0v6.0h-6.0zM235.3 309.1h6.0v6.0h-6.0zM229.3 315.1h6.0v6.0h-6.0z"/><path fill="#4e4e4e" d="M301.3 243.1h6.0v6.0h-6.0zM283.3 267.1h6.0v6.0h-6.0z"/><path fill="#4f4f4f" d="M379.3 189.1h6.0v6.0h-6.0zM325.3 219.1h6.0v6.0h-6.0z"/><path fill="#505050" d="M349.3 213.1h6.0v6.0h-6.0zM313.3 225.1h6.0v6.0h-6.0zM307.3 231.1h6.0v6.0h-6.0zM265.3 303.1h6.0v6.0h-6.0zM223.3 327.1h6.0v6.0h-6.0zM217.3 339.1h6.0v6.0h-6.0z"/><path fill="#515151" d="M373.3 195.1h6.0v6.0h-6.0zM343.3 213.1h6.0v6.0h-6.0zM283.3 273.1h6.0v6.0h-6.0zM277.3 285.1h6.0v6.0h-6.0zM271.3 297.1h6.0v6.0h-6.0z"/><path fill="#525252" d="M289.3 255.1h6.0v6.0h-6.0zM229.3 309.1h6.0v6.0h-6.0z"/><path fill="#535353" d="M295.3 243.1h6.0v6.0h-6.0zM259.3 303.1h6.0v6.0h-6.0z"/><path fill="#545454" d="M301.3 237.1h6.0v6.0h-6.0zM283.3 261.1h6.0v6.0h-6.0z"/><path fill="#555555" d="M367.3 201.1h6.0v6.0h-6.0zM361.3 207.1h6.0v6.0h-6.0zM337.3 213.1h6.0v6.0h-6.0zM319.3 219.1h6.0v6.0h-6.0zM277.3 279.1h6.0v6.0h-6.0z"/><path fill="#565656" d="M379.3 183.1h6.0v6.0h-6.0zM289.3 249.1h6.0v6.0h-6.0zM241.3 303.1h6.0v6.0h-6.0zM253.3 303.1h6.0v6.0h-6.0zM223.3 321.1h6.0v6.0h-6.0z"/><path fill="#575757" d="M385.3 177.1h6.0v6.0h-6.0zM271.3 291.1h6.0v6.0h-6.0zM247.3 303.1h6.0v6.0h-6.0z"/><path fill="#585858" d="M373.3 189.1h6.0v6.0h-6.0zM235.3 303.1h6.0v6.0h-6.0zM217.3 333.1h6.0v6.0h-6.0z"/><path fill="#595959" d="M331.3 213.1h6.0v6.0h-6.0zM277.3 273.1h6.0v6.0h-6.0z"/><path fill="#5a5a5a" d="M307.3 225.1h6.0v6.0h-6.0zM265.3 297.1h6.0v6.0h-6.0zM223.3 315.1h6.0v6.0h-6.0z"/><path fill="#5b5b5b" d="M313.3 219.1h6.0v6.0h-6.0zM229.3 303.1h6.0v6.0h-6.0zM217.3 327.1h6.0v6.0h-6.0z"/><path fill="#5c5c5c" d="M391.3 165.1h6.0v6.0h-6.0zM367.3 195.1h6.0v6.0h-6.0zM355.3 207.1h6.0v6.0h-6.0zM211.3 339.1h6.0v6.0h-6.0z"/><path fill="#5d5d5d" d="M325.3 213.1h6.0v6.0h-6.0zM301.3 231.1h6.0v6.0h-6.0zM277.3 267.1h6.0v6.0h-6.0z"/><path fill="#5e5e5e" d="M385.3 171.1h6.0v6.0h-6.0zM379.3 177.1h6.0v6.0h-6.0zM271.3 285.1h6.0v6.0h-6.0zM223.3 309.1h6.0v6.0h-6.0z"/><path fill="#5f5f5f" d="M373.3 183.1h6.0v6.0h-6.0zM259.3 297.1h6.0v6.0h-6.0z"/><path fill="#606060" d="M283.3 255.1h6.0v6.0h-6.0z"/><path fill="#616161" d="M391.3 159.1h6.0v6.0h-6.0zM361.3 201.1h6.0v6.0h-6.0zM349.3 207.1h6.0v6.0h-6.0zM265.3 291.1h6.0v6.0h-6.0z"/><path fill="#626262" d="M319.3 213.1h6.0v6.0h-6.0zM307.3 219.1h6.0v6.0h-6.0zM295.3 237.1h6.0v6.0h-6.0zM277.3 261.1h6.0v6.0h-6.0zM271.3 279.1h6.0v6.0h-6.0zM217.3 321.1h6.0v6.0h-6.0z"/><path fill="#636363" d="M367.3 189.1h6.0v6.0h-6.0zM343.3 207.1h6.0v6.0h-6.0zM289.3 243.1h6.0v6.0h-6.0zM211.3 333.1h6.0v6.0h-6.0z"/><path fill="#646464" d="M253.3 297.1h6.0v6.0h-6.0z"/><path fill="#656565" d="M385.3 165.1h6.0v6.0h-6.0zM271.3 273.1h6.0v6.0h-6.0zM247.3 297.1h6.0v6.0h-6.0z"/><path fill="#666666" d="M337.3 207.1h6.0v6.0h-6.0zM313.3 213.1h6.0v6.0h-6.0zM301.3 225.1h6.0v6.0h-6.0zM241.3 297.1h6.0v6.0h-6.0zM223.3 303.1h6.0v6.0h-6.0z"/><path fill="#676767" d="M379.3 171.1h6.0v6.0h-6.0zM373.3 177.1h6.0v6.0h-6.0z"/><path fill="#686868" d="M283.3 249.1h6.0v6.0h-6.0zM235.3 297.1h6.0v6.0h-6.0zM217.3 315.1h6.0v6.0h-6.0zM211.3 327.1h6.0v6.0h-6.0z"/><path fill="#696969" d="M385.3 159.1h6.0v6.0h-6.0zM331.3 207.1h6.0v6.0h-6.0zM301.3 219.1h6.0v6.0h-6.0zM277.3 255.1h6.0v6.0h-6.0zM271.3 267.1h6.0v6.0h-6.0z"/><path fill="#6a6a6a" d="M361.3 195.1h6.0v6.0h-6.0zM307.3 213.1h6.0v6.0h-6.0zM265.3 285.1h6.0v6.0h-6.0zM259.3 291.1h6.0v6.0h-6.0zM229.3 297.1h6.0v6.0h-6.0z"/><path fill="#6b6b6b" d="M367.3 183.1h6.0v6.0h-6.0z"/><path fill="#6c6c6c" d="M355.3 201.1h6.0v6.0h-6.0zM325.3 207.1h6.0v6.0h-6.0zM295.3 231.1h6.0v6.0h-6.0z"/><path fill="#6d6d6d" d="M385.3 153.1h6.0v6.0h-6.0z"/><path fill="#6e6e6e" d="M379.3 165.1h6.0v6.0h-6.0zM319.3 207.1h6.0v6.0h-6.0zM277.3 249.1h6.0v6.0h-6.0zM271.3 261.1h6.0v6.0h-6.0zM217.3 309.1h6.0v6.0h-6.0zM205.3 333.1h6.0v6.0h-6.0z"/><path fill="#6f6f6f" d="M373.3 171.1h6.0v6.0h-6.0zM301.3 213.1h6.0v6.0h-6.0z"/><path fill="#707070" d="M307.3 207.1h12.0v6.0h-12.0zM283.3 243.1h6.0v6.0h-6.0zM223.3 297.1h6.0v6.0h-6.0zM211.3 321.1h6.0v6.0h-6.0z"/><path fill="#727272" d="M379.3 159.1h6.0v6.0h-6.0zM367.3 177.1h6.0v6.0h-6.0zM361.3 189.1h6.0v6.0h-6.0zM349.3 201.1h6.0v6.0h-6.0zM301.3 207.1h6.0v6.0h-6.0zM295.3 219.1h6.0v6.0h-6.0zM295.3 225.1h6.0v6.0h-6.0zM271.3 255.1h6.0v6.0h-6.0zM265.3 279.1h6.0v6.0h-6.0z"/><path fill="#737373" d="M271.3 249.1h6.0v6.0h-6.0z"/><path fill="#747474" d="M253.3 291.1h6.0v6.0h-6.0zM205.3 327.1h6.0v6.0h-6.0z"/><path fill="#757575" d="M379.3 153.1h6.0v6.0h-6.0zM343.3 201.1h6.0v6.0h-6.0zM289.3 237.1h6.0v6.0h-6.0zM277.3 243.1h6.0v6.0h-6.0zM259.3 285.1h6.0v6.0h-6.0z"/><path fill="#767676" d="M373.3 165.1h6.0v6.0h-6.0zM265.3 273.1h6.0v6.0h-6.0zM247.3 291.1h6.0v6.0h-6.0z"/><path fill="#777777" d="M337.3 201.1h6.0v6.0h-6.0zM295.3 213.1h6.0v6.0h-6.0zM217.3 303.1h6.0v6.0h-6.0zM211.3 315.1h6.0v6.0h-6.0z"/><path fill="#787878" d="M331.3 201.1h6.0v6.0h-6.0zM241.3 291.1h6.0v6.0h-6.0z"/><path fill="#797979" d="M373.3 159.1h6.0v6.0h-6.0zM367.3 171.1h6.0v6.0h-6.0zM355.3 195.1h6.0v6.0h-6.0zM325.3 201.1h6.0v6.0h-6.0z"/><path fill="#7a7a7a" d="M379.3 147.1h6.0v6.0h-6.0zM319.3 201.1h6.0v6.0h-6.0zM271.3 243.1h6.0v6.0h-6.0zM265.3 267.1h6.0v6.0h-6.0z"/><path fill="#7b7b7b" d="M313.3 201.1h6.0v6.0h-6.0zM235.3 291.1h6.0v6.0h-6.0zM205.3 321.1h6.0v6.0h-6.0z"/><path fill="#7c7c7c" d="M373.3 153.1h6.0v6.0h-6.0zM361.3 183.1h6.0v6.0h-6.0z"/><path fill="#7d7d7d" d="M307.3 201.1h6.0v6.0h-6.0zM283.3 237.1h6.0v6.0h-6.0zM229.3 291.1h6.0v6.0h-6.0z"/><path fill="#7e7e7e" d="M223.3 291.1h6.0v6.0h-6.0z"/><path fill="#7f7f7f" d="M367.3 165.1h6.0v6.0h-6.0zM211.3 309.1h6.0v6.0h-6.0z"/><path fill="#808080" d="M265.3 261.1h6.0v6.0h-6.0zM199.3 327.1h6.0v6.0h-6.0z"/><path fill="#828282" d="M367.3 159.1h6.0v6.0h-6.0zM349.3 195.1h6.0v6.0h-6.0zM253.3 285.1h6.0v6.0h-6.0zM217.3 297.1h6.0v6.0h-6.0z"/><path fill="#838383" d="M373.3 147.1h6.0v6.0h-6.0zM361.3 177.1h6.0v6.0h-6.0zM289.3 231.1h6.0v6.0h-6.0zM259.3 279.1h6.0v6.0h-6.0z"/><path fill="#848484" d="M265.3 255.1h6.0v6.0h-6.0zM205.3 315.1h6.0v6.0h-6.0z"/><path fill="#858585" d="M355.3 189.1h6.0v6.0h-6.0z"/><path fill="#868686" d="M367.3 153.1h6.0v6.0h-6.0zM343.3 195.1h6.0v6.0h-6.0z"/><path fill="#878787" d="M337.3 195.1h6.0v6.0h-6.0zM199.3 321.1h6.0v6.0h-6.0z"/><path fill="#888888" d="M361.3 171.1h6.0v6.0h-6.0zM277.3 237.1h6.0v6.0h-6.0zM265.3 249.1h6.0v6.0h-6.0z"/><path fill="#898989" d="M331.3 195.1h6.0v6.0h-6.0zM301.3 201.1h6.0v6.0h-6.0zM247.3 285.1h6.0v6.0h-6.0zM211.3 303.1h6.0v6.0h-6.0z"/><path fill="#8b8b8b" d="M241.3 285.1h6.0v6.0h-6.0z"/><path fill="#8c8c8c" d="M325.3 195.1h6.0v6.0h-6.0zM217.3 291.1h6.0v6.0h-6.0z"/><path fill="#8d8d8d" d="M361.3 165.1h6.0v6.0h-6.0zM205.3 309.1h6.0v6.0h-6.0z"/><path fill="#8e8e8e" d="M319.3 195.1h6.0v6.0h-6.0zM289.3 225.1h6.0v6.0h-6.0zM259.3 273.1h6.0v6.0h-6.0z"/><path fill="#8f8f8f" d="M235.3 285.1h6.0v6.0h-6.0z"/><path fill="#909090" d="M367.3 147.1h6.0v6.0h-6.0zM199.3 315.1h6.0v6.0h-6.0z"/><path fill="#919191" d="M355.3 183.1h6.0v6.0h-6.0zM295.3 207.1h6.0v6.0h-6.0zM253.3 279.1h6.0v6.0h-6.0z"/><path fill="#929292" d="M361.3 159.1h6.0v6.0h-6.0zM349.3 189.1h6.0v6.0h-6.0zM313.3 195.1h6.0v6.0h-6.0zM229.3 285.1h6.0v6.0h-6.0z"/><path fill="#939393" d="M211.3 297.1h6.0v6.0h-6.0z"/><path fill="#959595" d="M355.3 177.1h6.0v6.0h-6.0zM259.3 267.1h6.0v6.0h-6.0z"/><path fill="#969696" d="M307.3 195.1h6.0v6.0h-6.0zM223.3 285.1h6.0v6.0h-6.0zM205.3 303.1h6.0v6.0h-6.0zM193.3 321.1h6.0v6.0h-6.0z"/><path fill="#989898" d="M355.3 171.1h6.0v6.0h-6.0z"/><path fill="#999999" d="M361.3 153.1h6.0v6.0h-6.0zM343.3 189.1h6.0v6.0h-6.0z"/><path fill="#9a9a9a" d="M367.3 141.1h6.0v6.0h-6.0zM199.3 309.1h6.0v6.0h-6.0z"/><path fill="#9d9d9d" d="M259.3 261.1h6.0v6.0h-6.0zM247.3 279.1h6.0v6.0h-6.0z"/><path fill="#9e9e9e" d="M355.3 165.1h6.0v6.0h-6.0zM349.3 183.1h6.0v6.0h-6.0z"/><path fill="#9f9f9f" d="M283.3 231.1h6.0v6.0h-6.0zM217.3 285.1h6.0v6.0h-6.0zM193.3 315.1h6.0v6.0h-6.0z"/><path fill="#a0a0a0" d="M337.3 189.1h6.0v6.0h-6.0zM265.3 243.1h6.0v6.0h-6.0zM211.3 291.1h6.0v6.0h-6.0z"/><path fill="#a1a1a1" d="M271.3 237.1h6.0v6.0h-6.0z"/><path fill="#a2a2a2" d="M253.3 273.1h6.0v6.0h-6.0zM205.3 297.1h6.0v6.0h-6.0z"/><path fill="#a3a3a3" d="M361.3 147.1h6.0v6.0h-6.0zM349.3 177.1h6.0v6.0h-6.0z"/><path fill="#a5a5a5" d="M241.3 279.1h6.0v6.0h-6.0zM199.3 303.1h6.0v6.0h-6.0zM187.3 321.1h6.0v6.0h-6.0z"/><path fill="#a6a6a6" d="M355.3 159.1h6.0v6.0h-6.0zM331.3 189.1h6.0v6.0h-6.0zM295.3 201.1h6.0v6.0h-6.0zM235.3 279.1h6.0v6.0h-6.0z"/><path fill="#a8a8a8" d="M349.3 171.1h6.0v6.0h-6.0zM259.3 255.1h6.0v6.0h-6.0z"/><path fill="#a9a9a9" d="M343.3 183.1h6.0v6.0h-6.0zM229.3 279.1h6.0v6.0h-6.0z"/><path fill="#aaaaaa" d="M325.3 189.1h6.0v6.0h-6.0zM193.3 309.1h6.0v6.0h-6.0z"/><path fill="#ababab" d="M289.3 219.1h6.0v6.0h-6.0z"/><path fill="#acacac" d="M361.3 141.1h6.0v6.0h-6.0zM301.3 195.1h6.0v6.0h-6.0z"/><path fill="#adadad" d="M319.3 189.1h6.0v6.0h-6.0z"/><path fill="#afafaf" d="M355.3 153.1h6.0v6.0h-6.0zM349.3 165.1h6.0v6.0h-6.0zM247.3 273.1h6.0v6.0h-6.0z"/><path fill="#b0b0b0" d="M187.3 315.1h6.0v6.0h-6.0z"/><path fill="#b1b1b1" d="M343.3 177.1h6.0v6.0h-6.0z"/><path fill="#b2b2b2" d="M277.3 231.1h6.0v6.0h-6.0zM223.3 279.1h6.0v6.0h-6.0z"/><path fill="#b3b3b3" d="M361.3 135.1h6.0v6.0h-6.0zM337.3 183.1h6.0v6.0h-6.0z"/><path fill="#b4b4b4" d="M253.3 267.1h6.0v6.0h-6.0z"/><path fill="#b5b5b5" d="M313.3 189.1h6.0v6.0h-6.0zM205.3 291.1h6.0v6.0h-6.0z"/><path fill="#b6b6b6" d="M211.3 285.1h6.0v6.0h-6.0z"/><path fill="#b7b7b7" d="M343.3 171.1h6.0v6.0h-6.0zM265.3 237.1h6.0v6.0h-6.0zM199.3 297.1h6.0v6.0h-6.0z"/><path fill="#b8b8b8" d="M349.3 159.1h6.0v6.0h-6.0z"/><path fill="#b9b9b9" d="M355.3 147.1h6.0v6.0h-6.0zM283.3 225.1h6.0v6.0h-6.0zM259.3 249.1h6.0v6.0h-6.0zM193.3 303.1h6.0v6.0h-6.0z"/><path fill="#bbbbbb" d="M307.3 189.1h6.0v6.0h-6.0z"/><path fill="#bcbcbc" d="M331.3 183.1h6.0v6.0h-6.0zM289.3 213.1h6.0v6.0h-6.0z"/><path fill="#bebebe" d="M337.3 177.1h6.0v6.0h-6.0zM241.3 273.1h6.0v6.0h-6.0zM187.3 309.1h6.0v6.0h-6.0z"/><path fill="#bfbfbf" d="M355.3 141.1h6.0v6.0h-6.0z"/><path fill="#c0c0c0" d="M343.3 165.1h6.0v6.0h-6.0zM325.3 183.1h6.0v6.0h-6.0zM253.3 261.1h6.0v6.0h-6.0z"/><path fill="#c1c1c1" d="M349.3 153.1h6.0v6.0h-6.0zM217.3 279.1h6.0v6.0h-6.0zM181.3 315.1h6.0v6.0h-6.0z"/><path fill="#c3c3c3" d="M355.3 135.1h6.0v6.0h-6.0z"/><path fill="#c4c4c4" d="M235.3 273.1h6.0v6.0h-6.0z"/><path fill="#c5c5c5" d="M337.3 171.1h6.0v6.0h-6.0z"/><path fill="#c6c6c6" d="M355.3 129.1h6.0v6.0h-6.0zM301.3 189.1h6.0v6.0h-6.0z"/><path fill="#c7c7c7" d="M289.3 207.1h6.0v6.0h-6.0z"/><path fill="#c8c8c8" d="M343.3 159.1h6.0v6.0h-6.0zM331.3 177.1h6.0v6.0h-6.0zM319.3 183.1h6.0v6.0h-6.0zM271.3 231.1h6.0v6.0h-6.0zM247.3 267.1h6.0v6.0h-6.0zM229.3 273.1h6.0v6.0h-6.0z"/><path fill="#c9c9c9" d="M349.3 147.1h6.0v6.0h-6.0z"/><path fill="#cbcbcb" d="M295.3 195.1h6.0v6.0h-6.0zM283.3 219.1h6.0v6.0h-6.0zM253.3 255.1h6.0v6.0h-6.0zM223.3 273.1h6.0v6.0h-6.0z"/><path fill="#cdcdcd" d="M337.3 165.1h6.0v6.0h-6.0z"/><path fill="#cecece" d="M205.3 285.1h6.0v6.0h-6.0zM193.3 297.1h6.0v6.0h-6.0zM187.3 303.1h6.0v6.0h-6.0z"/><path fill="#cfcfcf" d="M349.3 141.1h6.0v6.0h-6.0zM343.3 153.1h6.0v6.0h-6.0zM325.3 177.1h6.0v6.0h-6.0zM199.3 291.1h6.0v6.0h-6.0zM181.3 309.1h6.0v6.0h-6.0z"/><path fill="#d0d0d0" d="M349.3 135.1h6.0v6.0h-6.0zM331.3 171.1h6.0v6.0h-6.0zM277.3 225.1h6.0v6.0h-6.0zM259.3 243.1h6.0v6.0h-6.0z"/><path fill="#d2d2d2" d="M349.3 129.1h6.0v6.0h-6.0zM313.3 183.1h6.0v6.0h-6.0zM211.3 279.1h6.0v6.0h-6.0z"/><path fill="#d3d3d3" d="M349.3 123.1h6.0v6.0h-6.0zM289.3 201.1h6.0v6.0h-6.0z"/><path fill="#d4d4d4" d="M337.3 159.1h6.0v6.0h-6.0zM241.3 267.1h6.0v6.0h-6.0z"/><path fill="#d5d5d5" d="M343.3 147.1h6.0v6.0h-6.0z"/><path fill="#d6d6d6" d="M217.3 273.1h6.0v6.0h-6.0z"/><path fill="#d7d7d7" d="M331.3 165.1h6.0v6.0h-6.0zM319.3 177.1h6.0v6.0h-6.0z"/><path fill="#d8d8d8" d="M343.3 141.1h6.0v6.0h-6.0zM283.3 213.1h6.0v6.0h-6.0z"/><path fill="#d9d9d9" d="M337.3 153.1h6.0v6.0h-6.0zM307.3 183.1h6.0v6.0h-6.0zM253.3 249.1h6.0v6.0h-6.0zM247.3 261.1h6.0v6.0h-6.0z"/><path fill="#dadada" d="M343.3 135.1h6.0v6.0h-6.0zM325.3 171.1h6.0v6.0h-6.0zM265.3 231.1h6.0v6.0h-6.0zM235.3 267.1h6.0v6.0h-6.0z"/><path fill="#dbdbdb" d="M343.3 129.1h6.0v6.0h-6.0zM295.3 189.1h6.0v6.0h-6.0zM259.3 237.1h6.0v6.0h-6.0z"/><path fill="#dcdcdc" d="M343.3 123.1h6.0v6.0h-6.0z"/><path fill="#dddddd" d="M343.3 117.1h6.0v6.0h-6.0zM337.3 147.1h6.0v6.0h-6.0zM331.3 159.1h6.0v6.0h-6.0zM271.3 225.1h6.0v6.0h-6.0z"/><path fill="#dedede" d="M277.3 219.1h6.0v6.0h-6.0zM223.3 267.1h12.0v6.0h-12.0zM175.3 309.1h6.0v6.0h-6.0z"/><path fill="#dfdfdf" d="M337.3 141.1h6.0v6.0h-6.0zM283.3 207.1h6.0v6.0h-6.0zM181.3 303.1h6.0v6.0h-6.0z"/><path fill="#e0e0e0" d="M325.3 165.1h6.0v6.0h-6.0zM187.3 297.1h6.0v6.0h-6.0z"/><path fill="#e1e1e1" d="M337.3 135.1h6.0v6.0h-6.0zM331.3 153.1h6.0v6.0h-6.0zM313.3 177.1h6.0v6.0h-6.0zM301.3 183.1h6.0v6.0h-6.0zM289.3 195.1h6.0v6.0h-6.0z"/><path fill="#e2e2e2" d="M319.3 171.1h6.0v6.0h-6.0zM217.3 267.1h6.0v6.0h-6.0zM193.3 291.1h6.0v6.0h-6.0z"/><path fill="#e3e3e3" d="M337.3 129.1h6.0v6.0h-6.0zM247.3 255.1h6.0v6.0h-6.0zM241.3 261.1h6.0v6.0h-6.0zM211.3 273.1h6.0v6.0h-6.0zM205.3 279.1h6.0v6.0h-6.0zM199.3 285.1h6.0v6.0h-6.0z"/><path fill="#e4e4e4" d="M337.3 123.1h6.0v6.0h-6.0zM331.3 147.1h6.0v6.0h-6.0zM253.3 243.1h6.0v6.0h-6.0z"/><path fill="#e5e5e5" d="M337.3 111.1h6.0v6.0h-6.0zM337.3 117.1h6.0v6.0h-6.0zM325.3 159.1h6.0v6.0h-6.0z"/><path fill="#e6e6e6" d="M331.3 141.1h6.0v6.0h-6.0zM235.3 261.1h6.0v6.0h-6.0z"/><path fill="#e7e7e7" d="M283.3 201.1h6.0v6.0h-6.0z"/><path fill="#e8e8e8" d="M307.3 177.1h6.0v6.0h-6.0zM277.3 213.1h6.0v6.0h-6.0zM271.3 219.1h6.0v6.0h-6.0zM265.3 225.1h6.0v6.0h-6.0z"/><path fill="#e9e9e9" d="M331.3 135.1h6.0v6.0h-6.0zM325.3 153.1h6.0v6.0h-6.0zM319.3 165.1h6.0v6.0h-6.0zM313.3 171.1h6.0v6.0h-6.0zM295.3 183.1h6.0v6.0h-6.0z"/><path fill="#eaeaea" d="M331.3 129.1h6.0v6.0h-6.0zM289.3 189.1h6.0v6.0h-6.0zM247.3 249.1h6.0v6.0h-6.0zM229.3 261.1h6.0v6.0h-6.0z"/><path fill="#ebebeb" d="M331.3 105.1h6.0v6.0h-6.0zM259.3 231.1h6.0v6.0h-6.0zM223.3 261.1h6.0v6.0h-6.0z"/><path fill="#ececec" d="M331.3 111.1h6.0v6.0h-6.0zM331.3 117.1h6.0v6.0h-6.0zM331.3 123.1h6.0v6.0h-6.0zM325.3 147.1h6.0v6.0h-6.0zM253.3 237.1h6.0v6.0h-6.0zM211.3 267.1h6.0v6.0h-6.0z"/><path fill="#ededed" d="M319.3 159.1h6.0v6.0h-6.0zM241.3 255.1h6.0v6.0h-6.0zM217.3 261.1h6.0v6.0h-6.0zM175.3 303.1h6.0v6.0h-6.0z"/><path fill="#eeeeee" d="M277.3 207.1h6.0v6.0h-6.0z"/><path fill="#efefef" d="M325.3 141.1h6.0v6.0h-6.0zM313.3 165.1h6.0v6.0h-6.0zM301.3 177.1h6.0v6.0h-6.0zM283.3 195.1h6.0v6.0h-6.0zM181.3 297.1h6.0v6.0h-6.0z"/><path fill="#f0f0f0" d="M325.3 99.1h6.0v6.0h-6.0zM319.3 153.1h6.0v6.0h-6.0zM307.3 171.1h6.0v6.0h-6.0zM271.3 213.1h6.0v6.0h-6.0zM265.3 219.1h6.0v6.0h-6.0zM235.3 255.1h6.0v6.0h-6.0z"/><path fill="#f1f1f1" d="M325.3 105.1h6.0v6.0h-6.0zM325.3 111.1h6.0v6.0h-6.0zM325.3 135.1h6.0v6.0h-6.0zM289.3 183.1h6.0v6.0h-6.0zM247.3 243.1h6.0v6.0h-6.0zM205.3 273.1h6.0v6.0h-6.0z"/><path fill="#f2f2f2" d="M325.3 117.1h6.0v6.0h-6.0zM325.3 123.1h6.0v6.0h-6.0zM325.3 129.1h6.0v6.0h-6.0zM277.3 201.1h6.0v6.0h-6.0zM187.3 291.1h6.0v6.0h-6.0z"/><path fill="#f3f3f3" d="M319.3 99.1h6.0v6.0h-6.0zM313.3 159.1h6.0v6.0h-6.0zM295.3 177.1h6.0v6.0h-6.0zM259.3 225.1h6.0v6.0h-6.0zM241.3 249.1h6.0v6.0h-6.0zM229.3 255.1h6.0v6.0h-6.0zM199.3 279.1h6.0v6.0h-6.0zM193.3 285.1h6.0v6.0h-6.0z"/><path fill="#f4f4f4" d="M319.3 105.1h6.0v6.0h-6.0zM319.3 147.1h6.0v6.0h-6.0zM307.3 165.1h6.0v6.0h-6.0zM301.3 171.1h6.0v6.0h-6.0zM283.3 189.1h6.0v6.0h-6.0z"/><path fill="#f5f5f5" d="M313.3 93.1h6.0v6.0h-6.0zM319.3 111.1h6.0v6.0h-6.0zM271.3 207.1h6.0v6.0h-6.0zM265.3 213.1h6.0v6.0h-6.0zM253.3 231.1h6.0v6.0h-6.0zM223.3 255.1h6.0v6.0h-6.0zM211.3 261.1h6.0v6.0h-6.0z"/><path fill="#f6f6f6" d="M301.3 81.1h6.0v6.0h-6.0zM307.3 87.1h6.0v6.0h-6.0zM307.3 93.1h6.0v6.0h-6.0zM313.3 99.1h6.0v6.0h-6.0zM319.3 117.1h6.0v6.0h-6.0zM313.3 153.1h6.0v6.0h-6.0zM289.3 177.1h6.0v6.0h-6.0zM277.3 195.1h6.0v6.0h-6.0zM259.3 219.1h6.0v6.0h-6.0zM241.3 243.1h6.0v6.0h-6.0zM235.3 249.1h6.0v6.0h-6.0z"/><path fill="#f7f7f7" d="M295.3 75.1h6.0v6.0h-6.0zM295.3 81.1h6.0v6.0h-6.0zM295.3 87.1h12.0v6.0h-12.0zM301.3 93.1h6.0v6.0h-6.0zM247.3 99.1h12.0v6.0h-12.0zM307.3 99.1h6.0v6.0h-6.0zM241.3 105.1h24.0v6.0h-24.0zM313.3 105.1h6.0v6.0h-6.0zM241.3 111.1h24.0v6.0h-24.0zM241.3 117.1h24.0v6.0h-24.0zM247.3 123.1h18.0v6.0h-18.0zM319.3 123.1h6.0v6.0h-6.0zM247.3 129.1h18.0v6.0h-18.0zM319.3 129.1h6.0v6.0h-6.0zM253.3 135.1h12.0v6.0h-12.0zM253.3 141.1h18.0v6.0h-18.0zM319.3 141.1h6.0v6.0h-6.0zM253.3 147.1h30.0v6.0h-30.0zM259.3 153.1h12.0v6.0h-12.0zM259.3 159.1h6.0v6.0h-6.0zM307.3 159.1h6.0v6.0h-6.0zM247.3 165.1h12.0v6.0h-12.0zM301.3 165.1h6.0v6.0h-6.0zM295.3 171.1h6.0v6.0h-6.0zM283.3 183.1h6.0v6.0h-6.0zM247.3 237.1h6.0v6.0h-6.0zM217.3 255.1h6.0v6.0h-6.0z"/><path fill="#f8f8f8" d="M289.3 75.1h6.0v6.0h-6.0zM283.3 81.1h12.0v6.0h-12.0zM277.3 87.1h18.0v6.0h-18.0zM253.3 93.1h48.0v6.0h-48.0zM241.3 99.1h6.0v6.0h-6.0zM259.3 99.1h48.0v6.0h-48.0zM265.3 105.1h24.0v6.0h-24.0zM307.3 105.1h6.0v6.0h-6.0zM235.3 111.1h6.0v6.0h-6.0zM265.3 111.1h18.0v6.0h-18.0zM313.3 111.1h6.0v6.0h-6.0zM265.3 117.1h24.0v6.0h-24.0zM313.3 117.1h6.0v6.0h-6.0zM241.3 123.1h6.0v6.0h-6.0zM265.3 123.1h54.0v6.0h-54.0zM241.3 129.1h6.0v6.0h-6.0zM265.3 129.1h54.0v6.0h-54.0zM241.3 135.1h12.0v6.0h-12.0zM265.3 135.1h36.0v6.0h-36.0zM319.3 135.1h6.0v6.0h-6.0zM241.3 141.1h12.0v6.0h-12.0zM271.3 141.1h24.0v6.0h-24.0zM241.3 147.1h12.0v6.0h-12.0zM283.3 147.1h12.0v6.0h-12.0zM313.3 147.1h6.0v6.0h-6.0zM247.3 153.1h12.0v6.0h-12.0zM271.3 153.1h24.0v6.0h-24.0zM241.3 159.1h18.0v6.0h-18.0zM265.3 159.1h42.0v6.0h-42.0zM241.3 165.1h6.0v6.0h-6.0zM259.3 165.1h18.0v6.0h-18.0zM295.3 165.1h6.0v6.0h-6.0zM241.3 171.1h30.0v6.0h-30.0zM241.3 177.1h30.0v6.0h-30.0zM247.3 183.1h24.0v6.0h-24.0zM247.3 189.1h18.0v6.0h-18.0zM277.3 189.1h6.0v6.0h-6.0zM247.3 195.1h12.0v6.0h-12.0zM247.3 201.1h12.0v6.0h-12.0zM271.3 201.1h6.0v6.0h-6.0zM247.3 207.1h12.0v6.0h-12.0zM265.3 207.1h6.0v6.0h-6.0zM259.3 213.1h6.0v6.0h-6.0zM235.3 225.1h12.0v6.0h-12.0zM253.3 225.1h6.0v6.0h-6.0zM235.3 231.1h12.0v6.0h-12.0zM235.3 237.1h12.0v6.0h-12.0zM235.3 243.1h6.0v6.0h-6.0z"/><path fill="#f9f9f9" d="M283.3 75.1h6.0v6.0h-6.0zM271.3 81.1h12.0v6.0h-12.0zM253.3 87.1h24.0v6.0h-24.0zM247.3 93.1h6.0v6.0h-6.0zM235.3 105.1h6.0v6.0h-6.0zM289.3 105.1h18.0v6.0h-18.0zM283.3 111.1h30.0v6.0h-30.0zM235.3 117.1h6.0v6.0h-6.0zM289.3 117.1h24.0v6.0h-24.0zM235.3 123.1h6.0v6.0h-6.0zM235.3 129.1h6.0v6.0h-6.0zM301.3 135.1h12.0v6.0h-12.0zM295.3 141.1h6.0v6.0h-6.0zM295.3 147.1h6.0v6.0h-6.0zM241.3 153.1h6.0v6.0h-6.0zM295.3 153.1h18.0v6.0h-18.0zM235.3 165.1h6.0v6.0h-6.0zM277.3 165.1h18.0v6.0h-18.0zM271.3 171.1h24.0v6.0h-24.0zM271.3 177.1h6.0v6.0h-6.0zM283.3 177.1h6.0v6.0h-6.0zM241.3 183.1h6.0v6.0h-6.0zM277.3 183.1h6.0v6.0h-6.0zM241.3 189.1h6.0v6.0h-6.0zM265.3 189.1h6.0v6.0h-6.0zM241.3 195.1h6.0v6.0h-6.0zM259.3 195.1h6.0v6.0h-6.0zM271.3 195.1h6.0v6.0h-6.0zM241.3 201.1h6.0v6.0h-6.0zM259.3 201.1h12.0v6.0h-12.0zM241.3 207.1h6.0v6.0h-6.0zM259.3 207.1h6.0v6.0h-6.0zM241.3 213.1h18.0v6.0h-18.0zM235.3 219.1h24.0v6.0h-24.0zM247.3 225.1h6.0v6.0h-6.0zM247.3 231.1h6.0v6.0h-6.0zM229.3 249.1h6.0v6.0h-6.0zM205.3 267.1h6.0v6.0h-6.0z"/><path fill="#fafafa" d="M265.3 81.1h6.0v6.0h-6.0zM247.3 87.1h6.0v6.0h-6.0zM241.3 93.1h6.0v6.0h-6.0zM235.3 99.1h6.0v6.0h-6.0zM235.3 135.1h6.0v6.0h-6.0zM313.3 135.1h6.0v6.0h-6.0zM235.3 141.1h6.0v6.0h-6.0zM301.3 141.1h18.0v6.0h-18.0zM235.3 147.1h6.0v6.0h-6.0zM301.3 147.1h12.0v6.0h-12.0zM235.3 153.1h6.0v6.0h-6.0zM235.3 159.1h6.0v6.0h-6.0zM235.3 171.1h6.0v6.0h-6.0zM235.3 177.1h6.0v6.0h-6.0zM277.3 177.1h6.0v6.0h-6.0zM235.3 183.1h6.0v6.0h-6.0zM271.3 183.1h6.0v6.0h-6.0zM235.3 189.1h6.0v6.0h-6.0zM271.3 189.1h6.0v6.0h-6.0zM235.3 195.1h6.0v6.0h-6.0zM265.3 195.1h6.0v6.0h-6.0zM235.3 201.1h6.0v6.0h-6.0zM235.3 207.1h6.0v6.0h-6.0zM235.3 213.1h6.0v6.0h-6.0zM229.3 225.1h6.0v6.0h-6.0zM229.3 231.1h6.0v6.0h-6.0zM229.3 237.1h6.0v6.0h-6.0zM229.3 243.1h6.0v6.0h-6.0z"/><path fill="#fbfbfb" d="M235.3 93.1h6.0v6.0h-6.0zM229.3 105.1h6.0v6.0h-6.0zM229.3 111.1h6.0v6.0h-6.0zM229.3 117.1h6.0v6.0h-6.0zM229.3 123.1h6.0v6.0h-6.0zM229.3 129.1h6.0v6.0h-6.0zM229.3 219.1h6.0v6.0h-6.0zM223.3 249.1h6.0v6.0h-6.0zM175.3 297.1h6.0v6.0h-6.0z"/><path fill="#fcfcfc" d="M229.3 99.1h6.0v6.0h-6.0zM229.3 135.1h6.0v6.0h-6.0zM229.3 141.1h6.0v6.0h-6.0zM229.3 147.1h6.0v6.0h-6.0zM229.3 153.1h6.0v6.0h-6.0zM229.3 159.1h6.0v6.0h-6.0zM229.3 165.1h6.0v6.0h-6.0zM229.3 171.1h6.0v6.0h-6.0zM229.3 213.1h6.0v6.0h-6.0z"/><path fill="#fdfdfd" d="M229.3 207.1h6.0v6.0h-6.0zM223.3 243.1h6.0v6.0h-6.0zM211.3 255.1h6.0v6.0h-6.0z"/><path fill="#fefefe" d="M229.3 93.1h6.0v6.0h-6.0zM223.3 231.1h6.0v6.0h-6.0zM223.3 237.1h6.0v6.0h-6.0zM217.3 249.1h6.0v6.0h-6.0zM199.3 273.1h6.0v6.0h-6.0zM181.3 291.1h6.0v6.0h-6.0z"/><path fill="#ffffff" d="M223.3 225.1h6.0v6.0h-6.0zM217.3 243.1h6.0v6.0h-6.0zM205.3 261.1h6.0v6.0h-6.0zM199.3 267.1h6.0v6.0h-6.0zM193.3 273.1h6.0v6.0h-6.0zM193.3 279.1h6.0v6.0h-6.0zM187.3 285.1h6.0v6.0h-6.0z"/></g></g>
<use href="#land"/>
<use href="#dots"/>
<use href="#axl"/>
<path d="M432.3,64.8 L444.0,59.1 L455.7,64.8Z" fill="#fcb67e" stroke="#444" stroke-width="0.5"/>
<path d="M432.3,406.0 L444.0,411.7 L455.7,406.0Z" fill="#eccde6" stroke="#444" stroke-width="0.5"/>
<rect x="432.3" y="64.5" width="23.40" height="341.80" fill="url(#cbP)"/>
<path d="M432.3,64.5 V406.3 M455.7,64.5 V406.3" stroke="#444" stroke-width="0.6" fill="none"/>
<text transform="translate(465.6,73.8) scale(1,1.04)" font-size="29">30</text>
<path d="M432.3,123.4 h4.6 M455.7,123.4 h-4.6" stroke="#333" stroke-width="0.8" fill="none"/>
<text transform="translate(465.6,132.7) scale(1,1.04)" font-size="29">25</text>
<path d="M432.3,182.4 h4.6 M455.7,182.4 h-4.6" stroke="#333" stroke-width="0.8" fill="none"/>
<text transform="translate(465.6,191.7) scale(1,1.04)" font-size="29">20</text>
<path d="M432.3,241.3 h4.6 M455.7,241.3 h-4.6" stroke="#333" stroke-width="0.8" fill="none"/>
<text transform="translate(465.6,250.6) scale(1,1.04)" font-size="29">15</text>
<path d="M432.3,300.2 h4.6 M455.7,300.2 h-4.6" stroke="#333" stroke-width="0.8" fill="none"/>
<text transform="translate(465.6,309.5) scale(1,1.04)" font-size="29">10</text>
<path d="M432.3,359.2 h4.6 M455.7,359.2 h-4.6" stroke="#333" stroke-width="0.8" fill="none"/>
<text transform="translate(465.6,368.5) scale(1,1.04)" font-size="29">5</text>
<text transform="translate(430.8,401.6) rotate(-90)" font-size="18.6" textLength="126" lengthAdjust="spacingAndGlyphs">Ocean Data View</text>
<text class="b" transform="translate(372.5,365.8) scale(1,1.08)" font-size="27.6">F</text>
</g>
<g transform="translate(0.0,1407.0)">
<use href="#frame"/>
<g clip-path="url(#dclip)"><g filter="url(#fM)"><rect x="160" y="55" width="260" height="360" fill="#6b6b6b"/><path fill="#272727" d="M343.3 243.1h6.0v6.0h-6.0zM343.3 249.1h6.0v6.0h-6.0zM343.3 255.1h6.0v6.0h-6.0zM319.3 297.1h6.0v6.0h-6.0z"/><path fill="#282828" d="M337.3 249.1h6.0v6.0h-6.0zM313.3 303.1h6.0v6.0h-6.0z"/><path fill="#292929" d="M343.3 237.1h12.0v6.0h-12.0zM337.3 243.1h6.0v6.0h-6.0zM337.3 255.1h6.0v6.0h-6.0zM337.3 261.1h6.0v6.0h-6.0zM307.3 273.1h6.0v6.0h-6.0zM331.3 285.1h6.0v6.0h-6.0zM325.3 291.1h6.0v6.0h-6.0zM313.3 297.1h6.0v6.0h-6.0z"/><path fill="#2a2a2a" d="M337.3 267.1h6.0v6.0h-6.0zM313.3 273.1h6.0v6.0h-6.0zM337.3 273.1h6.0v6.0h-6.0zM319.3 291.1h6.0v6.0h-6.0zM307.3 303.1h6.0v6.0h-6.0z"/><path fill="#2b2b2b" d="M337.3 237.1h6.0v6.0h-6.0zM331.3 249.1h6.0v6.0h-6.0zM331.3 255.1h6.0v6.0h-6.0zM331.3 261.1h6.0v6.0h-6.0zM331.3 279.1h6.0v6.0h-6.0zM325.3 285.1h6.0v6.0h-6.0zM313.3 291.1h6.0v6.0h-6.0zM307.3 297.1h6.0v6.0h-6.0z"/><path fill="#2c2c2c" d="M343.3 231.1h12.0v6.0h-12.0zM331.3 243.1h6.0v6.0h-6.0zM313.3 267.1h12.0v6.0h-12.0zM331.3 267.1h6.0v6.0h-6.0zM331.3 273.1h6.0v6.0h-6.0zM307.3 279.1h12.0v6.0h-12.0zM313.3 285.1h12.0v6.0h-12.0zM307.3 309.1h6.0v6.0h-6.0z"/><path fill="#2d2d2d" d="M325.3 255.1h6.0v6.0h-6.0zM319.3 261.1h12.0v6.0h-12.0zM325.3 267.1h6.0v6.0h-6.0zM319.3 273.1h12.0v6.0h-12.0zM319.3 279.1h12.0v6.0h-12.0zM307.3 291.1h6.0v6.0h-6.0z"/><path fill="#2e2e2e" d="M337.3 231.1h6.0v6.0h-6.0zM307.3 285.1h6.0v6.0h-6.0z"/><path fill="#2f2f2f" d="M331.3 237.1h6.0v6.0h-6.0zM325.3 249.1h6.0v6.0h-6.0z"/><path fill="#303030" d="M319.3 255.1h6.0v6.0h-6.0zM307.3 267.1h6.0v6.0h-6.0zM301.3 297.1h6.0v6.0h-6.0zM301.3 303.1h6.0v6.0h-6.0z"/><path fill="#313131" d="M343.3 225.1h6.0v6.0h-6.0zM313.3 261.1h6.0v6.0h-6.0z"/><path fill="#323232" d="M349.3 225.1h6.0v6.0h-6.0zM331.3 231.1h6.0v6.0h-6.0zM325.3 243.1h6.0v6.0h-6.0zM301.3 273.1h6.0v6.0h-6.0z"/><path fill="#333333" d="M319.3 249.1h6.0v6.0h-6.0zM301.3 279.1h6.0v6.0h-6.0zM301.3 291.1h6.0v6.0h-6.0zM301.3 309.1h6.0v6.0h-6.0z"/><path fill="#343434" d="M337.3 225.1h6.0v6.0h-6.0z"/><path fill="#353535" d="M355.3 225.1h6.0v6.0h-6.0zM325.3 237.1h6.0v6.0h-6.0zM301.3 285.1h6.0v6.0h-6.0z"/><path fill="#363636" d="M313.3 255.1h6.0v6.0h-6.0z"/><path fill="#373737" d="M301.3 315.1h6.0v6.0h-6.0z"/><path fill="#393939" d="M343.3 219.1h6.0v6.0h-6.0zM325.3 231.1h6.0v6.0h-6.0z"/><path fill="#3a3a3a" d="M349.3 219.1h6.0v6.0h-6.0zM331.3 225.1h6.0v6.0h-6.0zM319.3 243.1h6.0v6.0h-6.0zM295.3 303.1h6.0v6.0h-6.0z"/><path fill="#3b3b3b" d="M301.3 267.1h6.0v6.0h-6.0z"/><path fill="#3c3c3c" d="M313.3 249.1h6.0v6.0h-6.0zM307.3 261.1h6.0v6.0h-6.0zM295.3 297.1h6.0v6.0h-6.0z"/><path fill="#3d3d3d" d="M337.3 219.1h6.0v6.0h-6.0z"/><path fill="#3e3e3e" d="M355.3 219.1h6.0v6.0h-6.0zM295.3 309.1h6.0v6.0h-6.0z"/><path fill="#3f3f3f" d="M295.3 291.1h6.0v6.0h-6.0z"/><path fill="#414141" d="M361.3 219.1h6.0v6.0h-6.0zM319.3 237.1h6.0v6.0h-6.0zM295.3 285.1h6.0v6.0h-6.0z"/><path fill="#424242" d="M325.3 225.1h6.0v6.0h-6.0z"/><path fill="#434343" d="M295.3 315.1h6.0v6.0h-6.0z"/><path fill="#444444" d="M343.3 213.1h6.0v6.0h-6.0zM307.3 255.1h6.0v6.0h-6.0zM295.3 279.1h6.0v6.0h-6.0z"/><path fill="#454545" d="M295.3 75.1h6.0v6.0h-6.0zM349.3 213.1h6.0v6.0h-6.0zM331.3 219.1h6.0v6.0h-6.0zM319.3 231.1h6.0v6.0h-6.0z"/><path fill="#464646" d="M289.3 75.1h6.0v6.0h-6.0zM289.3 81.1h12.0v6.0h-12.0zM295.3 321.1h6.0v6.0h-6.0z"/><path fill="#474747" d="M301.3 81.1h6.0v6.0h-6.0zM289.3 87.1h12.0v6.0h-12.0z"/><path fill="#484848" d="M283.3 75.1h6.0v6.0h-6.0zM283.3 81.1h6.0v6.0h-6.0zM283.3 87.1h6.0v6.0h-6.0zM289.3 93.1h6.0v6.0h-6.0zM355.3 213.1h6.0v6.0h-6.0zM313.3 243.1h6.0v6.0h-6.0z"/><path fill="#494949" d="M301.3 87.1h6.0v6.0h-6.0zM283.3 93.1h6.0v6.0h-6.0zM295.3 93.1h6.0v6.0h-6.0zM337.3 213.1h6.0v6.0h-6.0z"/><path fill="#4a4a4a" d="M307.3 87.1h6.0v6.0h-6.0zM229.3 159.1h6.0v6.0h-6.0zM229.3 165.1h6.0v6.0h-6.0zM301.3 261.1h6.0v6.0h-6.0zM295.3 273.1h6.0v6.0h-6.0z"/><path fill="#4b4b4b" d="M277.3 81.1h6.0v6.0h-6.0zM283.3 99.1h12.0v6.0h-12.0zM229.3 153.1h6.0v6.0h-6.0zM235.3 159.1h6.0v6.0h-6.0zM229.3 171.1h6.0v6.0h-6.0zM361.3 213.1h6.0v6.0h-6.0zM289.3 303.1h6.0v6.0h-6.0z"/><path fill="#4c4c4c" d="M301.3 93.1h6.0v6.0h-6.0zM235.3 153.1h6.0v6.0h-6.0zM235.3 165.1h6.0v6.0h-6.0z"/><path fill="#4d4d4d" d="M277.3 87.1h6.0v6.0h-6.0zM295.3 99.1h6.0v6.0h-6.0zM229.3 147.1h6.0v6.0h-6.0zM235.3 171.1h6.0v6.0h-6.0zM319.3 225.1h6.0v6.0h-6.0zM307.3 249.1h6.0v6.0h-6.0zM289.3 297.1h6.0v6.0h-6.0zM289.3 309.1h6.0v6.0h-6.0zM259.3 351.1h6.0v6.0h-6.0z"/><path fill="#4e4e4e" d="M277.3 93.1h6.0v6.0h-6.0zM307.3 93.1h12.0v6.0h-12.0zM265.3 345.1h6.0v6.0h-6.0z"/><path fill="#4f4f4f" d="M271.3 81.1h6.0v6.0h-6.0zM235.3 147.1h6.0v6.0h-6.0zM241.3 153.1h6.0v6.0h-6.0zM241.3 159.1h6.0v6.0h-6.0zM235.3 177.1h6.0v6.0h-6.0zM349.3 207.1h6.0v6.0h-6.0zM325.3 219.1h6.0v6.0h-6.0zM259.3 345.1h6.0v6.0h-6.0zM253.3 351.1h6.0v6.0h-6.0zM253.3 357.1h6.0v6.0h-6.0z"/><path fill="#505050" d="M229.3 141.1h6.0v6.0h-6.0zM241.3 171.1h6.0v6.0h-6.0zM289.3 291.1h6.0v6.0h-6.0zM289.3 327.1h6.0v6.0h-6.0zM277.3 339.1h6.0v6.0h-6.0zM253.3 345.1h6.0v6.0h-6.0z"/><path fill="#515151" d="M271.3 87.1h6.0v6.0h-6.0zM277.3 99.1h6.0v6.0h-6.0zM301.3 99.1h6.0v6.0h-6.0zM283.3 105.1h12.0v6.0h-12.0zM235.3 141.1h6.0v6.0h-6.0zM241.3 165.1h6.0v6.0h-6.0zM241.3 177.1h6.0v6.0h-6.0zM343.3 207.1h6.0v6.0h-6.0zM265.3 339.1h12.0v6.0h-12.0z"/><path fill="#525252" d="M265.3 81.1h6.0v6.0h-6.0zM307.3 99.1h24.0v6.0h-24.0zM241.3 147.1h6.0v6.0h-6.0zM331.3 213.1h6.0v6.0h-6.0zM313.3 237.1h6.0v6.0h-6.0zM289.3 315.1h6.0v6.0h-6.0zM283.3 333.1h6.0v6.0h-6.0zM259.3 339.1h6.0v6.0h-6.0zM247.3 345.1h6.0v6.0h-6.0zM247.3 351.1h6.0v6.0h-6.0z"/><path fill="#535353" d="M295.3 105.1h6.0v6.0h-6.0zM229.3 135.1h6.0v6.0h-6.0zM355.3 207.1h6.0v6.0h-6.0zM289.3 321.1h6.0v6.0h-6.0zM253.3 339.1h6.0v6.0h-6.0zM247.3 357.1h6.0v6.0h-6.0zM247.3 363.1h6.0v6.0h-6.0z"/><path fill="#545454" d="M265.3 87.1h6.0v6.0h-6.0zM271.3 93.1h6.0v6.0h-6.0zM277.3 105.1h6.0v6.0h-6.0zM235.3 135.1h6.0v6.0h-6.0zM241.3 141.1h6.0v6.0h-6.0zM235.3 183.1h6.0v6.0h-6.0zM301.3 255.1h6.0v6.0h-6.0zM289.3 285.1h6.0v6.0h-6.0z"/><path fill="#555555" d="M313.3 105.1h24.0v6.0h-24.0zM229.3 129.1h12.0v6.0h-12.0zM241.3 135.1h6.0v6.0h-6.0zM265.3 333.1h6.0v6.0h-6.0zM277.3 333.1h6.0v6.0h-6.0zM247.3 339.1h6.0v6.0h-6.0z"/><path fill="#565656" d="M259.3 87.1h6.0v6.0h-6.0zM265.3 93.1h6.0v6.0h-6.0zM301.3 105.1h12.0v6.0h-12.0zM241.3 129.1h6.0v6.0h-6.0zM247.3 153.1h6.0v6.0h-6.0zM337.3 207.1h6.0v6.0h-6.0zM295.3 267.1h6.0v6.0h-6.0zM259.3 333.1h6.0v6.0h-6.0zM271.3 333.1h6.0v6.0h-6.0z"/><path fill="#575757" d="M259.3 93.1h6.0v6.0h-6.0zM271.3 99.1h6.0v6.0h-6.0zM283.3 111.1h6.0v6.0h-6.0zM235.3 123.1h12.0v6.0h-12.0zM247.3 147.1h6.0v6.0h-6.0zM247.3 159.1h6.0v6.0h-6.0zM247.3 171.1h6.0v6.0h-6.0zM361.3 207.1h6.0v6.0h-6.0zM313.3 231.1h6.0v6.0h-6.0zM283.3 327.1h6.0v6.0h-6.0zM253.3 333.1h6.0v6.0h-6.0z"/><path fill="#585858" d="M253.3 87.1h6.0v6.0h-6.0zM259.3 99.1h12.0v6.0h-12.0zM271.3 105.1h6.0v6.0h-6.0zM289.3 111.1h6.0v6.0h-6.0zM319.3 111.1h18.0v6.0h-18.0zM229.3 123.1h6.0v6.0h-6.0zM247.3 123.1h6.0v6.0h-6.0zM247.3 129.1h6.0v6.0h-6.0zM247.3 135.1h6.0v6.0h-6.0zM247.3 165.1h6.0v6.0h-6.0zM241.3 345.1h6.0v6.0h-6.0zM241.3 351.1h6.0v6.0h-6.0zM241.3 357.1h6.0v6.0h-6.0z"/><path fill="#595959" d="M253.3 93.1h6.0v6.0h-6.0zM277.3 111.1h6.0v6.0h-6.0zM295.3 111.1h6.0v6.0h-6.0zM313.3 111.1h6.0v6.0h-6.0zM337.3 111.1h6.0v6.0h-6.0zM241.3 117.1h18.0v6.0h-18.0zM253.3 123.1h6.0v6.0h-6.0zM247.3 141.1h6.0v6.0h-6.0zM247.3 177.1h6.0v6.0h-6.0zM241.3 183.1h6.0v6.0h-6.0zM367.3 207.1h6.0v6.0h-6.0zM319.3 219.1h6.0v6.0h-6.0zM289.3 279.1h6.0v6.0h-6.0zM259.3 327.1h12.0v6.0h-12.0zM247.3 333.1h6.0v6.0h-6.0zM241.3 363.1h6.0v6.0h-6.0z"/><path fill="#5a5a5a" d="M253.3 99.1h6.0v6.0h-6.0zM253.3 105.1h18.0v6.0h-18.0zM247.3 111.1h12.0v6.0h-12.0zM301.3 111.1h12.0v6.0h-12.0zM235.3 117.1h6.0v6.0h-6.0zM253.3 129.1h6.0v6.0h-6.0zM307.3 243.1h6.0v6.0h-6.0zM253.3 327.1h6.0v6.0h-6.0zM271.3 327.1h12.0v6.0h-12.0zM241.3 339.1h6.0v6.0h-6.0z"/><path fill="#5b5b5b" d="M247.3 87.1h6.0v6.0h-6.0zM247.3 93.1h6.0v6.0h-6.0zM247.3 105.1h6.0v6.0h-6.0zM241.3 111.1h6.0v6.0h-6.0zM259.3 111.1h6.0v6.0h-6.0zM271.3 111.1h6.0v6.0h-6.0zM229.3 117.1h6.0v6.0h-6.0zM325.3 117.1h12.0v6.0h-12.0zM235.3 189.1h6.0v6.0h-6.0zM325.3 213.1h6.0v6.0h-6.0z"/><path fill="#5c5c5c" d="M247.3 99.1h6.0v6.0h-6.0zM265.3 111.1h6.0v6.0h-6.0zM259.3 117.1h6.0v6.0h-6.0zM319.3 117.1h6.0v6.0h-6.0zM337.3 117.1h6.0v6.0h-6.0zM259.3 123.1h6.0v6.0h-6.0zM253.3 135.1h6.0v6.0h-6.0zM313.3 225.1h6.0v6.0h-6.0zM295.3 261.1h6.0v6.0h-6.0zM259.3 321.1h6.0v6.0h-6.0z"/><path fill="#5d5d5d" d="M241.3 105.1h6.0v6.0h-6.0zM235.3 111.1h6.0v6.0h-6.0zM283.3 117.1h6.0v6.0h-6.0zM313.3 117.1h6.0v6.0h-6.0zM343.3 117.1h6.0v6.0h-6.0zM259.3 129.1h6.0v6.0h-6.0zM349.3 201.1h6.0v6.0h-6.0zM331.3 207.1h6.0v6.0h-6.0zM253.3 321.1h6.0v6.0h-6.0zM265.3 321.1h6.0v6.0h-6.0zM283.3 321.1h6.0v6.0h-6.0zM247.3 327.1h6.0v6.0h-6.0z"/><path fill="#5e5e5e" d="M241.3 93.1h6.0v6.0h-6.0zM241.3 99.1h6.0v6.0h-6.0zM229.3 111.1h6.0v6.0h-6.0zM265.3 117.1h6.0v6.0h-6.0zM277.3 117.1h6.0v6.0h-6.0zM289.3 117.1h24.0v6.0h-24.0zM331.3 123.1h6.0v6.0h-6.0zM253.3 141.1h6.0v6.0h-6.0zM343.3 201.1h6.0v6.0h-6.0zM283.3 303.1h6.0v6.0h-6.0zM241.3 333.1h6.0v6.0h-6.0z"/><path fill="#5f5f5f" d="M235.3 105.1h6.0v6.0h-6.0zM271.3 117.1h6.0v6.0h-6.0zM319.3 123.1h12.0v6.0h-12.0zM337.3 123.1h6.0v6.0h-6.0zM259.3 135.1h6.0v6.0h-6.0zM253.3 147.1h6.0v6.0h-6.0zM283.3 309.1h6.0v6.0h-6.0zM247.3 321.1h6.0v6.0h-6.0zM271.3 321.1h6.0v6.0h-6.0zM235.3 351.1h6.0v6.0h-6.0z"/><path fill="#606060" d="M235.3 93.1h6.0v6.0h-6.0zM235.3 99.1h6.0v6.0h-6.0zM229.3 105.1h6.0v6.0h-6.0zM265.3 123.1h6.0v6.0h-6.0zM313.3 123.1h6.0v6.0h-6.0zM343.3 123.1h6.0v6.0h-6.0zM265.3 129.1h6.0v6.0h-6.0zM253.3 153.1h6.0v6.0h-6.0zM289.3 273.1h6.0v6.0h-6.0zM283.3 297.1h6.0v6.0h-6.0zM253.3 315.1h12.0v6.0h-12.0zM277.3 321.1h6.0v6.0h-6.0zM241.3 327.1h6.0v6.0h-6.0zM235.3 345.1h6.0v6.0h-6.0zM235.3 357.1h6.0v6.0h-6.0z"/><path fill="#616161" d="M229.3 99.1h6.0v6.0h-6.0zM271.3 123.1h12.0v6.0h-12.0zM307.3 123.1h6.0v6.0h-6.0zM247.3 183.1h6.0v6.0h-6.0zM241.3 189.1h6.0v6.0h-6.0zM235.3 195.1h6.0v6.0h-6.0zM337.3 201.1h6.0v6.0h-6.0zM355.3 201.1h6.0v6.0h-6.0zM301.3 249.1h6.0v6.0h-6.0zM265.3 315.1h6.0v6.0h-6.0z"/><path fill="#626262" d="M229.3 93.1h6.0v6.0h-6.0zM283.3 123.1h6.0v6.0h-6.0zM301.3 123.1h6.0v6.0h-6.0zM349.3 123.1h6.0v6.0h-6.0zM271.3 129.1h6.0v6.0h-6.0zM325.3 129.1h18.0v6.0h-18.0zM265.3 135.1h6.0v6.0h-6.0zM253.3 159.1h6.0v6.0h-6.0zM247.3 315.1h6.0v6.0h-6.0zM283.3 315.1h6.0v6.0h-6.0zM241.3 321.1h6.0v6.0h-6.0zM235.3 339.1h6.0v6.0h-6.0z"/><path fill="#636363" d="M289.3 123.1h12.0v6.0h-12.0zM313.3 129.1h12.0v6.0h-12.0zM343.3 129.1h6.0v6.0h-6.0zM271.3 135.1h6.0v6.0h-6.0zM259.3 141.1h6.0v6.0h-6.0zM361.3 201.1h12.0v6.0h-12.0zM319.3 213.1h6.0v6.0h-6.0zM307.3 237.1h6.0v6.0h-6.0zM295.3 255.1h6.0v6.0h-6.0zM283.3 291.1h6.0v6.0h-6.0zM259.3 309.1h6.0v6.0h-6.0zM271.3 315.1h6.0v6.0h-6.0z"/><path fill="#646464" d="M277.3 129.1h6.0v6.0h-6.0zM307.3 129.1h6.0v6.0h-6.0zM253.3 165.1h6.0v6.0h-6.0zM253.3 171.1h6.0v6.0h-6.0zM325.3 207.1h6.0v6.0h-6.0zM313.3 219.1h6.0v6.0h-6.0zM253.3 309.1h6.0v6.0h-6.0zM265.3 309.1h6.0v6.0h-6.0zM241.3 315.1h6.0v6.0h-6.0z"/><path fill="#656565" d="M349.3 129.1h6.0v6.0h-6.0zM259.3 147.1h6.0v6.0h-6.0zM235.3 201.1h6.0v6.0h-6.0zM277.3 315.1h6.0v6.0h-6.0zM235.3 333.1h6.0v6.0h-6.0z"/><path fill="#666666" d="M283.3 129.1h6.0v6.0h-6.0zM301.3 129.1h6.0v6.0h-6.0zM277.3 135.1h6.0v6.0h-6.0zM337.3 135.1h6.0v6.0h-6.0zM265.3 141.1h6.0v6.0h-6.0zM241.3 195.1h6.0v6.0h-6.0zM331.3 201.1h6.0v6.0h-6.0zM229.3 207.1h6.0v6.0h-6.0zM247.3 309.1h6.0v6.0h-6.0zM235.3 327.1h6.0v6.0h-6.0z"/><path fill="#676767" d="M289.3 129.1h12.0v6.0h-12.0zM355.3 129.1h6.0v6.0h-6.0zM313.3 135.1h24.0v6.0h-24.0zM343.3 135.1h6.0v6.0h-6.0zM253.3 177.1h6.0v6.0h-6.0zM307.3 231.1h6.0v6.0h-6.0zM283.3 285.1h6.0v6.0h-6.0zM271.3 309.1h6.0v6.0h-6.0zM235.3 321.1h6.0v6.0h-6.0z"/><path fill="#686868" d="M307.3 135.1h6.0v6.0h-6.0zM271.3 141.1h6.0v6.0h-6.0zM259.3 153.1h6.0v6.0h-6.0zM259.3 303.1h6.0v6.0h-6.0zM241.3 309.1h6.0v6.0h-6.0zM277.3 309.1h6.0v6.0h-6.0zM235.3 315.1h6.0v6.0h-6.0z"/><path fill="#696969" d="M349.3 135.1h6.0v6.0h-6.0zM235.3 207.1h6.0v6.0h-6.0zM265.3 303.1h6.0v6.0h-6.0zM229.3 345.1h6.0v6.0h-6.0zM229.3 351.1h6.0v6.0h-6.0z"/><path fill="#6a6a6a" d="M283.3 135.1h6.0v6.0h-6.0zM301.3 135.1h6.0v6.0h-6.0zM265.3 147.1h6.0v6.0h-6.0zM247.3 189.1h6.0v6.0h-6.0zM337.3 195.1h12.0v6.0h-12.0zM373.3 195.1h6.0v6.0h-6.0zM241.3 201.1h6.0v6.0h-6.0zM325.3 201.1h6.0v6.0h-6.0zM319.3 207.1h6.0v6.0h-6.0zM229.3 213.1h6.0v6.0h-6.0zM289.3 267.1h6.0v6.0h-6.0zM283.3 279.1h6.0v6.0h-6.0zM253.3 303.1h6.0v6.0h-6.0zM277.3 303.1h6.0v6.0h-6.0z"/><path fill="#6b6b6b" d="M295.3 135.1h6.0v6.0h-6.0zM355.3 135.1h6.0v6.0h-6.0zM277.3 141.1h6.0v6.0h-6.0zM337.3 141.1h12.0v6.0h-12.0zM259.3 159.1h6.0v6.0h-6.0zM307.3 225.1h6.0v6.0h-6.0zM235.3 309.1h6.0v6.0h-6.0zM229.3 339.1h6.0v6.0h-6.0z"/><path fill="#6c6c6c" d="M289.3 135.1h6.0v6.0h-6.0zM313.3 141.1h12.0v6.0h-12.0zM331.3 141.1h6.0v6.0h-6.0zM349.3 141.1h6.0v6.0h-6.0zM331.3 195.1h6.0v6.0h-6.0zM367.3 195.1h6.0v6.0h-6.0zM235.3 213.1h6.0v6.0h-6.0zM313.3 213.1h6.0v6.0h-6.0zM277.3 297.1h6.0v6.0h-6.0zM247.3 303.1h6.0v6.0h-6.0zM271.3 303.1h6.0v6.0h-6.0zM229.3 333.1h6.0v6.0h-6.0z"/><path fill="#6d6d6d" d="M361.3 135.1h6.0v6.0h-6.0zM307.3 141.1h6.0v6.0h-6.0zM325.3 141.1h6.0v6.0h-6.0zM271.3 147.1h6.0v6.0h-6.0zM253.3 183.1h6.0v6.0h-6.0zM349.3 195.1h6.0v6.0h-6.0zM241.3 207.1h6.0v6.0h-6.0zM229.3 219.1h6.0v6.0h-6.0zM277.3 291.1h6.0v6.0h-6.0zM259.3 297.1h6.0v6.0h-6.0zM241.3 303.1h6.0v6.0h-6.0z"/><path fill="#6e6e6e" d="M283.3 141.1h6.0v6.0h-6.0zM301.3 141.1h6.0v6.0h-6.0zM355.3 141.1h6.0v6.0h-6.0zM343.3 147.1h6.0v6.0h-6.0zM265.3 153.1h6.0v6.0h-6.0zM259.3 165.1h6.0v6.0h-6.0zM247.3 195.1h6.0v6.0h-6.0zM325.3 195.1h6.0v6.0h-6.0zM361.3 195.1h6.0v6.0h-6.0zM235.3 219.1h6.0v6.0h-6.0zM301.3 243.1h6.0v6.0h-6.0zM295.3 249.1h6.0v6.0h-6.0zM289.3 261.1h6.0v6.0h-6.0zM283.3 273.1h6.0v6.0h-6.0zM265.3 297.1h6.0v6.0h-6.0zM235.3 303.1h6.0v6.0h-6.0zM229.3 321.1h6.0v6.0h-6.0zM229.3 327.1h6.0v6.0h-6.0z"/><path fill="#6f6f6f" d="M337.3 147.1h6.0v6.0h-6.0zM349.3 147.1h6.0v6.0h-6.0zM259.3 171.1h6.0v6.0h-6.0zM331.3 189.1h6.0v6.0h-6.0zM379.3 189.1h6.0v6.0h-6.0zM319.3 201.1h6.0v6.0h-6.0zM241.3 213.1h6.0v6.0h-6.0zM307.3 219.1h6.0v6.0h-6.0zM277.3 285.1h6.0v6.0h-6.0zM253.3 297.1h6.0v6.0h-6.0zM271.3 297.1h6.0v6.0h-6.0zM229.3 315.1h6.0v6.0h-6.0z"/><path fill="#707070" d="M289.3 141.1h12.0v6.0h-12.0zM361.3 141.1h6.0v6.0h-6.0zM277.3 147.1h6.0v6.0h-6.0zM313.3 147.1h24.0v6.0h-24.0zM337.3 153.1h12.0v6.0h-12.0zM325.3 189.1h6.0v6.0h-6.0zM337.3 189.1h6.0v6.0h-6.0zM373.3 189.1h6.0v6.0h-6.0zM355.3 195.1h6.0v6.0h-6.0zM247.3 201.1h6.0v6.0h-6.0zM229.3 225.1h6.0v6.0h-6.0zM241.3 279.1h12.0v6.0h-12.0zM241.3 285.1h6.0v6.0h-6.0zM259.3 291.1h18.0v6.0h-18.0zM235.3 297.1h6.0v6.0h-6.0z"/><path fill="#717171" d="M301.3 147.1h12.0v6.0h-12.0zM355.3 147.1h6.0v6.0h-6.0zM331.3 153.1h6.0v6.0h-6.0zM265.3 159.1h6.0v6.0h-6.0zM331.3 159.1h12.0v6.0h-12.0zM331.3 165.1h12.0v6.0h-12.0zM325.3 177.1h6.0v6.0h-6.0zM319.3 183.1h18.0v6.0h-18.0zM367.3 189.1h6.0v6.0h-6.0zM319.3 195.1h6.0v6.0h-6.0zM247.3 207.1h6.0v6.0h-6.0zM313.3 207.1h6.0v6.0h-6.0zM241.3 219.1h6.0v6.0h-6.0zM235.3 225.1h6.0v6.0h-6.0zM289.3 255.1h6.0v6.0h-6.0zM247.3 285.1h18.0v6.0h-18.0zM235.3 291.1h6.0v6.0h-6.0zM253.3 291.1h6.0v6.0h-6.0zM241.3 297.1h12.0v6.0h-12.0z"/><path fill="#727272" d="M367.3 141.1h6.0v6.0h-6.0zM283.3 147.1h6.0v6.0h-6.0zM271.3 153.1h6.0v6.0h-6.0zM313.3 153.1h18.0v6.0h-18.0zM349.3 153.1h6.0v6.0h-6.0zM319.3 159.1h12.0v6.0h-12.0zM343.3 159.1h6.0v6.0h-6.0zM325.3 165.1h6.0v6.0h-6.0zM319.3 171.1h24.0v6.0h-24.0zM319.3 177.1h6.0v6.0h-6.0zM331.3 177.1h6.0v6.0h-6.0zM319.3 189.1h6.0v6.0h-6.0zM343.3 189.1h6.0v6.0h-6.0zM223.3 225.1h6.0v6.0h-6.0zM301.3 237.1h6.0v6.0h-6.0zM247.3 273.1h6.0v6.0h-6.0zM253.3 279.1h6.0v6.0h-6.0zM277.3 279.1h6.0v6.0h-6.0zM235.3 285.1h6.0v6.0h-6.0zM265.3 285.1h12.0v6.0h-12.0zM241.3 291.1h12.0v6.0h-12.0zM229.3 297.1h6.0v6.0h-6.0zM229.3 309.1h6.0v6.0h-6.0z"/><path fill="#737373" d="M289.3 147.1h12.0v6.0h-12.0zM307.3 153.1h6.0v6.0h-6.0zM313.3 159.1h6.0v6.0h-6.0zM319.3 165.1h6.0v6.0h-6.0zM343.3 165.1h6.0v6.0h-6.0zM259.3 177.1h6.0v6.0h-6.0zM337.3 177.1h6.0v6.0h-6.0zM337.3 183.1h6.0v6.0h-6.0zM253.3 189.1h6.0v6.0h-6.0zM361.3 189.1h6.0v6.0h-6.0zM247.3 213.1h6.0v6.0h-6.0zM229.3 231.1h6.0v6.0h-6.0zM241.3 273.1h6.0v6.0h-6.0zM235.3 279.1h6.0v6.0h-6.0zM259.3 279.1h6.0v6.0h-6.0zM229.3 303.1h6.0v6.0h-6.0zM223.3 351.1h6.0v6.0h-6.0z"/><path fill="#747474" d="M361.3 147.1h6.0v6.0h-6.0zM277.3 153.1h12.0v6.0h-12.0zM295.3 153.1h12.0v6.0h-12.0zM355.3 153.1h6.0v6.0h-6.0zM307.3 159.1h6.0v6.0h-6.0zM349.3 159.1h6.0v6.0h-6.0zM265.3 165.1h6.0v6.0h-6.0zM313.3 165.1h6.0v6.0h-6.0zM313.3 171.1h6.0v6.0h-6.0zM343.3 171.1h6.0v6.0h-6.0zM313.3 177.1h6.0v6.0h-6.0zM313.3 183.1h6.0v6.0h-6.0zM343.3 183.1h6.0v6.0h-6.0zM361.3 183.1h6.0v6.0h-6.0zM379.3 183.1h6.0v6.0h-6.0zM349.3 189.1h6.0v6.0h-6.0zM313.3 201.1h6.0v6.0h-6.0zM307.3 213.1h6.0v6.0h-6.0zM241.3 225.1h6.0v6.0h-6.0zM235.3 231.1h6.0v6.0h-6.0zM301.3 231.1h6.0v6.0h-6.0zM283.3 267.1h6.0v6.0h-6.0zM253.3 273.1h6.0v6.0h-6.0zM265.3 279.1h12.0v6.0h-12.0zM223.3 345.1h6.0v6.0h-6.0z"/><path fill="#757575" d="M289.3 153.1h6.0v6.0h-6.0zM271.3 159.1h6.0v6.0h-6.0zM301.3 159.1h6.0v6.0h-6.0zM307.3 165.1h6.0v6.0h-6.0zM349.3 165.1h6.0v6.0h-6.0zM343.3 177.1h6.0v6.0h-6.0zM367.3 183.1h12.0v6.0h-12.0zM313.3 189.1h6.0v6.0h-6.0zM355.3 189.1h6.0v6.0h-6.0zM253.3 195.1h6.0v6.0h-6.0zM247.3 219.1h6.0v6.0h-6.0zM223.3 231.1h6.0v6.0h-6.0zM235.3 237.1h6.0v6.0h-6.0zM277.3 273.1h6.0v6.0h-6.0zM229.3 291.1h6.0v6.0h-6.0z"/><path fill="#767676" d="M367.3 147.1h6.0v6.0h-6.0zM361.3 153.1h6.0v6.0h-6.0zM277.3 159.1h24.0v6.0h-24.0zM355.3 159.1h6.0v6.0h-6.0zM307.3 171.1h6.0v6.0h-6.0zM349.3 171.1h6.0v6.0h-6.0zM349.3 177.1h12.0v6.0h-12.0zM349.3 183.1h12.0v6.0h-12.0zM313.3 195.1h6.0v6.0h-6.0zM253.3 201.1h6.0v6.0h-6.0zM253.3 207.1h6.0v6.0h-6.0zM301.3 225.1h6.0v6.0h-6.0zM241.3 231.1h6.0v6.0h-6.0zM229.3 237.1h6.0v6.0h-6.0zM235.3 243.1h6.0v6.0h-6.0zM289.3 249.1h6.0v6.0h-6.0zM247.3 267.1h6.0v6.0h-6.0zM235.3 273.1h6.0v6.0h-6.0zM259.3 273.1h6.0v6.0h-6.0zM223.3 339.1h6.0v6.0h-6.0z"/><path fill="#777777" d="M373.3 147.1h6.0v6.0h-6.0zM271.3 165.1h6.0v6.0h-6.0zM301.3 165.1h6.0v6.0h-6.0zM355.3 165.1h6.0v6.0h-6.0zM265.3 171.1h6.0v6.0h-6.0zM355.3 171.1h6.0v6.0h-6.0zM307.3 177.1h6.0v6.0h-6.0zM361.3 177.1h6.0v6.0h-6.0zM385.3 177.1h6.0v6.0h-6.0zM253.3 213.1h6.0v6.0h-6.0zM241.3 237.1h6.0v6.0h-6.0zM229.3 243.1h6.0v6.0h-6.0zM295.3 243.1h6.0v6.0h-6.0zM283.3 261.1h6.0v6.0h-6.0zM241.3 267.1h6.0v6.0h-6.0zM265.3 273.1h12.0v6.0h-12.0zM223.3 333.1h6.0v6.0h-6.0z"/><path fill="#787878" d="M379.3 147.1h6.0v6.0h-6.0zM289.3 165.1h12.0v6.0h-12.0zM301.3 171.1h6.0v6.0h-6.0zM367.3 177.1h18.0v6.0h-18.0zM259.3 183.1h6.0v6.0h-6.0zM307.3 183.1h6.0v6.0h-6.0zM307.3 207.1h6.0v6.0h-6.0zM301.3 219.1h6.0v6.0h-6.0zM247.3 225.1h6.0v6.0h-6.0zM241.3 243.1h6.0v6.0h-6.0zM235.3 249.1h6.0v6.0h-6.0zM253.3 267.1h6.0v6.0h-6.0zM277.3 267.1h6.0v6.0h-6.0z"/><path fill="#797979" d="M367.3 153.1h6.0v6.0h-6.0zM361.3 159.1h6.0v6.0h-6.0zM277.3 165.1h12.0v6.0h-12.0zM361.3 171.1h6.0v6.0h-6.0zM301.3 177.1h6.0v6.0h-6.0zM307.3 189.1h6.0v6.0h-6.0zM253.3 219.1h6.0v6.0h-6.0zM247.3 231.1h6.0v6.0h-6.0zM223.3 237.1h6.0v6.0h-6.0zM241.3 249.1h6.0v6.0h-6.0zM283.3 255.1h6.0v6.0h-6.0zM259.3 267.1h6.0v6.0h-6.0zM271.3 267.1h6.0v6.0h-6.0zM229.3 285.1h6.0v6.0h-6.0zM223.3 327.1h6.0v6.0h-6.0z"/><path fill="#7a7a7a" d="M373.3 153.1h6.0v6.0h-6.0zM385.3 153.1h6.0v6.0h-6.0zM391.3 159.1h6.0v6.0h-6.0zM361.3 165.1h6.0v6.0h-6.0zM391.3 165.1h6.0v6.0h-6.0zM271.3 171.1h6.0v6.0h-6.0zM295.3 171.1h6.0v6.0h-6.0zM367.3 171.1h6.0v6.0h-6.0zM385.3 171.1h6.0v6.0h-6.0zM265.3 177.1h6.0v6.0h-6.0zM307.3 195.1h6.0v6.0h-6.0zM307.3 201.1h6.0v6.0h-6.0zM247.3 237.1h6.0v6.0h-6.0zM229.3 249.1h6.0v6.0h-6.0zM283.3 249.1h6.0v6.0h-6.0zM241.3 261.1h12.0v6.0h-12.0zM265.3 267.1h6.0v6.0h-6.0zM223.3 321.1h6.0v6.0h-6.0z"/><path fill="#7b7b7b" d="M379.3 153.1h6.0v6.0h-6.0zM367.3 159.1h6.0v6.0h-6.0zM385.3 159.1h6.0v6.0h-6.0zM367.3 165.1h6.0v6.0h-6.0zM385.3 165.1h6.0v6.0h-6.0zM277.3 171.1h18.0v6.0h-18.0zM373.3 171.1h12.0v6.0h-12.0zM301.3 183.1h6.0v6.0h-6.0zM259.3 189.1h6.0v6.0h-6.0zM259.3 195.1h6.0v6.0h-6.0zM259.3 201.1h6.0v6.0h-6.0zM259.3 207.1h6.0v6.0h-6.0zM259.3 213.1h6.0v6.0h-6.0zM301.3 213.1h6.0v6.0h-6.0zM253.3 225.1h6.0v6.0h-6.0zM295.3 237.1h6.0v6.0h-6.0zM247.3 243.1h6.0v6.0h-6.0zM289.3 243.1h6.0v6.0h-6.0zM247.3 249.1h6.0v6.0h-6.0zM241.3 255.1h6.0v6.0h-6.0zM277.3 261.1h6.0v6.0h-6.0zM235.3 267.1h6.0v6.0h-6.0zM229.3 279.1h6.0v6.0h-6.0z"/><path fill="#7c7c7c" d="M373.3 159.1h12.0v6.0h-12.0zM373.3 165.1h12.0v6.0h-12.0zM295.3 177.1h6.0v6.0h-6.0zM295.3 231.1h6.0v6.0h-6.0zM223.3 243.1h6.0v6.0h-6.0zM235.3 255.1h6.0v6.0h-6.0zM247.3 255.1h6.0v6.0h-6.0zM253.3 261.1h6.0v6.0h-6.0zM271.3 261.1h6.0v6.0h-6.0zM223.3 315.1h6.0v6.0h-6.0z"/><path fill="#7d7d7d" d="M271.3 177.1h6.0v6.0h-6.0zM289.3 177.1h6.0v6.0h-6.0zM301.3 189.1h6.0v6.0h-6.0zM259.3 219.1h6.0v6.0h-6.0zM295.3 225.1h6.0v6.0h-6.0zM253.3 231.1h6.0v6.0h-6.0zM283.3 243.1h6.0v6.0h-6.0zM277.3 255.1h6.0v6.0h-6.0z"/><path fill="#7e7e7e" d="M277.3 177.1h12.0v6.0h-12.0zM265.3 183.1h6.0v6.0h-6.0zM295.3 183.1h6.0v6.0h-6.0zM265.3 207.1h6.0v6.0h-6.0zM301.3 207.1h6.0v6.0h-6.0zM295.3 219.1h6.0v6.0h-6.0zM253.3 237.1h6.0v6.0h-6.0zM289.3 237.1h6.0v6.0h-6.0zM277.3 249.1h6.0v6.0h-6.0zM253.3 255.1h6.0v6.0h-6.0zM235.3 261.1h6.0v6.0h-6.0zM259.3 261.1h12.0v6.0h-12.0z"/><path fill="#7f7f7f" d="M289.3 183.1h6.0v6.0h-6.0zM265.3 195.1h6.0v6.0h-6.0zM301.3 195.1h6.0v6.0h-6.0zM265.3 201.1h6.0v6.0h-6.0zM301.3 201.1h6.0v6.0h-6.0zM265.3 213.1h6.0v6.0h-6.0zM259.3 225.1h6.0v6.0h-6.0zM253.3 243.1h6.0v6.0h-6.0zM277.3 243.1h6.0v6.0h-6.0zM253.3 249.1h6.0v6.0h-6.0zM271.3 255.1h6.0v6.0h-6.0zM229.3 273.1h6.0v6.0h-6.0zM223.3 309.1h6.0v6.0h-6.0z"/><path fill="#808080" d="M271.3 183.1h18.0v6.0h-18.0zM265.3 189.1h6.0v6.0h-6.0zM295.3 189.1h6.0v6.0h-6.0zM295.3 213.1h6.0v6.0h-6.0zM265.3 219.1h6.0v6.0h-6.0zM289.3 231.1h6.0v6.0h-6.0zM283.3 237.1h6.0v6.0h-6.0z"/><path fill="#818181" d="M271.3 189.1h12.0v6.0h-12.0zM271.3 201.1h6.0v6.0h-6.0zM271.3 207.1h6.0v6.0h-6.0zM271.3 213.1h6.0v6.0h-6.0zM271.3 219.1h6.0v6.0h-6.0zM289.3 219.1h6.0v6.0h-6.0zM265.3 225.1h6.0v6.0h-6.0zM289.3 225.1h6.0v6.0h-6.0zM259.3 231.1h6.0v6.0h-6.0zM277.3 237.1h6.0v6.0h-6.0zM271.3 249.1h6.0v6.0h-6.0zM229.3 255.1h6.0v6.0h-6.0zM259.3 255.1h12.0v6.0h-12.0zM217.3 345.1h6.0v6.0h-6.0z"/><path fill="#828282" d="M283.3 189.1h12.0v6.0h-12.0zM271.3 195.1h6.0v6.0h-6.0zM295.3 195.1h6.0v6.0h-6.0zM277.3 207.1h6.0v6.0h-6.0zM295.3 207.1h6.0v6.0h-6.0zM277.3 213.1h6.0v6.0h-6.0zM289.3 213.1h6.0v6.0h-6.0zM277.3 219.1h12.0v6.0h-12.0zM271.3 225.1h18.0v6.0h-18.0zM283.3 231.1h6.0v6.0h-6.0zM259.3 237.1h6.0v6.0h-6.0zM259.3 243.1h6.0v6.0h-6.0zM271.3 243.1h6.0v6.0h-6.0zM223.3 249.1h6.0v6.0h-6.0zM259.3 249.1h6.0v6.0h-6.0zM223.3 303.1h6.0v6.0h-6.0z"/><path fill="#838383" d="M277.3 195.1h6.0v6.0h-6.0zM277.3 201.1h6.0v6.0h-6.0zM295.3 201.1h6.0v6.0h-6.0zM283.3 207.1h12.0v6.0h-12.0zM283.3 213.1h6.0v6.0h-6.0zM265.3 231.1h18.0v6.0h-18.0zM271.3 237.1h6.0v6.0h-6.0zM265.3 249.1h6.0v6.0h-6.0zM217.3 339.1h6.0v6.0h-6.0z"/><path fill="#848484" d="M283.3 195.1h12.0v6.0h-12.0zM283.3 201.1h12.0v6.0h-12.0zM265.3 237.1h6.0v6.0h-6.0zM217.3 243.1h6.0v6.0h-6.0zM265.3 243.1h6.0v6.0h-6.0zM223.3 297.1h6.0v6.0h-6.0z"/><path fill="#868686" d="M229.3 267.1h6.0v6.0h-6.0zM217.3 333.1h6.0v6.0h-6.0z"/><path fill="#878787" d="M229.3 261.1h6.0v6.0h-6.0zM223.3 291.1h6.0v6.0h-6.0z"/><path fill="#888888" d="M217.3 327.1h6.0v6.0h-6.0z"/><path fill="#8a8a8a" d="M217.3 321.1h6.0v6.0h-6.0z"/><path fill="#8b8b8b" d="M223.3 255.1h6.0v6.0h-6.0zM223.3 285.1h6.0v6.0h-6.0z"/><path fill="#8c8c8c" d="M217.3 249.1h6.0v6.0h-6.0zM217.3 315.1h6.0v6.0h-6.0z"/><path fill="#8e8e8e" d="M223.3 279.1h6.0v6.0h-6.0z"/><path fill="#909090" d="M217.3 309.1h6.0v6.0h-6.0z"/><path fill="#929292" d="M211.3 339.1h6.0v6.0h-6.0z"/><path fill="#939393" d="M223.3 273.1h6.0v6.0h-6.0z"/><path fill="#959595" d="M223.3 261.1h6.0v6.0h-6.0zM217.3 303.1h6.0v6.0h-6.0zM211.3 333.1h6.0v6.0h-6.0z"/><path fill="#969696" d="M217.3 255.1h6.0v6.0h-6.0z"/><path fill="#989898" d="M223.3 267.1h6.0v6.0h-6.0z"/><path fill="#999999" d="M211.3 327.1h6.0v6.0h-6.0z"/><path fill="#9c9c9c" d="M217.3 297.1h6.0v6.0h-6.0zM211.3 321.1h6.0v6.0h-6.0z"/><path fill="#9e9e9e" d="M211.3 315.1h6.0v6.0h-6.0z"/><path fill="#9f9f9f" d="M211.3 255.1h6.0v6.0h-6.0zM217.3 291.1h6.0v6.0h-6.0z"/><path fill="#a0a0a0" d="M217.3 261.1h6.0v6.0h-6.0z"/><path fill="#a1a1a1" d="M217.3 285.1h6.0v6.0h-6.0zM211.3 309.1h6.0v6.0h-6.0z"/><path fill="#a5a5a5" d="M205.3 333.1h6.0v6.0h-6.0z"/><path fill="#a6a6a6" d="M211.3 303.1h6.0v6.0h-6.0z"/><path fill="#a7a7a7" d="M217.3 267.1h6.0v6.0h-6.0z"/><path fill="#a8a8a8" d="M211.3 261.1h6.0v6.0h-6.0zM217.3 279.1h6.0v6.0h-6.0z"/><path fill="#aaaaaa" d="M205.3 327.1h6.0v6.0h-6.0z"/><path fill="#ababab" d="M217.3 273.1h6.0v6.0h-6.0z"/><path fill="#acacac" d="M211.3 297.1h6.0v6.0h-6.0z"/><path fill="#aeaeae" d="M205.3 321.1h6.0v6.0h-6.0z"/><path fill="#afafaf" d="M211.3 291.1h6.0v6.0h-6.0z"/><path fill="#b0b0b0" d="M205.3 261.1h6.0v6.0h-6.0zM211.3 267.1h6.0v6.0h-6.0z"/><path fill="#b1b1b1" d="M211.3 285.1h6.0v6.0h-6.0z"/><path fill="#b2b2b2" d="M205.3 315.1h6.0v6.0h-6.0z"/><path fill="#b3b3b3" d="M205.3 309.1h6.0v6.0h-6.0z"/><path fill="#b6b6b6" d="M211.3 279.1h6.0v6.0h-6.0zM205.3 303.1h6.0v6.0h-6.0z"/><path fill="#b7b7b7" d="M211.3 273.1h6.0v6.0h-6.0z"/><path fill="#b8b8b8" d="M205.3 267.1h6.0v6.0h-6.0z"/><path fill="#b9b9b9" d="M199.3 327.1h6.0v6.0h-6.0z"/><path fill="#bbbbbb" d="M205.3 297.1h6.0v6.0h-6.0z"/><path fill="#bebebe" d="M205.3 273.1h6.0v6.0h-6.0zM205.3 285.1h6.0v6.0h-6.0zM205.3 291.1h6.0v6.0h-6.0zM199.3 321.1h6.0v6.0h-6.0z"/><path fill="#bfbfbf" d="M199.3 267.1h6.0v6.0h-6.0zM205.3 279.1h6.0v6.0h-6.0z"/><path fill="#c2c2c2" d="M199.3 315.1h6.0v6.0h-6.0z"/><path fill="#c3c3c3" d="M199.3 309.1h6.0v6.0h-6.0z"/><path fill="#c4c4c4" d="M199.3 303.1h6.0v6.0h-6.0z"/><path fill="#c5c5c5" d="M199.3 273.1h6.0v6.0h-6.0z"/><path fill="#c6c6c6" d="M199.3 297.1h6.0v6.0h-6.0z"/><path fill="#c8c8c8" d="M199.3 279.1h6.0v6.0h-6.0z"/><path fill="#c9c9c9" d="M199.3 285.1h6.0v6.0h-6.0zM199.3 291.1h6.0v6.0h-6.0z"/><path fill="#cacaca" d="M193.3 321.1h6.0v6.0h-6.0z"/><path fill="#cbcbcb" d="M193.3 273.1h6.0v6.0h-6.0z"/><path fill="#cccccc" d="M193.3 315.1h6.0v6.0h-6.0z"/><path fill="#cdcdcd" d="M193.3 303.1h6.0v6.0h-6.0zM193.3 309.1h6.0v6.0h-6.0z"/><path fill="#cecece" d="M193.3 279.1h6.0v6.0h-6.0zM193.3 297.1h6.0v6.0h-6.0z"/><path fill="#d0d0d0" d="M193.3 291.1h6.0v6.0h-6.0z"/><path fill="#d1d1d1" d="M193.3 285.1h6.0v6.0h-6.0z"/><path fill="#d2d2d2" d="M187.3 321.1h6.0v6.0h-6.0z"/><path fill="#d4d4d4" d="M187.3 315.1h6.0v6.0h-6.0z"/><path fill="#d5d5d5" d="M187.3 297.1h6.0v6.0h-6.0zM187.3 303.1h6.0v6.0h-6.0zM187.3 309.1h6.0v6.0h-6.0z"/><path fill="#d6d6d6" d="M187.3 285.1h6.0v6.0h-6.0zM187.3 291.1h6.0v6.0h-6.0z"/><path fill="#dcdcdc" d="M181.3 291.1h6.0v6.0h-6.0zM175.3 297.1h12.0v6.0h-12.0zM175.3 303.1h12.0v6.0h-12.0zM175.3 309.1h12.0v6.0h-12.0zM181.3 315.1h6.0v6.0h-6.0z"/></g></g>
<use href="#land"/>
<use href="#dots"/>
<use href="#axl"/>
<path d="M432.3,64.8 L444.0,59.1 L455.7,64.8Z" fill="#fcb67e" stroke="#444" stroke-width="0.5"/>
<path d="M432.3,406.0 L444.0,411.7 L455.7,406.0Z" fill="#eccde6" stroke="#444" stroke-width="0.5"/>
<rect x="432.3" y="64.5" width="23.40" height="341.80" fill="url(#cbM)"/>
<path d="M432.3,64.5 V406.3 M455.7,64.5 V406.3" stroke="#444" stroke-width="0.6" fill="none"/>
<text transform="translate(465.6,73.8) scale(1,1.04)" font-size="29">30</text>
<path d="M432.3,123.4 h4.6 M455.7,123.4 h-4.6" stroke="#333" stroke-width="0.8" fill="none"/>
<text transform="translate(465.6,132.7) scale(1,1.04)" font-size="29">25</text>
<path d="M432.3,182.4 h4.6 M455.7,182.4 h-4.6" stroke="#333" stroke-width="0.8" fill="none"/>
<text transform="translate(465.6,191.7) scale(1,1.04)" font-size="29">20</text>
<path d="M432.3,241.3 h4.6 M455.7,241.3 h-4.6" stroke="#333" stroke-width="0.8" fill="none"/>
<text transform="translate(465.6,250.6) scale(1,1.04)" font-size="29">15</text>
<path d="M432.3,300.2 h4.6 M455.7,300.2 h-4.6" stroke="#333" stroke-width="0.8" fill="none"/>
<text transform="translate(465.6,309.5) scale(1,1.04)" font-size="29">10</text>
<path d="M432.3,359.2 h4.6 M455.7,359.2 h-4.6" stroke="#333" stroke-width="0.8" fill="none"/>
<text transform="translate(465.6,368.5) scale(1,1.04)" font-size="29">5</text>
<text transform="translate(430.8,401.6) rotate(-90)" font-size="18.6" textLength="126" lengthAdjust="spacingAndGlyphs">Ocean Data View</text>
<text class="b" transform="translate(371.3,374.8) scale(1,1.08)" font-size="27.6">G</text>
</g>
<g transform="translate(603.0,1407.0)">
<use href="#frame"/>
<g clip-path="url(#dclip)"><g filter="url(#fM)"><rect x="160" y="55" width="260" height="360" fill="#747474"/><path fill="#272727" d="M295.3 75.1h6.0v6.0h-6.0z"/><path fill="#292929" d="M289.3 75.1h6.0v6.0h-6.0z"/><path fill="#2a2a2a" d="M295.3 81.1h6.0v6.0h-6.0z"/><path fill="#2b2b2b" d="M289.3 81.1h6.0v6.0h-6.0zM235.3 351.1h6.0v6.0h-6.0z"/><path fill="#2c2c2c" d="M229.3 339.1h6.0v6.0h-6.0zM235.3 345.1h6.0v6.0h-6.0zM235.3 357.1h6.0v6.0h-6.0z"/><path fill="#2d2d2d" d="M289.3 87.1h6.0v6.0h-6.0zM229.3 345.1h6.0v6.0h-6.0zM241.3 351.1h6.0v6.0h-6.0zM241.3 357.1h6.0v6.0h-6.0zM241.3 363.1h6.0v6.0h-6.0z"/><path fill="#2e2e2e" d="M283.3 75.1h6.0v6.0h-6.0zM235.3 339.1h6.0v6.0h-6.0zM229.3 351.1h6.0v6.0h-6.0z"/><path fill="#2f2f2f" d="M301.3 81.1h6.0v6.0h-6.0zM295.3 87.1h6.0v6.0h-6.0zM229.3 333.1h6.0v6.0h-6.0zM241.3 345.1h6.0v6.0h-6.0z"/><path fill="#303030" d="M247.3 363.1h6.0v6.0h-6.0z"/><path fill="#313131" d="M247.3 357.1h6.0v6.0h-6.0z"/><path fill="#323232" d="M283.3 81.1h6.0v6.0h-6.0zM331.3 285.1h6.0v6.0h-6.0zM247.3 351.1h6.0v6.0h-6.0z"/><path fill="#333333" d="M235.3 333.1h6.0v6.0h-6.0zM241.3 339.1h6.0v6.0h-6.0z"/><path fill="#343434" d="M289.3 93.1h6.0v6.0h-6.0zM247.3 345.1h6.0v6.0h-6.0z"/><path fill="#353535" d="M325.3 291.1h6.0v6.0h-6.0zM223.3 345.1h6.0v6.0h-6.0zM223.3 351.1h6.0v6.0h-6.0z"/><path fill="#363636" d="M301.3 87.1h6.0v6.0h-6.0zM331.3 279.1h6.0v6.0h-6.0zM229.3 327.1h6.0v6.0h-6.0zM223.3 339.1h6.0v6.0h-6.0z"/><path fill="#373737" d="M325.3 285.1h6.0v6.0h-6.0z"/><path fill="#383838" d="M295.3 93.1h6.0v6.0h-6.0zM253.3 357.1h6.0v6.0h-6.0z"/><path fill="#393939" d="M283.3 87.1h6.0v6.0h-6.0zM337.3 273.1h6.0v6.0h-6.0zM241.3 333.1h6.0v6.0h-6.0z"/><path fill="#3a3a3a" d="M325.3 279.1h6.0v6.0h-6.0zM319.3 297.1h6.0v6.0h-6.0zM235.3 327.1h6.0v6.0h-6.0zM223.3 333.1h6.0v6.0h-6.0zM247.3 339.1h6.0v6.0h-6.0z"/><path fill="#3b3b3b" d="M319.3 291.1h6.0v6.0h-6.0z"/><path fill="#3c3c3c" d="M307.3 87.1h6.0v6.0h-6.0zM331.3 273.1h6.0v6.0h-6.0z"/><path fill="#3d3d3d" d="M277.3 81.1h6.0v6.0h-6.0zM253.3 351.1h6.0v6.0h-6.0z"/><path fill="#3e3e3e" d="M289.3 99.1h6.0v6.0h-6.0zM337.3 267.1h6.0v6.0h-6.0zM319.3 285.1h6.0v6.0h-6.0z"/><path fill="#3f3f3f" d="M241.3 327.1h6.0v6.0h-6.0zM247.3 333.1h6.0v6.0h-6.0z"/><path fill="#404040" d="M325.3 273.1h6.0v6.0h-6.0z"/><path fill="#414141" d="M301.3 93.1h6.0v6.0h-6.0zM229.3 147.1h12.0v6.0h-12.0zM229.3 153.1h18.0v6.0h-18.0zM319.3 279.1h6.0v6.0h-6.0zM229.3 321.1h6.0v6.0h-6.0z"/><path fill="#424242" d="M229.3 111.1h6.0v6.0h-6.0zM229.3 135.1h6.0v6.0h-6.0zM229.3 141.1h12.0v6.0h-12.0zM241.3 147.1h6.0v6.0h-6.0zM235.3 159.1h12.0v6.0h-12.0zM313.3 303.1h6.0v6.0h-6.0zM235.3 321.1h6.0v6.0h-6.0zM223.3 327.1h6.0v6.0h-6.0z"/><path fill="#434343" d="M283.3 93.1h6.0v6.0h-6.0zM229.3 105.1h6.0v6.0h-6.0zM229.3 117.1h6.0v6.0h-6.0zM229.3 123.1h6.0v6.0h-6.0zM229.3 129.1h6.0v6.0h-6.0zM241.3 141.1h6.0v6.0h-6.0zM247.3 147.1h6.0v6.0h-6.0zM247.3 153.1h6.0v6.0h-6.0zM229.3 159.1h6.0v6.0h-6.0zM343.3 255.1h6.0v6.0h-6.0zM337.3 261.1h6.0v6.0h-6.0zM331.3 267.1h6.0v6.0h-6.0zM313.3 297.1h6.0v6.0h-6.0z"/><path fill="#444444" d="M229.3 99.1h6.0v6.0h-6.0zM295.3 99.1h6.0v6.0h-6.0zM235.3 111.1h6.0v6.0h-6.0zM235.3 135.1h6.0v6.0h-6.0zM247.3 141.1h6.0v6.0h-6.0zM247.3 159.1h6.0v6.0h-6.0zM235.3 165.1h12.0v6.0h-12.0zM313.3 291.1h6.0v6.0h-6.0zM247.3 327.1h6.0v6.0h-6.0zM217.3 345.1h6.0v6.0h-6.0zM253.3 345.1h6.0v6.0h-6.0z"/><path fill="#454545" d="M277.3 87.1h6.0v6.0h-6.0zM229.3 93.1h6.0v6.0h-6.0zM235.3 105.1h6.0v6.0h-6.0zM235.3 117.1h12.0v6.0h-12.0zM235.3 123.1h6.0v6.0h-6.0zM235.3 129.1h6.0v6.0h-6.0zM241.3 135.1h6.0v6.0h-6.0z"/><path fill="#464646" d="M271.3 81.1h6.0v6.0h-6.0zM307.3 93.1h6.0v6.0h-6.0zM241.3 111.1h6.0v6.0h-6.0zM247.3 117.1h6.0v6.0h-6.0zM241.3 123.1h6.0v6.0h-6.0zM247.3 135.1h6.0v6.0h-6.0zM253.3 147.1h6.0v6.0h-6.0zM253.3 153.1h6.0v6.0h-6.0zM229.3 165.1h6.0v6.0h-6.0zM247.3 165.1h6.0v6.0h-6.0zM343.3 249.1h6.0v6.0h-6.0zM337.3 255.1h6.0v6.0h-6.0zM319.3 273.1h6.0v6.0h-6.0zM241.3 321.1h6.0v6.0h-6.0zM259.3 351.1h6.0v6.0h-6.0z"/><path fill="#474747" d="M235.3 99.1h6.0v6.0h-6.0zM247.3 123.1h6.0v6.0h-6.0zM241.3 129.1h12.0v6.0h-12.0zM253.3 159.1h6.0v6.0h-6.0zM331.3 261.1h6.0v6.0h-6.0zM313.3 285.1h6.0v6.0h-6.0z"/><path fill="#484848" d="M289.3 105.1h6.0v6.0h-6.0zM247.3 111.1h6.0v6.0h-6.0zM253.3 141.1h6.0v6.0h-6.0zM325.3 267.1h6.0v6.0h-6.0zM253.3 333.1h6.0v6.0h-6.0zM253.3 339.1h6.0v6.0h-6.0z"/><path fill="#494949" d="M313.3 93.1h6.0v6.0h-6.0zM283.3 99.1h6.0v6.0h-6.0zM241.3 105.1h6.0v6.0h-6.0zM253.3 135.1h6.0v6.0h-6.0zM253.3 165.1h6.0v6.0h-6.0zM241.3 171.1h6.0v6.0h-6.0zM337.3 249.1h6.0v6.0h-6.0zM331.3 255.1h6.0v6.0h-6.0z"/><path fill="#4a4a4a" d="M235.3 93.1h6.0v6.0h-6.0zM253.3 123.1h6.0v6.0h-6.0zM253.3 129.1h6.0v6.0h-6.0zM235.3 171.1h6.0v6.0h-6.0zM247.3 171.1h6.0v6.0h-6.0zM349.3 237.1h6.0v6.0h-6.0zM343.3 243.1h6.0v6.0h-6.0zM307.3 309.1h6.0v6.0h-6.0zM223.3 321.1h6.0v6.0h-6.0zM217.3 339.1h6.0v6.0h-6.0z"/><path fill="#4b4b4b" d="M295.3 105.1h6.0v6.0h-6.0zM253.3 117.1h6.0v6.0h-6.0zM307.3 303.1h6.0v6.0h-6.0z"/><path fill="#4c4c4c" d="M301.3 99.1h6.0v6.0h-6.0zM229.3 171.1h6.0v6.0h-6.0zM355.3 225.1h6.0v6.0h-6.0zM349.3 231.1h6.0v6.0h-6.0zM337.3 243.1h6.0v6.0h-6.0zM331.3 249.1h6.0v6.0h-6.0zM325.3 261.1h6.0v6.0h-6.0zM313.3 279.1h6.0v6.0h-6.0zM235.3 315.1h6.0v6.0h-6.0zM247.3 321.1h6.0v6.0h-6.0z"/><path fill="#4d4d4d" d="M241.3 99.1h6.0v6.0h-6.0zM349.3 225.1h6.0v6.0h-6.0zM343.3 237.1h6.0v6.0h-6.0zM319.3 267.1h6.0v6.0h-6.0zM307.3 297.1h6.0v6.0h-6.0zM229.3 315.1h6.0v6.0h-6.0zM253.3 327.1h6.0v6.0h-6.0z"/><path fill="#4e4e4e" d="M265.3 81.1h6.0v6.0h-6.0zM277.3 93.1h6.0v6.0h-6.0zM283.3 105.1h6.0v6.0h-6.0zM259.3 141.1h6.0v6.0h-6.0zM259.3 147.1h6.0v6.0h-6.0zM259.3 153.1h6.0v6.0h-6.0zM343.3 225.1h6.0v6.0h-6.0zM343.3 231.1h6.0v6.0h-6.0zM325.3 255.1h6.0v6.0h-6.0zM259.3 345.1h6.0v6.0h-6.0z"/><path fill="#4f4f4f" d="M271.3 87.1h6.0v6.0h-6.0zM241.3 93.1h6.0v6.0h-6.0zM247.3 105.1h6.0v6.0h-6.0zM253.3 111.1h6.0v6.0h-6.0zM289.3 111.1h6.0v6.0h-6.0zM259.3 135.1h6.0v6.0h-6.0zM259.3 159.1h6.0v6.0h-6.0zM253.3 171.1h6.0v6.0h-6.0zM343.3 219.1h24.0v6.0h-24.0zM331.3 243.1h6.0v6.0h-6.0zM325.3 249.1h6.0v6.0h-6.0z"/><path fill="#505050" d="M307.3 99.1h6.0v6.0h-6.0zM301.3 105.1h6.0v6.0h-6.0zM295.3 111.1h6.0v6.0h-6.0zM337.3 225.1h6.0v6.0h-6.0zM337.3 237.1h6.0v6.0h-6.0zM313.3 273.1h6.0v6.0h-6.0zM307.3 291.1h6.0v6.0h-6.0zM241.3 315.1h6.0v6.0h-6.0z"/><path fill="#515151" d="M313.3 99.1h12.0v6.0h-12.0zM259.3 129.1h6.0v6.0h-6.0zM337.3 219.1h6.0v6.0h-6.0zM319.3 261.1h6.0v6.0h-6.0z"/><path fill="#525252" d="M301.3 111.1h6.0v6.0h-6.0zM259.3 165.1h6.0v6.0h-6.0zM241.3 177.1h12.0v6.0h-12.0zM343.3 213.1h18.0v6.0h-18.0zM337.3 231.1h6.0v6.0h-6.0zM325.3 243.1h6.0v6.0h-6.0zM259.3 339.1h6.0v6.0h-6.0zM265.3 345.1h6.0v6.0h-6.0z"/><path fill="#535353" d="M325.3 99.1h6.0v6.0h-6.0zM283.3 111.1h6.0v6.0h-6.0zM259.3 123.1h6.0v6.0h-6.0zM235.3 177.1h6.0v6.0h-6.0zM337.3 213.1h6.0v6.0h-6.0zM361.3 213.1h6.0v6.0h-6.0zM331.3 225.1h6.0v6.0h-6.0zM331.3 237.1h6.0v6.0h-6.0zM319.3 255.1h6.0v6.0h-6.0zM301.3 315.1h6.0v6.0h-6.0z"/><path fill="#545454" d="M307.3 105.1h6.0v6.0h-6.0zM307.3 111.1h6.0v6.0h-6.0zM265.3 135.1h6.0v6.0h-6.0zM319.3 249.1h6.0v6.0h-6.0zM307.3 285.1h6.0v6.0h-6.0zM223.3 315.1h6.0v6.0h-6.0zM217.3 333.1h6.0v6.0h-6.0zM259.3 333.1h6.0v6.0h-6.0z"/><path fill="#555555" d="M247.3 87.1h6.0v6.0h-6.0zM247.3 99.1h6.0v6.0h-6.0zM277.3 99.1h6.0v6.0h-6.0zM313.3 105.1h12.0v6.0h-12.0zM259.3 117.1h6.0v6.0h-6.0zM343.3 165.1h6.0v6.0h-6.0zM331.3 219.1h6.0v6.0h-6.0zM331.3 231.1h6.0v6.0h-6.0zM313.3 267.1h6.0v6.0h-6.0zM301.3 309.1h6.0v6.0h-6.0z"/><path fill="#565656" d="M265.3 87.1h6.0v6.0h-6.0zM271.3 93.1h6.0v6.0h-6.0zM313.3 111.1h6.0v6.0h-6.0zM337.3 159.1h12.0v6.0h-12.0zM337.3 165.1h6.0v6.0h-6.0zM343.3 171.1h6.0v6.0h-6.0zM343.3 207.1h18.0v6.0h-18.0zM301.3 303.1h6.0v6.0h-6.0zM253.3 321.1h6.0v6.0h-6.0z"/><path fill="#575757" d="M247.3 93.1h6.0v6.0h-6.0zM253.3 105.1h6.0v6.0h-6.0zM289.3 117.1h18.0v6.0h-18.0zM265.3 141.1h6.0v6.0h-6.0zM337.3 171.1h6.0v6.0h-6.0zM337.3 207.1h6.0v6.0h-6.0zM361.3 207.1h6.0v6.0h-6.0zM307.3 279.1h6.0v6.0h-6.0zM265.3 339.1h6.0v6.0h-6.0z"/><path fill="#585858" d="M277.3 105.1h6.0v6.0h-6.0zM325.3 105.1h6.0v6.0h-6.0zM319.3 111.1h6.0v6.0h-6.0zM265.3 129.1h6.0v6.0h-6.0zM271.3 135.1h6.0v6.0h-6.0zM253.3 177.1h6.0v6.0h-6.0zM367.3 207.1h6.0v6.0h-6.0zM331.3 213.1h6.0v6.0h-6.0zM325.3 237.1h6.0v6.0h-6.0zM319.3 243.1h6.0v6.0h-6.0zM301.3 297.1h6.0v6.0h-6.0z"/><path fill="#595959" d="M253.3 87.1h6.0v6.0h-6.0zM283.3 117.1h6.0v6.0h-6.0zM307.3 117.1h6.0v6.0h-6.0zM265.3 147.1h6.0v6.0h-6.0zM265.3 153.1h6.0v6.0h-6.0zM259.3 171.1h6.0v6.0h-6.0zM343.3 177.1h6.0v6.0h-6.0zM307.3 273.1h6.0v6.0h-6.0zM235.3 309.1h6.0v6.0h-6.0zM247.3 315.1h6.0v6.0h-6.0zM277.3 339.1h6.0v6.0h-6.0z"/><path fill="#5a5a5a" d="M259.3 87.1h6.0v6.0h-6.0zM259.3 111.1h6.0v6.0h-6.0zM337.3 153.1h6.0v6.0h-6.0zM349.3 201.1h12.0v6.0h-12.0zM313.3 261.1h6.0v6.0h-6.0zM295.3 321.1h6.0v6.0h-6.0zM271.3 339.1h6.0v6.0h-6.0z"/><path fill="#5b5b5b" d="M337.3 177.1h6.0v6.0h-6.0zM331.3 207.1h6.0v6.0h-6.0zM313.3 249.1h6.0v6.0h-6.0zM313.3 255.1h6.0v6.0h-6.0zM229.3 309.1h6.0v6.0h-6.0zM259.3 327.1h6.0v6.0h-6.0z"/><path fill="#5c5c5c" d="M271.3 99.1h6.0v6.0h-6.0zM331.3 105.1h6.0v6.0h-6.0zM277.3 111.1h6.0v6.0h-6.0zM313.3 117.1h6.0v6.0h-6.0zM271.3 129.1h6.0v6.0h-6.0zM343.3 153.1h6.0v6.0h-6.0zM265.3 159.1h6.0v6.0h-6.0zM343.3 201.1h6.0v6.0h-6.0zM361.3 201.1h6.0v6.0h-6.0zM301.3 291.1h6.0v6.0h-6.0z"/><path fill="#5d5d5d" d="M253.3 93.1h6.0v6.0h-6.0zM253.3 99.1h6.0v6.0h-6.0zM325.3 231.1h6.0v6.0h-6.0zM265.3 333.1h6.0v6.0h-6.0zM283.3 333.1h6.0v6.0h-6.0z"/><path fill="#5e5e5e" d="M265.3 93.1h6.0v6.0h-6.0zM325.3 111.1h6.0v6.0h-6.0zM265.3 165.1h6.0v6.0h-6.0zM337.3 201.1h6.0v6.0h-6.0zM367.3 201.1h6.0v6.0h-6.0zM325.3 219.1h6.0v6.0h-6.0zM325.3 225.1h6.0v6.0h-6.0zM295.3 315.1h6.0v6.0h-6.0zM217.3 327.1h6.0v6.0h-6.0zM289.3 327.1h6.0v6.0h-6.0z"/><path fill="#5f5f5f" d="M277.3 117.1h6.0v6.0h-6.0zM271.3 141.1h6.0v6.0h-6.0zM241.3 183.1h12.0v6.0h-12.0zM355.3 195.1h6.0v6.0h-6.0zM307.3 267.1h6.0v6.0h-6.0zM301.3 285.1h6.0v6.0h-6.0zM217.3 321.1h6.0v6.0h-6.0zM211.3 339.1h6.0v6.0h-6.0z"/><path fill="#606060" d="M259.3 105.1h6.0v6.0h-6.0zM271.3 105.1h6.0v6.0h-6.0zM265.3 123.1h6.0v6.0h-6.0zM283.3 123.1h18.0v6.0h-18.0zM259.3 177.1h6.0v6.0h-6.0zM343.3 183.1h6.0v6.0h-6.0zM349.3 195.1h6.0v6.0h-6.0zM325.3 213.1h6.0v6.0h-6.0zM313.3 243.1h6.0v6.0h-6.0zM241.3 309.1h6.0v6.0h-6.0zM295.3 309.1h6.0v6.0h-6.0zM271.3 333.1h12.0v6.0h-12.0z"/><path fill="#616161" d="M259.3 93.1h6.0v6.0h-6.0zM319.3 117.1h6.0v6.0h-6.0zM301.3 123.1h6.0v6.0h-6.0zM349.3 159.1h6.0v6.0h-6.0zM331.3 165.1h6.0v6.0h-6.0zM349.3 165.1h6.0v6.0h-6.0zM331.3 171.1h6.0v6.0h-6.0zM349.3 171.1h6.0v6.0h-6.0zM235.3 183.1h6.0v6.0h-6.0zM337.3 183.1h6.0v6.0h-6.0zM343.3 195.1h6.0v6.0h-6.0zM331.3 201.1h6.0v6.0h-6.0zM319.3 237.1h6.0v6.0h-6.0zM301.3 273.1h6.0v6.0h-6.0zM301.3 279.1h6.0v6.0h-6.0zM223.3 309.1h6.0v6.0h-6.0z"/><path fill="#626262" d="M265.3 99.1h6.0v6.0h-6.0zM331.3 111.1h6.0v6.0h-6.0zM277.3 123.1h6.0v6.0h-6.0zM331.3 159.1h6.0v6.0h-6.0zM331.3 177.1h6.0v6.0h-6.0zM349.3 177.1h6.0v6.0h-6.0zM253.3 183.1h6.0v6.0h-6.0zM325.3 207.1h6.0v6.0h-6.0zM295.3 303.1h6.0v6.0h-6.0z"/><path fill="#636363" d="M259.3 99.1h6.0v6.0h-6.0zM265.3 111.1h12.0v6.0h-12.0zM265.3 117.1h6.0v6.0h-6.0zM277.3 129.1h6.0v6.0h-6.0zM271.3 147.1h6.0v6.0h-6.0zM361.3 195.1h6.0v6.0h-6.0zM253.3 315.1h6.0v6.0h-6.0zM289.3 321.1h6.0v6.0h-6.0zM283.3 327.1h6.0v6.0h-6.0z"/><path fill="#646464" d="M265.3 105.1h6.0v6.0h-6.0zM271.3 123.1h6.0v6.0h-6.0zM307.3 123.1h6.0v6.0h-6.0zM277.3 135.1h6.0v6.0h-6.0zM337.3 147.1h6.0v6.0h-6.0zM331.3 153.1h6.0v6.0h-6.0zM265.3 171.1h6.0v6.0h-6.0zM343.3 189.1h12.0v6.0h-12.0zM337.3 195.1h6.0v6.0h-6.0zM217.3 315.1h6.0v6.0h-6.0zM259.3 321.1h6.0v6.0h-6.0z"/><path fill="#656565" d="M349.3 183.1h6.0v6.0h-6.0zM337.3 189.1h6.0v6.0h-6.0zM367.3 195.1h6.0v6.0h-6.0zM307.3 249.1h6.0v6.0h-6.0zM295.3 297.1h6.0v6.0h-6.0z"/><path fill="#666666" d="M337.3 111.1h6.0v6.0h-6.0zM271.3 117.1h6.0v6.0h-6.0zM325.3 117.1h6.0v6.0h-6.0zM271.3 153.1h6.0v6.0h-6.0zM331.3 183.1h6.0v6.0h-6.0zM373.3 195.1h6.0v6.0h-6.0zM325.3 201.1h6.0v6.0h-6.0zM307.3 255.1h6.0v6.0h-6.0zM307.3 261.1h6.0v6.0h-6.0zM277.3 327.1h6.0v6.0h-6.0z"/><path fill="#676767" d="M343.3 147.1h6.0v6.0h-6.0zM349.3 153.1h6.0v6.0h-6.0zM301.3 267.1h6.0v6.0h-6.0zM265.3 327.1h6.0v6.0h-6.0z"/><path fill="#686868" d="M313.3 123.1h6.0v6.0h-6.0zM283.3 129.1h6.0v6.0h-6.0zM271.3 159.1h6.0v6.0h-6.0zM325.3 165.1h6.0v6.0h-6.0zM325.3 171.1h6.0v6.0h-6.0zM265.3 177.1h6.0v6.0h-6.0zM259.3 183.1h6.0v6.0h-6.0zM355.3 189.1h6.0v6.0h-6.0zM331.3 195.1h6.0v6.0h-6.0zM271.3 327.1h6.0v6.0h-6.0z"/><path fill="#696969" d="M331.3 147.1h6.0v6.0h-6.0zM271.3 165.1h6.0v6.0h-6.0zM325.3 177.1h6.0v6.0h-6.0zM319.3 213.1h6.0v6.0h-6.0zM319.3 231.1h6.0v6.0h-6.0zM295.3 291.1h6.0v6.0h-6.0zM229.3 303.1h6.0v6.0h-6.0zM289.3 315.1h6.0v6.0h-6.0z"/><path fill="#6a6a6a" d="M331.3 117.1h6.0v6.0h-6.0zM289.3 129.1h6.0v6.0h-6.0zM277.3 141.1h6.0v6.0h-6.0zM325.3 159.1h6.0v6.0h-6.0zM331.3 189.1h6.0v6.0h-6.0zM319.3 207.1h6.0v6.0h-6.0zM307.3 243.1h6.0v6.0h-6.0zM283.3 321.1h6.0v6.0h-6.0z"/><path fill="#6b6b6b" d="M295.3 129.1h12.0v6.0h-12.0zM355.3 165.1h6.0v6.0h-6.0zM325.3 183.1h6.0v6.0h-6.0zM379.3 189.1h6.0v6.0h-6.0zM319.3 219.1h6.0v6.0h-6.0zM313.3 237.1h6.0v6.0h-6.0zM295.3 285.1h6.0v6.0h-6.0zM235.3 303.1h6.0v6.0h-6.0z"/><path fill="#6c6c6c" d="M337.3 117.1h6.0v6.0h-6.0zM325.3 153.1h6.0v6.0h-6.0zM355.3 159.1h6.0v6.0h-6.0zM319.3 165.1h6.0v6.0h-6.0zM271.3 171.1h6.0v6.0h-6.0zM319.3 171.1h6.0v6.0h-6.0zM355.3 171.1h6.0v6.0h-6.0zM265.3 183.1h6.0v6.0h-6.0zM361.3 189.1h6.0v6.0h-6.0zM373.3 189.1h6.0v6.0h-6.0zM325.3 195.1h6.0v6.0h-6.0zM223.3 303.1h6.0v6.0h-6.0zM247.3 309.1h6.0v6.0h-6.0zM289.3 309.1h6.0v6.0h-6.0zM211.3 333.1h6.0v6.0h-6.0z"/><path fill="#6d6d6d" d="M319.3 123.1h6.0v6.0h-6.0zM337.3 141.1h6.0v6.0h-6.0zM319.3 159.1h6.0v6.0h-6.0zM355.3 177.1h6.0v6.0h-6.0zM355.3 183.1h6.0v6.0h-6.0zM325.3 189.1h6.0v6.0h-6.0zM367.3 189.1h6.0v6.0h-6.0zM319.3 201.1h6.0v6.0h-6.0zM319.3 225.1h6.0v6.0h-6.0zM217.3 309.1h6.0v6.0h-6.0zM259.3 315.1h6.0v6.0h-6.0zM277.3 321.1h6.0v6.0h-6.0z"/><path fill="#6e6e6e" d="M343.3 117.1h6.0v6.0h-6.0zM307.3 129.1h6.0v6.0h-6.0zM331.3 141.1h6.0v6.0h-6.0zM319.3 177.1h6.0v6.0h-6.0zM385.3 177.1h6.0v6.0h-6.0zM379.3 183.1h6.0v6.0h-6.0zM295.3 279.1h6.0v6.0h-6.0zM217.3 285.1h6.0v6.0h-6.0zM265.3 321.1h12.0v6.0h-12.0z"/><path fill="#6f6f6f" d="M283.3 135.1h6.0v6.0h-6.0zM343.3 141.1h6.0v6.0h-6.0zM325.3 147.1h6.0v6.0h-6.0zM319.3 153.1h6.0v6.0h-6.0zM313.3 159.1h6.0v6.0h-6.0zM391.3 165.1h6.0v6.0h-6.0zM385.3 171.1h6.0v6.0h-6.0zM271.3 177.1h6.0v6.0h-6.0zM319.3 183.1h6.0v6.0h-6.0zM247.3 189.1h12.0v6.0h-12.0zM319.3 195.1h6.0v6.0h-6.0zM301.3 249.1h6.0v6.0h-6.0zM301.3 255.1h6.0v6.0h-6.0zM217.3 291.1h12.0v6.0h-12.0zM229.3 297.1h6.0v6.0h-6.0zM289.3 303.1h6.0v6.0h-6.0z"/><path fill="#707070" d="M325.3 123.1h12.0v6.0h-12.0zM313.3 129.1h6.0v6.0h-6.0zM355.3 153.1h6.0v6.0h-6.0zM391.3 159.1h6.0v6.0h-6.0zM313.3 165.1h6.0v6.0h-6.0zM385.3 165.1h6.0v6.0h-6.0zM379.3 177.1h6.0v6.0h-6.0zM271.3 183.1h6.0v6.0h-6.0zM259.3 189.1h12.0v6.0h-12.0zM319.3 189.1h6.0v6.0h-6.0zM301.3 261.1h6.0v6.0h-6.0zM295.3 273.1h6.0v6.0h-6.0zM223.3 297.1h6.0v6.0h-6.0zM235.3 297.1h6.0v6.0h-6.0z"/><path fill="#717171" d="M337.3 123.1h6.0v6.0h-6.0zM337.3 135.1h6.0v6.0h-6.0zM277.3 147.1h6.0v6.0h-6.0zM349.3 147.1h6.0v6.0h-6.0zM313.3 153.1h6.0v6.0h-6.0zM361.3 159.1h6.0v6.0h-6.0zM385.3 159.1h6.0v6.0h-6.0zM361.3 165.1h6.0v6.0h-6.0zM379.3 165.1h6.0v6.0h-6.0zM313.3 171.1h6.0v6.0h-6.0zM379.3 171.1h6.0v6.0h-6.0zM373.3 183.1h6.0v6.0h-6.0zM241.3 189.1h6.0v6.0h-6.0zM271.3 189.1h6.0v6.0h-6.0zM313.3 213.1h6.0v6.0h-6.0zM241.3 303.1h6.0v6.0h-6.0zM253.3 309.1h6.0v6.0h-6.0z"/><path fill="#727272" d="M343.3 123.1h6.0v6.0h-6.0zM289.3 135.1h6.0v6.0h-6.0zM331.3 135.1h6.0v6.0h-6.0zM325.3 141.1h6.0v6.0h-6.0zM319.3 147.1h6.0v6.0h-6.0zM379.3 159.1h6.0v6.0h-6.0zM373.3 165.1h6.0v6.0h-6.0zM361.3 171.1h6.0v6.0h-6.0zM361.3 183.1h6.0v6.0h-6.0zM235.3 189.1h6.0v6.0h-6.0zM301.3 243.1h6.0v6.0h-6.0zM229.3 291.1h6.0v6.0h-6.0z"/><path fill="#737373" d="M319.3 129.1h6.0v6.0h-6.0zM331.3 129.1h12.0v6.0h-12.0zM313.3 147.1h6.0v6.0h-6.0zM385.3 153.1h6.0v6.0h-6.0zM367.3 159.1h12.0v6.0h-12.0zM367.3 165.1h6.0v6.0h-6.0zM367.3 171.1h12.0v6.0h-12.0zM313.3 177.1h6.0v6.0h-6.0zM361.3 177.1h6.0v6.0h-6.0zM373.3 177.1h6.0v6.0h-6.0zM367.3 183.1h6.0v6.0h-6.0zM313.3 207.1h6.0v6.0h-6.0zM313.3 219.1h6.0v6.0h-6.0zM265.3 315.1h12.0v6.0h-12.0zM283.3 315.1h6.0v6.0h-6.0z"/><path fill="#747474" d="M349.3 123.1h6.0v6.0h-6.0zM325.3 129.1h6.0v6.0h-6.0zM343.3 129.1h6.0v6.0h-6.0zM295.3 135.1h24.0v6.0h-24.0zM325.3 135.1h6.0v6.0h-6.0zM343.3 135.1h6.0v6.0h-6.0zM313.3 141.1h12.0v6.0h-12.0zM361.3 153.1h6.0v6.0h-6.0zM379.3 153.1h6.0v6.0h-6.0zM367.3 177.1h6.0v6.0h-6.0zM313.3 231.1h6.0v6.0h-6.0zM307.3 237.1h6.0v6.0h-6.0zM295.3 267.1h6.0v6.0h-6.0zM235.3 291.1h6.0v6.0h-6.0zM289.3 297.1h6.0v6.0h-6.0z"/><path fill="#757575" d="M319.3 135.1h6.0v6.0h-6.0zM283.3 141.1h6.0v6.0h-6.0zM349.3 141.1h6.0v6.0h-6.0zM367.3 153.1h12.0v6.0h-12.0zM313.3 183.1h6.0v6.0h-6.0zM313.3 201.1h6.0v6.0h-6.0zM217.3 303.1h6.0v6.0h-6.0zM277.3 315.1h6.0v6.0h-6.0z"/><path fill="#767676" d="M349.3 129.1h6.0v6.0h-6.0zM307.3 141.1h6.0v6.0h-6.0zM355.3 147.1h6.0v6.0h-6.0zM379.3 147.1h6.0v6.0h-6.0zM277.3 153.1h6.0v6.0h-6.0zM307.3 153.1h6.0v6.0h-6.0zM277.3 159.1h6.0v6.0h-6.0zM307.3 159.1h6.0v6.0h-6.0zM277.3 165.1h6.0v6.0h-6.0zM277.3 171.1h6.0v6.0h-6.0zM313.3 189.1h6.0v6.0h-6.0zM313.3 195.1h6.0v6.0h-6.0zM313.3 225.1h6.0v6.0h-6.0z"/><path fill="#777777" d="M349.3 135.1h6.0v6.0h-6.0zM307.3 147.1h6.0v6.0h-6.0zM373.3 147.1h6.0v6.0h-6.0zM277.3 183.1h6.0v6.0h-6.0zM277.3 189.1h6.0v6.0h-6.0zM217.3 279.1h6.0v6.0h-6.0zM217.3 297.1h6.0v6.0h-6.0zM247.3 303.1h6.0v6.0h-6.0zM259.3 309.1h6.0v6.0h-6.0zM211.3 321.1h6.0v6.0h-6.0z"/><path fill="#787878" d="M355.3 129.1h6.0v6.0h-6.0zM361.3 147.1h12.0v6.0h-12.0zM307.3 165.1h6.0v6.0h-6.0zM307.3 171.1h6.0v6.0h-6.0zM277.3 177.1h6.0v6.0h-6.0zM301.3 237.1h6.0v6.0h-6.0zM295.3 249.1h6.0v6.0h-6.0zM211.3 315.1h6.0v6.0h-6.0zM211.3 327.1h6.0v6.0h-6.0z"/><path fill="#797979" d="M355.3 135.1h6.0v6.0h-6.0zM355.3 141.1h6.0v6.0h-6.0zM295.3 243.1h6.0v6.0h-6.0zM295.3 255.1h6.0v6.0h-6.0zM295.3 261.1h6.0v6.0h-6.0zM289.3 291.1h6.0v6.0h-6.0z"/><path fill="#7a7a7a" d="M361.3 135.1h6.0v6.0h-6.0zM361.3 141.1h12.0v6.0h-12.0zM307.3 177.1h6.0v6.0h-6.0zM307.3 213.1h6.0v6.0h-6.0zM307.3 219.1h6.0v6.0h-6.0zM307.3 231.1h6.0v6.0h-6.0zM223.3 285.1h6.0v6.0h-6.0zM205.3 333.1h6.0v6.0h-6.0z"/><path fill="#7b7b7b" d="M289.3 141.1h6.0v6.0h-6.0zM301.3 141.1h6.0v6.0h-6.0zM307.3 225.1h6.0v6.0h-6.0zM229.3 285.1h6.0v6.0h-6.0zM283.3 309.1h6.0v6.0h-6.0z"/><path fill="#7c7c7c" d="M307.3 183.1h6.0v6.0h-6.0zM265.3 195.1h6.0v6.0h-6.0zM307.3 207.1h6.0v6.0h-6.0zM301.3 231.1h6.0v6.0h-6.0z"/><path fill="#7d7d7d" d="M307.3 189.1h6.0v6.0h-6.0zM271.3 195.1h6.0v6.0h-6.0zM307.3 195.1h6.0v6.0h-6.0zM307.3 201.1h6.0v6.0h-6.0zM241.3 297.1h6.0v6.0h-6.0z"/><path fill="#7e7e7e" d="M295.3 141.1h6.0v6.0h-6.0zM301.3 225.1h6.0v6.0h-6.0zM295.3 237.1h6.0v6.0h-6.0zM289.3 285.1h6.0v6.0h-6.0zM253.3 303.1h6.0v6.0h-6.0z"/><path fill="#7f7f7f" d="M259.3 195.1h6.0v6.0h-6.0zM277.3 195.1h6.0v6.0h-6.0zM283.3 303.1h6.0v6.0h-6.0zM265.3 309.1h6.0v6.0h-6.0z"/><path fill="#808080" d="M301.3 219.1h6.0v6.0h-6.0zM211.3 309.1h6.0v6.0h-6.0z"/><path fill="#818181" d="M301.3 147.1h6.0v6.0h-6.0zM283.3 189.1h6.0v6.0h-6.0z"/><path fill="#828282" d="M283.3 147.1h6.0v6.0h-6.0zM235.3 285.1h6.0v6.0h-6.0zM271.3 309.1h6.0v6.0h-6.0zM205.3 327.1h6.0v6.0h-6.0z"/><path fill="#838383" d="M283.3 183.1h6.0v6.0h-6.0zM253.3 195.1h6.0v6.0h-6.0zM301.3 213.1h6.0v6.0h-6.0zM295.3 231.1h6.0v6.0h-6.0zM289.3 279.1h6.0v6.0h-6.0zM211.3 291.1h6.0v6.0h-6.0zM259.3 303.1h6.0v6.0h-6.0zM277.3 309.1h6.0v6.0h-6.0z"/><path fill="#848484" d="M301.3 171.1h6.0v6.0h-6.0zM301.3 177.1h6.0v6.0h-6.0zM301.3 189.1h6.0v6.0h-6.0zM283.3 195.1h6.0v6.0h-6.0zM301.3 195.1h6.0v6.0h-6.0zM283.3 297.1h6.0v6.0h-6.0zM205.3 321.1h6.0v6.0h-6.0z"/><path fill="#858585" d="M301.3 153.1h6.0v6.0h-6.0zM301.3 183.1h6.0v6.0h-6.0zM235.3 195.1h6.0v6.0h-6.0zM301.3 201.1h6.0v6.0h-6.0zM301.3 207.1h6.0v6.0h-6.0zM295.3 225.1h6.0v6.0h-6.0zM289.3 243.1h6.0v6.0h-6.0z"/><path fill="#868686" d="M301.3 165.1h6.0v6.0h-6.0zM283.3 177.1h6.0v6.0h-6.0zM241.3 195.1h12.0v6.0h-12.0zM289.3 249.1h6.0v6.0h-6.0zM289.3 273.1h6.0v6.0h-6.0z"/><path fill="#878787" d="M301.3 159.1h6.0v6.0h-6.0zM295.3 219.1h6.0v6.0h-6.0z"/><path fill="#888888" d="M283.3 171.1h6.0v6.0h-6.0zM289.3 267.1h6.0v6.0h-6.0zM211.3 297.1h6.0v6.0h-6.0zM211.3 303.1h6.0v6.0h-6.0zM205.3 315.1h6.0v6.0h-6.0z"/><path fill="#898989" d="M247.3 297.1h6.0v6.0h-6.0z"/><path fill="#8a8a8a" d="M295.3 213.1h6.0v6.0h-6.0zM289.3 255.1h6.0v6.0h-6.0zM289.3 261.1h6.0v6.0h-6.0zM199.3 327.1h6.0v6.0h-6.0z"/><path fill="#8b8b8b" d="M289.3 189.1h6.0v6.0h-6.0zM241.3 291.1h6.0v6.0h-6.0zM277.3 303.1h6.0v6.0h-6.0z"/><path fill="#8c8c8c" d="M295.3 147.1h6.0v6.0h-6.0zM283.3 165.1h6.0v6.0h-6.0zM289.3 183.1h12.0v6.0h-12.0zM295.3 189.1h6.0v6.0h-6.0zM289.3 195.1h12.0v6.0h-12.0zM295.3 201.1h6.0v6.0h-6.0zM289.3 237.1h6.0v6.0h-6.0zM211.3 285.1h6.0v6.0h-6.0zM283.3 291.1h6.0v6.0h-6.0z"/><path fill="#8d8d8d" d="M289.3 147.1h6.0v6.0h-6.0zM295.3 207.1h6.0v6.0h-6.0zM199.3 321.1h6.0v6.0h-6.0z"/><path fill="#8e8e8e" d="M295.3 177.1h6.0v6.0h-6.0zM283.3 201.1h12.0v6.0h-12.0zM229.3 279.1h6.0v6.0h-6.0zM265.3 303.1h6.0v6.0h-6.0z"/><path fill="#8f8f8f" d="M283.3 153.1h6.0v6.0h-6.0zM277.3 297.1h6.0v6.0h-6.0zM271.3 303.1h6.0v6.0h-6.0z"/><path fill="#909090" d="M289.3 177.1h6.0v6.0h-6.0zM277.3 201.1h6.0v6.0h-6.0zM289.3 231.1h6.0v6.0h-6.0z"/><path fill="#919191" d="M283.3 159.1h6.0v6.0h-6.0zM289.3 207.1h6.0v6.0h-6.0zM289.3 219.1h6.0v6.0h-6.0zM289.3 225.1h6.0v6.0h-6.0zM217.3 273.1h6.0v6.0h-6.0zM223.3 279.1h6.0v6.0h-6.0z"/><path fill="#929292" d="M289.3 213.1h6.0v6.0h-6.0z"/><path fill="#939393" d="M295.3 171.1h6.0v6.0h-6.0zM199.3 315.1h6.0v6.0h-6.0z"/><path fill="#949494" d="M283.3 285.1h6.0v6.0h-6.0zM253.3 297.1h6.0v6.0h-6.0z"/><path fill="#959595" d="M271.3 201.1h6.0v6.0h-6.0zM271.3 297.1h6.0v6.0h-6.0zM205.3 309.1h6.0v6.0h-6.0z"/><path fill="#979797" d="M295.3 153.1h6.0v6.0h-6.0zM295.3 165.1h6.0v6.0h-6.0zM289.3 171.1h6.0v6.0h-6.0zM283.3 207.1h6.0v6.0h-6.0zM241.3 285.1h6.0v6.0h-6.0zM193.3 321.1h6.0v6.0h-6.0z"/><path fill="#999999" d="M295.3 159.1h6.0v6.0h-6.0zM235.3 279.1h6.0v6.0h-6.0z"/><path fill="#9a9a9a" d="M235.3 201.1h6.0v6.0h-6.0z"/><path fill="#9b9b9b" d="M265.3 201.1h6.0v6.0h-6.0zM283.3 279.1h6.0v6.0h-6.0zM277.3 291.1h6.0v6.0h-6.0zM259.3 297.1h6.0v6.0h-6.0z"/><path fill="#9c9c9c" d="M283.3 213.1h6.0v6.0h-6.0zM229.3 273.1h6.0v6.0h-6.0z"/><path fill="#9d9d9d" d="M289.3 165.1h6.0v6.0h-6.0zM241.3 201.1h6.0v6.0h-6.0zM253.3 201.1h12.0v6.0h-12.0zM265.3 297.1h6.0v6.0h-6.0z"/><path fill="#9e9e9e" d="M289.3 153.1h6.0v6.0h-6.0zM283.3 219.1h6.0v6.0h-6.0zM193.3 315.1h6.0v6.0h-6.0z"/><path fill="#9f9f9f" d="M247.3 201.1h6.0v6.0h-6.0zM283.3 243.1h6.0v6.0h-6.0zM205.3 297.1h6.0v6.0h-6.0zM205.3 303.1h6.0v6.0h-6.0z"/><path fill="#a0a0a0" d="M277.3 207.1h6.0v6.0h-6.0zM283.3 249.1h6.0v6.0h-6.0zM199.3 309.1h6.0v6.0h-6.0zM187.3 321.1h6.0v6.0h-6.0z"/><path fill="#a1a1a1" d="M289.3 159.1h6.0v6.0h-6.0zM283.3 225.1h6.0v6.0h-6.0zM283.3 273.1h6.0v6.0h-6.0zM205.3 291.1h6.0v6.0h-6.0zM247.3 291.1h6.0v6.0h-6.0z"/><path fill="#a2a2a2" d="M283.3 237.1h6.0v6.0h-6.0z"/><path fill="#a3a3a3" d="M283.3 231.1h6.0v6.0h-6.0zM211.3 255.1h6.0v6.0h-6.0zM205.3 261.1h6.0v6.0h-6.0zM271.3 291.1h6.0v6.0h-6.0z"/><path fill="#a4a4a4" d="M283.3 255.1h6.0v6.0h-6.0z"/><path fill="#a6a6a6" d="M229.3 207.1h6.0v6.0h-6.0zM199.3 267.1h6.0v6.0h-6.0zM283.3 267.1h6.0v6.0h-6.0z"/><path fill="#a7a7a7" d="M217.3 249.1h6.0v6.0h-6.0zM211.3 261.1h6.0v6.0h-6.0z"/><path fill="#a8a8a8" d="M277.3 213.1h6.0v6.0h-6.0zM217.3 243.1h6.0v6.0h-6.0zM217.3 255.1h6.0v6.0h-6.0zM283.3 261.1h6.0v6.0h-6.0zM217.3 267.1h6.0v6.0h-6.0zM253.3 291.1h6.0v6.0h-6.0zM265.3 291.1h6.0v6.0h-6.0zM193.3 309.1h6.0v6.0h-6.0zM187.3 315.1h6.0v6.0h-6.0z"/><path fill="#a9a9a9" d="M193.3 273.1h6.0v6.0h-6.0zM247.3 285.1h6.0v6.0h-6.0zM277.3 285.1h6.0v6.0h-6.0z"/><path fill="#aaaaaa" d="M217.3 261.1h6.0v6.0h-6.0zM205.3 267.1h6.0v6.0h-6.0z"/><path fill="#ababab" d="M271.3 207.1h6.0v6.0h-6.0zM259.3 291.1h6.0v6.0h-6.0z"/><path fill="#acacac" d="M235.3 273.1h6.0v6.0h-6.0zM241.3 279.1h6.0v6.0h-6.0zM205.3 285.1h6.0v6.0h-6.0zM199.3 303.1h6.0v6.0h-6.0z"/><path fill="#adadad" d="M235.3 207.1h6.0v6.0h-6.0zM277.3 219.1h6.0v6.0h-6.0zM211.3 267.1h6.0v6.0h-6.0z"/><path fill="#aeaeae" d="M223.3 249.1h6.0v6.0h-6.0zM193.3 279.1h6.0v6.0h-6.0zM181.3 315.1h6.0v6.0h-6.0z"/><path fill="#afafaf" d="M277.3 279.1h6.0v6.0h-6.0zM271.3 285.1h6.0v6.0h-6.0z"/><path fill="#b0b0b0" d="M223.3 243.1h6.0v6.0h-6.0zM223.3 255.1h6.0v6.0h-6.0zM199.3 273.1h6.0v6.0h-6.0z"/><path fill="#b1b1b1" d="M223.3 267.1h6.0v6.0h-6.0zM253.3 285.1h6.0v6.0h-6.0zM265.3 285.1h6.0v6.0h-6.0z"/><path fill="#b2b2b2" d="M241.3 207.1h6.0v6.0h-6.0zM277.3 225.1h6.0v6.0h-6.0zM223.3 273.1h6.0v6.0h-6.0zM211.3 279.1h6.0v6.0h-6.0zM187.3 285.1h6.0v6.0h-6.0zM199.3 297.1h6.0v6.0h-6.0z"/><path fill="#b3b3b3" d="M229.3 213.1h6.0v6.0h-6.0zM223.3 261.1h6.0v6.0h-6.0zM187.3 309.1h6.0v6.0h-6.0z"/><path fill="#b4b4b4" d="M223.3 237.1h6.0v6.0h-6.0zM193.3 285.1h12.0v6.0h-12.0zM259.3 285.1h6.0v6.0h-6.0zM181.3 291.1h6.0v6.0h-6.0zM175.3 297.1h6.0v6.0h-6.0zM193.3 303.1h6.0v6.0h-6.0zM175.3 309.1h6.0v6.0h-6.0z"/><path fill="#b5b5b5" d="M253.3 207.1h6.0v6.0h-6.0zM265.3 207.1h6.0v6.0h-6.0zM223.3 225.1h6.0v6.0h-6.0zM199.3 279.1h6.0v6.0h-6.0zM247.3 279.1h6.0v6.0h-6.0zM199.3 291.1h6.0v6.0h-6.0z"/><path fill="#b6b6b6" d="M247.3 207.1h6.0v6.0h-6.0zM271.3 213.1h6.0v6.0h-6.0zM223.3 231.1h6.0v6.0h-6.0zM175.3 303.1h6.0v6.0h-6.0zM181.3 309.1h6.0v6.0h-6.0z"/><path fill="#b7b7b7" d="M259.3 207.1h6.0v6.0h-6.0zM277.3 273.1h6.0v6.0h-6.0zM271.3 279.1h6.0v6.0h-6.0z"/><path fill="#b8b8b8" d="M277.3 231.1h6.0v6.0h-6.0zM187.3 291.1h6.0v6.0h-6.0zM181.3 297.1h6.0v6.0h-6.0z"/><path fill="#b9b9b9" d="M229.3 249.1h6.0v6.0h-6.0zM229.3 267.1h6.0v6.0h-6.0zM205.3 273.1h12.0v6.0h-12.0zM253.3 279.1h6.0v6.0h-6.0zM265.3 279.1h6.0v6.0h-6.0z"/><path fill="#bababa" d="M277.3 237.1h6.0v6.0h-6.0zM277.3 243.1h6.0v6.0h-6.0zM259.3 279.1h6.0v6.0h-6.0zM181.3 303.1h6.0v6.0h-6.0z"/><path fill="#bbbbbb" d="M235.3 213.1h6.0v6.0h-6.0zM271.3 219.1h6.0v6.0h-6.0zM229.3 243.1h6.0v6.0h-6.0zM277.3 249.1h6.0v6.0h-6.0zM193.3 291.1h6.0v6.0h-6.0z"/><path fill="#bcbcbc" d="M229.3 219.1h6.0v6.0h-6.0zM241.3 273.1h6.0v6.0h-6.0zM187.3 297.1h12.0v6.0h-12.0z"/><path fill="#bdbdbd" d="M229.3 255.1h6.0v6.0h-6.0zM187.3 303.1h6.0v6.0h-6.0z"/><path fill="#bebebe" d="M229.3 237.1h6.0v6.0h-6.0zM277.3 255.1h6.0v6.0h-6.0zM205.3 279.1h6.0v6.0h-6.0z"/><path fill="#c0c0c0" d="M265.3 213.1h6.0v6.0h-6.0zM229.3 225.1h6.0v6.0h-6.0zM229.3 231.1h6.0v6.0h-6.0zM271.3 273.1h6.0v6.0h-6.0z"/><path fill="#c1c1c1" d="M271.3 225.1h6.0v6.0h-6.0zM247.3 273.1h24.0v6.0h-24.0z"/><path fill="#c2c2c2" d="M241.3 213.1h6.0v6.0h-6.0zM229.3 261.1h6.0v6.0h-6.0zM235.3 267.1h6.0v6.0h-6.0zM277.3 267.1h6.0v6.0h-6.0z"/><path fill="#c3c3c3" d="M259.3 213.1h6.0v6.0h-6.0zM277.3 261.1h6.0v6.0h-6.0z"/><path fill="#c4c4c4" d="M235.3 219.1h6.0v6.0h-6.0z"/><path fill="#c5c5c5" d="M253.3 213.1h6.0v6.0h-6.0zM265.3 219.1h6.0v6.0h-6.0z"/><path fill="#c6c6c6" d="M271.3 231.1h6.0v6.0h-6.0zM235.3 243.1h6.0v6.0h-6.0zM253.3 267.1h6.0v6.0h-6.0z"/><path fill="#c7c7c7" d="M247.3 213.1h6.0v6.0h-6.0zM235.3 231.1h6.0v6.0h-6.0zM235.3 237.1h6.0v6.0h-6.0zM235.3 249.1h6.0v6.0h-6.0zM259.3 267.1h6.0v6.0h-6.0z"/><path fill="#c8c8c8" d="M259.3 219.1h6.0v6.0h-6.0zM235.3 225.1h6.0v6.0h-6.0zM265.3 225.1h6.0v6.0h-6.0zM271.3 237.1h6.0v6.0h-6.0zM253.3 261.1h6.0v6.0h-6.0zM241.3 267.1h12.0v6.0h-12.0zM265.3 267.1h6.0v6.0h-6.0z"/><path fill="#c9c9c9" d="M241.3 219.1h6.0v6.0h-6.0zM247.3 225.1h18.0v6.0h-18.0zM241.3 231.1h18.0v6.0h-18.0zM247.3 237.1h6.0v6.0h-6.0zM247.3 243.1h24.0v6.0h-24.0zM253.3 249.1h12.0v6.0h-12.0zM253.3 255.1h12.0v6.0h-12.0zM259.3 261.1h6.0v6.0h-6.0zM271.3 267.1h6.0v6.0h-6.0z"/><path fill="#cacaca" d="M253.3 219.1h6.0v6.0h-6.0zM241.3 225.1h6.0v6.0h-6.0zM241.3 237.1h6.0v6.0h-6.0zM253.3 237.1h12.0v6.0h-12.0zM241.3 243.1h6.0v6.0h-6.0zM271.3 243.1h6.0v6.0h-6.0zM247.3 249.1h6.0v6.0h-6.0zM271.3 249.1h6.0v6.0h-6.0zM235.3 255.1h6.0v6.0h-6.0zM271.3 255.1h6.0v6.0h-6.0zM247.3 261.1h6.0v6.0h-6.0z"/><path fill="#cbcbcb" d="M247.3 219.1h6.0v6.0h-6.0zM259.3 231.1h12.0v6.0h-12.0zM265.3 237.1h6.0v6.0h-6.0zM241.3 249.1h6.0v6.0h-6.0zM265.3 249.1h6.0v6.0h-6.0zM247.3 255.1h6.0v6.0h-6.0zM265.3 261.1h6.0v6.0h-6.0z"/><path fill="#cccccc" d="M265.3 255.1h6.0v6.0h-6.0zM235.3 261.1h6.0v6.0h-6.0zM271.3 261.1h6.0v6.0h-6.0z"/><path fill="#cdcdcd" d="M241.3 255.1h6.0v6.0h-6.0zM241.3 261.1h6.0v6.0h-6.0z"/></g></g>
<use href="#land"/>
<use href="#dots"/>
<use href="#axl"/>
<path d="M432.3,64.8 L444.0,59.1 L455.7,64.8Z" fill="#fcb67e" stroke="#444" stroke-width="0.5"/>
<path d="M432.3,406.0 L444.0,411.7 L455.7,406.0Z" fill="#eccde6" stroke="#444" stroke-width="0.5"/>
<rect x="432.3" y="64.5" width="23.40" height="341.80" fill="url(#cbM)"/>
<path d="M432.3,64.5 V406.3 M455.7,64.5 V406.3" stroke="#444" stroke-width="0.6" fill="none"/>
<text transform="translate(465.6,73.8) scale(1,1.04)" font-size="29">30</text>
<path d="M432.3,123.4 h4.6 M455.7,123.4 h-4.6" stroke="#333" stroke-width="0.8" fill="none"/>
<text transform="translate(465.6,132.7) scale(1,1.04)" font-size="29">25</text>
<path d="M432.3,182.4 h4.6 M455.7,182.4 h-4.6" stroke="#333" stroke-width="0.8" fill="none"/>
<text transform="translate(465.6,191.7) scale(1,1.04)" font-size="29">20</text>
<path d="M432.3,241.3 h4.6 M455.7,241.3 h-4.6" stroke="#333" stroke-width="0.8" fill="none"/>
<text transform="translate(465.6,250.6) scale(1,1.04)" font-size="29">15</text>
<path d="M432.3,300.2 h4.6 M455.7,300.2 h-4.6" stroke="#333" stroke-width="0.8" fill="none"/>
<text transform="translate(465.6,309.5) scale(1,1.04)" font-size="29">10</text>
<path d="M432.3,359.2 h4.6 M455.7,359.2 h-4.6" stroke="#333" stroke-width="0.8" fill="none"/>
<text transform="translate(465.6,368.5) scale(1,1.04)" font-size="29">5</text>
<text transform="translate(430.8,401.6) rotate(-90)" font-size="18.6" textLength="126" lengthAdjust="spacingAndGlyphs">Ocean Data View</text>
<text class="b" transform="translate(364.5,374.8) scale(1,1.08)" font-size="27.6">H</text>
</g>
<text transform="translate(-0.3,28.3) scale(1,1.04)" font-size="38" word-spacing="1.5" letter-spacing="0.2" style="white-space:pre">Temperature</text><text transform="translate(204.1,28.3) scale(1,1.04)" font-size="38" word-spacing="1.5" letter-spacing="0" style="white-space:pre"><tspan dy="1.6">[</tspan></text><circle cx="224.4" cy="2.5" r="2.5" fill="none" stroke="#000" stroke-width="1.0"/><text x="227.4" y="27.5" font-size="41" textLength="26.5" lengthAdjust="spacingAndGlyphs" stroke="#fff" stroke-width="0.45">C</text><text transform="translate(255.7,28.3) scale(1,1.04)" font-size="38" word-spacing="1.5" letter-spacing="0" style="white-space:pre"><tspan dy="1.6">]</tspan></text><text transform="translate(276.9,28.3) scale(1,1.04)" font-size="38" word-spacing="1.5" letter-spacing="0" style="white-space:pre">@ Depth <tspan dy="1.6">[</tspan><tspan dy="-1.6">m</tspan><tspan dy="1.6">]</tspan><tspan dy="-1.6">=first</tspan></text>
<text transform="translate(625.4,28.3) scale(1,1.04)" font-size="38" word-spacing="1.5" letter-spacing="0.2" style="white-space:pre">Temperature</text><text transform="translate(829.8,28.3) scale(1,1.04)" font-size="38" word-spacing="1.5" letter-spacing="0" style="white-space:pre"><tspan dy="1.6">[</tspan></text><circle cx="850.1" cy="2.5" r="2.5" fill="none" stroke="#000" stroke-width="1.0"/><text x="853.1" y="27.5" font-size="41" textLength="26.5" lengthAdjust="spacingAndGlyphs" stroke="#fff" stroke-width="0.45">C</text><text transform="translate(881.4,28.3) scale(1,1.04)" font-size="38" word-spacing="1.5" letter-spacing="0" style="white-space:pre"><tspan dy="1.6">]</tspan></text><text transform="translate(902.6,28.3) scale(1,1.04)" font-size="38" word-spacing="1.5" letter-spacing="0" style="white-space:pre">@ Depth <tspan dy="1.6">[</tspan><tspan dy="-1.6">m</tspan><tspan dy="1.6">]</tspan><tspan dy="-1.6">=last</tspan></text>
<text transform="translate(82.3,497.2) scale(1,1.04)" font-size="38" word-spacing="1.5" letter-spacing="0" style="white-space:pre">Salinity @ Depth <tspan dy="1.6">[</tspan><tspan dy="-1.6">m</tspan><tspan dy="1.6">]</tspan><tspan dy="-1.6">=first</tspan></text>
<text transform="translate(687.1,497.2) scale(1,1.04)" font-size="38" word-spacing="1.5" letter-spacing="0" style="white-space:pre">Salinity @ Depth <tspan dy="1.6">[</tspan><tspan dy="-1.6">m</tspan><tspan dy="1.6">]</tspan><tspan dy="-1.6">=last</tspan></text>
<text transform="translate(53.6,974.1) scale(1,1.04)" font-size="38" word-spacing="1.5" letter-spacing="0" style="white-space:pre">SPM <tspan dy="1.6">[</tspan><tspan dy="-1.6">mg/L</tspan><tspan dy="1.6">]</tspan><tspan dy="-1.6"> @ Depth </tspan><tspan dy="1.6">[</tspan><tspan dy="-1.6">m</tspan><tspan dy="1.6">]</tspan><tspan dy="-1.6">=first</tspan></text>
<text transform="translate(637.5,966.9) scale(1,1.04)" font-size="38" word-spacing="1.5" letter-spacing="0" style="white-space:pre">SPM <tspan dy="1.6">[</tspan><tspan dy="-1.6">mg/L</tspan><tspan dy="1.6">]</tspan><tspan dy="-1.6"> @ Depth </tspan><tspan dy="1.6">[</tspan><tspan dy="-1.6">m</tspan><tspan dy="1.6">]</tspan><tspan dy="-1.6">=last</tspan></text>
<text transform="translate(75.3,1434.1) scale(1,1.04)" font-size="38" word-spacing="1.5" letter-spacing="0" style="white-space:pre">Mn <tspan dy="1.6">[</tspan><tspan dy="-1.6">nM</tspan><tspan dy="1.6">]</tspan><tspan dy="-1.6"> @ Depth </tspan><tspan dy="1.6">[</tspan><tspan dy="-1.6">m</tspan><tspan dy="1.6">]</tspan><tspan dy="-1.6">=first</tspan></text>
<text transform="translate(677.5,1440.4) scale(1,1.04)" font-size="38" word-spacing="1.5" letter-spacing="0" style="white-space:pre">Mn <tspan dy="1.6">[</tspan><tspan dy="-1.6">nM</tspan><tspan dy="1.6">]</tspan><tspan dy="-1.6"> @ Depth </tspan><tspan dy="1.6">[</tspan><tspan dy="-1.6">m</tspan><tspan dy="1.6">]</tspan><tspan dy="-1.6">=last</tspan></text>
</svg></body></html>
